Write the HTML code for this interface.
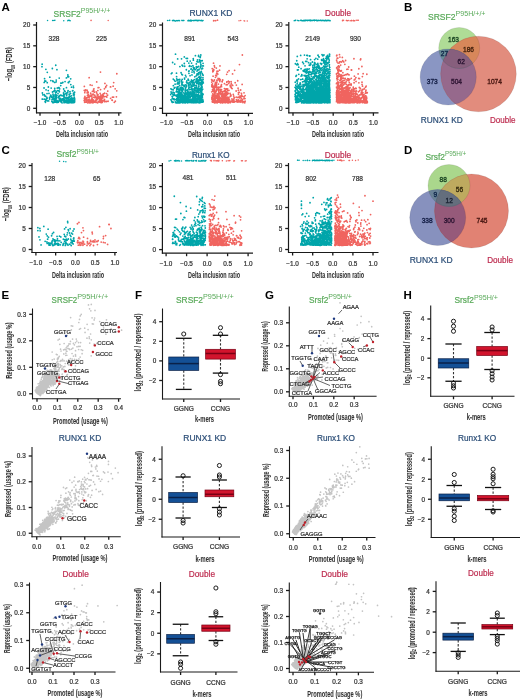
<!DOCTYPE html>
<html><head><meta charset="utf-8"><style>html,body{margin:0;padding:0;background:#fff;}svg{display:block;will-change:transform;}</style></head><body>
<svg width="520" height="699" viewBox="0 0 520 699" font-family="&quot;Liberation Sans&quot;, sans-serif">
<rect width="520" height="699" fill="#fff"/>
<text x="1.5" y="10.5" font-size="11.5" font-weight="bold" fill="#000">A</text>
<text x="53.5" y="16.84" font-size="9" fill="#5aaa5a" stroke="#5aaa5a" stroke-width="0.22"><tspan textLength="27.3" lengthAdjust="spacingAndGlyphs">SRSF2</tspan><tspan font-size="6.8" dy="-3.9" stroke-width="0" textLength="29.5" lengthAdjust="spacingAndGlyphs">P95H/+/+</tspan></text>
<text x="189.4" y="16.44" font-size="9" fill="#2d4f78" stroke="#2d4f78" stroke-width="0.22"><tspan textLength="43" lengthAdjust="spacingAndGlyphs">RUNX1 KD</tspan><tspan font-size="6" dy="-3.9" stroke-width="0"></tspan></text>
<text x="325" y="16.3" font-size="9" fill="#be2d50" textLength="26" lengthAdjust="spacingAndGlyphs" stroke="#be2d50" stroke-width="0.22" >Double</text>
<path d="M71.52 95.87h0M63.48 99.85h0M64.08 102.63h0M73.21 102.25h0M57.41 102h0M61.57 83.22h0M66.39 77.96h0M56.75 100.61h0M72.21 100.43h0M52.51 92h0M66.9 97.6h0M73.43 101.35h0M65.74 100.37h0M65.21 100.51h0M60.08 101.02h0M63.7 89.02h0M68.66 76.76h0M65.94 93.45h0M64.46 102.62h0M58.71 97.21h0M51.17 88.04h0M62.56 98.83h0M42.81 94.86h0M73.41 94.83h0M53.93 91.39h0M66.62 95.52h0M65.03 101.66h0M73.44 93.14h0M69.5 99.58h0M53.34 95.43h0M56.23 91.48h0M51.55 96.18h0M56.21 81.8h0M70.99 101.13h0M64.55 96.96h0M74.59 99.27h0M62.85 82.5h0M63.91 96.48h0M73.54 87.57h0M56.41 92.23h0M66.34 102.16h0M73.37 102.42h0M71.28 100.12h0M74.67 101.79h0M67.08 102.71h0M47.52 100.88h0M67.42 99.87h0M56.94 69.72h0M64.57 102.29h0M67.52 100.84h0M52.69 102.59h0M48.63 100.9h0M74.11 97.88h0M44.03 88h0M67.01 101.67h0M63.55 92.82h0M70.01 91.77h0M44.18 82.39h0M45.8 99.67h0M67.25 102.69h0M68.84 100.89h0M54.7 98.94h0M42.15 64.14h0M70.07 101.17h0M70.4 96.37h0M44.36 94.73h0M57.97 102.3h0M55.67 92.73h0M64.69 101.58h0M67.73 92.13h0M50.25 96.47h0M46.01 100.56h0M71.52 87.21h0M52.82 81h0M46.94 97.5h0M71.94 102.79h0M47.04 93.54h0M49.8 77.22h0M52.23 99.26h0M69.65 97h0M65.92 101.95h0M50.73 95.23h0M55.79 99.25h0M48.97 93.4h0M74.28 99.02h0M74.59 92.19h0M64.78 94.28h0M67.86 98.02h0M58.29 102.14h0M69.48 100.72h0M64.07 97.39h0M55.62 98.98h0M64.12 98.1h0M65.23 97.81h0M55.01 94.88h0M42.85 99.13h0M54.97 90.67h0M72.13 99h0M69.65 102.38h0M58.3 87.74h0M59.72 95.69h0M56.24 80.04h0M54.78 99.5h0M54 90.98h0M65.66 98.06h0M70.58 100.33h0M74.27 97.5h0M74.29 100.2h0M63.97 102.44h0M45.11 101.5h0M73.85 92.83h0M71.97 99.23h0M44.67 99.15h0M55.48 97.25h0M72.8 102.49h0M65.79 102.38h0M47.25 82.67h0M56.79 102.43h0M49.56 97.71h0M55.32 100.81h0M63.67 101.07h0M71.3 102.54h0M68.16 100.46h0M68.62 98.27h0M67.43 102.76h0M74.35 94.08h0M70.72 98.59h0M53.15 81.53h0M64.34 90.89h0M64.09 95.13h0M50.85 80.58h0M61.39 99.43h0M73.54 101.96h0M59.2 100.92h0M72.91 90.62h0M46.76 98.75h0M68.55 98.79h0M65.36 100.85h0M42.39 92.99h0M54.51 100.42h0M74.65 99.68h0M64.17 101.39h0M74.57 100.84h0M66.33 102.6h0M68.32 101.12h0M63.62 93.63h0M59.72 88.81h0M67.86 75.02h0M59.55 96.02h0M57.23 88.06h0M59.35 91.74h0M63.73 98.21h0M44.88 81.01h0M56.03 95.23h0M69.87 102.67h0M67.14 102.15h0M48.25 90.54h0M60.46 98.41h0M58.01 93.69h0M63.5 95.71h0M59.29 100.95h0M69.13 94.18h0M59.22 78.1h0M66.68 98.54h0M58.66 96.49h0M73.05 101.82h0M59.15 100.47h0M74.41 102.47h0M60.64 95.03h0M68.6 98.04h0M64.93 102.04h0M52.34 68.49h0M65.09 91.46h0M49.61 98.98h0M54.93 101.31h0M71.71 97.94h0M52.94 81.44h0M56.15 94.79h0M55.93 98.45h0M74.6 98.38h0M68.37 101.87h0M68.07 90.66h0M59 90.71h0M55.33 94.57h0M51.43 97.07h0M53.82 96.96h0M65.73 100.74h0M72.55 90.89h0M55.14 100.97h0M64 101.48h0M54.71 88.51h0M47.3 72.31h0M48.37 87h0M59.38 98.89h0M61.21 100.64h0M55.32 101.98h0M67.5 100.53h0M54.28 100.88h0M68.39 97.45h0M71.18 101.71h0M55.75 98.31h0M55.75 65.25h0M71.76 101.46h0M67.53 102.25h0M69.28 97.27h0M45.66 96.23h0M63.73 99.73h0M73.38 100.72h0M52.99 94.14h0M56.65 101.26h0M69.48 99.48h0M54.75 90.3h0M53.71 102.48h0M55.97 98.61h0M74.67 99.57h0M44.58 78.72h0M51.86 101.44h0M63.76 95.25h0M46.05 89.86h0M65.12 97.54h0M58.34 101.12h0M47.1 98.36h0M69.41 96.15h0M72.33 102.4h0M62.5 99.61h0M62.12 102.82h0M65.05 81.61h0M56.22 98.59h0M69.51 81.33h0M68.25 102.74h0M60.59 99.26h0M60.74 85.61h0M73.96 100.14h0M60.42 101.41h0M59.24 98.2h0M54.42 100.4h0M52.03 99.76h0M68.51 82.66h0M70.76 101.2h0M60.78 83.09h0M66.46 101.29h0M52.86 102.22h0M66.46 87.66h0M45.9 69.37h0M70.8 84.58h0M74.01 95.61h0M66.86 100.2h0M74.61 100.7h0M54.72 102.01h0M52.26 97.37h0M44.63 95.81h0M64.79 99.78h0M52.4 97.23h0M53.66 96.28h0M45.42 102.37h0M73.37 86.05h0M59.07 87.64h0M68.99 81.81h0M69.2 94.48h0M68.92 102.86h0M55.53 96.19h0M53.7 99.56h0M54.69 82.38h0M69.43 99.14h0M55.29 101.54h0M45.82 81.27h0M61.99 100.24h0M67.12 92.73h0M70.55 93.57h0M73.32 102.66h0M67.87 76.73h0M42.16 99.04h0M72.66 98.29h0M65.34 101.11h0M61.72 95.41h0M56.99 95.61h0M57.11 100.57h0M66.88 93.96h0M69.51 101.01h0M56.21 97.13h0M66.4 70.32h0M69.84 91.87h0M53.98 102.17h0M57.57 90.65h0M53.61 98.54h0M70.71 78.82h0M55.25 99.78h0M49.61 99.12h0M54.92 102.14h0M61.73 101.25h0M71.72 101.37h0M62.15 95.86h0M74.43 100.24h0M70.81 100.39h0M58.06 97.59h0M72.55 99.53h0M61.32 102.25h0M60.15 99.37h0M68.25 82.48h0M62.84 99.94h0" stroke="#00a5aa" stroke-width="1.8" stroke-linecap="round" fill="none"/>
<path d="M100.47 72.08h0M87.86 95.84h0M84.24 90.33h0M99.64 100.06h0M108.08 101.26h0M94.56 97.34h0M103.63 93.97h0M93.67 102.03h0M93.98 88.82h0M93.4 94.04h0M104.71 101.64h0M116.39 96.85h0M101.64 100.23h0M110.45 86.94h0M98.99 101.53h0M100.13 93.32h0M88.25 100.12h0M91.38 102.17h0M97.84 90.56h0M94.76 95.22h0M99.98 102.21h0M94.53 97.55h0M92.07 98.15h0M96.59 99.68h0M84.57 97.66h0M88.58 95.08h0M92.8 101.81h0M86.15 102.14h0M85.86 99.73h0M84.9 97.41h0M98 94.75h0M85.15 99.09h0M102.11 102.09h0M116.76 90.82h0M104.67 96.68h0M115.34 101.23h0M101.73 102.52h0M98.43 101.95h0M105.61 87.39h0M93.63 89.22h0M89.1 99.07h0M84.82 101.8h0M101.84 96.72h0M104.4 88.81h0M94.16 97.41h0M100.64 98.5h0M100.82 102.29h0M110.6 98.29h0M89.14 77.67h0M90.94 95.05h0M87.47 95.52h0M99.63 101.3h0M102.74 98.11h0M90.04 102.88h0M86.95 97.7h0M93.82 90.65h0M88.43 97.15h0M84.18 100.51h0M90.88 101.51h0M95.27 101.65h0M93.11 102.1h0M105.24 101.4h0M96.2 91.78h0M91.73 101.22h0M96.33 98.41h0M96.34 99.71h0M112.26 100.27h0M103.28 95.94h0M88.62 102.56h0M84.36 98.55h0M104.13 100.85h0M93.72 97.33h0M104.47 99.49h0M85.05 90.97h0M97.66 102.85h0M112.45 97.15h0M92.69 101.5h0M88.52 102.67h0M98.31 96.45h0M111.9 100.05h0M92.37 94.48h0M89.15 97.32h0M104.93 83.45h0M89.05 101.43h0M101.99 95.46h0M100.77 100.73h0M101.29 97.49h0M96.71 81.96h0M100.01 96.41h0M107.74 91.07h0M89.95 101.6h0M85.6 89.8h0M84.64 102.27h0M106.5 101.48h0M84.92 96.5h0M97.31 95.66h0M95.3 100.44h0M113.69 82.55h0M100.54 89.58h0M103.8 100.78h0M84.78 92.7h0M110.67 86.91h0M89.56 102.32h0M98.45 101.64h0M92.14 102.77h0M89.47 96.07h0M90.2 84.89h0M100.23 97.67h0M91.94 99.78h0M90.69 96.28h0M88.22 92.15h0M99.63 101.87h0M87.95 95.11h0M103.05 96.7h0M99.2 101.78h0M90.69 93.23h0M101.98 101.08h0M97.36 99.15h0M96.17 102.43h0M97.31 94.51h0M90.85 100.11h0M100.97 102.4h0M103.16 100.77h0M101.17 99.12h0M100.85 101.45h0M94.18 95.28h0M96.35 100.57h0M87.07 92.86h0M98.16 101.88h0M98.76 98.2h0M92.87 91.17h0M87.75 100.94h0M100.08 101.98h0M88.81 100.74h0M87.17 100.73h0M102.57 95.82h0M102.33 102.31h0M102.73 94.31h0M92.35 101.7h0M86.15 101.63h0M84.77 100.13h0M97.24 99.13h0M92.89 102.06h0M91.78 95.57h0M107.64 95.07h0M92.09 101.48h0M100.77 94.83h0M100.25 96.72h0M92.71 100.85h0M85.98 99.94h0M97.62 97.51h0M92.14 99.6h0M91.87 96.8h0M104.56 93.15h0M91.48 99.24h0M103.24 95.7h0M98.91 87.6h0M86.04 98.26h0M97.69 99h0M99.81 98.89h0M102.06 101.61h0M91.55 95.1h0M102.75 100.51h0M89.32 100.12h0M92.04 99.93h0M90.79 101.22h0M98.15 87.66h0M88.27 94.13h0M88.14 102.14h0M99.44 97.44h0M94.76 101.5h0M106.6 93.55h0M113.63 97.1h0M94.5 102.16h0M106.62 85.46h0M91.24 101.3h0M87.64 102.87h0M89.45 101.36h0M93.2 99.86h0M96.6 100.45h0M114.28 102.35h0M115.17 88.84h0M99.85 97.46h0M84.35 86.47h0M88.86 102.31h0M88.55 94.78h0M87.02 90.19h0M87.3 90.88h0M98.9 96.91h0M113.16 86.16h0M97.23 98.79h0M92.42 91.28h0M89.13 101.44h0M93.45 102.56h0M86.86 99.23h0M94.33 92.13h0M100.03 99.47h0M96.71 92.94h0M92.05 85.37h0M96.18 97.41h0M95.66 96.67h0M106.31 96.34h0M101.1 102.7h0M95.95 100.65h0M106.78 96.99h0M98.7 101.6h0M92.12 98.51h0M105.83 86.77h0M93.65 101.17h0M102.57 97.13h0" stroke="#f0645f" stroke-width="1.8" stroke-linecap="round" fill="none"/>
<path d="M41.97 66.65h0" stroke="#00a5aa" stroke-width="1.8" stroke-linecap="round" fill="none"/>
<path d="M116.83 73.73h0" stroke="#f0645f" stroke-width="1.8" stroke-linecap="round" fill="none"/>
<path d="M47.58 20.4h0" stroke="#00a5aa" stroke-width="1.5" stroke-linecap="round" fill="none"/>
<path d="M52.59 20.38h0M53.93 20.58h0M54.92 20.22h0" stroke="#00a5aa" stroke-width="1.5" stroke-linecap="round" fill="none"/>
<path d="M63.72 20.73h0" stroke="#00a5aa" stroke-width="1.5" stroke-linecap="round" fill="none"/>
<path d="M69.18 20.23h0M68.2 20.2h0M67.76 20.75h0M69.43 20.59h0M70.16 20.75h0" stroke="#00a5aa" stroke-width="1.5" stroke-linecap="round" fill="none"/>
<path d="M91.06 20.57h0M91.13 20.62h0M90.98 20.61h0" stroke="#f0645f" stroke-width="1.5" stroke-linecap="round" fill="none"/>
<path d="M108.21 20.6h0" stroke="#f0645f" stroke-width="1.5" stroke-linecap="round" fill="none"/>
<line x1="36.5" y1="22" x2="36.5" y2="113.3" stroke="#1a1a1a" stroke-width="1.2" />
<line x1="36" y1="112.8" x2="121.5" y2="112.8" stroke="#1a1a1a" stroke-width="1.2" />
<line x1="33.2" y1="108.3" x2="36.5" y2="108.3" stroke="#1a1a1a" stroke-width="1.3" />
<text x="30.2" y="110.6" font-size="6.4" fill="#333" text-anchor="end" stroke="#333" stroke-width="0.22" >0</text>
<line x1="33.2" y1="87.47" x2="36.5" y2="87.47" stroke="#1a1a1a" stroke-width="1.3" />
<text x="30.2" y="89.78" font-size="6.4" fill="#333" text-anchor="end" stroke="#333" stroke-width="0.22" >5</text>
<line x1="33.2" y1="66.65" x2="36.5" y2="66.65" stroke="#1a1a1a" stroke-width="1.3" />
<text x="30.2" y="68.95" font-size="6.4" fill="#333" text-anchor="end" stroke="#333" stroke-width="0.22" >10</text>
<line x1="33.2" y1="45.82" x2="36.5" y2="45.82" stroke="#1a1a1a" stroke-width="1.3" />
<text x="30.2" y="48.13" font-size="6.4" fill="#333" text-anchor="end" stroke="#333" stroke-width="0.22" >15</text>
<line x1="33.2" y1="25" x2="36.5" y2="25" stroke="#1a1a1a" stroke-width="1.3" />
<text x="30.2" y="27.3" font-size="6.4" fill="#333" text-anchor="end" stroke="#333" stroke-width="0.22" >20</text>
<line x1="40" y1="112.8" x2="40" y2="115.8" stroke="#1a1a1a" stroke-width="1.3" />
<text x="40" y="124.8" font-size="6.4" fill="#333" text-anchor="middle" stroke="#333" stroke-width="0.22" >−1.0</text>
<line x1="59.7" y1="112.8" x2="59.7" y2="115.8" stroke="#1a1a1a" stroke-width="1.3" />
<text x="59.7" y="124.8" font-size="6.4" fill="#333" text-anchor="middle" stroke="#333" stroke-width="0.22" >−0.5</text>
<line x1="79.4" y1="112.8" x2="79.4" y2="115.8" stroke="#1a1a1a" stroke-width="1.3" />
<text x="79.4" y="124.8" font-size="6.4" fill="#333" text-anchor="middle" stroke="#333" stroke-width="0.22" >0.0</text>
<line x1="99.1" y1="112.8" x2="99.1" y2="115.8" stroke="#1a1a1a" stroke-width="1.3" />
<text x="99.1" y="124.8" font-size="6.4" fill="#333" text-anchor="middle" stroke="#333" stroke-width="0.22" >0.5</text>
<line x1="118.8" y1="112.8" x2="118.8" y2="115.8" stroke="#1a1a1a" stroke-width="1.3" />
<text x="118.8" y="124.8" font-size="6.4" fill="#333" text-anchor="middle" stroke="#333" stroke-width="0.22" >1.0</text>
<text x="82" y="137.37" font-size="8.8" fill="#333" text-anchor="middle" font-weight="bold" textLength="52" lengthAdjust="spacingAndGlyphs" stroke="#333" stroke-width="0.05" >Delta inclusion ratio</text>
<text x="54" y="41.13" font-size="6.6" fill="#333" text-anchor="middle" stroke="#333" stroke-width="0.22" >328</text>
<text x="101.4" y="41.13" font-size="6.6" fill="#333" text-anchor="middle" stroke="#333" stroke-width="0.22" >225</text>
<path d="M183.07 101.84h0M202.41 74.05h0M185.93 98.07h0M182.44 94.91h0M195.35 94.93h0M191.92 89.82h0M201.94 86.97h0M200.23 73.46h0M178.92 97.42h0M193.08 90.97h0M177.26 96.97h0M200.68 84.24h0M199.36 102.62h0M185.18 101.55h0M176.49 73.19h0M202.93 77.76h0M183.85 100.82h0M182.77 90.73h0M183.95 102.01h0M184.5 96.66h0M196.63 83.58h0M203.01 82.02h0M201.28 96h0M198.98 69.72h0M201.81 94.23h0M191.71 88.62h0M182.15 98.55h0M186.62 97.11h0M182.45 74.87h0M188.29 99h0M177.44 91.74h0M194.55 89.79h0M171.91 89.49h0M191.98 74.95h0M185.15 93.44h0M181.88 99.7h0M196.39 94.58h0M181.65 82.06h0M181.19 87.07h0M188.16 99.31h0M181.89 91.84h0M194.16 101.65h0M182.15 100.73h0M178.57 100.43h0M185.34 96.43h0M196.61 81.65h0M191.15 101.75h0M182.82 100.31h0M179.5 82.81h0M190.7 92.05h0M198.27 99.63h0M193.73 91.56h0M189.62 100.99h0M176.83 98.59h0M186.54 86.4h0M187.48 98.25h0M202.85 102.21h0M171.65 93.17h0M196.43 79.99h0M178.18 89.48h0M177.72 100.2h0M198.04 99.66h0M202.04 87.35h0M191.19 66.44h0M201.69 85.76h0M200.2 97.63h0M186.33 69.73h0M192.92 95.03h0M177.66 58.9h0M202.37 97.17h0M179.34 81.11h0M202.15 73.33h0M186.17 58.34h0M199.54 78.69h0M185.36 99.23h0M183.2 101.79h0M196.55 100.87h0M198.91 98.32h0M185.34 102.75h0M198.2 102.29h0M197.52 59.83h0M179.72 101.49h0M200.82 54.99h0M186.65 96.45h0M181.47 96.71h0M199.6 98.56h0M184.38 94.77h0M180.2 99.99h0M199.25 97.51h0M194.49 100.31h0M194.92 69.55h0M177.32 102.35h0M185.59 100.43h0M195.77 98.48h0M193.69 67.63h0M195.69 69.55h0M184.04 99.42h0M176.72 78.9h0M199.67 102.85h0M189.37 100.5h0M179.1 100.61h0M199.72 99.44h0M184.44 100.68h0M201.07 85.7h0M196.1 99.43h0M184.54 86.02h0M198.01 101.79h0M192.52 86.24h0M181.8 98.98h0M180.36 96.52h0M179.14 96.9h0M196.3 99.78h0M193.62 100.46h0M187.55 102.83h0M191.52 93.79h0M184.36 85.83h0M194.85 85.21h0M183.38 102.26h0M177.97 96.61h0M189.26 93.96h0M177.62 100.56h0M200.66 97.69h0M202.6 100.91h0M198.2 102.59h0M188.04 94.64h0M200.66 66.2h0M202.2 100.37h0M190.05 98.98h0M192.59 100.96h0M180.45 101.39h0M183.5 101.11h0M178.41 98.35h0M181.02 95.84h0M178.31 89.08h0M196.99 96.56h0M177.25 87.93h0M181.68 84.94h0M189.61 65.76h0M196.76 94.46h0M193.69 92.59h0M191.86 93.96h0M199.68 76.95h0M186.52 85.25h0M179.82 102.56h0M196.32 85.76h0M188.95 73.28h0M196.72 91.62h0M178.06 99.77h0M186.14 101.53h0M177.92 96.26h0M190.97 93.5h0M200.1 100.41h0M192.57 98.45h0M201.06 88.41h0M187.14 93.74h0M198.04 82.84h0M188.8 92.06h0M195.13 98.89h0M189.74 97.2h0M203.08 94.23h0M197.04 90.25h0M195.81 97.71h0M199.17 101.71h0M191.67 102.08h0M191.68 86.12h0M197.4 81.73h0M194.42 96.8h0M186.98 82.43h0M189.6 87.15h0M183.15 96.57h0M184.52 78.03h0M180.19 102.85h0M187.79 95.27h0M173.78 95h0M180.14 94.15h0M191.35 95.26h0M195.59 95.62h0M193.15 97.71h0M180.76 96.37h0M198.49 96.91h0M188.06 93.18h0M178.88 99.27h0M181.06 72.75h0M192.04 72.03h0M202.14 86.96h0M178.87 89.18h0M176.79 96.21h0M185.14 97.83h0M187.55 98.14h0M173.05 92.03h0M193.42 95.99h0M188.1 79.24h0M174.34 94.43h0M176.85 99.03h0M181.66 101.1h0M177.32 86.85h0M200.45 62.71h0M181.53 58.82h0M192.18 100.7h0M189.77 94.6h0M198.54 86.46h0M193.99 88.96h0M192.44 82.79h0M184.99 102.85h0M180.96 94.56h0M198.16 91.68h0M196.31 87.18h0M176.83 95.06h0M200.16 99.88h0M200.56 100.99h0M189.48 82.67h0M181.9 102.27h0M182.86 99.09h0M193.97 100.33h0M200.75 60.54h0M194.1 94.62h0M201.94 60.88h0M177.83 97.57h0M196.76 102.19h0M180.62 99.33h0M181.66 99.43h0M177.82 96.6h0M175.77 95.68h0M197.5 97.03h0M190.49 83.86h0M198.78 95.49h0M177.51 99.74h0M200.34 89.32h0M192.65 102h0M181.39 98.78h0M198.3 97.43h0M202.47 81.71h0M199.25 82.08h0M196.21 75.81h0M191.59 80.14h0M199.16 95.51h0M193.36 60.17h0M178.06 96.43h0M191.34 101.14h0M196.45 68.01h0M193.59 99.05h0M197.74 69.98h0M189.73 93.68h0M182.83 98.16h0M188.27 98.71h0M201.11 99.31h0M194.84 87.42h0M188.42 97.83h0M195.49 101.89h0M197.37 100.76h0M195.87 95.23h0M182.75 82.05h0M199.88 97.24h0M185.29 91.67h0M192.4 88.94h0M196.78 74.05h0M186.64 100.74h0M179.08 90.64h0M202.32 102.1h0M198.12 97.02h0M202.35 95.69h0M198.61 72.59h0M184.3 99.93h0M185.16 98.48h0M181.17 88.7h0M202.26 65.86h0M202.14 97.52h0M182.31 100.61h0M183.43 102h0M192.91 84.71h0M195.91 101.49h0M174.73 64.08h0M183.72 85.32h0M191.33 102.19h0M191.98 93.74h0M200 77.73h0M184.67 86.28h0M188.84 63.04h0M188.9 99.6h0M193.86 95.62h0M195.12 100.77h0M185.54 100.07h0M189.67 95.97h0M194.03 97.98h0M199.62 88.59h0M181.67 95.31h0M198.89 84.49h0M191.11 84.93h0M200.35 96.81h0M197.9 101.88h0M198.15 83.23h0M200.39 95.9h0M193.73 100.38h0M203.11 75.23h0M184.29 63.49h0M200.5 90.87h0M198.34 90.06h0M178.89 93.34h0M178.48 93.15h0M196.84 100.58h0M182.76 85.09h0M198.45 86.16h0M178.7 101.18h0M181.27 90.03h0M198.48 74.14h0M193.58 92.03h0M181.24 100.29h0M188.29 91.78h0M184.6 79.05h0M174.29 92.79h0M195.42 90.22h0M185.07 101.06h0M177.55 102.02h0M191.69 100.21h0M203.33 65.95h0M182.43 97.53h0M185.77 95.35h0M194.37 94.82h0M181.39 80.63h0M195.52 94.33h0M194.12 99.88h0M194.77 94.13h0M171.32 73.65h0M170.9 88.79h0M201.8 81.58h0M195.48 90.53h0M174.38 87.69h0M194.25 72.8h0M198.37 84.27h0M201.13 83.05h0M187.92 96.91h0M188.35 97.21h0M198.59 66.36h0M200.41 67.55h0M200.87 89.14h0M190.36 93.17h0M188.14 101.55h0M187.72 101.96h0M201.44 92.12h0M188.73 88.61h0M200.35 80.15h0M181.27 98.17h0M177.82 95.28h0M199.75 76.91h0M197.09 95.64h0M187.56 100.26h0M184.55 97.28h0M186.85 80.79h0M178.95 83.98h0M183.53 98.76h0M185.26 84.92h0M193.46 84.86h0M172.72 102.24h0M200.74 88.5h0M200.39 56.66h0M196.61 99.61h0M181.06 94.66h0M202.84 100.58h0M198.46 89.58h0M185.09 97.98h0M180.07 95.67h0M181.86 74.46h0M194.28 100.61h0M180.13 87.83h0M198.54 74.72h0M192.94 94.35h0M180.88 98.17h0M187.12 102.03h0M197.64 67.17h0M202.24 99.31h0M190.93 92.32h0M193.97 102.8h0M194.5 102.59h0M177.11 102.46h0M185.52 99.59h0M190.07 99.27h0M189.32 66.36h0M176.67 90.9h0M180.15 88.98h0M186.49 98.09h0M182.2 83.04h0M185.24 99.16h0M183.69 95.84h0M194.06 91.84h0M201.79 95.12h0M177.06 96.87h0M196.91 98.75h0M199.79 102.76h0M191.32 95.54h0M195.34 100.2h0M195.37 97.53h0M188.71 71.35h0M178.85 94.8h0M198.64 88.48h0M175.14 81.18h0M180.26 102.23h0M179.44 99.89h0M202.79 99.35h0M184.63 100.39h0M198.06 87.93h0M186.13 100.58h0M177.73 94.45h0M181.83 82.96h0M199.76 99.27h0M180.07 93.35h0M197.74 96.56h0M186.11 97.42h0M194.4 102.06h0M202.19 84h0M190.23 91.98h0M191.05 102.72h0M188.37 102.24h0M184.1 98.89h0M199.24 100.27h0M201.01 72.15h0M189.04 92.67h0M185.88 93.27h0M183.65 99.93h0M183.06 88.26h0M182.81 66.01h0M195.98 91.85h0M176.31 102.75h0M185.93 87.31h0M177.03 100.51h0M201 102.37h0M201.8 89.73h0M198.55 56.47h0M199.42 99.54h0M178.84 101.25h0M182.66 100.19h0M174.26 88.15h0M182.07 96.97h0M179.32 101.83h0M201.66 83.43h0M180.37 102.31h0M192.48 70.21h0M173.4 99.19h0M196.41 94.27h0M197.98 79.9h0M195.45 99.33h0M199.22 69.12h0M196.28 81.91h0M195.87 96.92h0M179.66 101.25h0M187.47 96.28h0M179.87 100.69h0M193.8 82.21h0M198.54 69.94h0M175.48 102.53h0M177.43 102.8h0M199.38 80.12h0M198.9 83.64h0M194.35 67.89h0M179.9 66.6h0M197.15 78.37h0M202.39 89.29h0M191.93 101.48h0M177 99.4h0M200.19 91.08h0M191.98 100.37h0M199.46 79.91h0M200.41 95.11h0M178.92 98.91h0M177.62 83.19h0M196.13 99.96h0M201.56 102.06h0M192.52 92.3h0M203.12 79.67h0M188.9 93.77h0M177.22 83.89h0M192.76 97.85h0M177.47 98.4h0M192.47 100.88h0M176.74 89.24h0M196.61 88.47h0M196.98 99.46h0M180.93 88.43h0M202.08 80.26h0M186.18 94.49h0M177.51 102.88h0M180.65 96.18h0M176.89 100.44h0M183.59 98.18h0M192.91 93.02h0M185.35 98.88h0M188.93 99.99h0M196.34 66.72h0M184.17 95.49h0M197.5 100.46h0M189.31 94.27h0M181.72 100.28h0M181.5 97.02h0M181.35 81.58h0M202.25 93.65h0M181.61 101.63h0M196.7 101.22h0M181.99 95.82h0M201.05 93.67h0M172.92 94.19h0M182.13 89.22h0M185.27 98.18h0M197.07 95.68h0M193.24 102.65h0M188.19 102.22h0M184.26 99.66h0M196.96 75.07h0M186.45 82.09h0M192.12 82.73h0M193.5 102.28h0M193.61 85.97h0M192.53 89.29h0M194.01 96.18h0M178.75 100.92h0M172.8 96.1h0M194.62 101.85h0M193.29 92.89h0M179.38 89.77h0M187.6 96.06h0M181.03 97.82h0M179.67 97.5h0M189.76 82.37h0M183.67 97.8h0M185.28 94.58h0M182.88 101.66h0M201.34 71.37h0M201.05 77.27h0M201.93 81.2h0M190.53 102.2h0M192.26 91.58h0M172.02 72.93h0M194.49 92.64h0M177.05 99.94h0M195.06 98.66h0M188.59 94.78h0M202.04 95.96h0M182.03 84.25h0M198.02 102.02h0M193.44 94.48h0M187.84 97.85h0M198.06 62.11h0M202.04 95.69h0M192.5 92.06h0M196.11 79.09h0M184.46 86.53h0M191.28 68.93h0M180 102.33h0M186.36 102.35h0M201.48 85.98h0M178.82 95.29h0M190.12 89.52h0M195.54 99.42h0M199.52 59.93h0M200.71 101.08h0M178.06 97.96h0M196.54 66.91h0M199.27 101.89h0M202.29 68.05h0M197.2 89.24h0M188.46 101h0M194.75 76.78h0M182.1 65.26h0M202.52 93.59h0M197.45 90.42h0M191.02 86.84h0M185.31 101.63h0M200.15 57.59h0M171.08 91.99h0M194.13 83.68h0M178.62 101.99h0M180.37 94.36h0M201.04 100.13h0M179.6 85.54h0M178.76 102.58h0M177.62 99.01h0M173.19 102.14h0M191.42 99.33h0M198.63 77.19h0M201.55 87.58h0M188.7 85.24h0M191.1 102.46h0M200.81 84.02h0M188 98.05h0M185.73 101.02h0M178.31 99.18h0M180.12 96.77h0M200.89 64.46h0M190.18 93.71h0M190.93 100.69h0M189.89 97.47h0M192.64 99.91h0M197.01 71.05h0M179.67 102.74h0M174.33 80.06h0M185.04 100.22h0M199.31 97.66h0M192.92 93.24h0M179.67 102.07h0M197.17 88.76h0M184.46 102.24h0M187.43 58.38h0M186.92 90.21h0M194.28 79.72h0M178.86 102.79h0M174.81 95.27h0M196.88 82.46h0M199.37 95.67h0M198.12 98.86h0M177.39 88.51h0M190.15 84.84h0M183.37 92.93h0M186.74 82.87h0M200.94 79.86h0M199.08 84.03h0M199.8 72.23h0M179.29 90.23h0M182.02 94.32h0M181.41 88.31h0M195.43 55.65h0M178.19 101.75h0M172.24 98.65h0M197.21 99.43h0M197.09 92.32h0M185.14 90.18h0M182.51 87.61h0M178.3 86.81h0M201.08 83.52h0M194.35 90.27h0M182.27 102.84h0M202.96 100.56h0M192.24 90.93h0M194.46 99.52h0M180.89 93.78h0M201.06 97.1h0M191.62 89.27h0M200.18 82.59h0M181.47 100.95h0M177.88 98.75h0M179.69 94.13h0M192.89 93.75h0M174.21 99.82h0M199.08 90.24h0M198.73 92.8h0M196.72 96.23h0M188.67 80.36h0M193.36 67.42h0M185.64 102.07h0M191.56 63.11h0M185.78 92.47h0M189.48 89.71h0M190.13 97.49h0M176.6 76.64h0M188.54 96.17h0M179.65 90.76h0M202.46 95.25h0M178 82.49h0M187.74 93.4h0M192.95 84.69h0M195.91 81.54h0M188.89 96.64h0M173.25 79.06h0M193.26 58.76h0M184.99 99.57h0M188.07 83.4h0M194.15 100.8h0M180.02 101.24h0M198.85 96.63h0M195.47 95.84h0M170.9 99.86h0M178.25 100.86h0M191.72 101.44h0M192.9 96.46h0M175.65 99.56h0M191.4 80.23h0M182.65 99.22h0M183.22 96.65h0M185.53 88.42h0M193.73 68.89h0M195.71 88.23h0M182.84 102.47h0M188.3 97.98h0M196.32 98.68h0M188.78 86.9h0M192.4 81.52h0M195.22 87.94h0M173.35 85.72h0M192.89 65.69h0M194.29 95.94h0M194.08 100.05h0M189.23 94.36h0M179.37 101.56h0M201.64 92.89h0M180.7 92.52h0M192.64 91.74h0M180.89 88.24h0M199.37 83.86h0M190.06 75.67h0M183.6 85.87h0M179.98 101.57h0M184.64 93.29h0M201.61 85.57h0M196.12 99.3h0M200.9 82.38h0M172.13 96.39h0M201.48 68.91h0M203.31 82.96h0M196.07 101.98h0M188.61 84.21h0M181.35 101.77h0M186.63 98.45h0M188.25 100.13h0M197.83 73.54h0M189.09 102.53h0M202.64 89.16h0M201.72 84.18h0M187.81 97.23h0M187.71 100.06h0M176.86 87.94h0M175.3 101.81h0M199.84 92.35h0M184.52 96.76h0M198.34 94.44h0M198.22 81.17h0M191.71 100.1h0M198.16 97.87h0M184.71 66.24h0M178.13 79.67h0M184.22 102.24h0M203.05 63.3h0M186.61 99.62h0M199.04 86.03h0M175.43 102.23h0M193.93 71.4h0M191.27 101.55h0M199.3 77.29h0M177 80.64h0M190.71 81.87h0M200.5 88.05h0M197.82 98.23h0M179.18 91.42h0M170.76 94.52h0M193.16 80.61h0M199.83 102.66h0M187.8 97.62h0M181.27 88.27h0M202.25 60.61h0M201.51 95.6h0M179.81 96.72h0M197.92 98.39h0M193.2 101.42h0M200.04 98.97h0M187.8 91.71h0M191.68 102h0M201.97 90.79h0M185.47 89.95h0M186.09 90.5h0M199.62 61.51h0M201.73 97.75h0M175.85 95.62h0M181.45 93.34h0M202.38 100.98h0M172.13 102.32h0M196.99 61.5h0M185.49 75.32h0M178.9 100.07h0M202.91 74.92h0M177.47 91.53h0M181.89 101.18h0M200.58 75.12h0M178.98 102.86h0M188.59 83.37h0M186.88 93.18h0M201.33 101.85h0M195.65 95.46h0M183.55 102.64h0M181.77 97.03h0M186.08 100.45h0M200.46 88.77h0M200.89 79.06h0M180.79 101.88h0M195.33 82.03h0M187.24 61.13h0M203.21 101.33h0M184.95 93.57h0M191.26 96.39h0M186.12 76.78h0M182.17 79.41h0M184.3 102.57h0M180.75 97.58h0M198.61 55.52h0M184.57 99.94h0M194.11 97.46h0M191.6 89.54h0M183.08 85.15h0M172.5 98.21h0M192.41 102.61h0M179.78 79.28h0M182.87 88.35h0M182.22 95.58h0M181.4 99.31h0M193.62 92.43h0M176.18 91.85h0M189.05 70.9h0M179.05 92.06h0M176.48 99.41h0M179.24 102.76h0M184.32 56.89h0M191.73 88.21h0M183.52 89.08h0M196.55 102.46h0M197.82 98.07h0M173.28 89.85h0M187.47 89.9h0M201.7 101.58h0M193.77 100.79h0M190.24 61.05h0M196.11 80.93h0M200.73 96.36h0M185.02 96.87h0M200.87 95.27h0M202.58 68.48h0M180.61 87.63h0M196 102.74h0M179.28 101.29h0M187.76 90.94h0M199.57 101.13h0M174.98 87.49h0M197.45 101.83h0M180.68 101.58h0M175.1 84.19h0M182.4 100.09h0M189.46 101.51h0M182.19 99.65h0M183.02 100.41h0M197.56 95.19h0M186.31 96.13h0M202.05 82.1h0M197.14 102.42h0M200.31 91.94h0M200.9 100.61h0M198.77 98.51h0M200.25 101.64h0M190.9 69.07h0M201.49 98.2h0M188.4 79.89h0M171.71 101.19h0M174.09 98.89h0M180.36 100.65h0M196.33 63.96h0M183.91 102.12h0M194.93 99.6h0" stroke="#00a5aa" stroke-width="1.8" stroke-linecap="round" fill="none"/>
<path d="M216.95 101.64h0M234.66 101.4h0M221.86 97.78h0M218.75 91.27h0M214.92 95.01h0M221.83 101.78h0M244.01 92.78h0M232.69 85.42h0M214.81 92.42h0M228.67 101.05h0M218.23 101.53h0M223.53 97.21h0M233.27 94.36h0M227.07 101.33h0M219.45 78.56h0M227.85 97.22h0M225.03 101.51h0M234.21 100.96h0M231.94 98.97h0M222.13 102.72h0M213.82 81.1h0M221.08 100.68h0M220.3 93.23h0M215.02 101.43h0M229.45 101.78h0M220.63 86.35h0M214.92 100.8h0M218.45 98.26h0M238.07 88.13h0M231.12 81.54h0M212.23 68.61h0M211.79 97.97h0M227.4 90.95h0M219.75 87.68h0M237.9 97.49h0M215.07 90.79h0M224.45 88.59h0M230.02 102.29h0M236.3 101.38h0M215.26 99.89h0M219.65 93.73h0M223.4 96.5h0M222.19 91.75h0M218.84 93.19h0M221.77 101.48h0M240.59 100.9h0M227.24 101.53h0M227.31 89.42h0M223.29 99.96h0M223.85 102.01h0M214.62 99.28h0M213.43 96.25h0M212.59 91.05h0M236.42 99.59h0M218.2 101.16h0M211.79 86.69h0M217.09 71.03h0M241.63 95.18h0M222.76 80.09h0M223.84 100.6h0M224.81 97.22h0M242.48 96.22h0M211.76 91.86h0M215.52 102.09h0M213.98 88.34h0M214.86 99.36h0M227.77 102.77h0M226.82 82.29h0M216.53 95.42h0M217.87 96.91h0M212.27 101.67h0M212.78 89.81h0M215.37 85.6h0M216.63 96.09h0M226.72 98.05h0M213.69 88.15h0M222.97 101.15h0M240.93 102.14h0M214.26 88.16h0M240.7 100.91h0M222.04 97.07h0M214.28 92.45h0M221.53 100.9h0M217.97 95.95h0M211.96 84.59h0M215.82 92h0M221.2 85.86h0M216.14 91.58h0M213.74 99.69h0M241.45 93.44h0M240.77 100.11h0M223.05 102.51h0M212.75 102.21h0M213.65 69.28h0M234.31 101.23h0M219.37 96.8h0M222.96 97.87h0M228.93 102.34h0M218.97 100.42h0M214.73 98.46h0M222.89 93.06h0M218.36 79.65h0M237.23 102.05h0M221.58 100.54h0M227.66 88.86h0M218.68 94.52h0M212.46 83.88h0M233.88 102.21h0M212.82 102.18h0M223.87 101.96h0M212.49 100.44h0M225.02 101.75h0M223.81 99.33h0M213.24 99.29h0M229.06 100.63h0M226.06 88.92h0M227.22 97.46h0M218.67 91.98h0M213.33 100.12h0M228.94 90.3h0M215.14 99.58h0M227.83 101.95h0M231.93 101.46h0M216.63 100.8h0M224.81 90.64h0M211.71 82.04h0M226.19 84.85h0M225.29 92.51h0M217.03 98.31h0M217.23 101.76h0M226.38 99.76h0M225.98 94.48h0M226.56 93.27h0M239.4 92.35h0M230.89 94.89h0M225.13 102.01h0M216.55 85.54h0M225.21 91.43h0M229.33 82.01h0M222.28 95.6h0M225.67 98.12h0M216.59 87.52h0M242.37 101.08h0M215.16 101.7h0M211.9 80.17h0M212.49 101.93h0M214.37 95.52h0M224.47 83.68h0M221.51 86.67h0M226.2 95.03h0M225.74 97.78h0M220.74 89.55h0M218.98 98.32h0M238.14 101.14h0M216.98 71.74h0M213.26 71.2h0M220.79 98.63h0M218.07 102.01h0M224.79 93.3h0M214.74 87.11h0M230.39 86.79h0M233.81 99.29h0M226.74 101.56h0M216.43 89.47h0M220.04 97.41h0M213.53 63.22h0M236.12 91h0M226.39 98.14h0M242.34 99.52h0M230.23 102.71h0M226.18 89.18h0M235.19 82.66h0M213.54 90.29h0M233.64 95.98h0M215.58 96.97h0M218.72 102.05h0M216.61 90.2h0M214.97 99.53h0M214.02 91.63h0M230.15 96.28h0M223.54 94.82h0M215.52 83.04h0M228.37 81.26h0M212.71 101.92h0M238.38 101.74h0M221.62 99.95h0M230.77 101.22h0M217.75 93.98h0M213.81 99.83h0M214.29 98.35h0M214.14 94.99h0M227.51 99h0M234.48 101.23h0M213.56 100.55h0M222.7 79.88h0M216.83 97.41h0M222.52 99.5h0M225.57 97.77h0M225.31 94.98h0M221.46 84.63h0M218.12 99.7h0M222.03 93.6h0M229.4 99.47h0M240.7 96.2h0M216.61 73.76h0M217.63 101.01h0M226.16 93.31h0M216.33 96.19h0M216.99 80.84h0M219.79 81.62h0M218.86 99.43h0M221.11 91.51h0M217.1 98.13h0M226.44 98.31h0M216.48 85.41h0M222.5 102.74h0M212.34 80.27h0M214.83 102.2h0M223.26 94.53h0M244.04 96.88h0M228.75 83.46h0M214.28 86.41h0M232.99 102.15h0M239.92 96.07h0M228.25 102.45h0M211.84 85.24h0M213.08 100.58h0M221.11 94.65h0M232.57 73.92h0M217.44 100.12h0M227.54 72.08h0M214.01 100.47h0M216.78 89.63h0M219.76 93.71h0M218.24 88.91h0M218.44 84.12h0M216.56 97.8h0M242.14 84.42h0M213.52 100.45h0M222.52 102.85h0M240.59 97.46h0M224.4 99.54h0M220.43 92.86h0M227.28 84.69h0M237.16 100.03h0M215.47 77.28h0M240.64 89.98h0M238.59 100.01h0M231.02 95.81h0M225.45 98.83h0M226.61 102.38h0M239.99 101.68h0M236.36 85.06h0M218.04 78.35h0M224.03 102.2h0M213.1 76.13h0M223.14 100.93h0M221.79 102.16h0M223.06 101.29h0M215.61 97.88h0M243.96 98.71h0M224.58 94.06h0M225.56 99.8h0M234.5 101.94h0M213.56 88.53h0M227.79 98.34h0M213.36 89.91h0M215.16 84h0M218.88 102.11h0M242.87 102.62h0M218.73 91.95h0M216.66 75.85h0M213.44 81.43h0M214.18 94.53h0M213.84 70.06h0M224.18 101.07h0M230.42 85.12h0M227.48 94.27h0M219.81 87.42h0M212.88 70.38h0M238.47 92.65h0M218.64 87.85h0M243.52 101.57h0M220.17 98.82h0M213.44 94.8h0M215.45 97.87h0M223.76 97.17h0M225.96 100.15h0M244.81 101.75h0M227.4 100.04h0M216.18 102.58h0M213.25 98.57h0M220.32 79.94h0M216.97 73.68h0M219.98 87.16h0M216.94 93.78h0M227.45 101.25h0M228.49 102.81h0M214.48 94.55h0M225.08 96.13h0M226.68 74.37h0M222.91 102.87h0M218.02 71.37h0M220.41 102.82h0M226.25 97.6h0M228.06 101.19h0M225 102.23h0M231.1 86.96h0M216.34 68.09h0M222.63 102.41h0M244.8 102.01h0M215.49 101.14h0M222.02 81.41h0M245.08 95.57h0M213.8 86.85h0M216.91 80.25h0M213.51 100.71h0M220.75 90.72h0M219.3 95.8h0M217.79 95.66h0M212.32 95.29h0M223.67 101.1h0M230.71 102.16h0M217.38 99h0M230.44 94.57h0M234.14 97.64h0M236.94 101.39h0M212.65 97.45h0M221.79 98.98h0M219.46 80.25h0M213.71 98.34h0M226.38 95.64h0M213.87 102.31h0M225.27 96.54h0M221.38 102.45h0M216.53 101.79h0M222.97 98.13h0M222.15 98.94h0M212.78 71.76h0M214.74 97.02h0M212.73 87.29h0M232.15 100.56h0M214.74 96.97h0M218.09 101.36h0M219.98 65.9h0M228.86 97.65h0M214.3 89.66h0M224.59 100.74h0M241.19 98.08h0M218.98 101.73h0M222.63 97.04h0M228.31 93.47h0M229.01 99.97h0M220.66 93.15h0M222.6 99.79h0M215.59 96.64h0M212.78 85.58h0M237.58 101.62h0M239.17 101.97h0M222.18 102.86h0M216.83 82.35h0M231.89 84.92h0M242.26 96.23h0M237.72 80.74h0M214.34 94.18h0M216.56 98.17h0M220.75 100.99h0M219.3 97.07h0M222.06 101.45h0M215.58 86.94h0M224.1 98.28h0M226.66 98.67h0M215.81 97.4h0M224.76 98.82h0M214.59 95.86h0M216.06 98.22h0M239.51 101.14h0M224.16 96.18h0M221.56 94.39h0M212.35 96.72h0M227.32 98.54h0M227.4 93.35h0M216.56 101.73h0M239.58 97.87h0M215.48 95.59h0M226.12 91.65h0M233.91 98.79h0M227.54 101.7h0M215.66 75.36h0M232.1 88.58h0M233.7 101.28h0M232.81 101.93h0M233.91 99.09h0M215.25 102.66h0M217.25 102.78h0M223.75 100.29h0M221.37 101.37h0M222.23 96.36h0M214.4 79.98h0M230.6 96.27h0M216.32 102.5h0M221.71 96.33h0M213.23 99.79h0M217.86 98.74h0M229.05 70.67h0M225.43 101.2h0M217.21 102.51h0M241.1 100.53h0M234.62 70.32h0M217.26 100.41h0M224.04 91.18h0M217.38 87.61h0M215.33 87.44h0M227.87 102.33h0M214.59 102.86h0M212.77 96.73h0M219.38 100.07h0M219.52 70.15h0M219.43 97.29h0M225.51 101.47h0M232.53 99.82h0M220.32 100.3h0M227.19 100.19h0M221.92 97.55h0M216.42 83.88h0M217.87 74.07h0M217.62 101.24h0M222.07 98.76h0M214.9 85.08h0M224.99 100.01h0M211.93 99.36h0M238.48 94.44h0M218.79 100.99h0M221.73 94.47h0M221.72 101.84h0M213.96 94.16h0M220.11 101.76h0M221.23 101.83h0M222.31 97.45h0M224.08 97.52h0M218.29 87.11h0M223.61 99.96h0M227.46 92.8h0M213 90.44h0M226.81 81.86h0M215.45 82.4h0M224.92 98.37h0M226.03 99.43h0M238.6 97.18h0M230.17 85.73h0M211.9 97.03h0M212.51 89.54h0M213.78 98.59h0M226.56 88.98h0M244.99 98.54h0M231.31 83.32h0M239.48 100.95h0M226.65 98.15h0M225.53 101.95h0M218.65 89.51h0M214.34 65.63h0M223.46 91.32h0M222.59 99.46h0M214.66 67.1h0M219.42 97.16h0M223.61 94.06h0M232.51 101.12h0M223.24 95.84h0M219.67 101.53h0M234.49 97.59h0M230.1 93.28h0M224.65 102.27h0M221.56 98.16h0M220.58 101.01h0M211.62 79.55h0M224.97 97.96h0M221.4 101.91h0M231.48 88h0M238.39 90.23h0M222.21 81.76h0M212.91 95.86h0M213.62 99.75h0M233.03 101.68h0M220.56 101.28h0M219.89 98.27h0M225.08 102.78h0M230.11 102.59h0M236.29 97.1h0M224.1 100.57h0M214.83 93.13h0M217.12 96.56h0M221.7 94.51h0M220.11 92.51h0M225.12 90.42h0M215.14 101.9h0M212.71 93.86h0M215.96 96.36h0M224.23 94.81h0M214.75 102.79h0M213.02 87.2h0M245.13 101.13h0M223.67 99.47h0M233.1 100.08h0M227.06 98.68h0M218.2 89.78h0M234.56 101.41h0M226.05 99.77h0M220.26 98.07h0M215.09 93.72h0M228.64 99.43h0M244.73 102.79h0M221.5 89.54h0M213.35 98.31h0M223.17 101.38h0M221.93 95.35h0M218.27 99.38h0M216.55 101.5h0M215.75 86.14h0M220.03 89.85h0M223.22 102.42h0" stroke="#f0645f" stroke-width="1.8" stroke-linecap="round" fill="none"/>
<path d="M172.65 62.48h0" stroke="#00a5aa" stroke-width="1.8" stroke-linecap="round" fill="none"/>
<path d="M175.52 54.15h0" stroke="#00a5aa" stroke-width="1.8" stroke-linecap="round" fill="none"/>
<path d="M242.35 54.99h0" stroke="#f0645f" stroke-width="1.8" stroke-linecap="round" fill="none"/>
<path d="M239.48 64.57h0" stroke="#f0645f" stroke-width="1.8" stroke-linecap="round" fill="none"/>
<path d="M169.81 20.32h0M169.17 20.52h0M167.54 20.54h0" stroke="#00a5aa" stroke-width="1.5" stroke-linecap="round" fill="none"/>
<path d="M178.52 20.55h0M173.59 20.61h0M175.9 20.88h0M176.98 20.56h0M174.96 20.88h0M176.18 20.69h0M182.82 20.54h0M181.82 20.47h0M173.42 20.33h0M177.84 20.82h0M174.64 20.56h0M181.92 20.47h0M173.98 20.61h0M177.53 20.86h0M183.67 20.44h0M179.29 20.55h0M172.44 20.57h0M183.9 20.48h0M179.62 20.73h0M172.82 20.85h0" stroke="#00a5aa" stroke-width="1.5" stroke-linecap="round" fill="none"/>
<path d="M188.86 20.48h0M199.17 20.31h0M193.38 20.38h0M195.05 20.31h0M189.57 20.43h0M188.39 20.35h0M190.31 20.61h0M189.33 20.79h0M194.09 20.45h0M191.1 20.8h0M187.8 20.75h0M188.66 20.87h0M193.94 20.66h0M201.68 20.36h0M188.09 20.72h0M196.99 20.73h0M191.72 20.6h0M190.17 20.56h0M191.79 20.65h0M192.08 20.46h0M197.92 20.35h0M200.62 20.6h0M190.89 20.37h0M195.65 20.6h0M199.23 20.52h0M194.01 20.84h0M191.65 20.89h0M202.17 20.89h0M203.04 20.45h0M200.84 20.67h0M190.47 20.9h0M198.01 20.79h0M196.49 20.35h0M201.68 20.41h0M191.4 20.67h0" stroke="#00a5aa" stroke-width="1.5" stroke-linecap="round" fill="none"/>
<path d="M213.55 20.58h0M217.71 20.36h0M217.29 20.36h0M215.81 20.69h0M217.5 20.33h0M213.53 20.88h0M215.13 20.55h0M215 20.72h0" stroke="#f0645f" stroke-width="1.5" stroke-linecap="round" fill="none"/>
<path d="M244.11 20.69h0M239.04 20.64h0M240.73 20.41h0M247.24 20.88h0M244.66 20.9h0" stroke="#f0645f" stroke-width="1.5" stroke-linecap="round" fill="none"/>
<line x1="162.5" y1="22.5" x2="162.5" y2="113.8" stroke="#1a1a1a" stroke-width="1.2" />
<line x1="162" y1="113.3" x2="253" y2="113.3" stroke="#1a1a1a" stroke-width="1.2" />
<line x1="159.2" y1="108.3" x2="162.5" y2="108.3" stroke="#1a1a1a" stroke-width="1.3" />
<text x="156.2" y="110.6" font-size="6.4" fill="#333" text-anchor="end" stroke="#333" stroke-width="0.22" >0</text>
<line x1="159.2" y1="87.47" x2="162.5" y2="87.47" stroke="#1a1a1a" stroke-width="1.3" />
<text x="156.2" y="89.78" font-size="6.4" fill="#333" text-anchor="end" stroke="#333" stroke-width="0.22" >5</text>
<line x1="159.2" y1="66.65" x2="162.5" y2="66.65" stroke="#1a1a1a" stroke-width="1.3" />
<text x="156.2" y="68.95" font-size="6.4" fill="#333" text-anchor="end" stroke="#333" stroke-width="0.22" >10</text>
<line x1="159.2" y1="45.82" x2="162.5" y2="45.82" stroke="#1a1a1a" stroke-width="1.3" />
<text x="156.2" y="48.13" font-size="6.4" fill="#333" text-anchor="end" stroke="#333" stroke-width="0.22" >15</text>
<line x1="159.2" y1="25" x2="162.5" y2="25" stroke="#1a1a1a" stroke-width="1.3" />
<text x="156.2" y="27.3" font-size="6.4" fill="#333" text-anchor="end" stroke="#333" stroke-width="0.22" >20</text>
<line x1="166.5" y1="113.3" x2="166.5" y2="116.3" stroke="#1a1a1a" stroke-width="1.3" />
<text x="166.5" y="124.8" font-size="6.4" fill="#333" text-anchor="middle" stroke="#333" stroke-width="0.22" >−1.0</text>
<line x1="187" y1="113.3" x2="187" y2="116.3" stroke="#1a1a1a" stroke-width="1.3" />
<text x="187" y="124.8" font-size="6.4" fill="#333" text-anchor="middle" stroke="#333" stroke-width="0.22" >−0.5</text>
<line x1="207.5" y1="113.3" x2="207.5" y2="116.3" stroke="#1a1a1a" stroke-width="1.3" />
<text x="207.5" y="124.8" font-size="6.4" fill="#333" text-anchor="middle" stroke="#333" stroke-width="0.22" >0.0</text>
<line x1="228" y1="113.3" x2="228" y2="116.3" stroke="#1a1a1a" stroke-width="1.3" />
<text x="228" y="124.8" font-size="6.4" fill="#333" text-anchor="middle" stroke="#333" stroke-width="0.22" >0.5</text>
<line x1="248.5" y1="113.3" x2="248.5" y2="116.3" stroke="#1a1a1a" stroke-width="1.3" />
<text x="248.5" y="124.8" font-size="6.4" fill="#333" text-anchor="middle" stroke="#333" stroke-width="0.22" >1.0</text>
<text x="214" y="137.37" font-size="8.8" fill="#333" text-anchor="middle" font-weight="bold" textLength="52" lengthAdjust="spacingAndGlyphs" stroke="#333" stroke-width="0.05" >Delta inclusion ratio</text>
<text x="189.8" y="41.13" font-size="6.6" fill="#333" text-anchor="middle" stroke="#333" stroke-width="0.22" >891</text>
<text x="233" y="41.13" font-size="6.6" fill="#333" text-anchor="middle" stroke="#333" stroke-width="0.22" >543</text>
<path d="M309.74 99.81h0M312.74 69.73h0M308.77 99.45h0M318.52 97.49h0M310.71 81.88h0M313.84 100.6h0M316.28 99.73h0M327.51 99.3h0M324.59 67.74h0M309.51 98.88h0M320.46 102.7h0M320.82 102.68h0M320.94 102.88h0M304.27 98.63h0M327.58 76.45h0M317.83 98.92h0M306.59 97.84h0M296.58 100.95h0M329.48 73.98h0M313.21 93.28h0M326.26 87.27h0M320.36 99.59h0M316.16 82.95h0M315.53 69.95h0M316.31 97.65h0M302.87 101.32h0M312.95 70.88h0M314 68.79h0M319.24 93.7h0M322.32 100.92h0M310.47 99.66h0M308.46 101.39h0M318.09 97.12h0M295.06 94.29h0M314.75 100.49h0M304.74 101.73h0M329.55 87.57h0M306.97 97.09h0M311.18 92.77h0M322.63 91.32h0M314.41 94.11h0M315.35 99.98h0M329.69 100.57h0M319.78 75.43h0M306.68 83.22h0M315.98 102.72h0M323.67 85.52h0M316.9 96.5h0M320.23 101.22h0M310.68 92.54h0M315.53 76.43h0M298.29 102.2h0M313.94 98.91h0M297.4 70.01h0M316.07 96.62h0M311.62 91.8h0M316.89 67.19h0M307.95 93.76h0M305.75 93.9h0M312.45 62h0M318.45 88.43h0M312.98 67.76h0M322.26 67.7h0M310.92 102.53h0M310.68 99.8h0M324.52 80.19h0M315.38 97.83h0M306.96 86.49h0M304.1 92.31h0M321.64 76.23h0M316.51 83.01h0M305.8 98.28h0M307.4 100.95h0M320.4 90.54h0M305.56 97.06h0M326.76 95.44h0M315.98 101.18h0M317.75 100.72h0M310.19 100.14h0M297.61 99.09h0M309.06 83.55h0M311.5 85.77h0M309.9 56.02h0M309.87 74.49h0M313.5 88.9h0M316.31 98.61h0M316.89 100.92h0M308.54 99.84h0M313.75 101.3h0M311.5 98.67h0M323.19 77h0M310.32 100.93h0M321.57 68.27h0M328.21 72.15h0M313.88 101.82h0M313.98 77.45h0M319.14 102.42h0M324.15 74.45h0M311.06 94.21h0M326.92 92.81h0M323.18 79.33h0M322.14 97.33h0M314.58 94.68h0M307.75 72.3h0M316.31 76.56h0M323.75 100.93h0M311.45 100.92h0M306.09 95.78h0M309.74 78.03h0M327 81.82h0M307.72 91.12h0M317.56 98.17h0M318.69 67.6h0M296.04 93.41h0M305.03 65.87h0M308.94 97h0M305.77 75.44h0M320.96 74.8h0M311.83 95.54h0M325.24 71.95h0M327.84 97.48h0M319.98 89.76h0M295.78 88.26h0M327.39 101.38h0M315.92 95.13h0M302.42 96.58h0M325.84 85.24h0M319.71 98.54h0M318.08 94.51h0M300.72 99.5h0M326.14 94.39h0M308.54 99.92h0M319.33 91.41h0M328.96 101.33h0M313.36 97.1h0M297.48 97.65h0M316.64 88.63h0M328.93 87.72h0M312.21 91.36h0M319.23 98.96h0M325.61 69.85h0M312.73 97.81h0M315.61 89.14h0M316.43 100.07h0M299.39 91.8h0M327.57 94.19h0M309.65 102.74h0M309.03 86.02h0M322.71 98.35h0M322.78 80.77h0M311.64 93.04h0M306.21 97.73h0M305.84 72.3h0M316.83 96.24h0M322.39 98.93h0M316.71 83.92h0M329.1 69.13h0M318.6 102.88h0M313.93 85.14h0M319.29 83.28h0M325.02 88.31h0M312.41 100.29h0M321.71 101.23h0M312.39 92.73h0M312.34 101.42h0M326.42 100.83h0M317.56 98.51h0M295.87 98.03h0M313.21 92.98h0M307.08 68.84h0M322.02 96.44h0M319.61 68.51h0M309.82 98.75h0M308.28 99.4h0M327.17 93.29h0M325.65 97.25h0M319.22 97.49h0M311.31 88.09h0M307.84 85.78h0M318.51 97.13h0M308.62 92.58h0M307.66 79.11h0M313.09 99.62h0M309.86 98.06h0M313.94 100.26h0M319.73 99.74h0M328.99 95.59h0M326.39 87.68h0M310.81 101.73h0M309.22 101.39h0M311.53 95.55h0M303.22 95.49h0M303.15 70.57h0M316.82 64.6h0M309.51 86.33h0M315.49 101.53h0M305.3 80.58h0M322.33 83.4h0M311.88 102.37h0M302.73 79.19h0M310.39 98.84h0M329.38 87.31h0M309.26 90.35h0M306.48 71.1h0M305.44 85.13h0M315.37 102.68h0M302.15 89.71h0M323.35 102.36h0M303.88 102.27h0M305.99 88.31h0M326.45 56.61h0M315.92 101.05h0M307.15 102.85h0M328.61 100.42h0M297.2 83.71h0M313.21 94.71h0M326.48 88.29h0M326.81 59.8h0M323.56 98.01h0M314.37 92.39h0M301.32 92.41h0M304.39 102.64h0M322.43 100.64h0M329.15 87.69h0M313.16 87.16h0M322.71 80.46h0M316.6 90.76h0M325.94 94.52h0M310.58 59.7h0M324.91 100.75h0M312 90.7h0M317.54 91.42h0M299.69 87.33h0M318.07 82.87h0M326.87 91.41h0M319.56 90.52h0M320.55 94.18h0M306.54 101.86h0M312.58 96.93h0M315.71 96.94h0M329.61 54.39h0M303.73 93.76h0M328.58 62.41h0M323.84 81.27h0M318.66 95.79h0M310.73 80.26h0M327.23 83.95h0M298.84 93.92h0M328.52 73.54h0M310.47 90.5h0M308.48 73.26h0M327.58 83.91h0M323.96 54.97h0M327.05 97.46h0M316.17 97.7h0M310.37 100.62h0M322.01 54.72h0M303.32 89.31h0M320.08 87.9h0M321.72 102.32h0M316.47 100.38h0M315.07 73.5h0M323.84 86.97h0M311.11 100.94h0M319.4 67.25h0M325.34 100.16h0M321.97 94.53h0M320.24 92.93h0M311.31 76.05h0M307.76 99.74h0M301.16 86.19h0M323.43 100.31h0M302.99 85.4h0M317.28 99.7h0M321.87 83.95h0M329.93 73.41h0M328.32 96.24h0M310.14 93.91h0M323.99 96.63h0M321.63 77.27h0M313.15 76.91h0M327.25 101.93h0M323.76 89.37h0M315.86 95.55h0M306.3 87.72h0M328.87 96.18h0M327.16 80.7h0M308.54 99.01h0M325.19 71.48h0M299.75 86.19h0M323.41 101.28h0M305.68 89.07h0M325.48 91.76h0M304.09 100.26h0M314.14 94.05h0M308.9 101.59h0M324.15 89.69h0M316.63 85.47h0M301.82 102.26h0M329.54 93.95h0M315.46 83.26h0M322.88 69.94h0M327.37 78.35h0M320.13 100.29h0M322.28 100.47h0M320.28 100.79h0M316.68 92.09h0M310.68 101.84h0M307.47 81.14h0M298.2 91.7h0M316.17 101.23h0M327.63 58.33h0M320.16 90.99h0M312.96 83.91h0M308.73 98.68h0M311.61 89.22h0M321.7 100.14h0M318.87 78.46h0M322.24 90.78h0M308.69 98.09h0M320.25 72.35h0M316.59 96.85h0M308.64 85.13h0M327.94 98.17h0M305.7 78.68h0M316.62 92.48h0M316.54 101.62h0M305.3 100.71h0M314.53 82.33h0M307.54 102.31h0M324.27 75.12h0M317.17 82.75h0M317.26 71.17h0M320.38 92.76h0M306.81 86.33h0M322.65 80.35h0M310.73 97.75h0M299.23 94.15h0M310.57 94.36h0M305.85 69.71h0M318.18 75.93h0M321.84 82.2h0M320.99 86.21h0M327.01 101.23h0M322.22 97.8h0M328.1 63.04h0M319.26 97.41h0M321.62 81.65h0M328.17 99.99h0M326.94 91.49h0M297.29 56.42h0M324.63 102.44h0M328.62 86.06h0M313.73 92.83h0M322.75 80.06h0M312.76 95.31h0M323.09 102.17h0M315.12 100.26h0M308.78 81.71h0M318.2 100.14h0M312.19 101.5h0M321.46 95.9h0M327.27 63.76h0M308.07 98.52h0M325.74 85.39h0M328.46 85.48h0M306.25 73h0M320.98 90.69h0M304.04 102.51h0M303.94 90.9h0M316.05 67.18h0M296.71 98.56h0M329.54 90.31h0M304.03 96.21h0M324.28 80.21h0M327.69 101.29h0M321.58 100.35h0M305.92 85.47h0M310.82 63.07h0M301.08 98.2h0M306.31 88.69h0M309.65 97.02h0M309.51 100.41h0M329.39 85.02h0M326.45 91.14h0M320.06 89.17h0M329.91 100.58h0M326.8 96.8h0M309.2 79.25h0M329.86 69.64h0M321.19 102.58h0M324.26 86.58h0M304.44 101.75h0M327.39 97.54h0M306.2 98.64h0M318.52 100.33h0M313.09 98.19h0M325.54 100.8h0M319.06 66.05h0M311.98 89.96h0M326.89 83.29h0M318.58 93.65h0M315.29 95.83h0M318.8 91.26h0M295.08 91.02h0M324.61 84.29h0M324.01 81.57h0M302.66 62.16h0M314.25 77.91h0M321.65 101.78h0M318.49 83.23h0M307.56 90.82h0M328.26 102.06h0M329.33 85.62h0M325.11 65.85h0M306.83 98.08h0M316.91 98.75h0M329.89 96.08h0M308.71 95.24h0M322.77 86.7h0M327.35 70.94h0M317.34 95.36h0M306.09 75.66h0M298.58 85.33h0M329.13 62.15h0M314.77 98.16h0M307.77 94.6h0M321.77 95.81h0M306.39 77.61h0M329.88 90.07h0M312.48 83.32h0M310.89 101.42h0M327.74 63.12h0M317.53 99.18h0M327.08 94.68h0M306.28 97.08h0M310.65 93.02h0M298.08 64.71h0M305.44 82.64h0M322.15 95.88h0M305.58 94.57h0M305.93 95.46h0M317.44 82.74h0M320.01 82.01h0M308.57 98.82h0M312.2 92.9h0M316.31 101.83h0M322.47 100.65h0M312.69 87.28h0M325.02 78.53h0M315.05 99.6h0M320.46 98h0M309.12 91.81h0M304.76 98.41h0M328.56 94.85h0M318.36 68.47h0M314.61 91.86h0M321.15 102.88h0M297.84 100.91h0M324.62 82.83h0M329.5 87h0M323.74 94.23h0M329.92 95.73h0M322.16 93.91h0M322.17 102.56h0M312.18 94.93h0M324.36 60.25h0M325.03 70.25h0M305.16 92.75h0M327.15 94.82h0M313.74 90.79h0M320.87 101.75h0M309.78 80.53h0M305.48 81.5h0M321.63 99.22h0M310.23 82.77h0M307.41 99.61h0M313.74 99.63h0M327.57 68.88h0M326.7 96.2h0M314.62 93.56h0M311.84 100.15h0M325.9 97.41h0M328.13 93.44h0M299.59 101.55h0M315.72 93.08h0M327.72 84.94h0M328.05 70.55h0M315.77 93.06h0M307.16 97.41h0M316.95 78.04h0M298.14 91.61h0M314.59 62.77h0M298.27 99.33h0M319.38 98.96h0M324.65 79.74h0M319.69 84.37h0M306.11 85.46h0M313.84 94.5h0M302.05 96.44h0M318.64 91.88h0M327.45 88.84h0M325.84 91.3h0M317.92 92.25h0M326.76 102.5h0M306.58 99.3h0M322.28 80.03h0M310.79 102.83h0M325.01 94.13h0M320.69 93.78h0M306.75 91.75h0M310.01 98.32h0M306.89 94.59h0M328.38 72.62h0M314.48 98.72h0M302.9 98.19h0M304.32 98.28h0M306.33 101.55h0M310.79 102h0M311.1 88.62h0M327.16 56.66h0M310.35 95.69h0M301.71 98.54h0M318.01 102.16h0M308.89 93.48h0M326.35 89.67h0M327.38 96.41h0M298.74 92.52h0M309.22 68.81h0M328.77 56.56h0M324.19 100.18h0M315.93 94.81h0M326.59 77.03h0M322.53 72.34h0M296.09 101.84h0M319.13 98.51h0M308.16 101.25h0M306.65 79.08h0M327.46 89.94h0M311.03 100.53h0M306.23 102.76h0M327.69 73.07h0M307.66 100.13h0M324.5 101.98h0M328.15 92.1h0M303.04 84.5h0M317.54 92.13h0M316 95.13h0M309.95 89.72h0M327.42 101.74h0M314.63 59.53h0M296.88 100.95h0M311.6 95.48h0M300.29 101.05h0M326.86 83.39h0M309.29 102.77h0M306.52 99.59h0M309.08 101.58h0M308.35 93.82h0M329.84 80.8h0M311.39 94.5h0M324.61 83.11h0M327.41 96.76h0M316.8 96.93h0M300.51 98.91h0M309.35 97.78h0M316.06 89.5h0M315.95 97.81h0M312.79 102.64h0M322.41 87.4h0M318.71 88.46h0M323.81 90.03h0M324.6 75.85h0M321.41 98.14h0M308.23 72.4h0M328.27 80.88h0M309.33 90.27h0M319.34 85.79h0M321.18 78.05h0M315.87 101.46h0M323.8 102.31h0M316.17 68.82h0M307.83 95.98h0M323.2 91.94h0M301.6 102.85h0M325.21 84.14h0M318.51 65.17h0M327.88 102.21h0M315.59 89.21h0M329.12 89.12h0M315.47 102.3h0M308.16 94.27h0M312.94 71.98h0M314.42 82.37h0M318.81 78.67h0M326.51 62.03h0M329.8 101.33h0M306.98 92.45h0M327.45 84.67h0M321.98 100.2h0M328.87 78.68h0M308.16 86.89h0M309.03 94.23h0M301.55 101.65h0M325.81 87.61h0M301.54 97.12h0M312.86 95.54h0M319.84 83.83h0M326.18 89.62h0M328.38 95.87h0M303.91 81.34h0M327.91 88.44h0M311.24 102.32h0M315.01 94.53h0M317.4 100.1h0M326.87 95.21h0M316.28 93.4h0M318.11 96.02h0M329.45 92.81h0M305.97 77.06h0M326.17 64.17h0M310.57 90.96h0M312.1 99.25h0M316.9 83.72h0M323.84 93.34h0M328.13 57.24h0M318.17 91.69h0M328.3 93.11h0M317.09 93.5h0M324.61 82.17h0M307.37 77.62h0M303.82 92.35h0M321.32 101.63h0M306.9 87.29h0M323.32 55.61h0M309.6 81.3h0M307.04 91.6h0M319.73 88.7h0M309.05 77.95h0M329.77 67.3h0M314.18 101.93h0M308.31 97.93h0M306.51 100.53h0M328.5 84.54h0M326.19 74.29h0M297.4 80.09h0M298.82 91.33h0M310.54 91.66h0M325.68 94.79h0M309.27 86.02h0M306.01 102.23h0M322.08 101.54h0M303 95.72h0M317.13 89.28h0M318.88 56.84h0M317.31 93.93h0M326.46 88.54h0M319.56 101.97h0M305.04 71.44h0M314.31 100.92h0M319.82 81.51h0M319.89 95.05h0M323.21 99.18h0M316.75 97.05h0M329.03 77.13h0M307.62 99h0M322.33 90.02h0M313.83 96.39h0M322.95 92.3h0M312.65 90.35h0M327.91 100.3h0M325.55 98.94h0M321.76 63.57h0M324.06 99.2h0M313.53 92.4h0M310.44 90.17h0M315.32 89.17h0M327.77 93.11h0M302.85 88.04h0M311.32 79.94h0M321.01 91.41h0M324.92 100.28h0M317.7 59.22h0M296.75 60.73h0M329.39 99.67h0M296.76 88.94h0M319.46 94.61h0M316.76 98.55h0M308.99 93.44h0M322.89 88h0M309.95 100.26h0M316.6 97.6h0M318.24 92.33h0M325.08 98.97h0M310.63 99.89h0M329.21 100.91h0M318 101.2h0M307.3 97.49h0M319.85 92.19h0M308.69 93.35h0M323.12 99.27h0M297.2 95.95h0M316.66 99.88h0M312.25 100.8h0M329.57 102.37h0M314.22 91.13h0M299.54 92.12h0M306.88 95.6h0M328.97 61.87h0M324.76 93.09h0M315.97 99.64h0M325.79 79.82h0M312.82 67.1h0M313.51 96.74h0M297.41 81.86h0M323.68 60.16h0M295.71 96.87h0M313.61 80.6h0M319.02 95.5h0M314.2 93.28h0M329.22 102.58h0M327.64 63.34h0M308.71 100.08h0M311.8 89.73h0M315.6 92.46h0M301.37 91.58h0M320.05 84.94h0M313.29 71.05h0M316.89 96.98h0M327.76 86.2h0M296.86 99.93h0M310.52 95.49h0M325.48 94.94h0M312.46 95.86h0M309.07 97.38h0M324.59 90.57h0M321.26 85.39h0M329.7 94.89h0M306.86 100.37h0M325.03 99.73h0M317.51 102.29h0M317.66 100.22h0M308.16 96.45h0M315.57 101.34h0M314.36 101.73h0M322.52 79.64h0M308.05 92.67h0M325.51 79.23h0M328.48 90.88h0M318.71 73h0M312.03 85.98h0M315.06 96.9h0M317.19 87.83h0M309.76 100.92h0M309.5 56h0M307.02 102.47h0M304.52 102.37h0M326.09 75.03h0M326.99 93.68h0M318.62 96.74h0M318.1 55.27h0M325.86 58.4h0M317.28 100.33h0M324.67 98.8h0M322.16 78.43h0M310.03 101.86h0M317.74 88.91h0M313.2 96.62h0M315.89 100.91h0M311.85 102.7h0M316.83 85.93h0M318.48 93.57h0M328.22 87.18h0M315.77 98.97h0M324.4 61.22h0M308.75 88.24h0M316.62 102.77h0M299.9 101.14h0M318.04 87.18h0M308.04 92.23h0M310.24 78.58h0M312.83 79.45h0M305.52 76.45h0M310.64 89.73h0M308.23 85.07h0M295.59 90.47h0M313.81 96.63h0M317.74 99.49h0M309.61 82.03h0M313.38 94.26h0M313.91 102.8h0M306.59 100.39h0M328.11 96.44h0M329.19 66.03h0M309.05 99.6h0M302.87 94.16h0M300.94 86.24h0M329.87 95.6h0M310.11 99.66h0M299.31 99.78h0M322.31 90.25h0M309.9 85.57h0M313.33 97.87h0M322.14 80.33h0M326.74 97.22h0M329.64 101.81h0M326.76 57.67h0M311.91 84.45h0M316.91 89.87h0M306.45 99.63h0M303.5 94.91h0M314.26 76.34h0M325.59 77.84h0M309.49 101.62h0M311.03 85.76h0M328.47 88.41h0M315.32 96.4h0M317.01 90.81h0M303.77 98.2h0M327.27 63.01h0M305.13 96.37h0M296.89 97.61h0M323.96 90.22h0M323.87 91.31h0M326.26 100.24h0M327.79 100.07h0M310.69 78.9h0M310.58 81.88h0M322.75 73.39h0M328.86 97.22h0M298.34 102.19h0M314.39 100.92h0M313.77 99.67h0M324.87 64.14h0M313.32 91.16h0M308.61 86.27h0M315.74 94.07h0M317.13 98.44h0M324.83 102.79h0M308.99 88.85h0M317.72 90.65h0M318.89 92.48h0M308.73 94.9h0M313.58 101.34h0M322.42 95.47h0M322.88 79.98h0M313.1 71.87h0M314.81 62.66h0M308.82 84.94h0M326.5 69.48h0M321.54 92.72h0M308.42 75.63h0M325.74 93.83h0M325.15 94.93h0M318.5 100.85h0M320.07 98.54h0M322.07 102.48h0M311.8 78.43h0M323.62 81.58h0M306.67 91.4h0M328.74 95.39h0M306.33 101.19h0M328.11 72.8h0M311.91 100.58h0M329.04 84.59h0M325.44 99.18h0M297.88 97.98h0M304.87 100.68h0M310.55 101.71h0M316.86 81.21h0M328.97 100.51h0M317.75 82.7h0M323.25 98.71h0M313.02 100.87h0M329.05 88.54h0M311.54 88.24h0M325.23 102.04h0M313.23 102.77h0M308.34 97.97h0M314.28 70.61h0M317.55 82.56h0M329.19 84.67h0M321.9 94.58h0M322.46 79.54h0M301.95 75.65h0M317.54 83.95h0M320.64 100h0M300.16 87.45h0M327.26 85.1h0M308.52 90.93h0M316.24 84.38h0M305.95 93.47h0M325.41 101.04h0M312.47 89.92h0M318.24 82.06h0M308.04 101.86h0M329.66 79.85h0M328.2 90.96h0M309.06 102h0M310.8 101.47h0M295.87 96.77h0M326.48 97.85h0M312.93 69.89h0M306.99 96.84h0M329.98 89.97h0M326.8 68.79h0M322.75 90.04h0M329.25 100.19h0M320.22 101.39h0M321 102.1h0M328.18 85.29h0M298.04 101.15h0M321.35 83.01h0M323.8 92.55h0M320.85 89.72h0M319.84 95.15h0M311.81 83.45h0M320.79 83.23h0M315.1 102.68h0M325.76 94.35h0M329.48 54.21h0M307.06 70.56h0M309.71 71.32h0M309.34 102.49h0M314.35 84.25h0M327.97 86.78h0M313.4 100.5h0M306.62 99.72h0M306.81 90.77h0M319.89 93.29h0M328.18 95.68h0M308.29 97.96h0M316.4 72.51h0M298.89 94.21h0M316.38 97.92h0M328.95 79.86h0M319.85 91h0M295.1 96.44h0M295.63 92h0M325.22 73h0M311.6 73.4h0M313.22 93.3h0M318.91 101.94h0M306.33 97.7h0M319.49 101.96h0M324.48 98.33h0M307.66 102.74h0M315.95 94.14h0M329.72 92.68h0M321.89 96h0M310.43 85.01h0M317.94 76.75h0M324.56 102.64h0M319.05 57.02h0M302.5 92.9h0M311.82 94.38h0M308.83 102.41h0M318.47 100.74h0M310.9 98.22h0M305.8 98.92h0M309.53 101.69h0M308.6 62.64h0M328.76 88.01h0M327.04 97.08h0M316.11 101.04h0M328.39 71.79h0M306.8 61.46h0M323.85 99.05h0M315.63 93.42h0M317.21 97.71h0M307.09 102.33h0M326.62 74.77h0M309.75 90.52h0M300.52 89.69h0M297.7 96.87h0M307.76 102.17h0M295.94 87.09h0M300.19 82.92h0M324.62 101.35h0M319.1 100.92h0M323.59 97.45h0M315.07 85.34h0M319.45 93.91h0M321.36 78.47h0M303.61 84.77h0M329.79 75.59h0M322.03 81.73h0M311.65 81.39h0M307.99 96.66h0M320.87 90.96h0M322.88 101.81h0M312.68 88.79h0M309.3 102.69h0M329.54 84.01h0M324.5 89.03h0M329.11 101.24h0M317.73 92.08h0M314.52 67.52h0M307.91 101.53h0M322.28 60.17h0M306.68 87.62h0M317.35 81.86h0M316.98 91.48h0M321.73 87.55h0M320.78 84.8h0M302.89 92h0M309.76 99.37h0M320.52 86.38h0M306.38 95.31h0M320.04 102.46h0M316.2 101.63h0M300.43 93.93h0M324.04 95.4h0M325.78 89.82h0M316.36 87.4h0M311.89 91.54h0M314.15 94.71h0M307.38 98.17h0M324.44 83.42h0M310.09 96.25h0M317.98 96.31h0M313.29 90.99h0M323.46 55.27h0M322.91 87.94h0M307.13 58.81h0M324.56 99.39h0M323.14 83.26h0M305.51 102.5h0M322.51 100.44h0M321.22 81.97h0M295.33 94.93h0M326.79 83.45h0M296.6 100.68h0M308.23 89.79h0M328.36 81.56h0M312.21 84.32h0M329.91 71.53h0M300.03 96.24h0M310.4 63.79h0M324.65 92.44h0M322.49 80.95h0M301.81 74.73h0M319.8 78.31h0M298.33 85.1h0M307.81 69.43h0M320.63 102.77h0M321.41 102.88h0M303.52 63.7h0M321.3 78.15h0M313.75 94.7h0M309.93 86.85h0M316.43 81.18h0M318.51 93.34h0M312.24 98.1h0M320.92 85.08h0M308.3 72.02h0M320.79 96.05h0M315.4 102.44h0M307.59 102.16h0M300.61 84.17h0M311.82 96.53h0M309.37 79.6h0M324.74 89.89h0M321.2 92.07h0M306.33 92.2h0M296.28 100.04h0M320.79 88.51h0M312.14 98.7h0M321.07 78.49h0M314.47 98.78h0M308.38 94.72h0M309.95 78.11h0M306.17 97.52h0M309.92 97.84h0M321.14 96.17h0M309.53 102.19h0M297.87 90.94h0M322.76 78h0M320.77 91.96h0M323.94 68.25h0M319.2 87.75h0M329.89 92.4h0M325.53 87.69h0M323.65 78.77h0M312.08 86.7h0M329.22 60.3h0M315.99 87.71h0M308.11 102.79h0M300.08 95.26h0M296.46 89.66h0M314.95 96.15h0M309.96 101.3h0M322.49 97.96h0M327.41 96.28h0M307.32 100.83h0M320.99 86.6h0M313.83 100.89h0M316 86h0M328.82 77.91h0M307.66 90.1h0M320.11 102.01h0M321.5 68.68h0M298.36 88.1h0M317.66 88.01h0M320.39 74.71h0M320.2 85.35h0M303.15 94.61h0M324.92 94.59h0M325.45 90.29h0M316.04 83.38h0M318.25 99.92h0M313.64 99.84h0M322.67 96.06h0M296.75 80.03h0M318.96 99.59h0M307.05 101.85h0M325.27 67.01h0M318.23 102.12h0M317.59 80.45h0M312.03 99.33h0M315.57 102.23h0M298.78 92.97h0M328.12 85.19h0M327.15 100.7h0M318.65 80.18h0M306.29 80.56h0M317.04 90.84h0M310.26 89.13h0M323.88 90.18h0M315.91 102.67h0M319.18 100.33h0M316.56 84.84h0M314.96 71.76h0M321.95 99.92h0M324.69 102.35h0M325.78 87.59h0M318.78 102.71h0M323.87 101.15h0M326.34 92.54h0M318.8 100.28h0M308.86 98.57h0M306.7 101.93h0M311.74 95.23h0M304.96 84.3h0M296.44 75.32h0M317.64 76.59h0M323.83 102.31h0M326.59 95.33h0M306.48 90.16h0M327.44 93.24h0M307.11 96.95h0M303.88 102.18h0M305.49 80.27h0M323.14 71.45h0M306.26 94.04h0M295.98 96.01h0M312.42 90.34h0M313.39 85.54h0M327.69 101.39h0M327.42 62.95h0M305.97 88.54h0M325.58 92.04h0M309.21 78.24h0M329.42 77.51h0M314.37 82.66h0M314.9 81.08h0M307.17 90.96h0M325.92 82.57h0M307.38 99.33h0M317.84 63.39h0M308.47 88.78h0M307.16 79.51h0M316.82 102.28h0M314.29 101.34h0M321.61 94.86h0M309.71 87.52h0M317.05 67.42h0M328.08 101.86h0M314.09 100.19h0M313.43 100.7h0M295.03 87.29h0M297.73 93.54h0M307.35 89.93h0M321 83.48h0M325.97 90.79h0M318.54 101.38h0M324.85 100.75h0M314.46 100.12h0M316.74 90h0M318.48 76.88h0M324.11 95.46h0M328.7 88.27h0M319.61 102.85h0M309.67 96.11h0M319.09 102.09h0M309.99 86.9h0M322.33 101.54h0M317.42 83.59h0M309.54 93.56h0M326.74 79.92h0M308.29 102.27h0M305.97 97.23h0M315.6 101.25h0M321.09 81.46h0M313.23 100.48h0M307.9 100.79h0M315.13 102.56h0M318.86 91.9h0M327.67 83.32h0M311.76 88.34h0M326.32 73.7h0M316.39 84.67h0M304.12 85.83h0M323.57 61.27h0M306.92 93.41h0M296.61 80.69h0M318.93 89.93h0M319.94 67.92h0M317.42 100.72h0M322.97 102.04h0M315.03 96.49h0M316.82 87.35h0M322.03 102.53h0M309.49 101.27h0M320.88 85.17h0M309.97 65.36h0M302.58 81.92h0M322.07 90.51h0M327.59 55.47h0M315.68 96.1h0M320.19 83.5h0M312.77 78.03h0M329.53 97.87h0M320.22 98.96h0M319.65 89.08h0M329.71 94.92h0M298.4 98.56h0M319.94 84.08h0M321.42 91.51h0M319.63 82.14h0M328.64 93.27h0M324.4 93.81h0M321.19 99.64h0M328.4 100.67h0M316.84 95.76h0M308.68 98.66h0M325.16 62.54h0M311.8 97.16h0M313.34 92.75h0M304.86 96.76h0M308.11 96.01h0M327.34 81.32h0M313.26 98.63h0M323.49 80.04h0M307.97 97.05h0M310.48 99.54h0M318.19 94.53h0M324.51 77.24h0M308.72 84.78h0M306.27 102.86h0M317.11 102.13h0M326.37 85.33h0M320.78 92.99h0M325.85 81.15h0M328.04 100.43h0M323.2 94.94h0M308.2 101.72h0M314.93 99.11h0M319.25 70.54h0M318.41 101.86h0M310.28 96.47h0M314.58 102.37h0M313.45 101.44h0M309.34 99.51h0M321.64 89.7h0M321.68 60.43h0M305.9 98.47h0M321.17 70.5h0M313.58 100.52h0M323.48 59.37h0M307 93.8h0M316.69 66.95h0M310.1 93.5h0M326.61 66.45h0M314.35 98.38h0M317.27 97.58h0M298.11 86.33h0M313.19 97.04h0M296.32 86.67h0M317.91 102.23h0M297.33 89.72h0M310.6 102.64h0M323.94 85.91h0M315.34 73.66h0M327.21 102.61h0M318.69 94.44h0M327.5 102.87h0M305.66 97.23h0M316.16 99.57h0M314.56 101.65h0M327.5 95.6h0M329.25 64.94h0M312.02 83.26h0M329.38 82.41h0M314.73 91.23h0M310.14 94.31h0M318.02 93.88h0M313.76 80.92h0M329.73 90.65h0M326.82 88.35h0M317.1 97.41h0M313 100.71h0M317.34 85.22h0M306.5 87.95h0M325.53 78.08h0M313.1 88.51h0M307.13 96.62h0M312.74 100.93h0M303.27 71.04h0M327 84.31h0M319.37 99.56h0M312.2 89.3h0M328.85 83.1h0M312.71 93.48h0M297.5 87.36h0M317.74 98.08h0M313.01 89.77h0M317.64 94.43h0M302.82 100.69h0M298.25 69.86h0M302.17 100.42h0M318.16 95.92h0M323.95 98.56h0M309.97 99.9h0M323.38 93.58h0M324.04 71.34h0M296.06 100.36h0M319.37 82.8h0M306.81 55.28h0M323.68 93.68h0M320.48 81.18h0M325.52 87.83h0M299.72 101.19h0M324.46 71.88h0M319.29 71.69h0M319.16 97.48h0M314.34 97.81h0M319.82 75.89h0M312.46 92.84h0M320.58 100.38h0M322.13 102.64h0M317.33 93.88h0M328.38 99.91h0M329 56.58h0M306.66 81.64h0M321.69 93.54h0M318.85 84.3h0M298.41 92.38h0M318.07 90.58h0M307.42 55.48h0M316.51 101.43h0M307.57 99.86h0M323.84 80.31h0M315.62 83.55h0M309.72 94.61h0M322.57 89.09h0M325.69 101.46h0M314.68 96.4h0M312.45 97.48h0M326.47 83.79h0M324.28 82.68h0M306.54 94.28h0M299.43 99.36h0M315.16 96.82h0M311.65 89.7h0M306.7 76.82h0M307.63 98.28h0M324.1 90.61h0M324.26 78.66h0M315.22 96.18h0M323.74 91.19h0M329.6 56.11h0M322.86 55.77h0M316.93 100.83h0M308.87 83.69h0M307.92 100.02h0M326.84 81.16h0M321.08 82.96h0M315.32 95.96h0M311.28 100.55h0M311.62 96.24h0M325.04 100.03h0M321.04 89.67h0M323.56 99.71h0M319.54 100.4h0M326.27 97.65h0M316.49 82.81h0M307.68 89.67h0M319.81 94.17h0M323.65 66.25h0M308.26 83.24h0M305.02 94.87h0M322.47 98.12h0M317.12 91.98h0M323.74 84.88h0M311.03 79.38h0M326.84 85.41h0M327.45 76.65h0M323.44 97.85h0M307.87 98.15h0M324.66 91.17h0M322.62 87h0M328.94 100.02h0M326.42 86.87h0M314.91 75.48h0M311.37 101.47h0M307.56 93.14h0M316.72 95.21h0M318.39 84.97h0M308.43 94.87h0M302.86 102.61h0M316.94 82.78h0M329.38 73.16h0M309.44 93.61h0M317.42 82.45h0M306.93 102.25h0M315.64 88.25h0M307.71 100.43h0M317.02 96.99h0M320.44 69.56h0M313.29 92.78h0M307.99 99.66h0M325.34 79.59h0M321.18 100.87h0M321.85 89.66h0M329.95 101.77h0M309.05 101.87h0M319.7 75.87h0M306.91 101.85h0M305.6 89.46h0M298.76 67.17h0M306.95 77.49h0M311.37 74.16h0M320.54 79.87h0M307.85 96.68h0M325.95 96.52h0M323.68 62.28h0M316.23 98.13h0M327.14 66.01h0M295.54 98.09h0M302.13 96.2h0M297.48 86.34h0M327.4 98.61h0M325.35 86.54h0M324.79 63.43h0M329.91 102.66h0M329.27 84.09h0M318.66 88.91h0M324.77 68.58h0M297.56 63.7h0M302.91 91.45h0M311.01 100.78h0M319.1 91.3h0M303.24 102.83h0M308.84 101.77h0M315.52 79.3h0M315.34 63.78h0M300.7 96.86h0M312.37 89.46h0M320.7 83.05h0M324.37 100.94h0M325.88 96.33h0M321.01 94.29h0M301.15 91.27h0M316.78 80.19h0M317.63 96.87h0M324.85 101.12h0M329.01 90.64h0M327.22 73.26h0M314.94 95.76h0M313.59 101.32h0M323.6 78.37h0M324.58 102.24h0M305.18 98.66h0M305.64 95.18h0M313.58 84.34h0M303.41 101.6h0M329.86 95.46h0M308.42 101.74h0M308.53 93.17h0M328.25 101.61h0M315.12 102.12h0M310.26 102.86h0M320.01 88.48h0M313.62 95.96h0M314.88 95.1h0M301.12 90.05h0M318.35 93.19h0M315.52 98.18h0M306.48 84.63h0M322.64 99.52h0M319.7 94.33h0M318.39 90.66h0M314.09 87.61h0M323.98 102.18h0M313.7 96.41h0M315.39 102.3h0M317.75 66.72h0M319.23 98.43h0M314.4 84.87h0M327.93 95.84h0M311.39 97h0M302.68 102.54h0M308.51 89.45h0M323.08 94.12h0M329.37 85.33h0M329.22 83.4h0M298.8 74.35h0M313.94 102.16h0M315.95 95.84h0M328.35 58.49h0M322.78 91.95h0M326.51 82.71h0M308.16 85.24h0M302.75 92.56h0M321.51 63.96h0M314.05 73.48h0M307.82 85.47h0M321.31 83.93h0M323.81 99.01h0M308.08 84.1h0M311.99 89.33h0M317.43 101h0M321.69 95.63h0M324.16 97.92h0M311.12 72.08h0M325.28 90h0M310.54 99.95h0M315.77 102.74h0M312.1 90.04h0M316.21 92.97h0M327.93 73.48h0M319.49 80.9h0M313.3 82.97h0M305.7 61.38h0M311.23 87.56h0M315.84 101.67h0M321.81 95.09h0M310.45 91.32h0M312.11 100.49h0M315.41 84.21h0M306.21 90.02h0M315.74 92h0M322.6 75.49h0M306.7 90.31h0M320.46 83.85h0M307.23 87.92h0M323.27 102.08h0M319.67 95.32h0M318.04 70.57h0M312.05 86.26h0M315.61 99.17h0M315.89 58.35h0M321.43 64.46h0M321.75 85.61h0M325.43 61.11h0M310.64 100.14h0M324.26 73.08h0M320.49 95.31h0M324.91 80.69h0M327.46 92.53h0M306.15 97.61h0M306.54 89.05h0M320.38 98.92h0M318.59 88.11h0M318.49 100.15h0M321.67 84.9h0M320.23 95.44h0M324.88 84.52h0M326.64 93.57h0M313.76 98.01h0M312.58 95.04h0M316.41 101.24h0M322.88 99.72h0M313.04 93.94h0M313.83 96.18h0M304.4 102.76h0M313.21 97.08h0M321.71 98.31h0M309.16 99.26h0M318.9 100.82h0M317.16 69.98h0M303.96 101.19h0M327.37 78.29h0M312.98 102.22h0M309.05 94.88h0M306.54 86.26h0M312.96 97.07h0M322.43 98.52h0M323.41 99.18h0M320.84 89.86h0M313.62 100.81h0M295.96 76.23h0M309.96 91.38h0M320.88 83.89h0M307.12 85.9h0M306.34 98.33h0M305.86 79.52h0M317.93 94.69h0M314.63 83.45h0M324.07 76.03h0M329.54 94.33h0M303.83 97.91h0M308.6 84.66h0M313.92 102.54h0M321.01 86.85h0M328.95 59.25h0M328.66 100.88h0M323.09 87.79h0M323.09 90.24h0M316 101.37h0M329.98 97.29h0M325.44 91.49h0M314.52 83.99h0M306.49 96.3h0M321.51 97.35h0M306.51 102.26h0M322.2 87.6h0M312.65 94.76h0M319.18 102.82h0M308.09 101.94h0M313.83 102.43h0M304.47 55.09h0M315.85 90.8h0M317.78 83.51h0M312.27 89.49h0M320.11 91.95h0M311.51 101.64h0M323.54 99.72h0M300.03 83.65h0M316.37 75.49h0M320.85 98.97h0M320.47 63.35h0M323.49 58.59h0M319.63 95.84h0M326.4 76.98h0M310.54 102.02h0M296.92 102.53h0M307.93 84.21h0M310.67 93.05h0M313.39 96.4h0M309.45 88.83h0M319.68 85.55h0M323.77 89.44h0M305.36 98.66h0M306.23 102.79h0M326.65 98.14h0M317.93 55.37h0M308.32 90.08h0M308.25 99.39h0M305.08 69.33h0M317.56 100.08h0M311.66 93.48h0M301.06 68.69h0M312.21 92.14h0M303.24 93.82h0M323.82 94.51h0M314.34 94.52h0M311.56 96.69h0M320.67 100.56h0M310.75 64.5h0M326.1 91.91h0M305.86 96.78h0M325.87 96.53h0M328.36 58.21h0M325.81 100.78h0M321.56 91.53h0M321.42 91.46h0M317.89 77.07h0M326.87 82.25h0M326.56 102.69h0M325.7 96.48h0M308.39 101.16h0M310.54 96.13h0M321.95 74.54h0M328.11 76.27h0M318.38 99.98h0M314.18 86.53h0M328.67 89.46h0M300.85 88.8h0M314.59 65.63h0M298.54 78.9h0M323.6 80.72h0M309.19 86.41h0M325.85 81.71h0M318.05 98.32h0M314.21 90.45h0M328.52 75.68h0M300.12 87.73h0M298.45 88.21h0M329.41 73.6h0M320.66 99.17h0M309.69 87.17h0M325.12 98.43h0M323.93 63.1h0M325.33 92.53h0M308.78 102.63h0M320.85 102.26h0M306.13 81.67h0M308.92 76.53h0M312.47 93h0M312.71 91.96h0M304.69 69.54h0M319.31 74.87h0M320.55 89.43h0M304.14 75.48h0M307.79 98.99h0M308.55 79.21h0M309.73 91.66h0M325.35 88.78h0M295.76 102.26h0M324.21 69.02h0M311.52 100.36h0M306.53 101.43h0M323.36 77.98h0M313.65 99.26h0M303.31 86.75h0M307.32 91.97h0M298.48 101.98h0M320.8 99.34h0M299.49 96.62h0M314.33 102.12h0M328.82 98.61h0M323.53 97.06h0M312.23 90.78h0M326.61 66.82h0M301.1 99.86h0M323.81 96.01h0M317.31 102.4h0M311.18 98.67h0M308.28 84.71h0M324.9 83.5h0M306.31 89.9h0M308.5 92.9h0M329.31 97.34h0M329.65 97.83h0M315.93 100.94h0M319.09 80.42h0M295.41 99.78h0M310.83 98.29h0M303.23 88.52h0M312.54 98.94h0M312.54 82.06h0M325.81 98.19h0M313.73 87.47h0M324.34 90.22h0M321.49 87.93h0M310.81 100.17h0M313.49 99.85h0M320.33 102.12h0M314.25 81.45h0M309.17 90.75h0M309.77 92.78h0M326.09 97.51h0M327.3 92.4h0M316.41 79.43h0M308.41 83.18h0M315.76 100.02h0M324.67 98.61h0M329.37 64.75h0M309.15 102.04h0M309.3 97.68h0M313.08 93.81h0M326.36 100.42h0M308.14 102.46h0M317.33 98.62h0M317.88 98.58h0M319.88 77.53h0M317.01 80.25h0M321.62 59.74h0M305.94 99.03h0M319.12 75.8h0M316.71 93.16h0M303.06 100.83h0M324.1 101.05h0M300.81 79.58h0M317.41 99.36h0M302.35 95.3h0M309.04 95.63h0M310.06 96.68h0M318.46 97.64h0M311.35 97.95h0M322.68 100.81h0M311.29 88.87h0M325.78 89.18h0M311.07 92.67h0M325.87 101.76h0M329.54 96.06h0M313.09 88.57h0M307.56 99.43h0M327.04 94.54h0M306.8 93.61h0M328.6 96.6h0M325.05 96.88h0M317.08 98.32h0M312.74 99.84h0M317.55 95.8h0M321.1 100h0M312.44 91.02h0M314.58 93.87h0M307.94 94.57h0M323.68 94.41h0M302.5 79.13h0M315.53 98.79h0M322.66 94.24h0M320.16 72.49h0M309.35 96.52h0M320.46 98.25h0M299.83 84.21h0M312.85 65.51h0M306.61 98.22h0M308.68 83.13h0M302.18 95.1h0M304.5 100.23h0M322.68 93.61h0M318.88 102.36h0M317.73 102.11h0M308.15 91.29h0M296.94 92.96h0M328.55 83.72h0M321.98 100.54h0M316.98 94.31h0M316.63 91.45h0M308.22 102.02h0M322.23 93.85h0M310.51 96.31h0M318.55 100.57h0M328.76 92.09h0M329.97 99.38h0M300.95 91.49h0M299.15 95.74h0M326.42 71.03h0M322.81 99.81h0M307.56 99.78h0M301.06 99.48h0M312.82 71.54h0M324.24 100.05h0M324.54 92.82h0M313.99 99.51h0M319.88 100.06h0M327.8 102.78h0M328.8 88.14h0M300.1 97.56h0M319.68 97.04h0M326.21 99.78h0M322 101.08h0M325.17 89.21h0M317.99 83.81h0M319.19 99.35h0M313.27 97.36h0M327.97 98.57h0M301.77 75.5h0M324 98.23h0M304.2 89.59h0M301.84 94.83h0M296.9 64.74h0M324.58 101.97h0M307.72 94.35h0M295.6 98.94h0M303.85 100.01h0M305.97 72.48h0M318.36 78.04h0M308.34 97.95h0M317.61 65.06h0M308.95 100.47h0M307.86 93.65h0M310.5 96.27h0M313.3 95.9h0M310.44 78.78h0M302.91 86.45h0M309.44 99.83h0M323.8 73.59h0M329.83 100.17h0M315.72 83.48h0M328.07 83.65h0M319.6 98.13h0M324.38 71.91h0M312.77 93.41h0M323.24 83.38h0M307.85 101.06h0M327.59 98.4h0M312.66 73.5h0M326.47 93.29h0M323.24 87.87h0M325.83 96.51h0M299.91 89.47h0M322.77 78.21h0M314.21 64.14h0M328.82 102.11h0M325.52 92.22h0M313.7 98.74h0M307.94 95.98h0M313.45 77.87h0M307.62 86.31h0M304.07 86.59h0M327.15 94.13h0M303.65 97.5h0M295.26 82.23h0M310.13 102.12h0M328.46 93.82h0M309.26 96.32h0M318.22 96.26h0M328.84 89.17h0M295.41 63.77h0M319.32 76.18h0M328.41 97.77h0M312.13 88.29h0M305.64 85.2h0M325.68 101.27h0M297.87 101.84h0M314.1 100.57h0M326.37 100.94h0M316.9 77.44h0M321.43 101.67h0M326 94.89h0M299.67 86.79h0M325.12 80.82h0M305.39 76.27h0M325.13 82.53h0M325.96 98.53h0M325.05 89.42h0M305.77 94.75h0M325.97 85.24h0M301.8 90.97h0M309.26 65.13h0M325.71 84.65h0M304.97 80.19h0M326.8 100.22h0M319.97 86.52h0M302.25 90.29h0M320.75 98.03h0M323.82 79.75h0M313.44 95.84h0M325.42 97.5h0M300.43 95.34h0M318.1 97.95h0M319.6 68.48h0M303.71 94.02h0M307 101.3h0M329.69 88.36h0M329.64 99.03h0M318.55 97.67h0M322.16 95.72h0M315.52 99.68h0M312.86 102.71h0M314.62 74.73h0M309.78 90.75h0M310.36 86.98h0M307.66 102.34h0M303.02 91.49h0M325.95 89.29h0M329.11 97.21h0M327.08 88.12h0M323.42 91.86h0M315.76 86.9h0M315.89 98.03h0M305.8 100.23h0M306.52 82.51h0M307.23 96.25h0M314.37 90.93h0M308.31 98.72h0M303.44 86.1h0M314.6 98.41h0M299.48 95.74h0M305.21 82.86h0M329.57 88.48h0M305.87 101.75h0M316.88 101.07h0M300.59 88.85h0M326.27 94.95h0M325.13 89.79h0M311.64 101.12h0M317.37 86.87h0M325 100.34h0M320.84 77.64h0M321.77 80.35h0M329.05 94.21h0M318.89 99.43h0M308.63 89.19h0M309.72 72.13h0M313.86 100.56h0M297.8 95.2h0M322.91 101.75h0M328.17 89.49h0M316.06 98.82h0M316.52 93.37h0M304.77 93.74h0M320.89 99.61h0M316.89 99.96h0M317.28 64.23h0M321.63 102.31h0M321.68 100.87h0M315.12 97.37h0M314.74 102.07h0M317.31 90.1h0M324.45 95.06h0M320.41 91.17h0M314.81 94.65h0M311.79 84.02h0M295.82 85.22h0M323.58 81.2h0M322.2 100.8h0M312.85 85.41h0M325.04 83.57h0M308.61 74.04h0M323.68 88.08h0M321.66 85.69h0M308.07 86.52h0M316.84 73.06h0M313.36 98.39h0M316.53 99.52h0M304.34 69.95h0M325.36 86.26h0M306.02 92.48h0M322.51 100.87h0M317.25 97.67h0M319.25 77.47h0M323.74 71.05h0M324.31 102.36h0M301.04 76.05h0M305.38 69.32h0M313.08 83.99h0M308.51 86.9h0M323.21 99.84h0M316.93 92.79h0M317.19 101.75h0M313.84 100.88h0M326.76 58.9h0M307.52 75.62h0M303.77 86.2h0M306.54 90.11h0M326.65 100.6h0M307.38 85.95h0M310.46 102.77h0M320.59 101.65h0M299.57 87.99h0M326.91 89.49h0M300.77 88.07h0M321.35 102.69h0M325.49 101.03h0M311.76 89h0M324.93 67h0M309.37 99.87h0M317.28 99.41h0M312.46 84.51h0M299.61 96.59h0M315.86 91.16h0M300.67 55.41h0M319.22 102.45h0M318.34 102.72h0M327.19 96.35h0M296.19 101.11h0M318.25 102.1h0M317.1 95.33h0M328.39 81.84h0M325.41 86.68h0M296.52 88.91h0M311.9 95.84h0M320.99 89.97h0M315.87 90.82h0M321.54 85.51h0M319.35 95.8h0M314.89 76.28h0M314.31 93.47h0M313.98 96.6h0M321.22 91.03h0M307.63 91.2h0M321.53 77.09h0M308.63 95.49h0M313.29 93.45h0M305.17 101.93h0M324.53 98.08h0M301.12 97.83h0M324.54 97.48h0M306.43 88.5h0M327.36 56.22h0M309.02 94.03h0M302.13 94.55h0M316.09 99.3h0M304.31 71.62h0M310.53 88.72h0M300.58 96.37h0M324.32 100.88h0M322.34 73.65h0M317.87 92.93h0M313.26 100.09h0M325.9 61.16h0M327.71 99.38h0M326.8 95.12h0M302.83 95.59h0" stroke="#00a5aa" stroke-width="1.8" stroke-linecap="round" fill="none"/>
<path d="M351.83 102.2h0M355.05 101.45h0M346.84 69.35h0M346.3 97.2h0M340.13 96.28h0M347.69 102.09h0M346.69 102.58h0M359.84 94.97h0M338.61 68.81h0M351.36 90.14h0M337.1 83.69h0M348.5 87.97h0M337.88 88.72h0M351.52 93.75h0M341.04 100.25h0M343.43 98.73h0M365.39 93.17h0M345.23 98.85h0M343.64 96.62h0M348.69 66.99h0M364.48 100.16h0M338.87 90.45h0M362.05 84.4h0M354.63 102.46h0M340.35 71.05h0M358.48 91.74h0M358.16 98.51h0M363.27 96.54h0M352.64 91.89h0M340.23 100.74h0M348.98 101.37h0M367.1 101.27h0M342.66 97.76h0M339.47 54.7h0M366.36 97.71h0M336.94 90.95h0M351.17 102.39h0M336.79 97.98h0M345.03 100.55h0M341.71 100.19h0M336.96 76.55h0M358.54 99.06h0M337.87 76.43h0M337.4 93.12h0M346.13 102.75h0M351.75 89.36h0M343.34 88.25h0M364.81 101.65h0M341.82 100.4h0M350.19 102.74h0M343.55 78.16h0M339.22 69.81h0M345.92 99.6h0M338.16 66.49h0M349.85 101.67h0M351.64 94.81h0M344.42 75.15h0M351.17 96.56h0M353.95 58.75h0M357.34 101.05h0M358.86 68.77h0M362.33 93.29h0M348.31 92.73h0M337.02 100.61h0M347.19 90.29h0M340.91 61.7h0M338.93 92.51h0M346.71 86.84h0M355 96.38h0M343.66 94.22h0M348.57 89.5h0M352.01 100.89h0M363.47 95.68h0M356.6 100.96h0M339.94 95.11h0M355 93.53h0M336.57 87.03h0M360.43 88.6h0M351.2 102.59h0M338.54 76.73h0M345.53 92.5h0M344.7 98.72h0M345.21 92.89h0M346.29 102.17h0M349.31 82.42h0M367.26 92.76h0M343.35 93.87h0M366.68 98.59h0M343.48 96.49h0M365.76 95.63h0M343.43 101.28h0M348.12 93.74h0M338.04 63.11h0M336.85 78.47h0M341.33 96.13h0M337.83 82.1h0M341.83 84.07h0M338.09 96.86h0M345.55 93.12h0M355.51 91.97h0M339.29 100.58h0M348.61 78.84h0M363.77 96.2h0M339.87 70.59h0M342.64 92.88h0M337.48 98.33h0M363.03 102.2h0M351.05 101.53h0M359.32 87.47h0M352.07 91.89h0M336.74 95.34h0M343.28 93.28h0M336.98 61.84h0M337.34 88.44h0M341.84 85.68h0M352.79 100.34h0M360.08 101.35h0M339.21 101.55h0M337.49 99.8h0M350.69 102.35h0M352.57 102.43h0M336.55 73.73h0M351.35 101.66h0M341.47 97.43h0M348.06 101.98h0M337.86 81.97h0M338.53 97.14h0M345.46 95.08h0M345.59 91.73h0M341.15 78.07h0M343.62 93.87h0M362.92 100.83h0M344.41 97.77h0M351.16 98.34h0M337.98 102.59h0M352.54 96.67h0M362.7 96.18h0M345.68 87.05h0M338.95 93.44h0M349.34 95.95h0M346.53 101.41h0M336.47 83.66h0M342.34 92.46h0M338.71 86.86h0M342.88 72.64h0M346.85 102.33h0M336.86 98.11h0M341.13 100.38h0M354.66 100.17h0M340.91 80.21h0M349.41 95.46h0M341.77 78.29h0M337.81 97.86h0M351.69 101.39h0M345.82 96.92h0M341.67 90.61h0M341.55 90.96h0M344.85 64.33h0M341.61 79.02h0M353.62 94.61h0M340.69 78.33h0M349.78 97.79h0M352.41 99h0M348.79 85.43h0M342.35 57.4h0M340.01 100.5h0M363.37 97.27h0M364.03 94.6h0M345.26 82.43h0M341.78 88.79h0M338.9 82.48h0M352.24 94.69h0M336.71 99.03h0M345.98 101.55h0M344.8 88.34h0M364.07 101.29h0M344.57 94.4h0M341.12 98.94h0M349.06 93.9h0M350.54 100.68h0M348.26 94.3h0M343.06 82.37h0M341.28 94.23h0M344.43 82.63h0M349.5 93.47h0M344.72 99.16h0M342.66 102.3h0M348.54 74.65h0M338.14 94.51h0M337.84 70.42h0M343.51 99.2h0M337.54 89.05h0M351.37 101.27h0M348.41 93.93h0M349.52 101.42h0M346.61 94.63h0M336.8 98.46h0M365.29 100.21h0M345.04 100.64h0M365.69 91.46h0M362.9 89.52h0M346.48 102.77h0M342.04 82.43h0M346.23 94.76h0M336.46 97.18h0M346.17 79.89h0M347.09 94.1h0M339.31 87.87h0M356.48 93.99h0M340.13 99.94h0M344.15 101.61h0M351.32 93.03h0M350.19 100.33h0M345.95 98.4h0M360.78 98.52h0M345.8 99.08h0M345.34 94.56h0M338.09 92.01h0M343.27 96.92h0M346.96 91.14h0M344.42 92.91h0M353.7 101.01h0M339.03 99.81h0M342.91 82.42h0M351.53 91.98h0M339.45 102.77h0M352.48 100.69h0M347.74 78.61h0M364.3 88.89h0M336.88 97.11h0M337.54 99.95h0M336.83 95.3h0M353.83 97.56h0M351.36 93.15h0M336.64 67.91h0M350.6 96.41h0M338.73 102.32h0M346.33 101.05h0M344.07 98.82h0M348.97 96.33h0M346.09 91h0M350.46 98.01h0M336.88 95.16h0M341.81 93.16h0M345.96 102.36h0M344.24 102.62h0M347.96 92.04h0M338.15 76.26h0M351.91 98.82h0M346 100.76h0M359.73 90.87h0M361.09 94.56h0M339.55 95.01h0M359.49 100.44h0M358.11 73.97h0M346.69 99.11h0M357.48 94.49h0M343.25 100.58h0M341.57 84h0M338.54 83.78h0M349.21 102.73h0M348.33 91.51h0M343.14 96.82h0M337.15 97.43h0M353.17 100.37h0M346.06 93.12h0M340.51 102.69h0M355.82 100.3h0M342.79 100.87h0M337.41 98.55h0M340.32 101.11h0M351.7 98.89h0M336.9 95.34h0M345.93 100.05h0M349.53 95.12h0M338.73 74.87h0M353.8 88.62h0M342.56 102.56h0M339.11 98.91h0M366.35 100.01h0M354.67 96.36h0M349.68 97.33h0M347.7 96.68h0M346.31 96.98h0M339.91 100.19h0M350.78 96.18h0M338.41 86.48h0M351.09 85.37h0M347.9 69.13h0M366.4 99.29h0M345.86 87.76h0M348.14 99.52h0M359.51 78.53h0M344.79 82.45h0M361.35 101.7h0M340.18 86.14h0M345.44 101.63h0M339.61 89.57h0M350.34 100.92h0M348.79 95.83h0M361.7 101.84h0M338.82 92.1h0M348.85 85.02h0M351.29 78.31h0M349.07 80.04h0M355.6 95.44h0M355.24 98.05h0M338.02 72.04h0M346.15 97.68h0M339.72 101.38h0M339.33 98.95h0M342.83 75.57h0M341.9 95.05h0M337.7 95.8h0M350.22 95.93h0M350.71 90.93h0M340.9 102.38h0M353.51 89.75h0M347.39 95.8h0M336.69 83.09h0M343.19 85.12h0M341.92 92.41h0M338.59 85.52h0M337.97 98.01h0M365.26 102h0M341.54 102.45h0M345.29 102.69h0M354.44 99.68h0M352.53 101.84h0M340.11 96.75h0M350.4 98.84h0M340.97 74.7h0M336.93 96.72h0M340.65 97.07h0M346.43 102.47h0M348.18 85.89h0M352.99 94.04h0M345.7 100.48h0M364.17 98.17h0M366.22 86.12h0M344.73 98.29h0M337.83 90.77h0M337.27 79.94h0M338.67 96.61h0M342.74 100.34h0M362.52 86.21h0M349.71 84.43h0M352.99 101.62h0M337.24 77.66h0M342.35 97.22h0M351.59 93.32h0M354.6 99.01h0M354.73 88.84h0M353.57 98.12h0M343.8 97.24h0M361.91 66.49h0M363.81 99.27h0M337.5 94.17h0M366.95 101.46h0M341.44 89.27h0M339.38 66.63h0M347.38 91.96h0M358.08 96.22h0M353.66 102.54h0M361.29 92.5h0M353.28 87.12h0M350.3 96.74h0M351.68 101.53h0M345.58 98.15h0M349.28 102.31h0M353.71 93.71h0M339.05 95.86h0M343.41 99.07h0M339.67 100.75h0M339.39 94.01h0M346.41 81.79h0M346.67 99.28h0M354.65 102.61h0M343.56 91.57h0M341.58 95.59h0M338.44 88.18h0M336.61 55.82h0M342.51 99.76h0M341.46 90.66h0M343.02 101.79h0M356.59 99.87h0M354.57 91.15h0M337.54 85.55h0M338.59 91.13h0M360.84 100.18h0M344.17 100.57h0M359.48 101.02h0M366.7 97.98h0M356.98 102.75h0M340.67 65.11h0M350.59 101.55h0M336.51 101.71h0M336.66 97.36h0M349.89 100.83h0M346.13 91.8h0M350.01 87.63h0M363.79 96.95h0M337.63 82.09h0M340.43 97.07h0M347.98 90.97h0M343.09 102.61h0M338.15 95.52h0M339.4 62.86h0M339.96 98.74h0M355.73 88.05h0M337.65 90.68h0M337.97 88.44h0M338.75 99.29h0M342.05 94.16h0M337.83 102.65h0M347.71 92.74h0M340.35 97.14h0M356.37 93.49h0M336.74 97.32h0M342.07 75.62h0M360.74 58.91h0M364.97 102.18h0M337.89 84.26h0M337.27 101.16h0M344.88 97.53h0M345.03 90.73h0M341.59 100.27h0M351.54 101.16h0M344.38 92.45h0M343.11 92.6h0M337.07 75.35h0M341.14 100.96h0M359.89 90.33h0M337.47 92.4h0M337.34 68.93h0M341.21 102.27h0M367.18 102.64h0M350.86 100.72h0M351.06 83.81h0M345.62 87.6h0M336.43 92.36h0M350.66 98.5h0M341.08 89.29h0M349.75 79.29h0M336.45 94.44h0M347.28 85.37h0M350.3 100.93h0M341.13 94.18h0M349.89 92.28h0M338.92 96.93h0M345.36 88.1h0M351.9 101.25h0M350.44 98.27h0M348.3 97.88h0M347.39 94.17h0M354.23 79.9h0M348.98 94.83h0M348.75 102.22h0M342.7 81.47h0M347.45 102.1h0M342.33 86.64h0M348.64 93.48h0M343.22 97.02h0M354.71 101.39h0M339.24 74.13h0M339.17 93.38h0M366.56 101h0M351.69 99.99h0M351.47 94.14h0M363.72 96.52h0M339.06 67.35h0M340.55 88.34h0M338.75 65.99h0M345.01 97.59h0M349.03 92.14h0M351.37 90.43h0M351.29 100.97h0M364.7 97.08h0M351.97 100.63h0M363.2 100.99h0M341.94 84.88h0M340.19 80.15h0M340.81 84.17h0M342.9 100.34h0M341.65 101.61h0M340.66 96.88h0M349.52 88.28h0M337.76 101.05h0M362.54 92.82h0M356.2 101.48h0M341.36 82.16h0M341.94 101.75h0M343.73 90.95h0M354.95 100.9h0M338.41 102.22h0M337.53 87.25h0M349.64 97.78h0M337.89 79.19h0M362.34 100.88h0M341.93 95.25h0M338 102.37h0M366.85 74.25h0M345.9 100.69h0M336.43 93.78h0M358.29 100.89h0M343.53 100.37h0M350.03 98.37h0M361.84 101.85h0M361.26 98.5h0M345.42 100.81h0M337.96 92.45h0M359.53 97.5h0M345.36 93.77h0M338.73 85.94h0M364.74 97.86h0M344.27 102.37h0M347.51 73.89h0M338.58 90.83h0M350.65 102.03h0M342.65 83.09h0M341.08 84.81h0M338.31 101.49h0M357.99 97.09h0M347.16 98.44h0M349.86 102.28h0M357.17 97.18h0M350.27 100.14h0M336.92 55.15h0M351.62 101.68h0M336.62 87.69h0M361.78 97.64h0M354.72 100.02h0M344.52 96.23h0M342.77 60.76h0M359.99 88.01h0M342.84 88.19h0M344.37 95.4h0M342.85 100.47h0M337.52 90.84h0M343.52 101.7h0M351.38 90.56h0M350.48 99.88h0M345.61 100.18h0M357.45 100.55h0M338.87 97.36h0M339.07 98.54h0M341.61 94.62h0M343.69 89.8h0M342.44 78.2h0M339.57 102.68h0M364.91 98.96h0M358.89 82.85h0M355.12 100.43h0M350.51 98.13h0M336.58 92.13h0M356.48 91.01h0M366.07 92.99h0M339.92 57.05h0M362.22 102.45h0M345.94 101.52h0M342.19 99.05h0M337.97 90.95h0M347.68 98.36h0M339.25 96.3h0M346.36 97.74h0M344.04 84.44h0M362.64 102.7h0M337.53 66.86h0M349.94 99.69h0M346.07 100.97h0M341.95 89.42h0M345.51 87.53h0M359.94 98.72h0M340.6 75.53h0M346.05 86.89h0M349.29 98.19h0M349.26 97.68h0M354.35 101.59h0M358.71 78.38h0M339.34 100.66h0M353.98 101.53h0M346.4 95.11h0M347.48 93.35h0M349.92 97.68h0M352 100.13h0M361.11 93.82h0M336.62 60.14h0M339.13 96.57h0M337.31 91.28h0M340.42 96.34h0M347.85 102.63h0M349.4 98.86h0M354.76 97.4h0M341.44 95.65h0M357.94 99.66h0M365.8 102.77h0M347.02 96.7h0M346.43 101.33h0M338.57 66.02h0M356.12 91.32h0M345.36 100.19h0M360.46 59.73h0M341.4 81.55h0M347.21 86.54h0M346.58 99.8h0M340.67 80.04h0M341.13 86.25h0M353.23 87.88h0M345.05 82.93h0M342.39 86.99h0M341.24 91.7h0M342.96 80.76h0M346.44 99.87h0M342.31 101.09h0M338.17 91.62h0M351.22 101.12h0M344.54 91.02h0M348.62 99.17h0M341.82 89.67h0M346.58 99.53h0M365.98 90.16h0M341.66 92.42h0M338.39 86.22h0M338.16 92.5h0M355.92 77.59h0M345.23 78.41h0M346.76 97.21h0M364.81 102.88h0M351.48 95.22h0M347.05 97.95h0M348.53 100.61h0M355.92 96.76h0M347.14 99.09h0M338.97 95.57h0M339.39 97.32h0M337.89 99.6h0M360.32 102.21h0M362.53 95.84h0M358.4 101.76h0M337.25 89.89h0M348.37 102.3h0M337.3 93.51h0M362.94 102.55h0M338.33 98.07h0M339.19 96.78h0M340.55 89.19h0M346.59 99.94h0M344.02 98.73h0M341.5 61.99h0M346.4 102.48h0M346.11 84.25h0M351.62 69.98h0M347.29 97.42h0M366.27 92.57h0M345.24 101.63h0M337.7 95.71h0M343.51 101.77h0M347.41 99.93h0M348.92 94.92h0M365.97 100.78h0M351.19 84.16h0M349.98 102.2h0M348.89 102.02h0M353.58 91.87h0M342.9 92.41h0M348.88 102.6h0M348.7 97.02h0M347.75 98.19h0M347.34 90.53h0M357.72 102.77h0M343.71 102.46h0M337.74 73.04h0M345.95 100.51h0M357.39 97.43h0M354.41 76.22h0M336.7 95.69h0M344.43 102.15h0M362.89 92.62h0M351.64 94.2h0M353 98.91h0M349.97 98.03h0M353.97 95.98h0M355.27 100.55h0M344.93 97.48h0M340.21 96.81h0M344.36 101.08h0M340.8 84.41h0M348.56 80.54h0M347.75 94.6h0M349.6 94.34h0M350.17 98.27h0M336.46 74.11h0M349.11 74.84h0M338.56 87.15h0M337.36 101.3h0M341.99 99.97h0M347.1 87.36h0M347.02 89.01h0M354.91 96.47h0M353.89 99.56h0M344.49 101.59h0M338.41 100.58h0M355.08 79.11h0M359.35 97.92h0M347.98 101.15h0M339.5 99.38h0M347.6 80.09h0M338.25 99.18h0M340.95 71.14h0M342.75 90.64h0M340.94 94.32h0M340.01 89.21h0M339.45 101.61h0M338 102.81h0M362 82.19h0M347.29 86.5h0M336.67 95.84h0M341.94 91.48h0M338.86 102.48h0M337.56 97.49h0M348.53 100.82h0M344.12 102.42h0M347.83 100.62h0M346.52 95.45h0M343.07 89.59h0M346.72 90.56h0M356.72 101.7h0M339.87 89.4h0M340.07 100.33h0M338.58 70.99h0M340.73 82.2h0M356.04 81.43h0M358.9 99.88h0M345.93 102.3h0M338.96 99.2h0M341.23 102.05h0M347.62 98.75h0M359.89 102.86h0M344.47 99.91h0M351.28 99.95h0M341.99 99.44h0M345.28 91.12h0M352.21 101.43h0M339.62 100.57h0M336.76 90.71h0M336.63 100.68h0M345.22 98.66h0M351.57 98.83h0M351.64 101.68h0M340.65 101.82h0M363.14 96.27h0M343.78 95.04h0M340.21 76.2h0M339.05 87.36h0M357.79 99.95h0M345.95 100.98h0M356.33 98.82h0M347.11 101.26h0M342.71 102.69h0M337.68 98.44h0M349.45 95.57h0M345.09 95.68h0M341.96 86.67h0M366.66 102.76h0M341.08 94.31h0M356.77 97.01h0M364.69 96.31h0M337.37 93.15h0M347.33 93.36h0M344.14 80.17h0M355.8 99.46h0M341.64 76.52h0M367.37 102.05h0M355.57 100.62h0M341.35 99.55h0M353.06 102.23h0M348.22 89.58h0M341.43 100.77h0M362.5 101.04h0M349.4 99.44h0M346.86 94.27h0M336.44 94.1h0M338.41 90.58h0M355.36 101.88h0M345.87 93.99h0M355.73 97.54h0M348.75 99.71h0M340.9 77.15h0M353.11 90.15h0M355.2 91.21h0M344.74 100.14h0M348.97 99.72h0M364.39 88.32h0M361.9 90.03h0M365.71 87.01h0M349.89 102.15h0M348.95 96.66h0M355.11 102.37h0M349.23 90.03h0M345.35 102.52h0M354.41 101.22h0M342.56 94.41h0M338.37 73.04h0M341.36 70.65h0M361.94 91.05h0M340.59 91.6h0M352.95 93.82h0M350.3 93.53h0M356.39 98.24h0M338.67 96.02h0M344.89 94.25h0M362.37 76.54h0M344.73 95.04h0M340.5 97.18h0M343.02 95.76h0M345.6 60.52h0M351.13 100.03h0M344.18 96.34h0M339.05 101.51h0M357.47 99.7h0M350.33 99.8h0M341.61 87.87h0M343.39 101.58h0M345.29 102.87h0M339.63 80.3h0M336.81 99.13h0M345.22 90.68h0M366.45 96.79h0M345.54 98.63h0M338.25 93.26h0M345.75 74.72h0M342.95 90.54h0M355.52 100.55h0M340.07 91.87h0M343.77 61.9h0M338.76 93.43h0M364.42 102.42h0M339.04 76.18h0M338.13 72.86h0M363.62 99.68h0M354.09 82.76h0M341.27 97.7h0M362.63 97.2h0M339.82 88.36h0M346.48 74.68h0M342.33 91.5h0M350.02 101.05h0M345.96 89.96h0M337.61 79.27h0M348.21 102.73h0M363.62 97.59h0M362.91 94.52h0M337.24 100.3h0M345.7 91.26h0M355.9 99.5h0M363.15 73.68h0M350.49 98.87h0M353.38 97.04h0M361.78 93.98h0M349.78 102.45h0M358.95 95.6h0M347.61 90.88h0M350.05 98.8h0M353.7 99.38h0M336.68 99.52h0M343.15 94.99h0M349.82 95.18h0M339.56 93.79h0M356.56 97.65h0M356.16 88.49h0M346.25 101.7h0M337.19 58.25h0M363.19 97.7h0M343.21 75.56h0M351.29 70.02h0M359.36 102.72h0M344.87 102.84h0M336.53 101.46h0M347.21 99.49h0M339.56 98.53h0M339.55 61.87h0M338.97 85.47h0M337.17 92.6h0M347.77 100.6h0M345.69 97.7h0M343.44 101.55h0M349.96 101.42h0M352.77 102.64h0M348.47 84.67h0M340.57 96.51h0M339.98 92.67h0M339.58 100.46h0M345.31 102.85h0M348.59 95.69h0M350.87 101.18h0M337.92 58.06h0M349.07 94.5h0M346.28 99.98h0M344.91 87.53h0M347.02 96.04h0" stroke="#f0645f" stroke-width="1.8" stroke-linecap="round" fill="none"/>
<path d="M316.66 20.26h0M312.91 20.26h0M316.75 20.68h0M307.66 20.46h0M316.53 20.54h0M329.65 20.71h0M318.8 20.41h0M295.53 20.61h0M301.76 20.62h0M317.57 20.72h0M295.7 20.49h0M306.05 20.41h0M303 20.7h0M310.31 20.53h0M297.84 20.53h0M316.87 20.27h0M306 20.36h0M313.89 20.25h0M329.77 20.43h0M327.66 20.22h0M321.2 20.74h0M309.73 20.42h0M316.47 20.38h0M302.59 20.75h0M317.24 20.5h0M310.46 20.68h0M320.79 20.37h0M305.03 20.45h0M295.55 20.45h0M297.74 20.6h0M305.78 20.4h0M301.55 20.35h0M301.97 20.73h0M310.28 20.53h0M305.27 20.77h0M315.59 20.3h0M318.61 20.2h0M330.22 20.64h0M301.38 20.46h0M327.06 20.66h0M322.49 20.55h0M300.77 20.59h0M314.85 20.29h0M295.59 20.52h0M327.35 20.4h0M317.04 20.26h0M325.91 20.73h0M304.59 20.63h0M320.8 20.46h0M325.99 20.23h0M304.13 20.27h0M324.01 20.64h0M301.96 20.6h0M312.37 20.54h0M308.87 20.54h0M314.17 20.39h0M307.04 20.3h0M316.78 20.69h0M301.93 20.55h0M307.89 20.31h0M295.81 20.22h0M320.94 20.28h0M303.9 20.51h0M300.79 20.55h0M310.99 20.33h0M318.54 20.58h0M328.59 20.4h0M322.14 20.57h0M314.59 20.22h0M304.86 20.46h0M295.19 20.26h0M323.91 20.27h0M314.18 20.34h0M312.93 20.44h0M303.32 20.47h0M303.76 20.77h0M310.48 20.28h0M320.88 20.3h0M320.96 20.67h0M327.55 20.51h0M321.07 20.67h0M323.57 20.56h0M326.5 20.65h0M307.61 20.42h0M324.49 20.76h0M307.42 20.75h0M322.79 20.62h0M305.99 20.37h0M304.2 20.61h0M310.58 20.33h0M298.9 20.69h0M300.54 20.3h0M313.1 20.23h0M308.43 20.32h0M325.19 20.53h0M311.72 20.48h0M294.18 20.71h0M328.36 20.2h0M314.35 20.67h0M324.76 20.77h0M326.87 20.73h0M298.92 20.8h0M329.84 20.59h0M325.89 20.36h0M309.44 20.27h0M310.9 20.79h0M319.53 20.48h0M305.13 20.33h0M309.37 20.37h0M311.54 20.54h0" stroke="#00a5aa" stroke-width="1.5" stroke-linecap="round" fill="none"/>
<path d="M346.32 20.56h0M346.44 20.5h0M347.49 20.71h0M353.46 20.55h0M351.47 20.38h0M342.78 20.39h0M342.43 20.66h0M353.78 20.59h0M343.59 20.28h0M351.66 20.54h0M342.52 20.8h0M351.4 20.78h0M354.76 20.67h0M353.96 20.77h0M342.73 20.41h0M348.24 20.58h0M342.61 20.36h0M351.68 20.78h0M347.34 20.76h0M353.18 20.74h0M343.16 20.43h0M350.09 20.69h0" stroke="#f0645f" stroke-width="1.5" stroke-linecap="round" fill="none"/>
<path d="M358.33 20.27h0M357.71 20.22h0M356.24 20.23h0" stroke="#f0645f" stroke-width="1.5" stroke-linecap="round" fill="none"/>
<line x1="288.8" y1="22" x2="288.8" y2="113.3" stroke="#1a1a1a" stroke-width="1.2" />
<line x1="288.3" y1="112.8" x2="378.5" y2="112.8" stroke="#1a1a1a" stroke-width="1.2" />
<line x1="285.5" y1="108.3" x2="288.8" y2="108.3" stroke="#1a1a1a" stroke-width="1.3" />
<text x="282.5" y="110.6" font-size="6.4" fill="#333" text-anchor="end" stroke="#333" stroke-width="0.22" >0</text>
<line x1="285.5" y1="87.47" x2="288.8" y2="87.47" stroke="#1a1a1a" stroke-width="1.3" />
<text x="282.5" y="89.78" font-size="6.4" fill="#333" text-anchor="end" stroke="#333" stroke-width="0.22" >5</text>
<line x1="285.5" y1="66.65" x2="288.8" y2="66.65" stroke="#1a1a1a" stroke-width="1.3" />
<text x="282.5" y="68.95" font-size="6.4" fill="#333" text-anchor="end" stroke="#333" stroke-width="0.22" >10</text>
<line x1="285.5" y1="45.82" x2="288.8" y2="45.82" stroke="#1a1a1a" stroke-width="1.3" />
<text x="282.5" y="48.13" font-size="6.4" fill="#333" text-anchor="end" stroke="#333" stroke-width="0.22" >15</text>
<line x1="285.5" y1="25" x2="288.8" y2="25" stroke="#1a1a1a" stroke-width="1.3" />
<text x="282.5" y="27.3" font-size="6.4" fill="#333" text-anchor="end" stroke="#333" stroke-width="0.22" >20</text>
<line x1="293" y1="112.8" x2="293" y2="115.8" stroke="#1a1a1a" stroke-width="1.3" />
<text x="293" y="124.8" font-size="6.4" fill="#333" text-anchor="middle" stroke="#333" stroke-width="0.22" >−1.0</text>
<line x1="313.1" y1="112.8" x2="313.1" y2="115.8" stroke="#1a1a1a" stroke-width="1.3" />
<text x="313.1" y="124.8" font-size="6.4" fill="#333" text-anchor="middle" stroke="#333" stroke-width="0.22" >−0.5</text>
<line x1="333.2" y1="112.8" x2="333.2" y2="115.8" stroke="#1a1a1a" stroke-width="1.3" />
<text x="333.2" y="124.8" font-size="6.4" fill="#333" text-anchor="middle" stroke="#333" stroke-width="0.22" >0.0</text>
<line x1="353.3" y1="112.8" x2="353.3" y2="115.8" stroke="#1a1a1a" stroke-width="1.3" />
<text x="353.3" y="124.8" font-size="6.4" fill="#333" text-anchor="middle" stroke="#333" stroke-width="0.22" >0.5</text>
<line x1="373.4" y1="112.8" x2="373.4" y2="115.8" stroke="#1a1a1a" stroke-width="1.3" />
<text x="373.4" y="124.8" font-size="6.4" fill="#333" text-anchor="middle" stroke="#333" stroke-width="0.22" >1.0</text>
<text x="338" y="137.37" font-size="8.8" fill="#333" text-anchor="middle" font-weight="bold" textLength="52" lengthAdjust="spacingAndGlyphs" stroke="#333" stroke-width="0.05" >Delta inclusion ratio</text>
<text x="312.7" y="41.18" font-size="6.6" fill="#333" text-anchor="middle" stroke="#333" stroke-width="0.22" >2149</text>
<text x="355.4" y="41.18" font-size="6.6" fill="#333" text-anchor="middle" stroke="#333" stroke-width="0.22" >930</text>
<text transform="translate(12.3,64.2) rotate(-90)" font-size="9.6" font-weight="bold" fill="#333" stroke="#333" stroke-width="0.05" text-anchor="middle" textLength="34" lengthAdjust="spacingAndGlyphs">−log<tspan font-size="6" dy="2.2">10</tspan><tspan dy="-2.2"> (FDR)</tspan></text>
<text x="404" y="10.5" font-size="11.5" font-weight="bold" fill="#000">B</text>
<text x="428" y="20.24" font-size="9" fill="#5aaa5a" stroke="#5aaa5a" stroke-width="0.22"><tspan textLength="27.5" lengthAdjust="spacingAndGlyphs">SRSF2</tspan><tspan font-size="6.8" dy="-3.9" stroke-width="0" textLength="30" lengthAdjust="spacingAndGlyphs">P95H/+/+</tspan></text>
<defs><clipPath id="vg1"><circle cx="459.2" cy="48" r="20.5"/></clipPath><clipPath id="vb1"><circle cx="448.2" cy="77" r="28.1"/></clipPath><clipPath id="vr1"><circle cx="478.5" cy="74" r="37.8"/></clipPath></defs>
<circle cx="459.2" cy="48" r="20.5" fill="#afdc96"/>
<circle cx="448.2" cy="77" r="28.1" fill="#8a96c3"/>
<circle cx="478.5" cy="74" r="37.8" fill="#e28c7d"/>
<circle cx="478.5" cy="74" r="37.8" fill="#d7875a" clip-path="url(#vg1)"/>
<circle cx="478.5" cy="74" r="37.8" fill="#96698c" clip-path="url(#vb1)"/>
<circle cx="448.2" cy="77" r="28.1" fill="#698c96" clip-path="url(#vg1)"/>
<g clip-path="url(#vg1)"><circle cx="478.5" cy="74" r="37.8" fill="#875f7d" clip-path="url(#vb1)"/></g>
<circle cx="459.2" cy="48" r="20.5" fill="none" stroke="#000" stroke-opacity="0.12" stroke-width="0.7"/>
<circle cx="448.2" cy="77" r="28.1" fill="none" stroke="#000" stroke-opacity="0.12" stroke-width="0.7"/>
<circle cx="478.5" cy="74" r="37.8" fill="none" stroke="#000" stroke-opacity="0.12" stroke-width="0.7"/>
<text x="453.5" y="41.98" font-size="6.6" fill="#1f4a26" text-anchor="middle" stroke="#1f4a26" stroke-width="0.35" >163</text>
<text x="468.5" y="51.88" font-size="6.6" fill="#4a2610" text-anchor="middle" stroke="#4a2610" stroke-width="0.35" >186</text>
<text x="444.5" y="55.88" font-size="6.6" fill="#10284a" text-anchor="middle" stroke="#10284a" stroke-width="0.35" >27</text>
<text x="461.2" y="63.88" font-size="6.6" fill="#2a1432" text-anchor="middle" stroke="#2a1432" stroke-width="0.35" >62</text>
<text x="432.3" y="83.58" font-size="6.6" fill="#18224a" text-anchor="middle" stroke="#18224a" stroke-width="0.35" >373</text>
<text x="456.5" y="83.58" font-size="6.6" fill="#301634" text-anchor="middle" stroke="#301634" stroke-width="0.35" >504</text>
<text x="494.6" y="83.58" font-size="6.6" fill="#4a1812" text-anchor="middle" stroke="#4a1812" stroke-width="0.35" >1074</text>
<text x="441.8" y="122.94" font-size="9" fill="#2d4f78" text-anchor="middle" textLength="42" lengthAdjust="spacingAndGlyphs" stroke="#2d4f78" stroke-width="0.22" >RUNX1 KD</text>
<text x="502.7" y="122.94" font-size="9" fill="#be2d50" text-anchor="middle" textLength="25.5" lengthAdjust="spacingAndGlyphs" stroke="#be2d50" stroke-width="0.22" >Double</text>
<text x="1.5" y="153.5" font-size="11.5" font-weight="bold" fill="#000">C</text>
<text x="56.5" y="157.44" font-size="9" fill="#5aaa5a" stroke="#5aaa5a" stroke-width="0.22"><tspan textLength="20" lengthAdjust="spacingAndGlyphs">Srsf2</tspan><tspan font-size="6.8" dy="-3.9" stroke-width="0" textLength="22.5" lengthAdjust="spacingAndGlyphs">P95H/+</tspan></text>
<text x="192" y="158.24" font-size="9" fill="#2d4f78" stroke="#2d4f78" stroke-width="0.22"><tspan textLength="37.5" lengthAdjust="spacingAndGlyphs">Runx1 KO</tspan><tspan font-size="6" dy="-3.9" stroke-width="0"></tspan></text>
<text x="324.7" y="157.8" font-size="9" fill="#be2d50" textLength="26.5" lengthAdjust="spacingAndGlyphs" stroke="#be2d50" stroke-width="0.22" >Double</text>
<path d="M72.55 234.09h0M55.6 244.16h0M48.98 245.08h0M64.2 234.28h0M71.57 242.71h0M55.26 241.82h0M67.07 234.78h0M72.86 240.68h0M65.4 243.78h0M68.21 229.57h0M73.15 243.96h0M65.91 227.37h0M69.78 244.26h0M54.92 244.66h0M67.63 221.34h0M48.5 237.25h0M67.08 240.13h0M45.14 241.32h0M74.02 228.99h0M52.87 245.49h0M70.06 235.09h0M57.46 238.97h0M49 244.2h0M51.99 243.99h0M63.64 243.32h0M55.67 243.41h0M72.92 241.04h0M54.52 243.57h0M73.71 238.9h0M58.69 244.4h0M46.93 241.88h0M68.11 245.04h0M52.43 233.63h0M72.43 243.25h0M73.91 240.68h0M68.5 230.73h0M49.75 244.43h0M57 240.67h0M67.45 232.78h0M58.19 240.8h0M61.19 242.47h0M64.9 239.59h0M68.28 238.99h0M71.74 233.23h0M53.53 245.35h0M57.51 243.33h0M64.57 228.97h0M67.71 222.71h0M73.07 230.99h0M56.01 243.73h0M70.99 242.52h0M40.12 230.86h0M58.52 243.68h0M52.01 241.38h0M48.71 242.82h0M38.99 236.89h0M47.62 239.2h0M65.34 245.43h0M71.3 240.36h0M59.5 236.22h0M47.18 243.46h0M70.1 228.74h0M59.84 240.86h0M69.59 233.01h0M49.99 245.05h0M57.06 236.47h0M51.64 243.37h0M63.06 244.05h0M60.83 236.94h0M39.95 239.85h0M53.82 239.72h0M51.6 235.77h0M70.96 236.39h0M66.23 240.72h0M66.35 239.21h0M58.64 245.06h0M64.71 236.27h0M57.71 244.5h0M54.38 244.8h0M62.94 245.37h0M63.2 244.76h0M64.65 241.52h0M46.28 234.08h0M57.5 244.86h0M57.45 238.81h0M57.54 244.87h0M47.2 235.82h0M50.15 243.24h0M52.39 240.76h0M66.09 243.7h0M54.43 241.15h0M73.55 238.5h0M63.38 239.24h0M74.2 241.2h0M66.25 243.18h0M70.74 239.14h0M48.1 229.15h0M52.98 238.81h0M52.38 244.85h0M67.71 244.1h0M60.33 244.85h0M54.51 239.98h0M71.2 245.48h0M50.23 245.02h0M65.78 236.74h0M57.88 245.07h0M41.07 244.93h0M55.53 240.37h0M51.97 242.49h0M73.83 237.89h0M65.88 242.64h0M67.51 244.74h0M54.8 243.09h0M53.6 232.42h0M72.33 241.46h0" stroke="#00a5aa" stroke-width="1.8" stroke-linecap="round" fill="none"/>
<path d="M92.28 241.71h0M87.51 238.45h0M96.98 241.64h0M83.54 241.88h0M82.95 241.24h0M81.03 242.43h0M96.72 241.48h0M93.5 245.49h0M94.32 241.85h0M89.29 243.13h0M78.31 245.2h0M82.95 227.78h0M103.33 238.58h0M90.95 244.04h0M79.82 243.91h0M82.84 243.73h0M77.65 242.77h0M90.56 240.5h0M87 245.41h0M105.63 235.6h0M83.02 243.74h0M107.6 244.42h0M97.42 244.61h0M83.46 230.55h0M93.04 241.76h0M78.9 237.4h0M80.97 245.01h0M94.99 240.01h0M87.43 241.74h0M109.12 224.6h0M99.57 226.71h0M78.43 238.3h0M92.34 233.81h0M98.2 240.77h0M83.61 237.2h0M78.99 242.62h0M81.64 243.36h0M87.37 242.95h0M81.5 232.56h0M103.42 242.46h0M101.19 242.11h0M77.8 240.62h0M93.3 240.83h0M79.73 238.67h0M82.87 242.87h0M82.95 245.25h0M80.09 245.35h0M79.55 242.73h0M94.95 241.92h0M103.5 236.48h0M77.41 242.16h0M88.26 243.88h0M78.95 222.46h0M78.75 242.4h0M79.41 237.89h0M77.43 223.76h0M92.15 232.21h0M89.95 245.49h0M90.52 241.66h0M80.57 245.04h0M105.13 242.8h0M84.6 244.15h0" stroke="#f0645f" stroke-width="1.8" stroke-linecap="round" fill="none"/>
<path d="M37.88 227.66h0" stroke="#00a5aa" stroke-width="1.8" stroke-linecap="round" fill="none"/>
<path d="M37.88 230.6h0" stroke="#00a5aa" stroke-width="1.8" stroke-linecap="round" fill="none"/>
<path d="M39.85 228.5h0" stroke="#00a5aa" stroke-width="1.8" stroke-linecap="round" fill="none"/>
<path d="M43.8 226.4h0" stroke="#00a5aa" stroke-width="1.8" stroke-linecap="round" fill="none"/>
<path d="M108.97 224.3h0" stroke="#f0645f" stroke-width="1.8" stroke-linecap="round" fill="none"/>
<path d="M110.95 228.5h0" stroke="#f0645f" stroke-width="1.8" stroke-linecap="round" fill="none"/>
<path d="M59.54 161.2h0" stroke="#00a5aa" stroke-width="1.5" stroke-linecap="round" fill="none"/>
<path d="M65.87 161.77h0M63.66 161.46h0" stroke="#00a5aa" stroke-width="1.5" stroke-linecap="round" fill="none"/>
<line x1="32" y1="163" x2="32" y2="253" stroke="#1a1a1a" stroke-width="1.2" />
<line x1="31.5" y1="252.5" x2="117" y2="252.5" stroke="#1a1a1a" stroke-width="1.2" />
<line x1="28.7" y1="249.5" x2="32" y2="249.5" stroke="#1a1a1a" stroke-width="1.3" />
<text x="25.7" y="251.8" font-size="6.4" fill="#333" text-anchor="end" stroke="#333" stroke-width="0.22" >0</text>
<line x1="28.7" y1="228.5" x2="32" y2="228.5" stroke="#1a1a1a" stroke-width="1.3" />
<text x="25.7" y="230.8" font-size="6.4" fill="#333" text-anchor="end" stroke="#333" stroke-width="0.22" >5</text>
<line x1="28.7" y1="207.5" x2="32" y2="207.5" stroke="#1a1a1a" stroke-width="1.3" />
<text x="25.7" y="209.8" font-size="6.4" fill="#333" text-anchor="end" stroke="#333" stroke-width="0.22" >10</text>
<line x1="28.7" y1="186.5" x2="32" y2="186.5" stroke="#1a1a1a" stroke-width="1.3" />
<text x="25.7" y="188.8" font-size="6.4" fill="#333" text-anchor="end" stroke="#333" stroke-width="0.22" >15</text>
<line x1="28.7" y1="165.5" x2="32" y2="165.5" stroke="#1a1a1a" stroke-width="1.3" />
<text x="25.7" y="167.8" font-size="6.4" fill="#333" text-anchor="end" stroke="#333" stroke-width="0.22" >20</text>
<line x1="35.9" y1="252.5" x2="35.9" y2="255.5" stroke="#1a1a1a" stroke-width="1.3" />
<text x="35.9" y="265.3" font-size="6.4" fill="#333" text-anchor="middle" stroke="#333" stroke-width="0.22" >−1.0</text>
<line x1="55.65" y1="252.5" x2="55.65" y2="255.5" stroke="#1a1a1a" stroke-width="1.3" />
<text x="55.65" y="265.3" font-size="6.4" fill="#333" text-anchor="middle" stroke="#333" stroke-width="0.22" >−0.5</text>
<line x1="75.4" y1="252.5" x2="75.4" y2="255.5" stroke="#1a1a1a" stroke-width="1.3" />
<text x="75.4" y="265.3" font-size="6.4" fill="#333" text-anchor="middle" stroke="#333" stroke-width="0.22" >0.0</text>
<line x1="95.15" y1="252.5" x2="95.15" y2="255.5" stroke="#1a1a1a" stroke-width="1.3" />
<text x="95.15" y="265.3" font-size="6.4" fill="#333" text-anchor="middle" stroke="#333" stroke-width="0.22" >0.5</text>
<line x1="114.9" y1="252.5" x2="114.9" y2="255.5" stroke="#1a1a1a" stroke-width="1.3" />
<text x="114.9" y="265.3" font-size="6.4" fill="#333" text-anchor="middle" stroke="#333" stroke-width="0.22" >1.0</text>
<text x="78" y="277.67" font-size="8.8" fill="#333" text-anchor="middle" font-weight="bold" textLength="52" lengthAdjust="spacingAndGlyphs" stroke="#333" stroke-width="0.05" >Delta inclusion ratio</text>
<text x="49.8" y="180.68" font-size="6.6" fill="#333" text-anchor="middle" stroke="#333" stroke-width="0.22" >128</text>
<text x="96.75" y="180.68" font-size="6.6" fill="#333" text-anchor="middle" stroke="#333" stroke-width="0.22" >65</text>
<path d="M193.5 234.93h0M192.06 242.59h0M197.1 237.11h0M185.09 238.16h0M204.8 216.54h0M203.28 242.94h0M193.07 242.69h0M199.99 236.8h0M201.24 200.53h0M193.15 238.76h0M194.81 235.99h0M191.33 243.26h0M198.03 228.97h0M205.42 232.87h0M185.2 236.48h0M196.42 232.24h0M203.17 235.47h0M186.47 241.6h0M197.79 229.42h0M195.49 243.27h0M192.13 242.84h0M187.28 241.84h0M179.04 241.02h0M188.1 238.02h0M205.31 238.25h0M204.38 233.59h0M202.66 233.47h0M174.56 227.3h0M202.18 235.42h0M184.69 244.59h0M186.56 237.89h0M179.64 245.31h0M192.1 238.21h0M197.99 238.48h0M203.82 238.82h0M187.65 243.38h0M186.51 238.79h0M204.81 238.83h0M195.1 242.65h0M193.08 231.73h0M204.41 217.14h0M174.49 234.16h0M189.58 241.71h0M188.27 244.16h0M188.02 234.05h0M198.08 224.64h0M196.82 245.12h0M203.42 230.42h0M189.54 232.13h0M187.7 244.16h0M186.75 244.08h0M190.4 234.09h0M199.48 243.94h0M189.68 243.48h0M184.04 238.74h0M190.78 228.96h0M199.35 228.39h0M191.25 243.54h0M176.49 235.98h0M192.65 244.93h0M198.83 229.06h0M199.96 240.59h0M203.75 240.14h0M202.8 204.7h0M200.64 242.8h0M199.25 243.67h0M187.42 231.37h0M173.2 232.68h0M178.57 239.86h0M194.16 220.46h0M172.74 239.27h0M186.6 238.95h0M174.63 236.88h0M182.89 227.06h0M202.47 217.74h0M194.5 240.51h0M190.11 239.31h0M190.58 245.25h0M189.86 244.58h0M189.61 243.75h0M188.17 244.3h0M204.82 205.96h0M181.71 228.85h0M190.88 235.78h0M205.14 238.44h0M190.32 241.58h0M198.12 236.07h0M202.71 212.52h0M200.63 240.71h0M196.89 243.76h0M200.1 239.14h0M205 203.4h0M192.16 226.98h0M200.13 230.93h0M180.26 234.48h0M200.79 237.16h0M199.53 229.14h0M184.26 237.55h0M200.64 233.82h0M184.91 228.48h0M190.53 245.01h0M203.61 219.56h0M202.22 210.47h0M202.45 222.02h0M189.69 243.63h0M182.89 236.07h0M194.83 244.92h0M200.05 234.02h0M180.87 213.51h0M192.47 242.11h0M200.39 239.24h0M197.45 229.63h0M199.18 228.15h0M205.13 210.87h0M178.57 237.99h0M172.62 236.24h0M196.93 243.23h0M195.21 243.36h0M197.35 234.04h0M190.69 208.12h0M183.13 239.14h0M202.42 201.32h0M187.4 242.93h0M196.84 244.37h0M194.08 226.08h0M200.38 236.06h0M201.65 242.64h0M204.85 239.06h0M189.29 239.86h0M200.61 230.2h0M190.21 234.94h0M196.91 241.08h0M184.41 244.99h0M187.91 240.45h0M197.46 233.14h0M196.75 235.49h0M187.92 240.2h0M185.26 243.01h0M186.19 238.94h0M196.35 242.12h0M185.86 227.07h0M182.16 228.2h0M202.3 234.01h0M200.85 244.35h0M189.17 241.61h0M181.38 241.54h0M199.9 199.14h0M202.76 241.4h0M199.39 243.85h0M189.23 241.19h0M197.27 242.61h0M200.94 238.75h0M199 221.41h0M200.77 242.76h0M203.27 231.45h0M192.44 240.56h0M187.76 242.03h0M196.37 238.84h0M205.06 232h0M199.92 232.42h0M192.61 234.99h0M188.41 242.68h0M205.39 235.92h0M191.63 241.96h0M195.1 244.94h0M190.01 244.65h0M197.32 236.04h0M198.87 214.12h0M172.6 243.42h0M201.63 210.53h0M196.13 244.59h0M187.14 244.09h0M205.37 208.33h0M203.22 211.06h0M198.34 242.37h0M183.03 231.33h0M199.41 201.78h0M201.75 241.59h0M198.21 216.65h0M200.16 240.77h0M175.48 241.47h0M201.67 220.83h0M193.7 237.28h0M196.42 245.17h0M202.03 216.17h0M193.43 237.25h0M175.57 219.18h0M184.18 231.03h0M192.04 240.27h0M204.36 241.68h0M204.29 208.27h0M182.94 239.03h0M193.26 244.78h0M186.45 244.13h0M200.49 231.9h0M197.63 237.95h0M182.17 230.18h0M189.18 244.8h0M205.25 244.82h0M198.11 243.24h0M202.72 209.78h0M198.86 235.79h0M197.41 244.64h0M179.45 231.87h0M185.88 244.75h0M203.2 241.76h0M190.37 240.33h0M197.28 219.78h0M185.59 233.63h0M175.53 236.98h0M204.42 239.52h0M204.69 216.89h0M199.8 229.96h0M188.52 244.03h0M202.38 197.37h0M184.81 217.64h0M193.21 241.17h0M195.33 243.3h0M192.21 241.91h0M174.19 243.29h0M205.38 236.7h0M200.97 243.62h0M201.76 206.77h0M200.01 235.65h0M204.8 212.7h0M199.78 242.04h0M202.45 241.49h0M184.35 234.37h0M188.15 233.86h0M187.83 238.8h0M180.43 244.54h0M190.16 227.37h0M189.11 232.83h0M191.91 235.99h0M202.2 244.58h0M201.56 234.65h0M199.17 240.97h0M201.37 229.68h0M188.98 234.57h0M201.08 230.6h0M175.57 242.91h0M204.96 239.06h0M191.75 243.28h0M205.32 235h0M190.59 243.48h0M176.63 244.16h0M191.16 238.57h0M203.79 242.15h0M197.41 234.81h0M177.72 236.88h0M194.98 244.97h0M196.38 240.28h0M184.45 240.91h0M194.13 233.32h0M199.45 231.64h0M191.69 244.3h0M198.21 221.93h0M190.19 231.58h0M203.22 238.25h0M189.25 244.39h0M199.76 236h0M205.17 240.17h0M197.4 234.98h0M192.62 244.23h0M186.53 243.13h0M194.31 241.66h0M198.19 241.36h0M198.63 244.12h0M203.23 230.84h0M175.63 227.53h0M190.92 245.33h0M201.45 229.06h0M184.68 238.15h0M192.66 245.33h0M183.6 243.34h0M177.09 229.11h0M181.46 239.5h0M197.36 242.61h0M198.46 229.56h0M175.99 244.65h0M198.29 244.89h0M205.41 220.81h0M203.09 212.09h0M193.46 237.73h0M204.59 240.82h0M182.39 241.63h0M205.12 221.05h0M187.35 243.48h0M187.99 235.33h0M187.6 241.42h0M195.74 243.63h0M197.18 230.26h0M200.18 199.79h0M203.1 238.28h0M181.27 240.02h0M184.46 228.49h0M195.37 222.07h0M202 241.78h0M184.04 217.47h0M204.27 221.49h0M193.79 245.33h0M197.44 220.71h0M198.59 240.58h0M198.19 241.28h0M196.38 245.02h0M201.84 240.56h0M201.44 238.82h0M202.16 198.59h0M201.11 227.28h0M200.91 240.81h0M199.62 225.35h0M185.37 233.64h0M195.94 225.64h0M189.37 243.17h0M196.42 241.32h0M201.83 241.92h0M204.09 240.68h0M193.38 244.2h0M189.79 241.37h0M200.51 235.76h0M199.92 243.53h0M193.15 240.93h0M184.59 232.27h0M201.33 227.38h0M202.38 236.1h0M204.49 235.91h0M203.87 242.57h0M204.67 230.36h0M189.93 243.73h0M176.77 244.77h0M202.7 212.54h0M204.78 240.11h0M194.68 241.02h0M175.21 241.87h0M197.22 240.28h0M202.85 212.6h0M199.3 204.72h0M191.65 225.12h0M172.56 239.26h0M190.29 243.41h0M188.39 237.52h0M191.59 244.65h0M195.78 242.24h0M195.76 237.2h0M203.27 244.17h0M196.38 245.05h0M197.27 240.74h0M203.77 232.64h0M202.8 206.6h0M172.91 242.36h0M193.23 229.41h0M201.06 222.55h0M195.41 235.05h0M190.6 240.75h0M205.38 232.24h0M180.97 233.04h0M188.13 244.99h0M203.27 210.95h0M184.93 241.86h0M195.13 235.35h0M190.44 241.99h0M199.83 237.8h0M205.07 238.74h0M187.08 243.53h0M189.51 242.65h0M201.04 243.52h0M191.75 240.62h0M192.53 239.85h0M202.83 242.1h0M190.13 243.99h0M190.44 237.86h0M203.85 216.17h0M205.26 228.02h0M190.52 238.27h0M199.92 212.52h0M198.18 244.13h0M193.44 240.3h0M205.01 225.83h0M191.92 239.4h0M178.23 230.36h0M187.94 240.89h0M199.48 222.98h0M196.18 236.92h0M186.85 244.29h0M183.81 239.41h0M190.76 242.98h0M196.65 239.3h0M201.01 245.24h0M182.94 219.6h0M204.13 241.84h0M202.78 243.61h0M197.41 243.75h0M193.58 232.53h0M202.53 244.79h0M196.71 196.49h0M204.9 230.86h0M202.15 240.46h0M190.06 240.66h0M199.94 241.69h0M190.35 237.15h0M200.22 210.92h0M193.13 228.42h0M191.38 243.11h0M185.44 243.38h0M200.2 237.53h0M185.28 242.72h0M202.15 236.19h0M194.52 237.21h0M191.29 228.85h0M191.32 243.19h0M173.07 232.53h0M200.19 242.77h0M173.51 232.48h0M183.14 244.5h0M186.62 240.85h0M178.41 239.83h0M202.03 237.89h0M173.71 235.44h0M200.58 231.61h0M186.1 206.5h0M205 244.95h0M192.34 243.62h0M176.45 243.83h0M202.52 225.71h0M191.04 242.88h0M204.69 232.28h0M203.58 235.9h0M186.41 211.21h0M190.93 235.58h0M194.89 217.49h0M190.85 241.57h0M186.68 244.64h0M176.84 243.37h0M186.38 232.05h0M176.5 219.08h0M192.54 229.88h0M182.69 243.39h0M204.21 202.58h0M187.12 244.82h0M195.17 241.63h0M201.64 244.96h0M180.2 241.26h0M204.23 238.8h0M189.78 240.58h0M194.7 224.34h0M202.94 232.72h0M201.98 229.16h0M203.09 245.37h0M175.11 234.79h0M197.68 209.9h0M173.22 234.45h0M188.26 244.04h0M195.89 241.98h0M195.59 223.59h0M199.04 236.14h0M205.19 244.83h0M174.67 230.55h0M194.94 244.1h0M196.74 234.75h0M188.24 240.82h0" stroke="#00a5aa" stroke-width="1.8" stroke-linecap="round" fill="none"/>
<path d="M224.34 234.51h0M241.79 243.14h0M221.82 239.66h0M217.43 243.03h0M224.49 234.63h0M211.04 241.51h0M240.69 217.09h0M221.66 240.66h0M209.55 225.8h0M211.81 236h0M222.61 236.66h0M223.39 244.49h0M222.79 234.54h0M210.43 235.71h0M216.4 242.88h0M213 242.34h0M225.33 243.46h0M224.78 245.12h0M216.68 237.65h0M239.97 245.28h0M226.07 237.5h0M224.69 238.84h0M229.27 236.82h0M213.88 244.28h0M209.37 203.86h0M216.64 244.29h0M214.96 236.19h0M212.79 236.78h0M218.26 245.23h0M229.02 236.89h0M238.13 241.66h0M215.96 239.99h0M217.48 233.11h0M217.59 240.32h0M221.25 244.68h0M224.12 226.83h0M218.79 239h0M219.94 243.71h0M217.21 236.89h0M213.73 235.62h0M216.44 241.6h0M213.35 244.8h0M213.25 244.63h0M222.71 242.15h0M209.85 233.08h0M209.64 233.35h0M217.04 244.6h0M217.69 245.39h0M214.24 226.44h0M210.89 243.27h0M226.24 237.8h0M213.04 240.48h0M213.82 241.37h0M221.14 226.97h0M219.78 242.81h0M218.42 218.73h0M209.17 233.82h0M213.21 207.42h0M217.97 233.3h0M228.86 234.4h0M215.85 244.25h0M216.35 244.96h0M230.86 229.24h0M232.74 240.55h0M215.82 243.81h0M219.82 232.05h0M216.33 231.7h0M212.69 228.22h0M232.15 239.09h0M214.23 240.17h0M217.15 234.16h0M218.87 237.74h0M211.24 237.7h0M221.65 245.3h0M211.49 225.43h0M216.37 242.71h0M214.77 242.57h0M221.8 235.89h0M219.09 230.71h0M217.6 235.73h0M216.9 243.26h0M210.11 240.46h0M220.59 225.57h0M233.45 231.46h0M210.56 240.25h0M216.77 244.54h0M218.64 228.61h0M216.12 228.03h0M218.44 240.66h0M227.79 244.94h0M234.66 244.52h0M230.28 240.26h0M210.91 223.17h0M216.89 240.06h0M220.2 225.4h0M212.48 228.48h0M220.1 244.63h0M215.42 245.21h0M211.13 236.26h0M210.18 205.11h0M213.86 244.42h0M214.84 196.11h0M217.54 242.67h0M214.53 243.13h0M212.26 230.29h0M234.62 242.59h0M219.62 242.61h0M224.68 237.37h0M227.52 241.2h0M209.3 237.25h0M223.52 225.97h0M220.86 243.58h0M215.27 240.95h0M211.29 245.02h0M210.87 242.29h0M234.35 238.48h0M213.17 213.39h0M239.54 241.65h0M212.28 233.39h0M217.14 245.02h0M212.72 237.27h0M214.03 238.78h0M213.79 241.19h0M217.71 236.64h0M210.55 239.25h0M219.04 231.8h0M217.31 239.01h0M216.95 242.2h0M211.88 207.24h0M227.46 239.33h0M220.82 243.83h0M226.29 239.35h0M217.27 229.29h0M215.54 241.35h0M215.18 230.53h0M213.02 232.46h0M220.37 243.15h0M226.34 232.97h0M227.8 238.41h0M222.59 241.42h0M239.36 215.79h0M215.2 237.31h0M210.32 233.11h0M231.79 243.72h0M222.07 242.83h0M212.76 235.98h0M215.72 240.1h0M212.65 243.06h0M211.35 234.81h0M221.17 244.39h0M212.67 243.74h0M216.72 240.13h0M218.54 244.93h0M240.47 242.87h0M220.29 244.94h0M213.1 209.63h0M215.71 244.32h0M219.09 236.56h0M223.39 244.65h0M212.25 241.96h0M209.26 219.17h0M240.9 236.62h0M212.81 243.86h0M233.11 234.84h0M219.62 226.53h0M213.89 239.12h0M215.85 243.12h0M218.45 244.92h0M224.28 240.75h0M225.56 239.26h0M210.45 231.99h0M229.3 224.53h0M218.52 233.19h0M219.31 243.54h0M210.85 214.46h0M214.37 228.02h0M216.98 239.2h0M230.01 227.28h0M223.39 245.35h0M231.35 227.86h0M210.17 223.9h0M212.64 224.38h0M211.71 234.71h0M209.67 234.04h0M211.42 216.2h0M216.73 242.66h0M223.18 243.18h0M212.36 239.35h0M222.89 232.67h0M219.93 233.43h0M222.56 243.92h0M236.9 235.81h0M219.21 228.98h0M209.42 229.46h0M221.91 236.29h0M224.83 240.69h0M218.88 244.69h0M211.66 243.2h0M240.06 235.27h0M214.86 243.4h0M210.07 244.01h0M216.63 244.87h0M215.83 242.52h0M214.43 227.82h0M219 243.33h0M219.92 244.92h0M213.81 243.3h0M213 236.23h0M220.6 240.22h0M226.16 242.36h0M210.85 240.92h0M214.22 242.14h0M219.28 231.08h0M217.06 239.09h0M227.85 229.29h0M219.89 237.2h0M217.23 241.29h0M214.14 216.05h0M210.68 229.34h0M217.49 244.49h0M215.09 238.1h0M216.63 212.49h0M209.72 238.82h0M209.5 223.83h0M223.52 243.67h0M214.1 200.15h0M214.23 238.31h0M213.49 232.92h0M220.31 239.17h0M210.76 245.17h0M220.32 239.11h0M214.51 244.96h0M210.44 240.45h0M217.12 229.95h0M235.57 222.33h0M219.47 239.86h0M210.56 235.7h0M235.41 223.05h0M209.87 237.71h0M235.55 239.74h0M214.29 241.1h0M215.42 238h0M211.18 232.32h0M215.7 239.5h0M223.46 243.77h0M212.95 235.4h0M214.72 244.96h0M215.16 237.24h0M209.69 239.44h0M215.27 225.41h0M235.62 222.47h0M217.6 244.45h0M212.49 236.17h0M216.03 241.49h0M231.44 233.18h0M215.91 239.51h0M214.59 245.21h0M213.41 233.61h0M219.04 244.85h0M222.37 244.71h0M216.67 240.93h0M238.59 238.04h0M215.02 207.82h0M215.59 233.68h0M210.24 221.16h0M236.11 243.81h0M224.98 245.27h0M218.71 236.45h0M209.92 244.82h0M219.77 243.1h0M214.08 239.54h0M218.67 239.22h0M218.68 236.42h0M217.79 239.6h0M223.43 228.87h0M218.19 236.74h0M212.82 240.61h0M220.42 241.63h0M225.97 211.64h0M216.58 244.57h0M215.8 244.37h0M212.07 215.01h0M209.67 215.14h0M211.81 239.64h0M221.82 242.97h0M240.54 219.78h0M220.7 245.01h0M221.19 243.3h0M228.21 230.31h0M216.66 238.34h0M210.09 239.09h0M217.92 224.71h0M224.76 235.05h0M209.87 243.81h0M235.3 239.24h0M217.71 244.68h0M222.06 245.25h0M209.95 234h0M209.98 244.42h0M223.07 244.67h0M213.05 240.52h0M214.34 208.88h0M220.85 237.47h0M218.71 240.67h0M223.9 233.49h0M234.11 215.63h0M217.52 236.31h0M216.37 232.68h0M214.12 229.14h0M226.21 242.99h0M236.31 240.68h0M241.39 237.81h0M210.15 245.21h0M214.86 244.62h0M221.39 238.73h0M210.36 206.94h0M236.49 235.75h0M212.55 236.15h0M213.27 243.25h0M219.22 242.1h0M220.09 240.01h0M221.98 244.43h0M209.93 225.57h0M209.47 238.83h0M220.64 240.67h0M218.84 229.67h0M228.87 245.2h0M212.46 231.36h0M221.11 243.78h0M240.25 238.84h0M220.2 235.25h0M219.27 244.86h0M212.81 243.52h0M223.28 242.16h0M226.79 244.24h0M220.66 243.4h0M221.48 240.85h0M221.48 244.66h0M217.59 240.93h0M220.59 239.52h0M219.2 243.88h0M212.92 240.11h0M210.51 231.24h0M223.34 242.38h0M237.48 237.59h0M210.11 210.22h0M240.07 244.69h0M213.18 243.37h0M210.26 232.65h0M227.96 230.25h0M232.46 228.67h0M217.5 238.54h0M223.29 244.01h0M220.23 242h0M223.34 236h0M213.3 245.34h0M223.18 238.87h0M218.07 244.84h0M222.76 245.27h0M222.99 244.92h0M220.39 235.84h0M217.01 239.96h0M223.16 240.41h0M212.03 237.31h0M220.29 243.74h0M210.16 224.53h0M209.25 236.09h0M241.49 242.79h0M210.4 243.37h0M220.27 238.96h0M219.98 244.2h0M231.61 242.81h0M226.51 245.25h0M210.65 219.89h0M222.97 241.25h0M212.74 219.73h0M212.82 241.29h0M213.37 216.7h0M217.74 236.57h0M217.39 235.14h0M222.42 242.23h0M223.09 242.97h0M241.45 245.11h0M215.71 242.55h0M213.86 239h0M220.03 241.27h0M221.49 242.59h0M224.8 244.58h0M221.75 245.15h0M219.28 238.23h0M218.64 233.2h0M214.08 243.17h0M220.65 235.5h0M212.07 199.56h0M214.22 240.46h0M209.57 227.69h0M211.68 238.13h0M211.49 231.91h0M211.01 240.51h0M220.49 241.01h0M230.37 238.56h0M222.46 243.63h0M221.15 242.82h0M219.81 236.62h0M229.18 241.93h0M217.26 237.8h0M233.61 242.96h0M220 235.78h0M214.4 227.65h0M211.07 244.89h0M209.45 238.75h0M211.2 237.39h0M209.94 239.54h0M217.63 239.98h0M213.75 218.45h0M212.8 238.37h0M216.9 225.39h0M209.18 215.56h0M209.52 240.32h0M209.17 236.97h0M218.58 222.63h0M211.05 243.75h0M214.12 245.1h0M236.57 242.6h0M215.53 232.21h0M222.8 239.29h0M216.83 237.91h0M221.78 242.2h0M213.8 232.74h0M226.02 241.32h0M224.01 241.2h0M235.57 239.24h0M209.92 224.51h0M209.97 244.04h0M218.76 240.81h0M219.44 243.84h0M214.67 215.1h0M226.11 226.71h0M213.54 243.77h0M209.53 241.52h0M218.6 231.36h0M222.92 231.92h0M227.18 245.02h0M213.92 206.5h0M222.65 243.85h0M219.27 241.73h0M221 244.74h0M241.6 230.79h0M217.3 244.7h0M212.92 242.51h0M226.67 243.55h0M231.69 227.81h0M221.96 242.82h0M233.22 241.91h0M210.42 233.96h0M222 243.99h0M214.18 239.23h0M224.17 241.74h0M216.08 229.41h0M218.35 238.65h0M215 243.35h0M222.87 240.18h0M221.06 242.79h0M220.22 243.56h0M220.1 239.58h0M210.56 225.81h0M213.85 218.19h0M223.31 244.46h0M241.57 243.84h0M215.45 242.22h0M210.36 244.88h0M210.42 239.48h0M232.64 243.9h0M223.26 230.3h0M218.81 244.88h0M227.78 237.03h0M230.02 242.18h0M218.37 238.61h0M210.09 239.32h0M211.01 243.83h0M221.31 235.54h0M213.28 241.22h0M224.9 244.37h0M226.92 219.44h0M210.28 239.83h0M238.62 237.5h0M214.96 241.72h0M228.99 244.44h0M214.03 241.73h0M234.37 240.16h0" stroke="#f0645f" stroke-width="1.8" stroke-linecap="round" fill="none"/>
<path d="M174.3 196.26h0" stroke="#00a5aa" stroke-width="1.8" stroke-linecap="round" fill="none"/>
<path d="M180.45 202.56h0" stroke="#00a5aa" stroke-width="1.8" stroke-linecap="round" fill="none"/>
<path d="M170.83 160.61h0M169.19 161.08h0M169.05 160.95h0" stroke="#00a5aa" stroke-width="1.5" stroke-linecap="round" fill="none"/>
<path d="M175.94 160.56h0M181.55 160.93h0M176.24 160.63h0M179.59 160.95h0M176.01 160.52h0M176.5 160.83h0M176.09 160.96h0M177.51 160.63h0M178.12 160.58h0M179.53 161.09h0M175.47 160.61h0M178.42 160.65h0M174.45 160.8h0M175.08 160.91h0" stroke="#00a5aa" stroke-width="1.5" stroke-linecap="round" fill="none"/>
<path d="M189.05 160.63h0M193.08 160.83h0M191.91 160.97h0M186.56 160.63h0M186.89 160.81h0M191.37 160.57h0M186.63 160.51h0M192 161.06h0M189.92 160.85h0M188.3 160.7h0M187.75 160.5h0M186.33 160.79h0M187.38 160.87h0M185.51 160.73h0M193.3 160.63h0M193.88 160.5h0M193.69 161.08h0M193.15 161.1h0" stroke="#00a5aa" stroke-width="1.5" stroke-linecap="round" fill="none"/>
<path d="M205.75 160.8h0M203.95 160.61h0M204 160.6h0M204.45 160.96h0M202.53 160.97h0M198.59 160.99h0M205.14 160.88h0M202.52 160.64h0M199.42 160.93h0M201.47 160.83h0M196.48 160.51h0M200.29 160.99h0M205.92 160.59h0M205.78 160.67h0M205.73 160.75h0M203.81 160.84h0M202.07 160.54h0M196.48 161.04h0M195.62 160.87h0M205.45 160.88h0M201.33 160.92h0M203.67 160.67h0M196.26 160.68h0M201.92 160.63h0M198.88 160.78h0M198.76 160.89h0" stroke="#00a5aa" stroke-width="1.5" stroke-linecap="round" fill="none"/>
<path d="M218.47 160.82h0M217.29 160.64h0M218.08 161.01h0M211.36 160.51h0M214 160.65h0M210.47 160.6h0M217.46 160.79h0M215.88 160.8h0M211.32 161.09h0M218.47 160.77h0M218.71 160.9h0M214.01 160.57h0M218.89 160.52h0M214 160.69h0M216.68 160.73h0M210.87 160.73h0" stroke="#f0645f" stroke-width="1.5" stroke-linecap="round" fill="none"/>
<path d="M222.36 160.85h0M234.14 160.9h0M234.47 160.84h0M229.23 160.84h0M222.3 160.69h0M228.07 160.82h0M233.7 160.92h0M226.39 161.09h0M229.92 160.54h0" stroke="#f0645f" stroke-width="1.5" stroke-linecap="round" fill="none"/>
<path d="M242.48 160.68h0M241.44 160.87h0M245.22 160.93h0M246.15 160.84h0" stroke="#f0645f" stroke-width="1.5" stroke-linecap="round" fill="none"/>
<line x1="162.4" y1="163" x2="162.4" y2="253.7" stroke="#1a1a1a" stroke-width="1.2" />
<line x1="161.9" y1="253.2" x2="253" y2="253.2" stroke="#1a1a1a" stroke-width="1.2" />
<line x1="159.1" y1="249.6" x2="162.4" y2="249.6" stroke="#1a1a1a" stroke-width="1.3" />
<text x="156.1" y="251.9" font-size="6.4" fill="#333" text-anchor="end" stroke="#333" stroke-width="0.22" >0</text>
<line x1="159.1" y1="228.6" x2="162.4" y2="228.6" stroke="#1a1a1a" stroke-width="1.3" />
<text x="156.1" y="230.9" font-size="6.4" fill="#333" text-anchor="end" stroke="#333" stroke-width="0.22" >5</text>
<line x1="159.1" y1="207.6" x2="162.4" y2="207.6" stroke="#1a1a1a" stroke-width="1.3" />
<text x="156.1" y="209.9" font-size="6.4" fill="#333" text-anchor="end" stroke="#333" stroke-width="0.22" >10</text>
<line x1="159.1" y1="186.6" x2="162.4" y2="186.6" stroke="#1a1a1a" stroke-width="1.3" />
<text x="156.1" y="188.9" font-size="6.4" fill="#333" text-anchor="end" stroke="#333" stroke-width="0.22" >15</text>
<line x1="159.1" y1="165.6" x2="162.4" y2="165.6" stroke="#1a1a1a" stroke-width="1.3" />
<text x="156.1" y="167.9" font-size="6.4" fill="#333" text-anchor="end" stroke="#333" stroke-width="0.22" >20</text>
<line x1="166.1" y1="253.2" x2="166.1" y2="256.2" stroke="#1a1a1a" stroke-width="1.3" />
<text x="166.1" y="266.3" font-size="6.4" fill="#333" text-anchor="middle" stroke="#333" stroke-width="0.22" >−1.0</text>
<line x1="186.6" y1="253.2" x2="186.6" y2="256.2" stroke="#1a1a1a" stroke-width="1.3" />
<text x="186.6" y="266.3" font-size="6.4" fill="#333" text-anchor="middle" stroke="#333" stroke-width="0.22" >−0.5</text>
<line x1="207.1" y1="253.2" x2="207.1" y2="256.2" stroke="#1a1a1a" stroke-width="1.3" />
<text x="207.1" y="266.3" font-size="6.4" fill="#333" text-anchor="middle" stroke="#333" stroke-width="0.22" >0.0</text>
<line x1="227.6" y1="253.2" x2="227.6" y2="256.2" stroke="#1a1a1a" stroke-width="1.3" />
<text x="227.6" y="266.3" font-size="6.4" fill="#333" text-anchor="middle" stroke="#333" stroke-width="0.22" >0.5</text>
<line x1="248.1" y1="253.2" x2="248.1" y2="256.2" stroke="#1a1a1a" stroke-width="1.3" />
<text x="248.1" y="266.3" font-size="6.4" fill="#333" text-anchor="middle" stroke="#333" stroke-width="0.22" >1.0</text>
<text x="214" y="278.17" font-size="8.8" fill="#333" text-anchor="middle" font-weight="bold" textLength="52" lengthAdjust="spacingAndGlyphs" stroke="#333" stroke-width="0.05" >Delta inclusion ratio</text>
<text x="188" y="180.38" font-size="6.6" fill="#333" text-anchor="middle" stroke="#333" stroke-width="0.22" >481</text>
<text x="231.2" y="180.38" font-size="6.6" fill="#333" text-anchor="middle" stroke="#333" stroke-width="0.22" >511</text>
<path d="M320.59 226.22h0M311.35 244.9h0M328.09 230.43h0M321.85 243.2h0M301.66 237.75h0M321.42 243.08h0M302.64 243.93h0M319.32 242.86h0M329.04 244.58h0M309.93 244.52h0M331.33 212.47h0M321.76 204.36h0M305.73 243.49h0M331.55 211.57h0M329.88 213.72h0M312.14 242.18h0M313.77 242.09h0M316.72 243.73h0M315.42 220.01h0M325.92 236.57h0M331.58 221.7h0M324.27 243.48h0M329.92 226.37h0M327.16 244.43h0M312.69 238.85h0M329.67 224.33h0M320.44 244.96h0M313.6 242.35h0M331.01 217.84h0M317.63 244.56h0M326.29 245.18h0M321.89 238.27h0M323.58 237.84h0M324.53 241.98h0M319.05 240.02h0M316.74 244.3h0M313.58 243.99h0M321.2 244.93h0M322.7 228.44h0M316.81 244.74h0M324.19 239.57h0M325.95 227.97h0M331.57 233.23h0M318.98 231.01h0M313.17 230.54h0M331.41 218.64h0M301.78 239.39h0M322.62 243.49h0M328.91 212.29h0M302.85 235.98h0M301.76 239.53h0M326.71 242.09h0M326.24 237.69h0M305.59 244.88h0M330.33 231.52h0M316.11 239.8h0M316.6 229.36h0M318.03 244.07h0M310.32 234.25h0M330.29 242.56h0M329.47 231.42h0M303.63 223.19h0M328.88 244.55h0M324.45 231.04h0M327 229.66h0M307.13 229.88h0M322.29 223.65h0M316.16 241.52h0M319.39 213.65h0M329.76 230.9h0M311.32 239.84h0M330.67 235.78h0M329.7 232.75h0M323.01 232.59h0M312.15 239.84h0M331.19 235.2h0M317.95 240.43h0M330.25 203.95h0M311.46 239.04h0M312.76 244.89h0M314.01 240.75h0M316.16 243.01h0M310.58 230.08h0M330.02 244.57h0M321.12 240.16h0M313.11 243h0M313.17 223.09h0M301.83 237.03h0M312.52 228.11h0M328.97 244.32h0M327.99 238.22h0M315.58 241.94h0M320.38 239.33h0M323.16 241.4h0M313.22 197.65h0M313.36 242.17h0M306.51 241.47h0M313.16 233.8h0M301.62 242.34h0M318.33 238.53h0M327.72 224.05h0M329.5 237.87h0M327.05 223h0M325.95 222.92h0M323.96 202.4h0M304.33 229.29h0M324.43 244.91h0M331.57 243.21h0M313.25 242.42h0M329.76 227.07h0M300.85 244.71h0M323.22 238h0M304.12 235.85h0M318.57 239.9h0M331.59 234.72h0M324.5 236.37h0M321.91 242.95h0M320.92 244.83h0M321.13 235.46h0M316.6 244.69h0M327.23 229.57h0M307.98 229.27h0M327.6 232.71h0M303.99 221.87h0M308.87 216.12h0M320.79 243.19h0M326.24 227.72h0M329.29 237.36h0M305.58 227.47h0M310.07 244.76h0M315.25 242.95h0M318.12 242.23h0M315.9 240.68h0M328.54 243.95h0M315.74 215.43h0M314.01 241.61h0M312.8 240.9h0M317.47 243.41h0M305.93 235.4h0M320.95 216.82h0M328.24 224.85h0M322.67 230.11h0M328.46 238.93h0M325.32 243.06h0M308.2 243.04h0M323.01 244.5h0M329.6 233.11h0M327.76 244.51h0M315.09 236.4h0M326.54 232.93h0M312.73 240.95h0M331.22 227.27h0M308.99 232.86h0M331.58 240.61h0M328.07 243.42h0M329.47 227.36h0M310.57 242.32h0M323.02 228.27h0M326.36 239.56h0M321.6 244.5h0M303.14 231.23h0M321.3 243.85h0M309.6 244.18h0M322.64 238.97h0M321.17 240.06h0M309.38 237.47h0M315.83 243.85h0M317.92 244.67h0M322.43 235.36h0M325.88 204.86h0M329.05 228.11h0M331.24 245.1h0M311.61 243.83h0M316.41 244.14h0M302.07 244.79h0M317.32 241.8h0M331.27 197.73h0M307.15 231.11h0M310.86 243.38h0M320.1 220.83h0M303.4 237.35h0M311.19 237.9h0M308.74 238.73h0M324.18 218.89h0M317.15 240.31h0M302.78 241.52h0M302.47 228.51h0M323.82 243.52h0M325.5 231.79h0M307.84 232.56h0M313.14 231.04h0M317.1 242.9h0M310.4 240.39h0M319.93 244.88h0M320.71 243.77h0M313.7 234.75h0M314.38 240.02h0M310.16 244.89h0M326.7 232.52h0M322.26 241.64h0M307.8 239.05h0M331.21 228.7h0M329.11 223.32h0M312.05 242.66h0M312.67 243.44h0M304.81 240.81h0M315.6 231.99h0M326.79 243.81h0M327.13 240.18h0M311.42 244.05h0M324.09 235.05h0M328.89 239.12h0M306.66 213.4h0M328.76 200.15h0M320.66 243.52h0M323.01 222.42h0M331.46 240.13h0M303.35 237.57h0M326.34 244.76h0M314.47 242.58h0M301.2 233.31h0M323.85 243.77h0M325.68 244.75h0M306.6 240.72h0M323.5 240.86h0M323.73 240.98h0M323.23 222.98h0M314.06 241.58h0M310.44 225.64h0M331.32 205.37h0M320.09 244.8h0M318.91 241.82h0M315.74 229.6h0M326.7 234.04h0M326.11 233.35h0M315.49 242.2h0M300.93 243.65h0M311.32 244.74h0M310.77 236.04h0M324.48 241.64h0M327.58 236.37h0M304.84 239.45h0M301.96 214.8h0M329.91 237.93h0M327.02 242.74h0M316.15 245.16h0M315.51 240.81h0M310.18 244.91h0M329.54 218.01h0M329.91 211.52h0M320.85 242.38h0M311.2 240.21h0M323.92 235.33h0M321.74 242.89h0M322.42 233.58h0M301.84 241.27h0M328.39 238h0M315.91 243.67h0M320.25 229.95h0M328.89 221.53h0M323.87 226.89h0M330.35 231.14h0M325.35 210.24h0M303.78 240h0M322.07 244.37h0M315.56 244.72h0M321.85 240.36h0M331.2 215.43h0M328.09 243.92h0M329.38 233.75h0M331.49 235.18h0M331.34 209.2h0M327.42 239.9h0M324.12 233.6h0M320.14 236.39h0M303 230h0M330.99 197.91h0M320.22 241.32h0M330.08 198.91h0M324.7 216.03h0M326.12 237.93h0M319.94 234.57h0M316.74 236.81h0M308.11 243.92h0M308.69 225.73h0M304.02 241.78h0M320.97 242.29h0M311.11 240.49h0M323.64 241.84h0M330.41 232.47h0M311.01 244.27h0M305 244.78h0M329.63 205.4h0M313.41 245.03h0M314.21 244.41h0M319.89 227.89h0M328.13 244.59h0M319.26 244.94h0M323.24 234.05h0M313.59 240.66h0M319.34 241.39h0M324.82 227.95h0M330.98 235.43h0M313.39 244.84h0M317.19 241.5h0M328.52 236.06h0M314.94 243.79h0M304.56 242.55h0M320.66 243.67h0M309.9 233.29h0M314.63 244.75h0M321.12 242.51h0M326.32 224.02h0M329.53 225.89h0M331.59 238.42h0M322.74 242.33h0M315.04 244.59h0M315.44 242.56h0M327.18 228.87h0M311.65 229.54h0M304.64 238.87h0M315.48 231.47h0M326.02 242.26h0M317.87 244.64h0M331.04 213.49h0M323.61 222.4h0M330 223.78h0M310.98 243.87h0M323.14 237.45h0M324.25 226.5h0M327.55 241.52h0M321.38 243.59h0M312.66 242.28h0M319.78 244.79h0M312.72 245.1h0M325.67 241.83h0M322.21 235.47h0M317.47 239.6h0M327.84 228.83h0M301.98 240.43h0M325.43 225.89h0M319.89 235.42h0M328.24 221.79h0M322.01 241.02h0M320.05 229.85h0M321.33 227.09h0M316.23 244.62h0M307.12 242.03h0M329.04 227.8h0M318.55 233.48h0M321.76 230.06h0M323.05 236.19h0M312.54 230.39h0M331.42 236.99h0M321.94 232.36h0M315.75 232.74h0M306.65 230.92h0M327.58 198.57h0M323.53 244.37h0M303.9 244.72h0M317.9 243.47h0M326.41 237.95h0M327.77 239.69h0M310.49 242.96h0M322.59 234.23h0M312.06 241.65h0M329.96 227.65h0M316.53 237.05h0M311.64 226.24h0M329.53 233.52h0M315.24 244.43h0M324.46 223.8h0M329.97 244.96h0M325.08 238.4h0M325.73 234.8h0M331.52 233.55h0M326.18 203.01h0M330.09 239.86h0M330.02 241.65h0M308.42 222.65h0M307.18 229.6h0M319.44 238.06h0M330.65 224.85h0M313.6 236.84h0M319.94 242.48h0M329.31 228.62h0M328.14 223.43h0M310 202.76h0M324.04 231.51h0M302.6 225.84h0M319.62 245.24h0M330.88 238.4h0M330.9 209.85h0M330.86 237.92h0M320.47 242.19h0M331.52 240.9h0M311.74 244.13h0M319.21 244.63h0M315.54 236.19h0M330.83 223.3h0M304.09 245.11h0M330.19 240.85h0M318.1 242.1h0M316.96 242.36h0M330.48 238.75h0M331.46 229.39h0M319.06 243.04h0M319.09 223.48h0M322.41 235.1h0M329.71 240.62h0M331.57 240.04h0M315.72 224.15h0M310.21 244.27h0M322.07 243.92h0M312.44 241.66h0M325.99 231.37h0M305.66 240.85h0M321.68 235.98h0M330.34 216.75h0M330.8 235.88h0M317.72 245.13h0M320.54 244.31h0M324.52 233.86h0M329.43 237.72h0M311.09 239.33h0M316.84 235.66h0M331.07 201.63h0M329.15 238.63h0M324.12 238.76h0M316.14 236.51h0M313.24 245.08h0M316.18 241.02h0M311.09 236.75h0M310.55 230.99h0M331.22 208.82h0M303.33 237.08h0M330.38 223.46h0M315.12 244.77h0M327.35 233.25h0M325.06 236.35h0M321.72 245.1h0M320.27 238.68h0M322 221.15h0M327.27 217.52h0M315.53 241.33h0M330.01 225.92h0M318.92 244.1h0M319.18 236.82h0M320.53 224.69h0M323.56 244.82h0M328.57 244.8h0M319.58 244.9h0M307.04 221.17h0M318.71 223.54h0M327.07 202.8h0M324.74 236.59h0M313.64 241.62h0M326.15 225.22h0M310.42 231.04h0M310.69 237.08h0M305.21 216.54h0M327.69 214.2h0M330.03 235.55h0M313.52 245.18h0M309.74 244.49h0M321.03 238.11h0M325.01 238.17h0M306.1 223.66h0M325.94 243.23h0M318.7 245.12h0M318.61 242.75h0M305.95 230.58h0M314.75 242.7h0M323.69 242.82h0M312.94 242.49h0M317.31 242.23h0M315.54 243.39h0M330.08 224.43h0M312.61 244.92h0M303.41 230.57h0M307.86 232.54h0M331.59 228.12h0M326.53 240.4h0M331.27 241.29h0M331.33 237.45h0M317.7 244.16h0M302.62 238.9h0M321.13 245.14h0M320.05 241.53h0M305.39 233.09h0M322.55 239.74h0M330.22 241.37h0M316.21 238.88h0M313.66 244.36h0M326.05 223.6h0M310.81 237.97h0M317.46 235.49h0M311.78 237.91h0M319.99 239.49h0M318.72 231.29h0M330.96 235.03h0M311.06 243.36h0M330.79 244.63h0M324.24 235.22h0M311.95 235.28h0M323.59 230.28h0M327.98 240.93h0M317.02 234.07h0M331.34 243.06h0M330.4 238.44h0M322.92 241.36h0M314.62 217.83h0M330.46 211.05h0M307.15 243.47h0M315.27 220.74h0M327.94 242.26h0M302.37 233.41h0M329.92 228.73h0M303.98 236.36h0M323.12 224.39h0M313.49 241.97h0M310.97 239.38h0M331.5 233.46h0M324.42 244.72h0M325.18 223.13h0M317.01 239.15h0M315.85 231.59h0M327.04 244.7h0M330.96 238.08h0M307.63 239.89h0M315.88 240.67h0M314.14 244.26h0M313.28 236.42h0M315.5 240.63h0M328.68 223.49h0M320.25 240.69h0M303.57 240.68h0M321.51 235.35h0M322.9 243.58h0M316.87 227.75h0M325.71 235.29h0M302.01 228.66h0M316.67 237.64h0M324.37 236.42h0M329.31 235.61h0M325.97 235h0M322.04 222.33h0M324.95 230.4h0M310.05 226.84h0M301.74 243.1h0M308.27 240.76h0M315.83 238.84h0M326.6 232.34h0M320.08 235.71h0M314.34 239.6h0M326.99 232.24h0M324.67 209.02h0M328.74 235.91h0M317.77 243.55h0M323.27 239.18h0M311.25 240.37h0M326.26 243.04h0M312.95 244.94h0M330.05 230.64h0M329.42 212.51h0M321.68 236.1h0M301.4 204.1h0M311.77 236.81h0M320.4 241.96h0M323.42 241.93h0M312.37 243.98h0M306.6 242.16h0M330.39 229.18h0M331.58 239.88h0M312.76 243.9h0M323.81 240.23h0M322.22 241.26h0M316.64 230.54h0M320.67 243.82h0M313.62 244.09h0M331.54 238.98h0M321.45 240.45h0M305.9 223.27h0M327.71 232.65h0M317.79 242.48h0M322.18 226.13h0M312.2 223.41h0M320.77 245.25h0M324.19 226.79h0M317.86 212.93h0M325.85 231.97h0M308.41 229.48h0M322.74 232.25h0M318.79 230.65h0M314.84 244.97h0M325.48 235.1h0M326.94 234.55h0M321.72 237.15h0M311.31 244.84h0M315.26 245.05h0M325.53 242.62h0M318.3 235.25h0M316.83 212.57h0M310.4 244.36h0M325.98 239.53h0M309.09 239.68h0M304.67 235.7h0M315.51 242h0M307.94 240.13h0M312.89 237.65h0M331.18 241.68h0M317.42 242.29h0M324.12 245.12h0M326.59 209.41h0M320.35 234.09h0M310.85 240.28h0M317.95 238.76h0M322.1 241.27h0M326.74 237.97h0M321.48 236.03h0M323.2 231.96h0M309.49 244.59h0M316.06 236.39h0M330.66 236.06h0M328.24 226.79h0M313.12 245.22h0M326.9 225.42h0M324.22 237.75h0M319.46 242.14h0M312.04 222.04h0M319.79 235.6h0M327.21 231.95h0M307.31 227.84h0M314.88 229.28h0M324.88 244.71h0M322.14 223.82h0M323.54 223.98h0M321.66 224.6h0M328.43 235.33h0M323.91 244.33h0M306.02 224.38h0M330.79 236.23h0M326.69 223.35h0M331.42 214.63h0M331.44 243.22h0M315.4 244.97h0M325.69 219.61h0M323.01 234.83h0M330.42 227.27h0M330.74 231.88h0M324.77 233.11h0M325.72 244.89h0M315.74 213.63h0M324.81 239.44h0M320.76 244.53h0M312.61 243.19h0M311.25 244.62h0M308.27 237.79h0M326.88 236.25h0M321 244.4h0M323.42 244.33h0M312.35 238.44h0M308.6 243.93h0M328.43 206.79h0M318.3 245.03h0M311.78 237.46h0M308.88 243.73h0M316.47 243.28h0M319.79 244.91h0M309.75 234.67h0M322.82 227.91h0M327.09 236.69h0M318.98 229.92h0M319.52 238.86h0M326.92 226.68h0M312.47 237.2h0M323.16 235.05h0M318.86 244.63h0M324.41 218.9h0M314.02 227.97h0M308.78 241.54h0M315.75 237.33h0M317.92 243.17h0M330.86 201.15h0M313.48 241.12h0M316.32 236.85h0M329.53 242.49h0M321.41 236.63h0M306.86 237.11h0M311.75 231.34h0M325 243.83h0M328.59 234.39h0M330.22 230.73h0M302.13 224.59h0M323.05 237.6h0M311.45 242.28h0M314.01 237.3h0M328.2 244.11h0M328.37 232h0M325.32 221.91h0M300.85 244.91h0M316.89 242.4h0M329.68 232.19h0M307.76 244.44h0M329.07 232.24h0M301.06 232.66h0M324.17 232.44h0M324.55 240.11h0M331.5 216.47h0M325.85 226.84h0M323.01 236.51h0M331.12 209.28h0M317.23 241.65h0M313.93 244.9h0M323.62 244.12h0M324.33 244.16h0M302.79 245.02h0M317.37 244.68h0M328.26 220.77h0M329.44 221.82h0M321.75 244.17h0M324.91 235.8h0M314.91 237.33h0M318.93 242.01h0M328.15 205.07h0M319.99 233.78h0M329.72 244.45h0M321.86 241.47h0M316.77 244.35h0M323.2 244h0M320.15 224.8h0M322.12 238.35h0M324.47 232.57h0M307.2 244.44h0M327.32 228.76h0M301.91 243.68h0M312.46 242.91h0M322.2 242.11h0M328.13 220.06h0M302.79 213.96h0M325.78 237.6h0M322.14 243.57h0M309.74 242.49h0M317.56 240.13h0M320.99 237.23h0M310.04 237h0M329.11 217.47h0M315.45 244.01h0M327.38 199.6h0M304.02 241.8h0M304.98 243.6h0M307.56 224.04h0M312.34 243.68h0M305.95 245.09h0M323.39 216.3h0M330.48 235.03h0M304.07 239.07h0M312.51 244.45h0M323.2 234.95h0M317.03 239.18h0M316.75 242.81h0M312.78 238.04h0M321.49 239.86h0M329.91 219.79h0M330.72 235.19h0M313.91 243.97h0M311.72 241.62h0M314.97 241.31h0M322.65 234.94h0M311.55 241.96h0M315.4 238.71h0M318.27 242.09h0M316.06 244.66h0M328.29 230.7h0M316.48 226.26h0M309.14 239.36h0M317.91 243.62h0M322.37 220.3h0M321.69 226.74h0M312.4 231.72h0" stroke="#00a5aa" stroke-width="1.8" stroke-linecap="round" fill="none"/>
<path d="M337.31 227.16h0M340.44 236.1h0M338.83 221.46h0M356.51 244.52h0M335.34 225.27h0M339.34 234.85h0M351.45 238.24h0M337.23 242.32h0M356.88 219.94h0M338.87 230.86h0M359.22 207.05h0M340.01 241.12h0M357.45 234.5h0M340.85 239.2h0M350.88 236.78h0M343.91 237.82h0M336.86 241.72h0M334.83 226.13h0M350.15 235.58h0M346.38 239.05h0M351.36 244.95h0M345.31 234.49h0M349.14 240.69h0M359.08 215.47h0M336.51 226.95h0M343.96 236.02h0M368.96 234.26h0M340.21 244.48h0M338.69 240.21h0M347.63 240.37h0M338.41 231.23h0M345.34 237.01h0M367.86 219.69h0M337.34 241.66h0M342.16 243.61h0M358.7 245.2h0M342.17 242.85h0M341.17 217.83h0M334.99 239.13h0M353.56 240.39h0M370.2 229.6h0M357.77 240.01h0M335.7 235.85h0M340.1 240.19h0M341.19 241.32h0M345.28 231.96h0M341.35 217.54h0M351.32 242.35h0M346.33 241.25h0M345.15 232.91h0M341.43 241.47h0M369.13 223.36h0M335.21 241.13h0M343.68 240.7h0M353.32 238.62h0M344.63 240.24h0M338.85 208.5h0M335.07 202.99h0M362.98 241.22h0M335.97 242.53h0M337.33 235.48h0M341.52 240.76h0M353.09 243.64h0M356.52 244.52h0M335.4 215.83h0M341.34 233.26h0M346.28 242.94h0M343.78 226.01h0M336.31 232.37h0M339.88 222.42h0M346.52 239.54h0M336.56 237h0M360.81 222.82h0M368.37 241.89h0M336.1 243.12h0M339.13 242.92h0M337.55 238.79h0M346.45 241.22h0M364.06 237.65h0M336.27 232.77h0M334.82 236.12h0M340.29 239.13h0M345.73 241.95h0M342.03 244.46h0M341.08 243.92h0M336.34 214.29h0M345.12 240.02h0M339.8 241.3h0M336.49 198.35h0M337.15 217.63h0M349.56 225.53h0M357.65 241.57h0M342.41 239.6h0M360.91 226.06h0M342.91 224.83h0M346.78 240.49h0M344.71 236.86h0M340.16 243.5h0M363.07 234.48h0M336.12 232.41h0M337.46 211.63h0M339.4 232.31h0M343.8 244.42h0M342.28 241.67h0M370.58 236.07h0M337.23 221.99h0M338.99 237.09h0M335.97 238.94h0M338.43 244.8h0M367.69 243.76h0M343.01 235.32h0M353.69 241.45h0M363.01 239.8h0M341.78 244.14h0M341.51 237.93h0M335.51 218.38h0M337.91 245.07h0M342.38 235.19h0M367.04 224.68h0M340.85 243.55h0M337.42 210.99h0M364.36 220.09h0M345.67 240.47h0M362.19 237.75h0M345.59 239.63h0M340.43 240.72h0M352.16 245.05h0M366.7 243.62h0M335.88 213.55h0M337.19 231.79h0M360.03 244.43h0M338.83 219.23h0M365.33 236.43h0M352.87 235.9h0M348.55 231.48h0M335.29 217.57h0M337.05 227.42h0M356.64 243.74h0M344.22 232.2h0M344.6 244.51h0M343.97 237.69h0M346.46 239.33h0M370.48 228.48h0M338.19 239.15h0M370.57 214.55h0M338.23 236.89h0M336.43 229.77h0M338.25 236.16h0M366.15 238.28h0M340.2 242.35h0M346.95 239.98h0M341.03 237.44h0M334.9 238.18h0M339.84 242.01h0M335.97 202.34h0M339.17 221.26h0M342.68 234.65h0M361.85 244.04h0M339.64 239.81h0M342.56 240.76h0M345.49 241.11h0M339.64 233.96h0M339.91 232.45h0M340.79 235.59h0M346.46 220.74h0M361.61 244.71h0M337.75 210.15h0M342.5 238.49h0M357.1 242.85h0M351.17 235.77h0M346.28 237.32h0M364.49 236.16h0M336.44 238.29h0M336.64 229.5h0M357.88 232.11h0M338.98 233.71h0M343.18 237.35h0M345.97 236.14h0M339.89 236.93h0M346.8 239.69h0M344.86 239.99h0M341.81 240.18h0M340.84 228.21h0M368.99 235.06h0M344.91 245.18h0M354.22 239.43h0M343.84 234.25h0M351.85 240.95h0M341.51 243.9h0M337.97 242.43h0M341.67 244.74h0M342.28 235.74h0M344.79 232.2h0M337.47 215.12h0M337.95 240.44h0M340.1 227.02h0M340.39 244.12h0M339.88 240.26h0M344.73 245.2h0M335.48 245.05h0M337.51 226.5h0M335.9 233.72h0M357.18 243.66h0M347.91 242.53h0M343.19 240.5h0M335.51 232.96h0M336.37 224.82h0M337.51 240.09h0M340.7 232.98h0M339.53 239.61h0M345.59 243.31h0M363.82 228.31h0M345.2 243.39h0M336.45 198.34h0M341.52 243.01h0M342.16 244.81h0M345.52 245.13h0M343.18 243.4h0M343.93 242.09h0M340.97 242.16h0M345.2 244.09h0M351.19 217.53h0M336.56 211.88h0M337.09 217.31h0M347.31 222.11h0M340.74 245.22h0M348.18 230.77h0M337.34 207.3h0M364.45 243.92h0M336.19 232.56h0M358.77 227.8h0M340.7 240.86h0M342.61 242.68h0M343.71 243.34h0M343.02 229.33h0M342.62 243.61h0M335.6 242.32h0M369.91 243.59h0M344.24 235.59h0M348.44 240.95h0M339.27 241.93h0M338.66 216.63h0M338.69 236.12h0M342.09 232.38h0M338.14 231.49h0M338.26 242.25h0M339.31 242.56h0M342.43 239.26h0M345.67 244.99h0M336.73 232.42h0M335.62 244.4h0M335.38 229.57h0M342.41 239.38h0M346.47 241.1h0M342.84 244.89h0M339.89 228.4h0M344.16 243.2h0M353.62 229.59h0M338.2 244.04h0M361.6 235.48h0M340.1 231.2h0M335.29 238.46h0M362 210.53h0M335.86 233.13h0M340.63 221.23h0M352.82 236.34h0M338.26 236.11h0M349.17 241.53h0M342.26 240.87h0M337.52 195.06h0M338.51 243.48h0M334.99 228.36h0M341.54 242.08h0M362.07 244.05h0M339.27 226.31h0M335.8 241.09h0M344.75 243.7h0M339.42 234.69h0M337.02 237.57h0M339.73 244.33h0M342.45 211.55h0M340.55 237.41h0M334.85 244.81h0M341.18 238.98h0M335.47 241.18h0M338.22 197.27h0M363.88 235.94h0M364.77 242.18h0M343.97 211h0M346.35 238.35h0M335.55 231.52h0M337.32 238.25h0M342.94 237.23h0M359.35 228.3h0M361.74 244.43h0M337.27 240.11h0M341.21 232.6h0M342.86 228.03h0M336.71 230.15h0M336.47 237.84h0M357.36 245.3h0M338.13 243.19h0M341.92 242.94h0M343.6 242.44h0M335.51 239.27h0M338.55 228.13h0M334.83 245.27h0M344.37 235.4h0M346.38 241.17h0M343.01 231.44h0M336.35 242.57h0M338.78 238.99h0M337 241.28h0M334.99 239.7h0M348.02 226.53h0M343.55 240.17h0M346.15 243.86h0M339.02 217.38h0M344.08 242.88h0M335.39 240.86h0M354.89 227.12h0M342.46 239.34h0M344.23 239.94h0M339.38 241.87h0M345.09 239.26h0M335.89 244.39h0M341.2 241.09h0M350.15 215.45h0M342.58 240.63h0M347.78 230.95h0M340.89 232.85h0M341.38 242.08h0M350.89 238h0M336.69 241.68h0M348.82 230.78h0M341.32 237.8h0M345.27 244.88h0M341.6 231h0M346.26 241.91h0M353.39 203.4h0M345.52 244.14h0M345.54 237.55h0M364.78 233.23h0M362.63 230.75h0M345.98 231.25h0M335.61 234.68h0M336.92 227.49h0M341.8 218.04h0M345.42 239.42h0M346.63 240.4h0M335.34 229.67h0M347.37 244.77h0M341.97 232.02h0M340.89 240.57h0M345.76 233.01h0M344.56 235.65h0M346.32 244.96h0M354.55 242.16h0M345.49 239.45h0M342.68 242.31h0M359.1 243.92h0M335.85 235.7h0M341.32 244.3h0M366.86 230.01h0M342.87 242.23h0M336.24 220.1h0M336.84 240.41h0M340.51 227.69h0M357.08 243.77h0M365.11 244.33h0M341.74 238.7h0M345.57 241.15h0M337.09 240.63h0M337.4 230.16h0M370.19 233.34h0M343.64 242.35h0M353.78 242.31h0M360.82 243.75h0M337.99 244.98h0M345.87 240.2h0M340.25 227.75h0M337.65 236.1h0M346.78 242.76h0M335.86 241.05h0M350.62 245.24h0M369.83 241.73h0M340.44 238.74h0M342.64 233.01h0M339.29 237.65h0M347.61 212.92h0M335.68 237.02h0M338.4 244.95h0M339.2 233.6h0M358.27 229.6h0M336.52 218.23h0M355.11 231.67h0M344.88 243.48h0M335.64 210.98h0M347.64 236.63h0M339.85 237.13h0M355.61 244.18h0M341.23 245.24h0M364.12 237.13h0M339.14 240.14h0M350.08 230.19h0M350.69 216.85h0M360.74 224.05h0M336.15 237.69h0M346.13 240.9h0M335.95 237.45h0M347.74 244.62h0M337.92 235.6h0M364.18 234.32h0M340.11 238.02h0M364.84 241.51h0M338.47 238.17h0M349.55 244.84h0M335.59 229.99h0M343.3 241.78h0M342.88 242.54h0M344.21 244.58h0M355.3 224.99h0M336.88 242.35h0M336.69 233.22h0M348.85 239.34h0M357.76 222.89h0M346.9 241.87h0M353.79 228.4h0M335.18 240.76h0M339.84 228.39h0M334.88 212.67h0M345.47 239.38h0M338.62 241.44h0M340.59 207.06h0M344.59 232.45h0M345.5 239.77h0M348.34 240.41h0M345.88 244.03h0M340.18 242.3h0M340.63 244.44h0M341.41 236.22h0M335.02 230.82h0M358.86 242.89h0M335.09 243h0M336.68 206.1h0M342.66 241.69h0M342.19 242.4h0M335.4 204.61h0M338.84 242.51h0M369.83 237.98h0M344.55 240.26h0M346.49 231.33h0M346.58 234.92h0M369.62 241.9h0M349.61 243.48h0M338.03 240.21h0M360.23 245.15h0M349.16 231.15h0M346.3 239.69h0M337.75 220.03h0M344.6 240.42h0M339.25 245.03h0M340.14 240.79h0M341.46 240.37h0M337.19 242.6h0M343.16 243.94h0M338.93 244.06h0M343.25 242.67h0M335.61 234.71h0M350.26 219.27h0M342.77 229.28h0M335.87 211.09h0M361.48 236.34h0M338.03 240.13h0M344.28 244.47h0M336.58 242.38h0M347.21 244.86h0M351.9 242.11h0M341.76 244.37h0M342.15 245.29h0M336.14 244.67h0M347.06 243.41h0M347.32 239.96h0M341.28 215.97h0M345.34 243.58h0M346.8 242.28h0M344.86 233.08h0M347.05 241.12h0M353.41 242.9h0M344.8 240.41h0M336.75 240.58h0M340.34 244.76h0M341.65 234.22h0M343.74 244.12h0M350.1 241.39h0M335.82 216.6h0M362.52 241.6h0M336.77 241.45h0M337.28 233.58h0M367.42 232.6h0M343.3 225.38h0M335.59 232.07h0M334.93 238.83h0M355.96 221.75h0M355.99 238.21h0M342.36 244.14h0M340.18 233.79h0M345.85 232.88h0M348.86 239.87h0M339.45 245.29h0M335.86 244.89h0M337.2 241.73h0M343.55 239.26h0M338.95 238.32h0M345.38 242.43h0M341.11 240.35h0M344 241.29h0M337.84 230.54h0M337.83 209.75h0M342.19 242.62h0M337.99 242.13h0M336.12 244.81h0M338.69 240.41h0M345.26 239.23h0M343.75 240.27h0M348.18 241.27h0M338.04 237.4h0M338.57 229.28h0M358.65 239.61h0M359.66 236.51h0M341.16 235.23h0M341.54 237.8h0M342.94 227.13h0M369 228.84h0M343.19 236.79h0M339.83 240.48h0M339.27 242.84h0M358.87 212.64h0M346.37 228.28h0M340.8 236.47h0M354.66 232.02h0M338.68 239.2h0M337.6 242.89h0M336.51 213.63h0M352.09 239.72h0M341.21 242.99h0M341.14 217.13h0M359.68 244.12h0M340.37 204.23h0M343.14 240.98h0M336.62 200.22h0M339.32 224.48h0M337.35 231.98h0M351.44 234.31h0M364.78 238.69h0M367.15 239.63h0M338.5 239.76h0M346.91 236.28h0M336.55 238.06h0M343.75 243.36h0M335.25 237.55h0M336.23 233.31h0M337.87 241.05h0M353.71 234.68h0M344.47 234.75h0M340.59 241.54h0M347.79 244.3h0M339.19 221.27h0M361.59 220.21h0M341.08 241.76h0M345.34 244.3h0M335.55 243.06h0M340.48 245.02h0M346.94 231.69h0M338.73 225.74h0M339.99 243.63h0M343.38 243.75h0M348.95 243.77h0M339.39 216.31h0M339.68 237.39h0M349.96 241.53h0M346.09 237.76h0M338.69 234.92h0M338.7 231.66h0M335.78 241.96h0M349.06 240.2h0M340.07 233.91h0M344.81 243.94h0M360.55 234.2h0M341.24 245.15h0M353.67 235.48h0M341.47 242.75h0M336.94 212.72h0M345.74 245.11h0M335.4 232.86h0M340.93 244.01h0M342.02 226.75h0M335.34 231.46h0M349.92 221.41h0M364.25 236.82h0M335.91 242.73h0M345.45 237.75h0M345.1 240.93h0M335.26 239.5h0M339.01 238.23h0M337.64 233.44h0M337.2 221.44h0M341.44 242.79h0M351.09 235.52h0M341.72 239.04h0M343.38 234.52h0M335.45 232.69h0M363.11 233.98h0M340.77 237.88h0M342.48 245.1h0M339.75 238.49h0M362.41 236.84h0M342.67 237.84h0M339.67 243.44h0M355.13 237.53h0M354.93 240.39h0M340.09 240.85h0M342.85 239.89h0M345.23 237.61h0M345.14 242.14h0M341.4 238.74h0M342.69 242.61h0M347.76 245.05h0M348.57 237.2h0M338.57 240.24h0M336.14 228.79h0M337.52 236.76h0M346.32 242.33h0M343.85 234.2h0M345.79 230.26h0M358.21 241.71h0M342.3 235.85h0M335.45 239.52h0M343.64 239.49h0M346.18 239.1h0M351.51 233.34h0M361.74 242.14h0M353.87 237.23h0M340.02 227.25h0M345.48 234.46h0M345.59 229.17h0M344.25 238.4h0M336.55 211.74h0M340.06 245.01h0M346.19 243.39h0M349.85 233.38h0M342.56 245.25h0M340.19 241.96h0M336.36 240.21h0M342.3 244.41h0M370.33 242.99h0M346.94 234.81h0M364.82 236.47h0M344.5 236.59h0M338.96 241.03h0M335.66 218.8h0M339.71 239.37h0M338.69 237.75h0M337.66 234.6h0M335.16 233.34h0M338.35 244.58h0M345.32 243.93h0M336.78 236.68h0M339.7 229.94h0M345.31 221.19h0M350.19 243.39h0M346.11 234.81h0M350.71 239.17h0M342.65 238.75h0M336.9 235.85h0M335.76 241.86h0M339.91 239.27h0M367.4 237.81h0M344.15 221.84h0M340.11 244.4h0M347.31 242.11h0M345.05 239.57h0M334.9 240.15h0M348.62 240.86h0M336.2 243.12h0M355.8 242.22h0M355.47 235.67h0M334.88 238.29h0M345.1 242.26h0M343.84 243.39h0M359.8 229.86h0M343.88 243.85h0M364.91 245.16h0M345.76 240.56h0M342.02 244.58h0M339.61 245.26h0M339.41 239.92h0M343.74 244h0M341.39 244.51h0M341.51 239.72h0M339.37 241.41h0M336.82 243.41h0M341.64 244.93h0M338.61 241.68h0M361.82 237.14h0M336.83 238.43h0M367.06 237.8h0M358.08 233.35h0M345.04 229.69h0M344.62 240h0M337.44 238.32h0M339.34 245.25h0M340.38 241.13h0M341.72 235.86h0M346.42 236.69h0M347.36 233.27h0M345.18 244.34h0M340.68 244.88h0M345.7 244.36h0M337.07 241.2h0M335.03 227.25h0M351.68 235.49h0M342.82 242.33h0M335.86 240.1h0M346.41 245.14h0M349.15 227.07h0M337.48 220.32h0M354.7 240.97h0M339.04 212.66h0M359.19 228.93h0M339.59 240.04h0M338.29 223.58h0M335.7 245.24h0M335.11 199.84h0M337.18 238.17h0M348.68 238.21h0M340.87 228.64h0M341.05 243.76h0M335.53 243.14h0M343.43 240.02h0M342.19 231.87h0M347.31 232.41h0M343.16 241.09h0M338.49 241.78h0M338.8 238.88h0M334.83 245.29h0M343.55 241.12h0M335.8 225.29h0M335 237.08h0M355.75 220.6h0M347.13 243.02h0M347.29 243.72h0M343.78 242.31h0M341.48 240.14h0M335.36 223.13h0M336.25 219.48h0M342.1 244.68h0M341.3 238.02h0M352.66 236.55h0M335.08 239.39h0M334.97 212.19h0M338.93 239.04h0M351.48 240.02h0M338.39 237.29h0M365.62 221.72h0M339.37 243.32h0M347.09 233.45h0M343.19 245.26h0M340.63 242.53h0M345.49 243.02h0" stroke="#f0645f" stroke-width="1.8" stroke-linecap="round" fill="none"/>
<path d="M301.44 201.2h0" stroke="#00a5aa" stroke-width="1.8" stroke-linecap="round" fill="none"/>
<path d="M301.44 205.4h0" stroke="#00a5aa" stroke-width="1.8" stroke-linecap="round" fill="none"/>
<path d="M301.44 208.34h0" stroke="#00a5aa" stroke-width="1.8" stroke-linecap="round" fill="none"/>
<path d="M300.64 226.4h0" stroke="#00a5aa" stroke-width="1.8" stroke-linecap="round" fill="none"/>
<path d="M373 201.2h0" stroke="#f0645f" stroke-width="1.8" stroke-linecap="round" fill="none"/>
<path d="M364.96 195.74h0" stroke="#f0645f" stroke-width="1.8" stroke-linecap="round" fill="none"/>
<path d="M297.54 160.21h0M297.77 160.29h0M299.1 160.13h0" stroke="#00a5aa" stroke-width="1.5" stroke-linecap="round" fill="none"/>
<path d="M307.3 160.47h0M307.56 160.45h0M303.18 160.41h0M305.16 160.41h0M307.79 160.38h0M307.1 160.43h0M309.68 160.52h0" stroke="#00a5aa" stroke-width="1.5" stroke-linecap="round" fill="none"/>
<path d="M326.02 160.44h0M314.36 160.15h0M325.78 160.3h0M318.89 160.26h0M317.54 160.35h0M314.59 160.28h0M320.01 160.17h0M332.26 160.69h0M325.17 160.68h0M327.35 160.55h0M318.4 160.6h0M329.31 160.26h0M316.28 160.36h0M323.11 160.43h0M321.92 160.23h0M325.23 160.66h0M332.04 160.44h0M329.33 160.66h0M312.56 160.45h0M326.94 160.12h0M312.42 160.65h0M332.15 160.27h0M333.91 160.33h0M327.65 160.38h0M314.83 160.66h0M324.29 160.39h0M312.74 160.25h0M327.89 160.66h0M326.82 160.62h0M330.14 160.47h0M320 160.38h0M316.03 160.58h0M319.06 160.6h0M316.94 160.15h0M315.18 160.46h0M325.69 160.69h0M319.66 160.61h0M313.81 160.13h0M327.27 160.37h0M317.02 160.43h0M322.46 160.52h0M321.12 160.32h0M324.56 160.42h0M319.4 160.33h0M328.52 160.34h0M322.77 160.17h0M317.64 160.53h0M331.67 160.42h0M319.44 160.46h0M329.56 160.7h0" stroke="#00a5aa" stroke-width="1.5" stroke-linecap="round" fill="none"/>
<path d="M337.72 160.14h0M340.69 160.12h0M341.49 160.32h0M337.59 160.18h0M341.34 160.64h0M339.31 160.33h0M342.06 160.63h0M342.05 160.55h0M340.04 160.25h0M343.92 160.48h0" stroke="#f0645f" stroke-width="1.5" stroke-linecap="round" fill="none"/>
<path d="M349.46 160.53h0M349.01 160.57h0M355.56 160.62h0M352.4 160.25h0M358.25 160.11h0" stroke="#f0645f" stroke-width="1.5" stroke-linecap="round" fill="none"/>
<line x1="288.5" y1="163" x2="288.5" y2="253" stroke="#1a1a1a" stroke-width="1.2" />
<line x1="288" y1="252.5" x2="378.5" y2="252.5" stroke="#1a1a1a" stroke-width="1.2" />
<line x1="285.2" y1="249.5" x2="288.5" y2="249.5" stroke="#1a1a1a" stroke-width="1.3" />
<text x="282.2" y="251.8" font-size="6.4" fill="#333" text-anchor="end" stroke="#333" stroke-width="0.22" >0</text>
<line x1="285.2" y1="228.5" x2="288.5" y2="228.5" stroke="#1a1a1a" stroke-width="1.3" />
<text x="282.2" y="230.8" font-size="6.4" fill="#333" text-anchor="end" stroke="#333" stroke-width="0.22" >5</text>
<line x1="285.2" y1="207.5" x2="288.5" y2="207.5" stroke="#1a1a1a" stroke-width="1.3" />
<text x="282.2" y="209.8" font-size="6.4" fill="#333" text-anchor="end" stroke="#333" stroke-width="0.22" >10</text>
<line x1="285.2" y1="186.5" x2="288.5" y2="186.5" stroke="#1a1a1a" stroke-width="1.3" />
<text x="282.2" y="188.8" font-size="6.4" fill="#333" text-anchor="end" stroke="#333" stroke-width="0.22" >15</text>
<line x1="285.2" y1="165.5" x2="288.5" y2="165.5" stroke="#1a1a1a" stroke-width="1.3" />
<text x="282.2" y="167.8" font-size="6.4" fill="#333" text-anchor="end" stroke="#333" stroke-width="0.22" >20</text>
<line x1="292.6" y1="252.5" x2="292.6" y2="255.5" stroke="#1a1a1a" stroke-width="1.3" />
<text x="292.6" y="265.8" font-size="6.4" fill="#333" text-anchor="middle" stroke="#333" stroke-width="0.22" >−1.0</text>
<line x1="312.7" y1="252.5" x2="312.7" y2="255.5" stroke="#1a1a1a" stroke-width="1.3" />
<text x="312.7" y="265.8" font-size="6.4" fill="#333" text-anchor="middle" stroke="#333" stroke-width="0.22" >−0.5</text>
<line x1="332.8" y1="252.5" x2="332.8" y2="255.5" stroke="#1a1a1a" stroke-width="1.3" />
<text x="332.8" y="265.8" font-size="6.4" fill="#333" text-anchor="middle" stroke="#333" stroke-width="0.22" >0.0</text>
<line x1="352.9" y1="252.5" x2="352.9" y2="255.5" stroke="#1a1a1a" stroke-width="1.3" />
<text x="352.9" y="265.8" font-size="6.4" fill="#333" text-anchor="middle" stroke="#333" stroke-width="0.22" >0.5</text>
<line x1="373" y1="252.5" x2="373" y2="255.5" stroke="#1a1a1a" stroke-width="1.3" />
<text x="373" y="265.8" font-size="6.4" fill="#333" text-anchor="middle" stroke="#333" stroke-width="0.22" >1.0</text>
<text x="338" y="278.17" font-size="8.8" fill="#333" text-anchor="middle" font-weight="bold" textLength="52" lengthAdjust="spacingAndGlyphs" stroke="#333" stroke-width="0.05" >Delta inclusion ratio</text>
<text x="311" y="180.68" font-size="6.6" fill="#333" text-anchor="middle" stroke="#333" stroke-width="0.22" >802</text>
<text x="357.5" y="180.68" font-size="6.6" fill="#333" text-anchor="middle" stroke="#333" stroke-width="0.22" >788</text>
<text transform="translate(9.3,204.3) rotate(-90)" font-size="9.6" font-weight="bold" fill="#333" stroke="#333" stroke-width="0.05" text-anchor="middle" textLength="34" lengthAdjust="spacingAndGlyphs">−log<tspan font-size="6" dy="2.2">10</tspan><tspan dy="-2.2"> (FDR)</tspan></text>
<text x="404" y="153.5" font-size="11.5" font-weight="bold" fill="#000">D</text>
<text x="425.4" y="159.84" font-size="9" fill="#5aaa5a" stroke="#5aaa5a" stroke-width="0.22"><tspan textLength="19.6" lengthAdjust="spacingAndGlyphs">Srsf2</tspan><tspan font-size="6.8" dy="-3.9" stroke-width="0" textLength="21.3" lengthAdjust="spacingAndGlyphs">P95H/+</tspan></text>
<defs><clipPath id="vg2"><circle cx="449" cy="185.5" r="21"/></clipPath><clipPath id="vb2"><circle cx="437.7" cy="217.6" r="28"/></clipPath><clipPath id="vr2"><circle cx="471.5" cy="211" r="37"/></clipPath></defs>
<circle cx="449" cy="185.5" r="21" fill="#aad78c"/>
<circle cx="437.7" cy="217.6" r="28" fill="#8791be"/>
<circle cx="471.5" cy="211" r="37" fill="#e18273"/>
<circle cx="471.5" cy="211" r="37" fill="#beaa5f" clip-path="url(#vg2)"/>
<circle cx="471.5" cy="211" r="37" fill="#965a7a" clip-path="url(#vb2)"/>
<circle cx="437.7" cy="217.6" r="28" fill="#698296" clip-path="url(#vg2)"/>
<g clip-path="url(#vg2)"><circle cx="471.5" cy="211" r="37" fill="#646e7d" clip-path="url(#vb2)"/></g>
<circle cx="449" cy="185.5" r="21" fill="none" stroke="#000" stroke-opacity="0.12" stroke-width="0.7"/>
<circle cx="437.7" cy="217.6" r="28" fill="none" stroke="#000" stroke-opacity="0.12" stroke-width="0.7"/>
<circle cx="471.5" cy="211" r="37" fill="none" stroke="#000" stroke-opacity="0.12" stroke-width="0.7"/>
<text x="443.2" y="182.08" font-size="6.6" fill="#1f4a26" text-anchor="middle" stroke="#1f4a26" stroke-width="0.35" >88</text>
<text x="459.5" y="191.58" font-size="6.6" fill="#3a3010" text-anchor="middle" stroke="#3a3010" stroke-width="0.35" >56</text>
<text x="435.3" y="197.38" font-size="6.6" fill="#10284a" text-anchor="middle" stroke="#10284a" stroke-width="0.35" >9</text>
<text x="449.2" y="203.08" font-size="6.6" fill="#1a2232" text-anchor="middle" stroke="#1a2232" stroke-width="0.35" >12</text>
<text x="427.2" y="222.68" font-size="6.6" fill="#18224a" text-anchor="middle" stroke="#18224a" stroke-width="0.35" >338</text>
<text x="449.2" y="222.68" font-size="6.6" fill="#301634" text-anchor="middle" stroke="#301634" stroke-width="0.35" >300</text>
<text x="482" y="222.68" font-size="6.6" fill="#4a1812" text-anchor="middle" stroke="#4a1812" stroke-width="0.35" >745</text>
<text x="431.2" y="262.74" font-size="9" fill="#2d4f78" text-anchor="middle" textLength="43" lengthAdjust="spacingAndGlyphs" stroke="#2d4f78" stroke-width="0.22" >RUNX1 KD</text>
<text x="500.1" y="262.74" font-size="9" fill="#be2d50" text-anchor="middle" textLength="25.8" lengthAdjust="spacingAndGlyphs" stroke="#be2d50" stroke-width="0.22" >Double</text>
<text x="1.5" y="298.5" font-size="11.5" font-weight="bold" fill="#000">E</text>
<text x="51.6" y="303.24" font-size="9" fill="#5aaa5a" stroke="#5aaa5a" stroke-width="0.22"><tspan textLength="25.6" lengthAdjust="spacingAndGlyphs">SRSF2</tspan><tspan font-size="6.8" dy="-3.9" stroke-width="0" textLength="31" lengthAdjust="spacingAndGlyphs">P95H/+/+</tspan></text>
<path d="M54.11 371.13h0M44.06 386.95h0M41.34 391.21h0M65.89 353.13h0M53.06 381.6h0M40.77 390.08h0M40.52 393.22h0M50.76 385.37h0M55.77 365.32h0M40.89 391.45h0M38.02 393.33h0M38.23 390.31h0M91.28 339.81h0M48.98 366.3h0M39.02 391.56h0M39.98 382.58h0M82.1 353.71h0M37.83 393.72h0M37.28 386.86h0M86.97 338.15h0M82.99 361.98h0M44.19 387.82h0M58.55 357.43h0M50.22 376.7h0M75.54 350.66h0M121.57 330.2h0M41.24 379.16h0M54.53 369.32h0M38.2 391.18h0M73.4 343.42h0M40.2 387.15h0M62.51 359.35h0M66.23 347.87h0M67.91 364.03h0M41.93 382.53h0M41.21 388.66h0M70.32 358.53h0M112.44 324.28h0M63.05 369.26h0M47.74 374.92h0M55.88 374.91h0M49.71 365.19h0M58.41 365.24h0M58.61 371.18h0M40.86 388.74h0M61.78 365.83h0M43.04 387.01h0M48.74 380.05h0M88.47 304.92h0M53.05 375.83h0M45.24 387.78h0M46.17 375.11h0M61.83 369.49h0M39.05 387.56h0M38.68 393.98h0M59.15 367.84h0M40.04 385.52h0M70.03 343.91h0M69.16 348.96h0M42.54 383.87h0M41.02 388.58h0M53.39 378.67h0M40.5 386.12h0M50.7 364.14h0M52.8 376.92h0M44.73 390.52h0M41.63 384.69h0M62.16 374.35h0M46.41 389.46h0M103.25 325.82h0M64.35 333.47h0M42.89 385.21h0M37.6 390.51h0M68.93 343.94h0M53.22 372.22h0M75.51 365.77h0M47.6 382.67h0M53.04 380.9h0M42.82 376.2h0M58.11 367.1h0M42.32 388.71h0M38.58 389.26h0M41.06 388.8h0M93.4 324.02h0M54.91 380.54h0M78.64 349.49h0M38.02 391.31h0M58.96 375.51h0M53.33 372.34h0M38.11 391.7h0M45.54 376.82h0M40.5 389.82h0M85.06 332.44h0M66.55 371.77h0M50.28 374.67h0M60.44 377.91h0M68.27 345.7h0M95.15 344.92h0M70.46 341.45h0M46.37 385.76h0M74.55 359.35h0M45.93 387.68h0M37.63 391.59h0M58.43 364.33h0M105.91 334.15h0M51.61 370.06h0M87.12 324.37h0M46.54 387.28h0M80.22 315.9h0M37.3 388.48h0M59.62 380.58h0M81.25 349.76h0M44.05 389.19h0M68.69 359.72h0M41.02 391.45h0M52.79 382.48h0M48.84 381.01h0M55.97 375.9h0M42.56 385.53h0M61.03 351.02h0M60.46 365.52h0M84.69 328.17h0M72.55 339.09h0M40.34 390.78h0M94.14 344.11h0M50.65 371.84h0M42.59 392.26h0M38.19 391.56h0M42.11 389.91h0M47.48 377.46h0M41.33 391.31h0M72.06 353.51h0M46.48 373.89h0M45.89 388.55h0M48.34 380.24h0M60.56 349.18h0M42.74 381.86h0M52.02 375.8h0M45.03 384.46h0M54.91 367.26h0M50.21 382.62h0M103.66 327.87h0M58.2 358.71h0M45.33 384.42h0M42.78 388.26h0M40.95 383.26h0M62.16 360.87h0M71.56 349.08h0M68.62 360.76h0M99.67 321.48h0M47.13 377.13h0M52.87 365.66h0M38.46 393.65h0M59.28 356.36h0M57.2 363.95h0M38.51 394.17h0M48.92 384.26h0M49.12 380.84h0M41.79 382.54h0M36.69 392.84h0M37.15 392.29h0M58.54 363.69h0M67.42 374.54h0M42.18 389.47h0M56.34 354.35h0M68.36 361.24h0M63.81 353.94h0M40.9 389.46h0M64.05 360.9h0M59.25 374.42h0M89.19 336.82h0M75.07 368.61h0M73.14 369.18h0M42.52 389.92h0M55.8 364.96h0M59.38 368.85h0M70.29 361.09h0M72.12 359.07h0M57.18 376.6h0M46.4 389.19h0M79.45 329.24h0M44.01 388.36h0M47.53 380.4h0M55.66 382.86h0M40.34 393.24h0M54.61 364.21h0M55.32 373.45h0M43.15 386.4h0M76.27 339.1h0M39.63 386.49h0M44.98 384.93h0M36.48 392.38h0M48.25 370.94h0M50.37 375.15h0M40.95 394.19h0M79.51 319.43h0M74.38 344.87h0M42.47 382.07h0M55.31 380.93h0M47.45 384.73h0M41.65 381.42h0M65.84 355.36h0M92.08 317.87h0M81.23 314.46h0M68.58 364.97h0M39.22 390.53h0M58.72 375.87h0M50.56 370.45h0M66.72 375.03h0M46.67 386.79h0M49.9 377.48h0M38.65 392.48h0M55.43 369.6h0M41.05 389.23h0M80.17 357.09h0M50.8 379.04h0M55.69 367.88h0M64.82 349.33h0M41.3 383.34h0M49.48 378.51h0M56.86 371.15h0M38.47 388.26h0M39.36 387.1h0M63.49 366.95h0M41.56 390.58h0M42.71 375.15h0M46.81 383.39h0M39.48 394.38h0M43.19 390.19h0M75.53 342.56h0M50.28 377.55h0M52.51 371.66h0M89.71 343.12h0M54.16 359.05h0M57.18 354.76h0M65.46 371.83h0M39.32 389.47h0M40.62 389.56h0M37.6 392.22h0M46.23 382.2h0M55 384.17h0M39.48 387.94h0M71.29 325.87h0M55.37 373.69h0M42.58 381.64h0M73.46 356.12h0M80.52 328.5h0M40.28 395.58h0M54.46 374.97h0M41.43 391.58h0M44.86 387.34h0M75.47 354.69h0M44.23 380.48h0M40.17 384.54h0M54.1 375.98h0M50.98 374.78h0M61.32 379.27h0M48.05 386.79h0M60.3 364.58h0M72.9 348.03h0M64.65 372.08h0M41.04 387.33h0M39.14 393.01h0M54.74 365.06h0M41.79 384.19h0M43.49 381.94h0M44.05 386.66h0M66 349.54h0M44.56 387.35h0M58.05 340.02h0M52.44 375.58h0M59.12 371.15h0M49.23 380.84h0M44.52 390.11h0M41.15 389.72h0M42.93 385.38h0M46.07 383.61h0M57.44 359.44h0M47.37 377.76h0M41.95 393.12h0M52.04 382.87h0M45.86 384.42h0M94.99 310.42h0M47.01 370.19h0M57.17 367.1h0M94.18 319.95h0M38.69 387.36h0M60.47 367.22h0M42.13 381.99h0M58.63 375.39h0M67.9 348.4h0M52.29 359.76h0M69.81 361.54h0M46.01 376.69h0M91.29 304.46h0M43.5 390.04h0M82.64 350.37h0M56.83 373.22h0M78.55 342.62h0M78.82 322.48h0M66.92 351.23h0M71.29 362.52h0M90.85 310.83h0M94.64 318.02h0M41.29 383.96h0M54.32 379.3h0M39.51 390.07h0M80.62 342.62h0M43.82 385.82h0M55.55 380.41h0M64 360.53h0M55.42 371.35h0M72.7 326.03h0M52.67 383.01h0M51.09 374.97h0M57.7 361.38h0M64.13 343.49h0M59.36 339.19h0M64.21 370.74h0M66.58 361.2h0M111.11 328.62h0M43.39 389.73h0M80.12 346.34h0M37.01 392.32h0M37.43 392.07h0M57.25 367.16h0M78.94 358.91h0M41.44 384.82h0M42.98 393.49h0M47.6 378.74h0M62.13 368.46h0M48.29 377.21h0M56.28 371.55h0M58.15 364.86h0M53.95 368.51h0M53.31 375.98h0M64.1 369.53h0M57.6 375.86h0M46.71 377.85h0M45.87 388.02h0M60.71 360.7h0M44.98 384.39h0M39.74 392.34h0M42.94 388.11h0M58.12 366.28h0M75.66 356.06h0M37.82 393.13h0M46.38 384.85h0M38.71 388.76h0M39.38 394.61h0M38.96 389.57h0M53.64 372.38h0M54.56 372.09h0M70.71 361.31h0M38.02 393.63h0M41.76 391.89h0M53.79 375.83h0M45.74 382.53h0M56.43 365.19h0M42.1 391.29h0M52.17 351.99h0M89.33 338.4h0M42.61 388.52h0M77.03 346.72h0M47.48 381.22h0M49.37 380.19h0M64.87 366.42h0M76.81 341.1h0M50.38 377.72h0M44.98 384.96h0M41.96 384.64h0M66.41 351.1h0M53.1 363.27h0M47.87 375.11h0M68.57 363.89h0M53.91 375.48h0M52.69 374.8h0M37 390.23h0M57.1 373.45h0M41.66 377.35h0M89.57 308.81h0M96.64 343.47h0M42.44 383.81h0M63.61 349.84h0M42.41 388.04h0M37.93 392.89h0M58.32 369.88h0M57.92 373.41h0M55.93 369.36h0M90.57 333.98h0M72.42 361.23h0M70.63 317.6h0M61.67 377.55h0M49.8 381.92h0M65.24 363.51h0M69.07 361.63h0M54.69 376.43h0M53.52 376.98h0M88.07 329.61h0M66.83 355.27h0M35.51 390.07h0M51.18 377.42h0M54.85 365.23h0M53.14 385.61h0M42.4 387.64h0M71.33 329.96h0M57.52 358.23h0M62.27 374.06h0M54.23 368.64h0M38.6 394.16h0M69.8 349.57h0M41.53 384.26h0M43.19 389.98h0M62.27 368.83h0M57.03 370.99h0M50.41 369.96h0M45.67 382.1h0M92.31 323.82h0M67.22 335.46h0M44.59 381.21h0M40.28 385.8h0M38.05 389.97h0M78.75 346.47h0M45.47 384.97h0M70.27 364.96h0M38.42 391.19h0M51.25 375.56h0M60.17 361.29h0M51.51 371.17h0M56.68 362.25h0M41.52 389.65h0M50.73 378.05h0M106.49 319.86h0M45.38 383.1h0M91.2 355.81h0M52.67 371.68h0M48.98 381.63h0M42.97 383.68h0M40.76 389.23h0M52.75 376h0M53.01 366.39h0M47.22 387.16h0M40.9 382.83h0M38.15 383.74h0M40.23 393.98h0M48.36 370.96h0M50.5 383.12h0M42.25 388.35h0M53.93 384.18h0M76.69 359.7h0M59.86 344.36h0M52.65 371.78h0M47.75 379.37h0M36.33 387.88h0M49.8 371.8h0M36.45 391.39h0M61.19 360.57h0M44.44 379.5h0M67.12 346.37h0M57.92 367.01h0M36.82 391.25h0M41.67 391.64h0M38.73 388.98h0M52.9 372.57h0M49.45 375.83h0M40.03 385.46h0M40.23 388.51h0M38.06 391.01h0M49.97 376.89h0M51.09 385.92h0M36.91 389.96h0M39.38 388.02h0M49.53 371.59h0M39.43 390.74h0M35.54 390.29h0M43.96 384.37h0M40.86 381.54h0M46.78 379.52h0M44.72 384.68h0M51.21 377.73h0M43.67 379.81h0M48.63 379.15h0M36.98 389.61h0M51.06 375.88h0M47.49 382.87h0M46.79 375.19h0M49.66 382.45h0M52 374.34h0M41.3 383.36h0M41.72 384.45h0M41.75 385.65h0M48.79 381.4h0M38 391.37h0M39.03 390.69h0M44.58 382.28h0M38.87 391.77h0M46.45 377.71h0M39.38 387.24h0M44.68 382.32h0M42.31 390.16h0M39.51 391.98h0M43.63 385.11h0M42.73 393.25h0M49.71 372.17h0M38.43 388.24h0M50.08 376.71h0M44.79 379.04h0M43.43 388.31h0M52.29 379.99h0M38.94 389.65h0M45.21 386.84h0M40.27 382.41h0M49.6 382.88h0M56.54 377.66h0M36.95 392.01h0M41.14 390.84h0M55.14 380.67h0M45.79 385.85h0M42.36 390.55h0M51.49 376.98h0M37.09 387.2h0M54.82 375.36h0M50.5 377.88h0M36.66 389.68h0M57 376.45h0M37.52 390.78h0M37.97 393.7h0M37.17 392.5h0M36.95 391.22h0M36.48 392.45h0M49.67 380.04h0M44.41 391.08h0M48.39 384.32h0M40.19 387.8h0M36.13 391.43h0M38.63 386.79h0M46.08 381.42h0M47.49 386.79h0M50.02 379.13h0M40.3 392.85h0M46.72 384.51h0M38.27 392.92h0M47.73 377.24h0M38.85 393.88h0M40.13 391.76h0M47.28 379.81h0M47.34 378.96h0M47.04 386.64h0M54.6 375.09h0M45.3 385.97h0M48.36 380.69h0M51.53 380.73h0M40.08 391.74h0M44.2 385.39h0M43.98 386.21h0M44.05 384.86h0M38.36 392.6h0M46.56 384.74h0M45.57 385.54h0M45.78 381.06h0M44.48 378.07h0M39.07 388.66h0M39.45 391.38h0M53.66 373.72h0M37.35 390.21h0M40.15 390.39h0M51.2 375.98h0M52.95 383.48h0M45.1 382.62h0M47.01 380.21h0M40.59 395.12h0M45.02 385.07h0M37.52 393.36h0M41.71 391.23h0M40.11 387.02h0M41.73 388.84h0M36.24 392.25h0M42.26 385.2h0M51.06 381.97h0M44.65 384.26h0M48.95 383.47h0M40.45 384.03h0M37.38 392.46h0M38.79 392.53h0M39.88 392.74h0M47.71 384.68h0M49.67 376.7h0M49.31 378.87h0M41.29 383.99h0M41.72 392.87h0M40.01 394.46h0M46.28 372.57h0M37.63 393.01h0M51.45 382.08h0M43.87 380.35h0M48.63 372.27h0M42.69 382.26h0M42.91 385.92h0M46.95 381.79h0M53.15 374.73h0M45.62 386.43h0M37.04 389.7h0M48.71 374.73h0M45.14 386.61h0M43.42 387.64h0M43.33 384.09h0M43.24 385.83h0M49.59 379.9h0M51.16 381.1h0M45.18 385.49h0M49.5 382.71h0M52.24 384.06h0M40.29 393.12h0M48.4 379.35h0M45.23 378.82h0M38.16 393.62h0M49.64 377.04h0M45.5 381.79h0M50.08 380.86h0M51.39 383.93h0M38.86 386.72h0M49.29 376.22h0M49.45 376.61h0M55.54 377.13h0M49.39 379.44h0M53.56 375.66h0M37.76 393.59h0M46.49 382.81h0M37.27 392.89h0M43.39 392.56h0M41.53 385.08h0M39.29 394.64h0M46.73 389.73h0M54.4 376.39h0M45.26 371.72h0M50.52 380.43h0M37.76 390.35h0M39.53 392.34h0M46.01 382.42h0M44.9 382.39h0M51.79 381.63h0M44.97 378.09h0M37.51 391.69h0M39.86 386.4h0M38.92 390.87h0M47.45 382.2h0M45.94 385.73h0M41.09 388.56h0M40.26 392.52h0M48.02 377.42h0M39.15 394.54h0M41.87 382.98h0M36.86 387.63h0M37.36 389.64h0M47.15 387.32h0M37.25 393.14h0M37.61 391.33h0M40.63 390.21h0M44.42 383.56h0M46.45 375.18h0M39.33 391.44h0M46.93 383.09h0M53.44 374.94h0M45.73 386.06h0M39.78 391.82h0M46.65 379.18h0M39.75 393.17h0M43.39 385.9h0M41.26 386.1h0M43.93 384.1h0M46.7 384.81h0M52.18 378.27h0M42.31 387.17h0M46.25 382.16h0M36.22 391.39h0M46.83 388.28h0M40.61 390h0M40.9 385.44h0M39.89 390.28h0M45.21 385.6h0M41.05 385.57h0M45.85 382.91h0M41.72 389.82h0M42.67 390.26h0M36.56 392.37h0M41.41 386.9h0M41.28 393.21h0M36.46 390.11h0M50.7 379.38h0M49.28 376.81h0M44.87 377.75h0M42.09 388.16h0M40.37 386.82h0M38.2 387.1h0M37.09 390.01h0M39.9 390.66h0M39.08 393.41h0M47.65 381.72h0M48.09 382.58h0M38.51 391.54h0M45.71 380.19h0M37.03 392.84h0M42.73 382.32h0M40.67 388.93h0M42.58 381.86h0M37.83 391.44h0M44.15 385.75h0M46.42 379.87h0M54.88 375.03h0M49.35 379.68h0M41.33 381.53h0M40.4 388.56h0M49.38 387.42h0M39.84 386.13h0M45.3 387.01h0M49.35 381.91h0M37.98 391.69h0M43.59 380.04h0M44.55 388.36h0M52.38 381.2h0M47.09 380.34h0M50.07 374.71h0M48.26 381.47h0M51.52 375.28h0M44.85 389.54h0M47.06 382.68h0M37.17 392.76h0M55.59 376.39h0M44.09 392.05h0M39.66 391.99h0M52.38 379.95h0M47.02 383.24h0M47.06 384.43h0M40.57 389.32h0M46.31 385.01h0M50.78 382.98h0M42.08 387.22h0M45.72 386.29h0M44.17 387.09h0M49.69 379h0M53.98 375.27h0M44.81 387.59h0M42.07 387.54h0M53.28 373.23h0M49.96 370.19h0M42.44 384.38h0M40.23 391.1h0M37.13 392.85h0M52.63 374.24h0M48.52 377.7h0M40.75 388.7h0M49.75 375.1h0M41.08 384.79h0M37.39 392.65h0M43.01 384.84h0M46.03 382.19h0M44.18 386.02h0M43.78 382.84h0M41.81 388.1h0M43.94 387.17h0M39.24 392.32h0M52.73 382.2h0M52.4 376.02h0M36.74 392h0M36.73 391.87h0M44.62 372.63h0M43.33 389.39h0M43.52 379.87h0M51.22 377.16h0M52.43 381.38h0M45.35 385.58h0M38.1 388.59h0M46.72 381.31h0M38.29 388.28h0M36.04 391.54h0M49.72 380.07h0M53.27 376h0M39.52 387.64h0M45.72 385.38h0M38.68 390.45h0M55.3 378.86h0M51.66 372.33h0M46.94 375.71h0M43.04 382.63h0M50.66 375.83h0M51.43 383.57h0M43.19 387.56h0M51.3 376.16h0M49.32 381.67h0M39.7 387.44h0M41.82 385.96h0M41.96 389.29h0M43.16 387.31h0M52.81 376.39h0M52.8 377.85h0M44.57 385.19h0M43.43 387.03h0M39.34 387.65h0M44.99 382.47h0M36.63 391.21h0M51.92 372.17h0M42.42 388.52h0M39.37 392.89h0M42.12 393.51h0M52.31 375.71h0M49.86 373.88h0M35.26 390.74h0M43.07 390.61h0M47.02 374.07h0M51.13 373.68h0M50.05 377.88h0M44.5 389.55h0M46.63 382.79h0M38.99 389.42h0M41.17 393.6h0M56.08 381.54h0M39.36 392.05h0M47.13 382.38h0M47.01 377.55h0M40.31 389.65h0M39.59 390.01h0M50.79 376.08h0M44.75 375.57h0M55 378.54h0M47.54 385.64h0M41.55 389.31h0M45.66 375.24h0M38.81 389.64h0M40.32 390.17h0M46.42 385.75h0M45.84 387.93h0M45.66 381.77h0M40.64 389.45h0M45.37 382.45h0M57.63 376.59h0M42.31 391.21h0M40.32 387.56h0M53.86 376h0M42.8 385.78h0M53.07 375.24h0M45.52 385.95h0M41.25 388.59h0M47.83 386.1h0M47.17 374.96h0M36.58 391.77h0M48.51 379.9h0M37.33 390.11h0M38.39 394.13h0M39.58 383.32h0M55.31 374.5h0M44.74 376.45h0M45.06 378.18h0M37.75 392.39h0M39.23 391.22h0M49.82 379.85h0M47.1 380.24h0M51.77 382.01h0M47.49 379.08h0M46.82 383.25h0M42.55 386.76h0M45.17 391.11h0M40.53 388.79h0M38.25 390.67h0M52.24 372.93h0M47.96 380.89h0M42.96 383h0M45.15 383.19h0M40.59 385.47h0M39.57 391.39h0M50.39 384.3h0M47.07 383.02h0M49.77 375.85h0M38.89 385.64h0M44.58 390.34h0M42.47 391.74h0M42.77 385.08h0M48.04 382.87h0M45.48 385.26h0M54.33 382.61h0M47.69 373.98h0M49.01 375.47h0M36.94 391.07h0M48.03 382.42h0M37.49 391.37h0M41.65 392.59h0M38.85 387.99h0M38.94 391.21h0M39.11 388.42h0M53.8 377.23h0M55.91 376.3h0M37.92 392.1h0M45.6 382.16h0M36.58 391.6h0M47.88 378.11h0M44.63 389.23h0M49.91 384.43h0M42.11 377.51h0M44.75 384.26h0M37.8 388.59h0M44.02 386.1h0M42.39 386.1h0M43.02 388.87h0M40.85 387.73h0M36.1 392.36h0M44.24 390.05h0M40.35 389.86h0M48.4 375.12h0M46.5 376.09h0M45.36 382.88h0M35.94 391.23h0M48.18 381.75h0M41.03 386.84h0M52.53 377.75h0M43.44 384.72h0M42.78 384.55h0M41.6 387.17h0M51.01 376.98h0M58.41 378.01h0M38.89 393.37h0M38.03 391.75h0M45.98 387.57h0M40.46 389.68h0M45.16 383.06h0M50.78 373.21h0M45.01 387.11h0M46.25 386.66h0M40.88 389.57h0M40.45 389.34h0M46.21 382.9h0M49.23 379.36h0M39.28 392.18h0M44.43 387.87h0M46.39 387.68h0M38.48 394.15h0M45.39 381.15h0M39.57 389.39h0M51.76 374.67h0M37.42 391.59h0M49.97 379.69h0M48.54 381.4h0M45.01 383.35h0M40.75 387.99h0M52.45 372.62h0M39.82 387.73h0M38.36 392.62h0M42.33 391.41h0M47.6 380.37h0M37.86 393.24h0M36.67 392.51h0M41.76 381.42h0M47.76 377.71h0M39.64 390.21h0M39.21 385.7h0M48.43 375.75h0M42.94 387.82h0M43.98 382.07h0M46.33 380.07h0M44.31 377.79h0M41.62 391.16h0M47.05 374.62h0M39.52 388.78h0M51.77 378.14h0M41.98 382.68h0M39.49 385.97h0M42.81 383.39h0M44.33 385h0M47.85 384.91h0M42.68 388.98h0M38.24 389.99h0M43.7 377.97h0M51.4 378.07h0M41.15 391.45h0M37.68 392.59h0M49.07 376.27h0M40.81 382.28h0M42.19 389.71h0M50.16 375.43h0M46.35 374.99h0M42.23 383.42h0M40.61 392.55h0M52.12 382.97h0M56.23 377.45h0M39.61 388.39h0M56.2 376.92h0M41.75 383.86h0M38.88 392.73h0M48.19 374.8h0M46.98 374.8h0M38.07 391.69h0M41.15 392.85h0M43.33 382.71h0M38.02 392.67h0M47.88 385.43h0M53.55 378.5h0M37.75 391.16h0M43.57 381.2h0M40.93 389.23h0M54.36 383.05h0M38.64 392.63h0M44.57 387.76h0M40.1 393.34h0M39.59 387.86h0M42.84 387.88h0M41.05 390.84h0M50.28 375.16h0M51.23 375.4h0M43.6 390.76h0M49.42 380.05h0M53.34 381.16h0M40.94 392.91h0M49.55 384.74h0M42.03 387.32h0M43.65 379.42h0M45 383.15h0M52.04 375.04h0M46.35 377.46h0M47.18 380.87h0M48.25 385.89h0M37.64 390.2h0M43.47 384.03h0M48.32 376.32h0M36.44 389.43h0M51.05 376.59h0M42.68 386.54h0M49.94 375.22h0M40.62 395.07h0M53.28 380.21h0M43.88 384.8h0M43.44 383.28h0M49.44 380.79h0M42.02 386.83h0M52.9 372.64h0M52.33 373.03h0M47.96 386.57h0M50.39 379.95h0M46.72 388.21h0M45.73 382.25h0M43.87 384.52h0M49.43 381.05h0M46.26 385.7h0M39.68 391.12h0M42.22 384.71h0M46.89 385.19h0M39.24 394.86h0M39.25 391.88h0M44.7 377.66h0M49.9 374.69h0M37.28 389.08h0M51.77 373.86h0M47.2 376.47h0M40.99 390.86h0M36.97 390.49h0M50.65 375.78h0M46.86 376.12h0M44.04 385.98h0M37.89 392.58h0M44.81 378.8h0M41.14 388.89h0M49.51 383.07h0M48.96 378.47h0M40.51 385.61h0M50.86 377.67h0M44.05 390.42h0M52.37 377.01h0M51.27 373.74h0M38.63 393.24h0M39 389.18h0M42.39 386.21h0M45.5 379.07h0M39.28 391.72h0M53.32 379.4h0M44.57 385.18h0M49.05 372.92h0M46.13 386.3h0M44.06 373.68h0M44.3 383.42h0M39.06 392.55h0M37.61 392.95h0M40.65 386.89h0M36.79 391.54h0M45.22 381.67h0M42.69 380.81h0M42.11 389.04h0M38.94 392.2h0M42.33 384.51h0M45.03 379.5h0M42.45 388.86h0M53.1 379.76h0M43.94 389.31h0M40.69 394.12h0M45.03 380.19h0M53.13 377.02h0M40.87 391.68h0M45.2 373.19h0M53.62 373.41h0M40.59 388.3h0M37.92 392.32h0M44.36 388.47h0M55.52 378.57h0M43.56 383.99h0M51.62 376.81h0M51.64 376.15h0M46.39 385.81h0M42.63 382.35h0M41.99 387.5h0M40.22 381.12h0M39.02 389.56h0M51.41 378.12h0M39.92 387.33h0M37.69 392.51h0M49.75 373.4h0M39.06 387.13h0M49.95 372.02h0M38.05 393.26h0M45.55 379.42h0M37.16 390.93h0M42.81 385.9h0M37.74 393.35h0M46.65 386.3h0M41.11 391.59h0M48.56 377.28h0M43.06 389.18h0M44.41 376.86h0M39.3 387.52h0M52.58 376.1h0M54.77 381.04h0M47.84 380.46h0M41.94 389.15h0M44.52 387.14h0M46.98 380.79h0M46.88 389.6h0M42.06 392.05h0M38.67 392.48h0M46.44 383h0M37.5 393.39h0M39.83 388.42h0M53.18 379.12h0M56.99 376.39h0M49.73 377.11h0M51.8 378.25h0M36.93 391.9h0M52.46 379.48h0M43.92 381.72h0M47.77 380.52h0M49.11 380.62h0M46.54 377.14h0M43.55 388.34h0M39.16 394.1h0M40.04 392.7h0M52.45 374.27h0M50 371.64h0M56.94 378.6h0M49.04 377.27h0M49.55 382.85h0M49.93 381.92h0M46.81 378.98h0M38.51 393.48h0M46.51 378.91h0M36.49 392.57h0M44.96 386.34h0" stroke="#c4c4c4" stroke-width="1.7" stroke-linecap="round" fill="none"/>
<line x1="32.5" y1="308.5" x2="32.5" y2="399.25" stroke="#1a1a1a" stroke-width="1.1" />
<line x1="32" y1="398.75" x2="121" y2="398.75" stroke="#1a1a1a" stroke-width="1.1" />
<line x1="29.2" y1="393.8" x2="32.5" y2="393.8" stroke="#1a1a1a" stroke-width="1.3" />
<text x="26.2" y="396.1" font-size="6.4" fill="#333" text-anchor="end" stroke="#333" stroke-width="0.22" >0.0</text>
<line x1="29.2" y1="367.3" x2="32.5" y2="367.3" stroke="#1a1a1a" stroke-width="1.3" />
<text x="26.2" y="369.6" font-size="6.4" fill="#333" text-anchor="end" stroke="#333" stroke-width="0.22" >0.1</text>
<line x1="29.2" y1="340.8" x2="32.5" y2="340.8" stroke="#1a1a1a" stroke-width="1.3" />
<text x="26.2" y="343.1" font-size="6.4" fill="#333" text-anchor="end" stroke="#333" stroke-width="0.22" >0.2</text>
<line x1="29.2" y1="314.3" x2="32.5" y2="314.3" stroke="#1a1a1a" stroke-width="1.3" />
<text x="26.2" y="316.6" font-size="6.4" fill="#333" text-anchor="end" stroke="#333" stroke-width="0.22" >0.3</text>
<line x1="37" y1="398.75" x2="37" y2="401.75" stroke="#1a1a1a" stroke-width="1.3" />
<text x="37" y="410.3" font-size="6.4" fill="#333" text-anchor="middle" stroke="#333" stroke-width="0.22" >0.0</text>
<line x1="57.4" y1="398.75" x2="57.4" y2="401.75" stroke="#1a1a1a" stroke-width="1.3" />
<text x="57.4" y="410.3" font-size="6.4" fill="#333" text-anchor="middle" stroke="#333" stroke-width="0.22" >0.1</text>
<line x1="77.8" y1="398.75" x2="77.8" y2="401.75" stroke="#1a1a1a" stroke-width="1.3" />
<text x="77.8" y="410.3" font-size="6.4" fill="#333" text-anchor="middle" stroke="#333" stroke-width="0.22" >0.2</text>
<line x1="98.2" y1="398.75" x2="98.2" y2="401.75" stroke="#1a1a1a" stroke-width="1.3" />
<text x="98.2" y="410.3" font-size="6.4" fill="#333" text-anchor="middle" stroke="#333" stroke-width="0.22" >0.3</text>
<line x1="118.6" y1="398.75" x2="118.6" y2="401.75" stroke="#1a1a1a" stroke-width="1.3" />
<text x="118.6" y="410.3" font-size="6.4" fill="#333" text-anchor="middle" stroke="#333" stroke-width="0.22" >0.4</text>
<text x="80.5" y="423.85" font-size="9.3" fill="#333" text-anchor="middle" font-weight="bold" textLength="55" lengthAdjust="spacingAndGlyphs" stroke="#333" stroke-width="0.05" >Promoted (usage %)</text>
<text transform="translate(12.06,350.4) rotate(-90)" font-size="9" font-weight="bold" fill="#333" stroke="#333" stroke-width="0.05" text-anchor="middle" textLength="56" lengthAdjust="spacingAndGlyphs">Repressed (usage %)</text>
<circle cx="118.8" cy="327.3" r="1.2" fill="#c0202a"/>
<circle cx="118.8" cy="331.5" r="1.2" fill="#c0202a"/>
<circle cx="66" cy="336" r="1.2" fill="#1f3a80"/>
<circle cx="94.8" cy="345.4" r="1.2" fill="#c0202a"/>
<circle cx="92.9" cy="352" r="1.2" fill="#c0202a"/>
<circle cx="45" cy="368.5" r="1.2" fill="#1f3a80"/>
<circle cx="71.2" cy="365" r="1.2" fill="#c0202a"/>
<circle cx="65.5" cy="371.2" r="1.2" fill="#c0202a"/>
<circle cx="59.3" cy="377.5" r="1.2" fill="#c0202a"/>
<circle cx="57" cy="381" r="1.2" fill="#c0202a"/>
<circle cx="59.3" cy="383.8" r="1.2" fill="#c0202a"/>
<line x1="56" y1="376" x2="57.5" y2="381" stroke="#222" stroke-width="0.7" />
<line x1="58" y1="381" x2="68" y2="383.5" stroke="#222" stroke-width="0.7" />
<line x1="56" y1="389" x2="59" y2="384.5" stroke="#222" stroke-width="0.7" />
<text x="100.2" y="326.29" font-size="5.8" fill="#2a2a2a" stroke="#2a2a2a" stroke-width="0.22" >CCAG</text>
<text x="100.2" y="333.29" font-size="5.8" fill="#2a2a2a" stroke="#2a2a2a" stroke-width="0.22" >CCTG</text>
<text x="54" y="333.59" font-size="5.8" fill="#2a2a2a" stroke="#2a2a2a" stroke-width="0.22" >GGTG</text>
<text x="97.3" y="345.09" font-size="5.8" fill="#2a2a2a" stroke="#2a2a2a" stroke-width="0.22" >CCCA</text>
<text x="95.4" y="356.29" font-size="5.8" fill="#2a2a2a" stroke="#2a2a2a" stroke-width="0.22" >GCCC</text>
<text x="36" y="367.09" font-size="5.8" fill="#2a2a2a" stroke="#2a2a2a" stroke-width="0.22" >TGGTG</text>
<text x="37" y="375.09" font-size="5.8" fill="#2a2a2a" stroke="#2a2a2a" stroke-width="0.22" >GGCTG</text>
<text x="67" y="364.09" font-size="5.8" fill="#2a2a2a" stroke="#2a2a2a" stroke-width="0.22" >ACCC</text>
<text x="68" y="372.59" font-size="5.8" fill="#2a2a2a" stroke="#2a2a2a" stroke-width="0.22" >CCCAG</text>
<text x="60.5" y="379.59" font-size="5.8" fill="#2a2a2a" stroke="#2a2a2a" stroke-width="0.22" >TCCTG</text>
<text x="68" y="385.09" font-size="5.8" fill="#2a2a2a" stroke="#2a2a2a" stroke-width="0.22" >CTGAG</text>
<text x="46" y="393.84" font-size="5.8" fill="#2a2a2a" stroke="#2a2a2a" stroke-width="0.22" >CCTGA</text>
<text x="58.75" y="441.49" font-size="9" fill="#2d4f78" stroke="#2d4f78" stroke-width="0.22"><tspan textLength="42.5" lengthAdjust="spacingAndGlyphs">RUNX1 KD</tspan><tspan font-size="6" dy="-3.9" stroke-width="0"></tspan></text>
<path d="M65.71 516.38h0M51.58 517.97h0M39.97 531.31h0M83.39 502.87h0M60.36 509.67h0M55.3 511.14h0M55.08 512.04h0M42.9 529.95h0M60.73 504.53h0M79.26 480.92h0M90.74 471.47h0M49.45 516.82h0M50.94 520.69h0M41.92 527.66h0M53.49 519.42h0M77.97 503.7h0M58.52 505.51h0M58.44 511.25h0M73.9 493.66h0M45.04 527.02h0M36.79 530.07h0M42.72 525.41h0M61.82 504.91h0M42.06 528.3h0M85.76 492.22h0M63.31 504.25h0M52.52 513.19h0M59.56 509.76h0M42.56 527.43h0M61.51 512.47h0M63.85 500.87h0M67.01 500.48h0M56.84 517.78h0M41.38 527.51h0M53.04 513.69h0M86.29 500.65h0M57.74 513.29h0M38.39 527.88h0M42.65 532.33h0M48.65 514.7h0M40.05 531.15h0M55.59 522.95h0M76.45 491.87h0M39.19 528.78h0M43.64 526.26h0M60.35 514.26h0M69.83 494.03h0M108.47 461.44h0M38.58 532.19h0M75.64 485.2h0M40.05 534.87h0M58.51 514.4h0M64.08 517.68h0M52.1 520.82h0M39.14 527.36h0M112.53 478.67h0M39.8 531h0M87.83 457.68h0M78.56 496.54h0M43.87 529.38h0M36.88 530.29h0M96.65 465.38h0M40.65 531.01h0M74.15 487.1h0M44.57 519.24h0M50.23 520.6h0M38.07 530.78h0M41.64 532.03h0M58.34 509.43h0M80.87 488.61h0M58.36 502.65h0M43.27 529.62h0M46.41 525.31h0M87.31 478.49h0M85.44 479.42h0M84.3 481.49h0M91.59 495.18h0M38.76 529.93h0M92.83 475.48h0M37.56 529.41h0M45.33 525.5h0M55.94 514.81h0M38.24 531.54h0M80.72 486.54h0M53.05 515.38h0M62.76 504.4h0M48.19 524.4h0M47.06 524.68h0M66.79 499.65h0M55.28 518.21h0M78.35 504.96h0M40.94 526.95h0M42.33 531.74h0M64.74 507.89h0M44.46 530.32h0M43.99 523.96h0M85.03 492.85h0M59.53 516.14h0M58.4 519.22h0M55.16 518.67h0M115.35 468.06h0M97 476.06h0M63.75 515.61h0M44.13 529.99h0M57.42 505.17h0M46.04 523.54h0M43.38 522.19h0M108.45 464.38h0M78.69 505.35h0M72.91 501.99h0M56.74 521.21h0M58.45 508.93h0M48.19 525.93h0M82.19 499.74h0M108.37 481.48h0M56.31 514.46h0M37.16 528.91h0M47.59 527.95h0M96.58 454.3h0M50.31 515.66h0M95.42 466.98h0M70.66 501.38h0M65.28 499.91h0M67.83 504.73h0M44.21 526.13h0M76 489.29h0M52.83 508.8h0M50.11 513.58h0M58.86 500.77h0M95.32 457.45h0M67.69 499.59h0M51.18 517.85h0M44.67 525.74h0M54.4 520.98h0M38.9 528.87h0M72.18 506.9h0M88.44 473.35h0M65.25 500.21h0M51.91 507.23h0M88.59 494.53h0M56.62 511.33h0M76.13 498.18h0M92.43 459.89h0M47.28 526.95h0M83.55 495.18h0M62.41 520.4h0M41.06 528.56h0M59.5 515.42h0M40.51 529.86h0M72.02 510.68h0M43.58 524.03h0M88.04 496.1h0M43.59 527.78h0M52.94 513.62h0M53.01 519.03h0M57.85 507.97h0M52.11 509.77h0M97.31 471.03h0M55.9 514.92h0M49.46 516.43h0M42.46 525.68h0M48.13 526.84h0M51.74 521.84h0M53.7 519.63h0M47.46 524.36h0M78.38 492.19h0M65.83 507.11h0M83.13 484.66h0M48.67 517.62h0M65.35 507.17h0M40.64 528.74h0M60.88 514.66h0M60.99 512.17h0M81.4 481.79h0M68.52 491.84h0M91.68 466.42h0M85.02 482.65h0M40.35 529.06h0M40.68 530.92h0M53 517.82h0M51.59 512.38h0M71.31 497.01h0M52.31 519.32h0M39.78 524.3h0M66.77 487.83h0M57.25 516.86h0M42.54 525.24h0M41.7 526.3h0M71.78 490.57h0M60.77 497.48h0M41.33 529.01h0M37.4 529.78h0M41.18 531.06h0M108 472.08h0M75 498.54h0M51.32 512.72h0M43 529.23h0M61.66 504.33h0M46.12 523.93h0M45.03 530.05h0M53.2 512.7h0M55.3 508.39h0M47.92 529.41h0M77.76 481.66h0M103.45 471.8h0M45.3 524.51h0M53.77 521.84h0M74.95 500.91h0M68.25 508.26h0M64.2 498.79h0M81.84 491.92h0M36.04 528.6h0M66.87 507.41h0M98.87 491.7h0M84.38 491.69h0M43.51 527.05h0M101.89 479.36h0M59.97 500.94h0M69.74 480.08h0M76.42 499.72h0M52.79 517.63h0M61.34 516.63h0M49.88 525.44h0M52.86 524.29h0M38.99 533.7h0M69.47 506.28h0M81.46 488.21h0M65.9 493.21h0M89.72 462.3h0M54.08 514.05h0M45.62 524.24h0M85.67 488.96h0M60.52 516.59h0M35.08 530.03h0M72.17 490.16h0M42.36 529.59h0M45.15 523.67h0M37.09 528.71h0M54.04 512.4h0M37.94 532.35h0M65.54 488.54h0M40.72 527.72h0M67.42 498.12h0M53.73 517.58h0M47.67 523.08h0M94.78 484.41h0M37.89 532.16h0M90.54 485.36h0M47.17 519.45h0M52.33 520.62h0M42.96 528.01h0M47.39 529.45h0M104.63 472.96h0M56.08 500.51h0M46.24 520.71h0M40.53 531.57h0M78.52 481.72h0M118.07 472.66h0M62.83 507.39h0M49.4 528.82h0M60.12 509.68h0M77.54 492.35h0M39.73 529.97h0M46.79 519.85h0M36.59 531.28h0M47.22 526.13h0M70.74 500.13h0M57.51 517.22h0M65.97 503.12h0M51.35 517.35h0M75.09 497.16h0M111.19 473.65h0M60.95 495.46h0M75.21 495.47h0M60.31 508.5h0M57.43 510.18h0M47.43 520.28h0M40.29 529.72h0M68.58 504.55h0M44.96 529.15h0M37.83 532.18h0M72.02 482.45h0M66.98 513.43h0M51.8 519.69h0M59.98 510.62h0M39.24 528.46h0M64.17 510.29h0M69.89 509.54h0M82.94 484.3h0M64.53 506.54h0M58.01 515.21h0M102.58 494.41h0M78.86 500.72h0M93.54 481.9h0M42.8 523.91h0M38.61 528.97h0M96.98 459.22h0M63.56 506.48h0M67.63 504.29h0M56.08 522.73h0M93.37 475.41h0M70.07 492.54h0M40.08 531.26h0M42.9 526.07h0M64.19 501.31h0M54.37 520.75h0M57.88 516.02h0M62.98 510.85h0M52.29 516.41h0M57.38 509.08h0M46.92 523.84h0M82.69 479.15h0M48.14 511.39h0M39.86 530.69h0M39.27 531.59h0M59.65 512.67h0M67.6 507.54h0M40.55 526.62h0M47.1 526.41h0M64.75 505.91h0M53.72 513.54h0M40.67 531.88h0M59.04 507.83h0M54.32 520.99h0M81.41 485.41h0M52.51 518.36h0M69.57 505.03h0M50.06 525.19h0M59.76 513.89h0M48.22 521.18h0M56.12 515.01h0M50.06 523.89h0M81.41 484.07h0M100.58 491.1h0M50.65 520.6h0M41.94 531.49h0M91.45 465.09h0M45.61 524.42h0M45.78 525.45h0M45.14 530.46h0M75.32 504.63h0M38.75 531.45h0M66.35 498.78h0M44.66 525.55h0M44.16 529.42h0M38.55 531.05h0M43.74 527.76h0M46.56 527.94h0M38.84 533.85h0M83.24 486.07h0M38.84 533.35h0M62.79 513.02h0M37.92 531.54h0M65.34 505.34h0M50.2 518.47h0M74.89 504.55h0M99.05 478.96h0M53.16 518.25h0M44.54 525.54h0M46.55 519.72h0M47.18 518.78h0M86.67 504.71h0M60.08 517.24h0M45.3 525.33h0M86.91 484h0M37.76 532.12h0M91.71 471.42h0M43.28 526.36h0M67.49 498.12h0M42.05 526.02h0M43.43 525.93h0M53.09 515h0M79.57 489.51h0M36.18 530.47h0M47.71 517.4h0M41.22 530.91h0M72.61 513.8h0M54.07 514.11h0M55.13 516.78h0M82.82 497.8h0M50.32 515.63h0M88.37 495.07h0M38.57 533.52h0M84.56 477.3h0M79.1 491.86h0M40.94 527.7h0M59.42 510.96h0M61.94 508.97h0M87.61 488.67h0M44.83 531.78h0M75.99 490.53h0M63.76 513.73h0M52.26 518.82h0M73.9 481.02h0M50.7 520.64h0M49.21 519.71h0M65.06 502.13h0M81.9 489.21h0M85.33 479.9h0M86.09 479.8h0M76.63 499.42h0M55.43 508.83h0M55.37 512.5h0M41.94 525.71h0M58.03 515.02h0M89.17 486.14h0M38.98 532.63h0M95.92 455.96h0M70.43 495.24h0M41.91 527.33h0M98.53 476.24h0M68.17 497.42h0M84.56 486.91h0M50.88 514.95h0M48.18 524.6h0M54.21 521.1h0M88.88 479.73h0M39.26 531.78h0M63.97 518.23h0M68.93 499.3h0M90.45 497.33h0M65.94 506.42h0M47.62 527.64h0M40.06 530.75h0M62.92 515.64h0M38.94 531.66h0M82.51 489.43h0M91.23 480.04h0M74.67 477.17h0M79.53 493.36h0M89.98 479.84h0M58.09 514.48h0M68.4 509.27h0M44 523.75h0M39.63 532.97h0M39.9 534.68h0M73.78 505.01h0M95.86 468.95h0M63.9 500.51h0M39.96 531.4h0M47.06 527.8h0M71.47 503.71h0M37.24 532.22h0M66.16 505.13h0M48.17 519.98h0M69.1 498.63h0M81.82 494.01h0M37.98 529.84h0M58.92 502.17h0M59.39 504.61h0M60.79 510.75h0M41.59 530.09h0M50.29 519.69h0M54.4 513.95h0M66.93 506.3h0M83.6 489.65h0M43.45 529.74h0M44.13 525.62h0M96.92 466.32h0M61.37 511.81h0M44.33 522.1h0M37.44 530.96h0M40 528.44h0M81.07 503.13h0M38.88 527.7h0M41.2 524.93h0M55.54 507.5h0M43.82 524.28h0M63.5 487.44h0M43.1 523.58h0M46.55 526.95h0M56.57 519.2h0M60.51 508.25h0M66.46 499.85h0M40.13 528.04h0M40.21 524.06h0M68.08 509.47h0M57.12 519.36h0M42.45 524.92h0M96.16 489.47h0M47.06 521.42h0M65.36 498.22h0M59.89 511.31h0M38.47 532.76h0M44.87 521.71h0M48.24 513.37h0M83.58 488.66h0M70.71 510.14h0M61.03 510.38h0M51.64 516.59h0M75.15 493.64h0M50.82 517.31h0M38.14 531.26h0M67.75 502.73h0M100.54 481.23h0M43.39 528.3h0M48.9 513.35h0M48.33 517.75h0M92.1 490.39h0M42.68 520.33h0M48.81 524.2h0M50.41 521.12h0M39.27 529.63h0M41.81 529.93h0M45.89 524.93h0M38.04 532.29h0M38.68 530.4h0M40.88 528.87h0M48.88 520.3h0M46.92 517.36h0M40.86 530.11h0M49.14 523.74h0M38.73 530.91h0M48.57 522.29h0M39.29 528.55h0M38.09 532.52h0M41.28 526.99h0M39 533.14h0M44.87 523.75h0M48.25 521.32h0M48.17 518.01h0M46.31 528.15h0M45.47 523.35h0M37.91 532.52h0M44.4 523.45h0M42.83 527.78h0M49.49 522.55h0M44.72 528.6h0M40.16 527.72h0M44.77 527.41h0M41.75 528.39h0M45.48 526.82h0M40.81 527.67h0M43.5 527.86h0M46.05 523.61h0M40.52 530.83h0M38.07 532.17h0M37.68 531.19h0M49.49 520.67h0M45.66 525.56h0M49.13 519.8h0M46.92 523.48h0M41.13 529.16h0M36.5 531.47h0M41.62 529.49h0M38.69 528.95h0M48.04 520.65h0M44.24 527.91h0M39.19 529.84h0M40.28 529.66h0M49.49 517.23h0M41.31 530.3h0M42.72 526.69h0M45.35 524.41h0M42.81 527.13h0M39.57 529.86h0M38.39 530.71h0M50.08 524.65h0M39.48 530.14h0M49.99 521.99h0M36.95 531.68h0M39.04 527.6h0M47.03 521.95h0M41.31 529.89h0M38.87 530.95h0M48.83 521.48h0M48.68 523.17h0M43.09 526h0M38.96 533.52h0M41.48 531.83h0M47.31 523.89h0M47.39 521.17h0M46.88 524.14h0M43.23 525.87h0M51.47 520.64h0M37.36 532.09h0M37.67 532.46h0M47.78 524.64h0M49.09 519.99h0M43.79 528.59h0M49.63 520.77h0M46.8 526.26h0M48.31 522.65h0M37.31 530.54h0M44.01 526.36h0M38.8 532.55h0M47.83 521.24h0M47.44 525.49h0M46.63 522.43h0M40.13 529.57h0M46.86 518.42h0M40.7 526.54h0M46.64 526.85h0M50.76 521.6h0M47.07 524.28h0M43.74 526.79h0M51.31 519.67h0M48.32 523.76h0M44.05 527.52h0M46.13 523.73h0M46.77 519.02h0M40.58 530.49h0M37.33 530.75h0M48.56 522.81h0M50.37 521.75h0M47.51 518.41h0M42.48 528.16h0M37.36 530.71h0M42.24 529.56h0M53.04 521.44h0M39.23 530.64h0M43.12 526.8h0M40.29 528.75h0M38.31 530.65h0M40.64 530.27h0M48.73 519.79h0M40.1 530.39h0M41.32 528.48h0M50.25 520.69h0M38.59 533.55h0M44.58 525.36h0M48.7 520.65h0M48.83 519.77h0M45.17 522.81h0M41.91 527.9h0M41.64 528.69h0M44.56 524.95h0M41.06 528.77h0M46.05 527.4h0M47.17 522.84h0M49.77 524.89h0M50.83 519.06h0M37.2 530.28h0M43.24 524.95h0M42.98 530.57h0M47.41 524.22h0M42.51 528.83h0M42.14 526.64h0M46.56 524.48h0M42.93 527.17h0M41.1 529.48h0M36.47 531.11h0M46.48 524.85h0M42.2 526.83h0M46.11 526.8h0M42.32 527.42h0M46.79 524.65h0M40.08 530.18h0M40.82 529.03h0M48.29 525.63h0M49.32 521.26h0M50.24 521.28h0M50.18 519.45h0M44.22 526.77h0M42.81 524.91h0M47.14 527.45h0M46.03 523.73h0M37.76 530.99h0M38.54 532.66h0M50.94 520.42h0M36.82 531.79h0M42.67 526.66h0M44.82 527.02h0M37.95 532.92h0M45.65 523.82h0M43.17 528.92h0M45.78 523.04h0M38.57 531.04h0M43.15 524.43h0M47.13 521.69h0M47.54 520.87h0M40.57 529.64h0M52.74 522.56h0M43.85 527.73h0M41.42 526.9h0M44.7 525.26h0M41.21 528.84h0M41.28 529.76h0M46.96 522.1h0M46.02 524.26h0M48.66 523.33h0M46.79 525.17h0M37.74 532.63h0M40.72 528.26h0M50.7 521.05h0M51.36 520.67h0M38.05 529.9h0M47.72 521.85h0M40.53 530.92h0M38.67 532.13h0M39.52 529.69h0M47.34 522.6h0M50.53 521.46h0M49.75 524.09h0M40.6 529.28h0M38.35 533.23h0M40.61 532.26h0M41.03 530.52h0M46.03 523.44h0M45.46 525.58h0M43.9 527.88h0M47.31 523.07h0M42.16 527.04h0M47.69 521.69h0M46.08 523.26h0M49.51 522.71h0M40.01 530.78h0M40.16 529.85h0M43.41 523.4h0M37.81 531.14h0M46.64 524.46h0M38.65 530.47h0M39.35 531.5h0M44.37 528.44h0M48.54 524.63h0M38.18 531.94h0M44.59 528.42h0M49.87 522.64h0M46.39 520.4h0M41.1 529.4h0M40.66 529.54h0M46.73 521.62h0M38.63 530.42h0M39.31 531.14h0M44.64 526.32h0M48.61 522.16h0M38.44 532.22h0M37.79 529.45h0M51.6 521.86h0M37.27 531.51h0M41.79 530.7h0M45.27 524.59h0M48.12 524.06h0M44.42 528.61h0M43.6 530.26h0M39.23 530.44h0M41.86 525.94h0M43.74 526.35h0M43.25 527.65h0M38.39 529.87h0M43.36 526.94h0M43.61 526.47h0M41.6 530.19h0M50.35 521.06h0M48.45 520.01h0M48.81 521.83h0M39.51 529.93h0M48.46 520.25h0M39.58 529.33h0M50.33 522.96h0M39.36 527.05h0M44.72 524.67h0M44.15 527.23h0M47.29 520.7h0M41.93 529.25h0M49.8 518.68h0M48.22 521.53h0M48.47 523.14h0M37.99 531.31h0M43.14 526.4h0M47.15 524.94h0M40.02 530.36h0M47.86 521.84h0M44.42 524.09h0M38.79 532.91h0M43.42 527.61h0M41.08 528.99h0M51.63 522.05h0M40.64 530.96h0M38.51 532.53h0M39.67 530.87h0M47.09 523.39h0M39.58 531.42h0M40.66 528.76h0M46.45 523.59h0M42.73 526.39h0M38.64 531.43h0M49.48 519.05h0M45.57 522.73h0M38.92 533.01h0M41.41 529.09h0M46.28 523.77h0M39.38 528.43h0M46.9 525.38h0M47.18 522.7h0M39.31 527.12h0M42.48 526.81h0M37.46 531.85h0M50.78 521.47h0M39.68 530.2h0M48.47 522.82h0M39.71 530.79h0M41.42 529.53h0M44.9 525.43h0M40.59 530.24h0M49.11 521.84h0M40.74 525.23h0M43.28 524.07h0M38.07 530.28h0M47.42 523.93h0M41.51 529.98h0M44.73 525.5h0M37.69 532.02h0M42.87 528.33h0M50.8 521.41h0M37.71 532.62h0M51.35 520.29h0M49.17 522.52h0M45.18 521.59h0M37.19 531.63h0M42.83 522.49h0M38.69 532.57h0M45.28 521.57h0M38.81 531.44h0M44.55 523.98h0M52.89 521.65h0M41.36 527.74h0M46.94 522.58h0M44.77 526.42h0M38.47 532.52h0M41.9 531.51h0M40.4 530.12h0M42.72 527.65h0M38.56 531.65h0M49.85 517.92h0M41.25 530.79h0M46.67 522.04h0M46.9 527.82h0M40.12 529.85h0M40.09 530.64h0M47.19 525.49h0M49.07 519.31h0M38.95 529.67h0M39.42 529.3h0M39.68 530.27h0M46.29 524.22h0M51.18 521.47h0M46.98 527.4h0M46.56 525.58h0M38.89 531.99h0M44.59 522.92h0M39.8 529.81h0M42.7 526.42h0M47.46 517.42h0M45.41 523.72h0M41.03 527.98h0M43.82 526.64h0M48.61 521.83h0M40.29 528.14h0M47.77 525.46h0M38.71 529.65h0M41.79 527.32h0M49.7 519.53h0M52.08 521.81h0M37.79 530.97h0M42.2 527.56h0M50.71 518.72h0M49.58 519.03h0M51.13 523.09h0M43.7 527.98h0M38.66 533.33h0M46.49 517.69h0M44.35 527.82h0M43.78 526.83h0M43.2 524.22h0M41.62 524.08h0M44.44 521.1h0M38.38 530.31h0M49.93 523.23h0M41.99 530.98h0M39.75 528.1h0M43.66 526.15h0M51.11 518.95h0M41.89 529.55h0M49.47 522.76h0M42.47 528.46h0M38.23 532h0M45.23 527.64h0M40.28 527.62h0M48.35 523.06h0M41.28 530.93h0M39.1 532.47h0M43.49 529.21h0M50.98 523.55h0M39.78 529.29h0M37.71 531.34h0M38.53 531.3h0M39.7 529.39h0M41.67 526.48h0M48.79 521.33h0M39.9 529.58h0M39.32 531.26h0M44.61 524.8h0M38.38 532.68h0M37.95 529.48h0M43.44 523.26h0M42.43 528.81h0M48.44 520.31h0M36.42 530.91h0M41.15 528.45h0M42.69 526.75h0M43.33 527.3h0M41.93 528.44h0M37.44 531.84h0M51.73 522.45h0M45.6 527.64h0M44.03 527.06h0M45.82 526.26h0M37.55 532.47h0M46.74 520.02h0M43.86 528.68h0M40.05 528.41h0M48.36 520.96h0M40.08 531.28h0M43.44 528.79h0M39.19 531.08h0M37.69 531.81h0M42.37 525.43h0M39.17 531.03h0M38.07 531.75h0M41.73 528.38h0M51.14 521.71h0M50.47 520.05h0M41.4 529.7h0M41.33 530.58h0M38.71 532.36h0M43.04 529.46h0M41.78 530.12h0M38.32 531.53h0M39.64 529.39h0M41.23 528.51h0M39.35 532.1h0M39.46 529.26h0M37.87 531.42h0M44 524.61h0M40.98 527.06h0M42.66 525.58h0M44.12 529.23h0M45.96 523.27h0M38.11 530.63h0M41.4 528.34h0M38.03 530.79h0M41.87 527.4h0M44.6 520.17h0M39.01 531.09h0M41.19 531h0M42.11 530.61h0M46.1 518.6h0M46.37 522.17h0M41.1 528.69h0M39.65 529.5h0M49.02 520.43h0M39.55 526.8h0M45.88 524.3h0M48.58 526.37h0M43.06 528.04h0M36.31 531.05h0M42.38 529.29h0M41.92 523.69h0M48.69 524.24h0M43.48 526.77h0M40.59 530.4h0M48.76 519.54h0M51.28 522.97h0M43.61 522.66h0M50.25 520.3h0M44.99 524.03h0M36.66 531.26h0M41.2 529.01h0M42.14 525.89h0M40.42 530.49h0M36.96 531.18h0M39.49 529.18h0M48.16 523.29h0M47.89 522.75h0M38.83 530.5h0M40.68 529.5h0M49.25 519.77h0M38.31 532.02h0M51.79 520.79h0M40.29 529.95h0M46.17 525.18h0M38.5 533.29h0M47.13 526.7h0M41.79 527.79h0M36.65 530.88h0M50.7 524.4h0M45.02 526.78h0M51.67 521.14h0M38.19 531.76h0M38.83 529.97h0M49.08 516.78h0M39.38 531.99h0M44.34 526.58h0M47.34 521.67h0M45.82 524.82h0M51.73 520.21h0M38.18 529.98h0M43.76 527.97h0M49.74 522.57h0M47.4 521.24h0M51.25 520.47h0M44.65 522.27h0M37.55 532.07h0M45.18 521.28h0M38.45 530.73h0M43.66 527.67h0M40.21 531.99h0M38.93 531.5h0M40.52 531.02h0M41.88 529.36h0M37.3 532.12h0M38.59 531.59h0M38.51 531.42h0M37.12 531.33h0M46.08 521.91h0M38.88 528.81h0M49.01 525.91h0M45.47 526.38h0M37.75 532.54h0M37.98 531.64h0M42.88 527.94h0M46.83 525.36h0M38.11 532.88h0M40.29 531.39h0M44.54 527.14h0M47.54 518.97h0M49.59 519.21h0M49.94 522.45h0M43.41 524.55h0M48.37 521.21h0M43.21 525.63h0M50.44 519.75h0M44.82 524.4h0M48.24 519.98h0M39.49 531.56h0M50.4 519.41h0M41.19 527.78h0M43.93 525.02h0M42.85 526.48h0M45.41 525.92h0M48.14 519.68h0M38.8 531.85h0M44.25 523.83h0M42.81 527.19h0M42.88 526.14h0M45.39 526.5h0M47.93 523.95h0M38.41 533.07h0M37.24 531.56h0M51.19 520.03h0M49.83 521.34h0M48.85 519h0M40.51 529.67h0M40.28 530.26h0M40.36 528.3h0M48 519.95h0M43.12 524.56h0M41.96 529.01h0M41.18 528.62h0M51.94 522.35h0M42.56 527.59h0M48.12 523.01h0M38.74 531.07h0M48.63 521.03h0M38.3 531.53h0M37.66 532.14h0M39.55 532.47h0M45.43 521.66h0M47.09 524.34h0M49.35 524.34h0M44.11 522.77h0M49 517.92h0M38.36 532.1h0M48.18 522.73h0M44.3 527.52h0M37.83 532h0M47.79 520.1h0M49.33 521.34h0M44.87 525.5h0M49.77 521.44h0M46.83 521.29h0M38.23 531.78h0M39.88 529.42h0M39.61 527.97h0M37.8 530.96h0M39.27 531.69h0M42.35 528.13h0M49.65 518.47h0M41.86 528.01h0M46.15 524.3h0M38.14 530.35h0M43.8 527.49h0M37.07 530.51h0M43.08 530.64h0M38.01 532.84h0M45.93 519.77h0M36.82 530.9h0M44.81 525.7h0M41.74 530.45h0" stroke="#c4c4c4" stroke-width="1.7" stroke-linecap="round" fill="none"/>
<line x1="32" y1="447" x2="32" y2="537.25" stroke="#1a1a1a" stroke-width="1.1" />
<line x1="31.5" y1="536.75" x2="120.75" y2="536.75" stroke="#1a1a1a" stroke-width="1.1" />
<line x1="28.7" y1="533.25" x2="32" y2="533.25" stroke="#1a1a1a" stroke-width="1.3" />
<text x="25.7" y="535.55" font-size="6.4" fill="#333" text-anchor="end" stroke="#333" stroke-width="0.22" >0.0</text>
<line x1="28.7" y1="507.5" x2="32" y2="507.5" stroke="#1a1a1a" stroke-width="1.3" />
<text x="25.7" y="509.8" font-size="6.4" fill="#333" text-anchor="end" stroke="#333" stroke-width="0.22" >0.1</text>
<line x1="28.7" y1="481.75" x2="32" y2="481.75" stroke="#1a1a1a" stroke-width="1.3" />
<text x="25.7" y="484.05" font-size="6.4" fill="#333" text-anchor="end" stroke="#333" stroke-width="0.22" >0.2</text>
<line x1="28.7" y1="456" x2="32" y2="456" stroke="#1a1a1a" stroke-width="1.3" />
<text x="25.7" y="458.3" font-size="6.4" fill="#333" text-anchor="end" stroke="#333" stroke-width="0.22" >0.3</text>
<line x1="36.75" y1="536.75" x2="36.75" y2="539.75" stroke="#1a1a1a" stroke-width="1.3" />
<text x="36.75" y="549.05" font-size="6.4" fill="#333" text-anchor="middle" stroke="#333" stroke-width="0.22" >0.0</text>
<line x1="60.75" y1="536.75" x2="60.75" y2="539.75" stroke="#1a1a1a" stroke-width="1.3" />
<text x="60.75" y="549.05" font-size="6.4" fill="#333" text-anchor="middle" stroke="#333" stroke-width="0.22" >0.1</text>
<line x1="84.75" y1="536.75" x2="84.75" y2="539.75" stroke="#1a1a1a" stroke-width="1.3" />
<text x="84.75" y="549.05" font-size="6.4" fill="#333" text-anchor="middle" stroke="#333" stroke-width="0.22" >0.2</text>
<line x1="108.75" y1="536.75" x2="108.75" y2="539.75" stroke="#1a1a1a" stroke-width="1.3" />
<text x="108.75" y="549.05" font-size="6.4" fill="#333" text-anchor="middle" stroke="#333" stroke-width="0.22" >0.3</text>
<text x="80" y="561.35" font-size="9.3" fill="#333" text-anchor="middle" font-weight="bold" textLength="55" lengthAdjust="spacingAndGlyphs" stroke="#333" stroke-width="0.05" >Promoted (usage %)</text>
<text transform="translate(11.26,488.9) rotate(-90)" font-size="9" font-weight="bold" fill="#333" stroke="#333" stroke-width="0.05" text-anchor="middle" textLength="56" lengthAdjust="spacingAndGlyphs">Repressed (usage %)</text>
<circle cx="87" cy="453.75" r="1.2" fill="#1f3a80"/>
<circle cx="84.25" cy="500.5" r="1.2" fill="#c0202a"/>
<circle cx="62.5" cy="518.25" r="1.2" fill="#c0202a"/>
<text x="88.75" y="459.09" font-size="6.5" fill="#2a2a2a" stroke="#2a2a2a" stroke-width="0.22" >AAAA</text>
<text x="79.5" y="507.84" font-size="6.5" fill="#2a2a2a" stroke="#2a2a2a" stroke-width="0.22" >CACC</text>
<text x="67" y="521.09" font-size="6.5" fill="#2a2a2a" stroke="#2a2a2a" stroke-width="0.22" >GCCG</text>
<text x="62.5" y="576.5" font-size="9" fill="#be2d50" textLength="26.3" lengthAdjust="spacingAndGlyphs" stroke="#be2d50" stroke-width="0.22" >Double</text>
<path d="M33.75 666.95h0M50.21 649.08h0M36.72 664.48h0M42.21 662.45h0M35.9 665.51h0M45.85 647.26h0M44.06 653.36h0M56.87 631.3h0M79.64 632.02h0M78.83 625.09h0M42.65 660.67h0M49.77 650.5h0M43.02 661.98h0M35.09 666.95h0M56.63 657.04h0M62.82 650.14h0M53.93 640.65h0M70.01 631.94h0M35.26 664.21h0M61.16 652.23h0M44.37 655.9h0M87.37 619.62h0M38.08 652.42h0M83.65 629.82h0M41.12 658.78h0M37.5 663.73h0M37.12 665.28h0M46.83 645.08h0M51.01 646.55h0M41.08 659.41h0M33.13 662.46h0M86.36 612.92h0M55.71 632.14h0M52.97 640.04h0M88.76 619.96h0M71.27 633.97h0M47.35 661.01h0M33.56 666.4h0M83.21 611.9h0M58.7 639.66h0M42.61 659.53h0M71.67 614.02h0M46.72 638.01h0M87.53 603.65h0M63.43 651.06h0M43.02 661.55h0M50.77 646.05h0M35.45 664.25h0M85.76 612.83h0M66.79 609.64h0M59.33 646.79h0M54.26 647.72h0M56.68 645.24h0M53.58 618.24h0M71.02 633.06h0M33 666.87h0M41.76 658.96h0M35 667.49h0M51.61 647.2h0M46.32 656.85h0M52.55 633.03h0M38.14 659.56h0M39.4 656.92h0M73.77 618.03h0M32.03 665.97h0M33.1 666.54h0M40.37 648.82h0M39.5 664.4h0M44.64 655.83h0M63.96 645.58h0M62.86 641.58h0M46.46 647.36h0M86.57 606.06h0M38.75 656.73h0M71.22 627.98h0M55.46 649.73h0M58.32 645.69h0M33.86 665.25h0M56.39 640.3h0M48.9 649.36h0M45.18 649.1h0M49.49 647.64h0M74.48 605.91h0M38.3 659.07h0M44.2 655.58h0M76.61 630.64h0M60.27 641.61h0M37.31 656.8h0M56.34 639.38h0M47.83 656.78h0M69.08 639.29h0M63.81 638.07h0M56.61 641.83h0M42.81 661.47h0M40.78 656.74h0M76.95 607.13h0M87.4 620.36h0M35.56 667.39h0M34.54 667.69h0M39.15 655.74h0M34.67 665.62h0M63.97 610.74h0M38.3 665.55h0M54.82 656.89h0M57.87 636.93h0M34.34 656.89h0M41.45 658.37h0M61.88 632.77h0M40.11 660.83h0M64.07 618.91h0M44.44 650.97h0M34.87 665.64h0M39.01 661.09h0M59.95 637.42h0M39.75 657.57h0M46.99 649.43h0M52.13 657.52h0M38.48 660.48h0M32.62 662.65h0M80.84 631.74h0M44.01 650.11h0M68.51 628.36h0M36.44 664.31h0M117.15 605.52h0M35.53 668.73h0M53.39 652.91h0M33.87 664.55h0M60.12 636.7h0M45.23 657.48h0M52.92 642.64h0M42.26 651.43h0M62.51 634.21h0M45.02 658.84h0M33.85 666.65h0M43.3 658.87h0M38.06 654.68h0M44.32 651.87h0M59.21 642.27h0M82.12 585.22h0M93.3 632.15h0M47.03 654.32h0M80.41 614.6h0M36.93 662.64h0M35.13 667.3h0M42.52 659.63h0M72.92 626.09h0M45.06 653.04h0M41.18 663.64h0M38.2 666.22h0M36.74 666.24h0M103.77 621.85h0M32.43 665.1h0M34.01 660.82h0M35.79 664.96h0M34.95 666.16h0M71.16 626.98h0M67.19 629.99h0M35.92 661.05h0M36.64 662.5h0M34.88 666.39h0M41.7 658.32h0M41.65 651h0M45.01 653.92h0M32.5 664.55h0M45.47 657.15h0M50.38 643.96h0M36 667.75h0M38.92 660.77h0M35 661.22h0M73.37 643.95h0M41.49 655.82h0M41.33 650.99h0M49.91 644.99h0M33.81 665.46h0M44.67 656.38h0M71.31 624.83h0M37.54 666.18h0M53.49 644.24h0M38.97 661.71h0M33.31 665.22h0M71.35 633.97h0M53.72 646.22h0M49.42 653.16h0M62.5 637.41h0M53.65 637.72h0M46.4 655.77h0M60.76 654.64h0M56.79 636.53h0M66.16 636.07h0M35.33 661.65h0M47.81 650.81h0M43.29 661.86h0M40.98 657.34h0M71.38 619.68h0M55.36 640.27h0M41.66 651.11h0M37.76 662.59h0M62.22 623.66h0M59.79 645.31h0M87.62 632.68h0M41.22 665.05h0M54.45 634.63h0M37.73 663.03h0M81.09 627.45h0M36.97 656.27h0M36.4 664.37h0M42.77 656.29h0M59.07 644.69h0M67.12 650.93h0M38.98 655.71h0M34.04 664.4h0M33.3 664.82h0M54.73 630.58h0M38.36 665.49h0M67.52 642.21h0M54.27 645.42h0M61.98 614.61h0M46.47 659.46h0M86.67 618.7h0M84.17 612.01h0M68.1 622.66h0M83.62 621.32h0M44.91 660.19h0M36.11 666.85h0M36.58 659h0M74.43 588.63h0M65.2 650.34h0M55.38 651.05h0M54.25 642.53h0M38.67 663.3h0M68.18 617.55h0M67.11 631.07h0M46.29 659.33h0M39.04 656.08h0M52.37 650.55h0M42.02 663.93h0M38.74 657.77h0M34.01 665.69h0M66.08 631.74h0M36 660.41h0M97.95 605.88h0M89.95 629.68h0M45.64 657.45h0M37.75 659.88h0M56.25 643.81h0M53.88 646.01h0M55.15 643.79h0M33.87 661.63h0M50.34 650.18h0M52.71 640.09h0M56.59 643.35h0M48.41 648.09h0M56.04 633.64h0M47.03 642.58h0M34.52 666.65h0M36.6 656.73h0M38.54 663.07h0M48.05 645.46h0M40.97 658.19h0M54.03 648.44h0M71.94 625.08h0M75.39 625.46h0M81.56 610.95h0M57.91 634.53h0M44.76 653.37h0M36.83 664.82h0M33.22 665.5h0M53.67 657.54h0M63.55 637.63h0M46.47 656.81h0M37.17 658.88h0M49.54 647.87h0M34.72 665.31h0M38.89 655.67h0M45.26 647.75h0M78.95 639.56h0M79.55 629h0M45.87 649.85h0M41.88 659.11h0M56.2 626.89h0M68.74 628.23h0M39.39 653.29h0M46.12 642.85h0M34.22 664.03h0M64.8 614.88h0M79.64 629.88h0M45.06 648.99h0M47.41 647.25h0M33.94 666.03h0M34.94 660.1h0M86.71 616.6h0M63.22 625.03h0M34.18 663.25h0M41.42 662.84h0M56.61 638.75h0M40.07 663.29h0M46.76 658.75h0M63.62 630.46h0M88.15 629.9h0M36.22 663.71h0M41.84 648.67h0M36.55 665.4h0M33.72 665.72h0M46.44 649.63h0M46.46 658.44h0M42.42 660.4h0M49.54 656.63h0M51.46 652.96h0M46.47 653.2h0M49.29 653.19h0M38.59 659.24h0M37.17 659.32h0M40.5 661.48h0M34.56 659.94h0M33.13 665.14h0M42.43 655.86h0M38.35 667.21h0M33.78 666.81h0M39.73 661.78h0M37.07 657.22h0M50.2 652.25h0M42.8 656.21h0M49.79 650.58h0M34.22 665.1h0M38.52 660.52h0M43.38 659.5h0M50.26 653.93h0M33.16 663.14h0M48.37 651.05h0M32.98 665.04h0M44.78 647.97h0M38.46 657.53h0M37.31 665.07h0M40.68 651.4h0M41.36 649.76h0M40.36 648.57h0M34.33 662h0M33.61 666.41h0M33.92 664.57h0M42.19 657.43h0M43.36 660.29h0M41.36 656.17h0M40.63 651.19h0M47.63 653.43h0M43.08 656.09h0M35.75 666.5h0M37.74 666.72h0M35.46 661.97h0M37.48 666.58h0M38.65 661.13h0M36.45 662.67h0M40.65 653.26h0M45.97 648.64h0M40.13 657.34h0M46 652.05h0M38.23 656.37h0M48.58 655.12h0M39.81 657.76h0M37.46 659.85h0M42.61 662.49h0M46.73 650.61h0M44.13 654.25h0M48.37 651.04h0M40.24 658.92h0M46.34 653.65h0M45.54 651.94h0M35.52 658.02h0M41.42 655.89h0M48.02 654.55h0M34.44 662.82h0M44.56 657.06h0M33.76 665.2h0M36.99 667.12h0M34.48 666.42h0M35.05 664.01h0M42.26 657.86h0M36.29 666.07h0M34.71 662.69h0M47.09 649.44h0M38.65 666.67h0M31.9 663.8h0M36.35 660.53h0M31.31 664.25h0M36.45 664.69h0M47.15 651.38h0M37.15 661.06h0M34.44 664.96h0M39.85 659.1h0M35.05 668.8h0M40.83 656.27h0M36.58 664.55h0M38.13 665.2h0M46.59 652.03h0M38.76 663.71h0M43.31 654.62h0M42.63 656.72h0M39.05 662.69h0M42.13 664.57h0M47.49 660.83h0M32.97 666.55h0M35.16 667.7h0M35.63 664.63h0M47.84 653.77h0M36.83 658.44h0M35.43 665.75h0M34.66 663.13h0M42.71 658.02h0M40.25 649.09h0M49.89 654.54h0M32.12 665.86h0M42.9 649.85h0M41.29 658.33h0M49.27 655.39h0M40.85 657.68h0M39.49 659h0M33.22 666.88h0M41.35 649.88h0M32.42 662.86h0M42.56 653.23h0M38.6 664.32h0M34.66 667.71h0M39.91 655.56h0M38.3 662.67h0M44.5 656.81h0M34.21 663.06h0M32.51 665.99h0M44.41 649.06h0M42.5 645.03h0M50.26 653.59h0M33.18 663.74h0M34.75 664.78h0M43.91 656.93h0M43.22 652.66h0M49.5 651.11h0M36.97 661.04h0M33.43 663.6h0M44.5 650.67h0M34.62 662.44h0M39.58 659.19h0M35.88 663.15h0M31.88 665.43h0M34.21 666.54h0M41.35 656.29h0M44.52 657.55h0M34.03 667.56h0M47.57 655.47h0M39.48 659.33h0M50.99 652.3h0M44.51 659.89h0M49.08 652.6h0M33.84 665.61h0M33.6 666.96h0M39.26 659.79h0M39.11 656.55h0M45.9 656.41h0M50.99 655.66h0M35.78 663.93h0M33.58 663.55h0M43.48 653.2h0M42.17 657.02h0M42.37 652.48h0M36.35 664.28h0M33.74 666.5h0M40.56 656.7h0M35.5 665.71h0M36.16 662.91h0M32.55 665.88h0M47.67 654.87h0M34.03 667.39h0M43.54 653.27h0M38.56 662.31h0M45.07 649.66h0M31.25 664.01h0M40.32 659.17h0M37.76 663.37h0M34.89 663.05h0M37.31 664.08h0M44.55 652.31h0M44.08 649.56h0M35.05 663h0M41.47 659.1h0M36.06 661.14h0M35.59 669.14h0M38.92 663.78h0M34.24 667.87h0M43.47 656.06h0M34.85 666.29h0M45.71 650.47h0M34.14 663.74h0M33.6 667.18h0M33.72 664.07h0M34.65 665.74h0M32.41 663.54h0M41.9 654.4h0M50.91 654.28h0M36.42 657.9h0M44.33 658.28h0M48 655.26h0M36.63 664.52h0M32.21 664.43h0M33.54 665.14h0M35.18 665.87h0M40.76 658.63h0M42.1 645.92h0M43.15 658.79h0M44.96 651.83h0M34.39 666.45h0M48.68 649.66h0M50.01 657.8h0M39.56 653.9h0M41.15 651.02h0M42.96 654.53h0M35.74 667.7h0M41.45 655.71h0M46.77 654.97h0M37.53 663.89h0M32.97 666.73h0M44.11 656.79h0M34.41 666.99h0M51 655.4h0M38.1 660.7h0M36.01 662.36h0M39.52 651.3h0M38.64 656.52h0M43.85 654.75h0M37.39 666.57h0M37.9 660.42h0M34.56 667.48h0M51.37 655.06h0M36.81 663.44h0M33.78 664.35h0M43.85 656.58h0M33.72 663.29h0M39.88 659.19h0M43.33 655.75h0M41.26 653.79h0M47.97 654.76h0M42.61 656.67h0M46.05 651.73h0M50.69 653.8h0M34.95 666.88h0M41.06 655.56h0M42.52 651.38h0M42.51 654.64h0M44.41 651.05h0M31.82 665.6h0M35.49 665.78h0M38.23 660.49h0M47.16 652.99h0M45.01 654.15h0M35.99 668.21h0M34.82 660.66h0M41.53 660.75h0M36.43 663.95h0M34.66 665.07h0M33.32 666.55h0M32.67 665.49h0M44.19 652.75h0M41.67 654.01h0M39.23 663.97h0M42.06 653.83h0M41.06 661.77h0M32.7 666.64h0M34.52 666.71h0M47.61 653.01h0M38.68 662.1h0M41.42 660.27h0M41.6 656.25h0M45.61 655.4h0M33.38 665.96h0M34.42 666.63h0M40.63 659.01h0M43.12 659.97h0M40.92 652.53h0M49.34 652.32h0M37.83 660.37h0M38.67 653.66h0M39.55 661.13h0M31.57 664.48h0M38.4 667.18h0M39.71 654.26h0M48.07 651.04h0M35.13 661.36h0M49.09 656.71h0M49.57 656.16h0M36.53 666.1h0M35.58 663.54h0M36.24 658.87h0M32.88 665.82h0M45.85 651.21h0M45.14 649.02h0M40.57 665.43h0M35.02 662.17h0M41.75 659.38h0M42.61 657.09h0M41.37 663.55h0M42.75 650.04h0M33.45 666.84h0M35.89 664.67h0M37.97 657.56h0M36 665.63h0M38.18 661.27h0M45.04 651.5h0M41.21 659.47h0M49.68 652.6h0M42.4 662.33h0M38.12 654.81h0M41.54 650.92h0M42.82 647.38h0M41.27 653.26h0M35.8 657.76h0M36.6 660.37h0M44.26 655.49h0M42.49 660.33h0M32.33 665.73h0M33.1 660.57h0M43.86 654.89h0M35.52 665.23h0M32.14 665.11h0M46.42 655.9h0M39.77 663.38h0M42.42 657.42h0M37.94 659.36h0M39.57 656.09h0M49.07 657.47h0M34.46 667.79h0M41.4 659.27h0M31.65 665.62h0M37.65 661.59h0M38.63 653.41h0M43.4 653.25h0M43.52 660.59h0M48.07 649.39h0M35.86 656.01h0M37.6 661h0M49.64 651.74h0M40.48 662.28h0M43.11 659.25h0M32.6 665.26h0M40.33 654.33h0M37.08 665.29h0M40.08 657.41h0M37.61 655.55h0M37.36 661.54h0M45.21 658.43h0M33.71 666.82h0M41.22 662.43h0M39.95 649.25h0M38.65 661.31h0M33.52 663.01h0M34.17 661.88h0M35.89 663.44h0M45.77 652.87h0M37.14 664.7h0M35.74 665.12h0M44.41 657.27h0M35.46 666.39h0M36.97 663.54h0M45.3 662.17h0M40.35 653.1h0M34.83 664.95h0M37.68 658.83h0M36.46 655.02h0M41.24 659.9h0M39.94 657.7h0M39.97 660.27h0M48.14 656.54h0M43.47 654.81h0M44.19 650.55h0M45.91 646.9h0M40.86 664.06h0M38.01 652.45h0M43.92 657.2h0M37.98 662.02h0M45.01 651.38h0M47.74 652.36h0M32.47 664.11h0M33.5 666.48h0M52.47 653.06h0M33.78 663.94h0M34.87 665.47h0M43.53 648.29h0M38.95 662.44h0M37.02 665.66h0M33.45 665.55h0M37.71 658.53h0M37.48 663.91h0M34.61 666.09h0M36.67 659.57h0M45.99 655.84h0M39.56 657.56h0M40.54 659.22h0M35.4 662.2h0M32.52 665.31h0M40.04 658.81h0M47.57 650.81h0M32.94 664.84h0M46.48 656.27h0M40.09 649.92h0M36.06 659.04h0M40.95 657.45h0M40.76 659.24h0M51.05 658.33h0M37.19 655.65h0M34.14 664.07h0M38.04 657.99h0M32.49 664.99h0M46.76 658.51h0M34.9 668.53h0M45.15 657.62h0M40.25 659.74h0M44.68 654.76h0M42.15 658.68h0M44.47 646.49h0M33.9 661.47h0M44.89 651.45h0M35.08 661.47h0M40.83 656.62h0M39.92 656.65h0M45.43 646.68h0M32.44 665.66h0M34.43 666.42h0M43.51 658.16h0M35.89 664.63h0M53.84 654.94h0M48.77 659.93h0M38.85 663.65h0M37.43 658.45h0M35.77 667.77h0M41.72 658.3h0M36.9 663.38h0M45.02 655.15h0M34.56 666h0M40.04 658.04h0M32.25 664.73h0M46.84 654.65h0M35.54 659.67h0M45.31 661.96h0M36.1 663.34h0M38.6 660.26h0M44.2 655.69h0M40.36 658.14h0M39.56 662.78h0M34.41 665.57h0M47.73 659.15h0M43.89 656.56h0M45.83 656.28h0M52.36 652.94h0M35.38 665.93h0M40.46 658.22h0" stroke="#c4c4c4" stroke-width="1.7" stroke-linecap="round" fill="none"/>
<line x1="29.5" y1="582.5" x2="29.5" y2="672.5" stroke="#1a1a1a" stroke-width="1.1" />
<line x1="29" y1="672" x2="115.5" y2="672" stroke="#1a1a1a" stroke-width="1.1" />
<line x1="26.2" y1="668.25" x2="29.5" y2="668.25" stroke="#1a1a1a" stroke-width="1.3" />
<text x="23.2" y="670.55" font-size="6.4" fill="#333" text-anchor="end" stroke="#333" stroke-width="0.22" >0.0</text>
<line x1="26.2" y1="640.5" x2="29.5" y2="640.5" stroke="#1a1a1a" stroke-width="1.3" />
<text x="23.2" y="642.8" font-size="6.4" fill="#333" text-anchor="end" stroke="#333" stroke-width="0.22" >0.1</text>
<line x1="26.2" y1="612.75" x2="29.5" y2="612.75" stroke="#1a1a1a" stroke-width="1.3" />
<text x="23.2" y="615.05" font-size="6.4" fill="#333" text-anchor="end" stroke="#333" stroke-width="0.22" >0.2</text>
<line x1="26.2" y1="585" x2="29.5" y2="585" stroke="#1a1a1a" stroke-width="1.3" />
<text x="23.2" y="587.3" font-size="6.4" fill="#333" text-anchor="end" stroke="#333" stroke-width="0.22" >0.3</text>
<line x1="32" y1="672" x2="32" y2="675" stroke="#1a1a1a" stroke-width="1.3" />
<text x="32" y="684.3" font-size="6.4" fill="#333" text-anchor="middle" stroke="#333" stroke-width="0.22" >0.0</text>
<line x1="53" y1="672" x2="53" y2="675" stroke="#1a1a1a" stroke-width="1.3" />
<text x="53" y="684.3" font-size="6.4" fill="#333" text-anchor="middle" stroke="#333" stroke-width="0.22" >0.1</text>
<line x1="74" y1="672" x2="74" y2="675" stroke="#1a1a1a" stroke-width="1.3" />
<text x="74" y="684.3" font-size="6.4" fill="#333" text-anchor="middle" stroke="#333" stroke-width="0.22" >0.2</text>
<line x1="95" y1="672" x2="95" y2="675" stroke="#1a1a1a" stroke-width="1.3" />
<text x="95" y="684.3" font-size="6.4" fill="#333" text-anchor="middle" stroke="#333" stroke-width="0.22" >0.3</text>
<text x="75" y="696.35" font-size="9.3" fill="#333" text-anchor="middle" font-weight="bold" textLength="55" lengthAdjust="spacingAndGlyphs" stroke="#333" stroke-width="0.05" >Promoted (usage %)</text>
<text transform="translate(9.86,628.6) rotate(-90)" font-size="9" font-weight="bold" fill="#333" stroke="#333" stroke-width="0.05" text-anchor="middle" textLength="49" lengthAdjust="spacingAndGlyphs">Repressed (usage %)</text>
<line x1="40" y1="634" x2="42" y2="644.5" stroke="#222" stroke-width="0.7" />
<line x1="50" y1="641" x2="53.5" y2="652.5" stroke="#222" stroke-width="0.7" />
<line x1="74.5" y1="656" x2="57" y2="653.5" stroke="#222" stroke-width="0.7" />
<line x1="65" y1="635" x2="69.5" y2="642" stroke="#222" stroke-width="0.7" />
<line x1="80" y1="639" x2="80.5" y2="632.5" stroke="#222" stroke-width="0.7" />
<line x1="54.5" y1="660" x2="49.3" y2="658.3" stroke="#222" stroke-width="0.7" />
<line x1="53" y1="665" x2="43" y2="662.5" stroke="#222" stroke-width="0.7" />
<line x1="36" y1="666" x2="37.5" y2="660.5" stroke="#222" stroke-width="0.7" />
<line x1="52" y1="651" x2="40" y2="655.5" stroke="#222" stroke-width="0.7" />
<line x1="57" y1="619" x2="55.5" y2="617.5" stroke="#222" stroke-width="0.7" />
<circle cx="65.5" cy="606.25" r="1.2" fill="#1f3a80"/>
<circle cx="59.5" cy="616.75" r="1.2" fill="#1f3a80"/>
<circle cx="55.5" cy="617.5" r="1.2" fill="#1f3a80"/>
<circle cx="80.5" cy="631.25" r="1.2" fill="#c0202a"/>
<circle cx="87" cy="632.5" r="1.2" fill="#c0202a"/>
<circle cx="69.5" cy="642" r="1.2" fill="#c0202a"/>
<circle cx="53.75" cy="653.75" r="1.2" fill="#c0202a"/>
<circle cx="57" cy="653.25" r="1.2" fill="#c0202a"/>
<circle cx="49.25" cy="658.25" r="1.2" fill="#c0202a"/>
<circle cx="43" cy="662.5" r="1.2" fill="#c0202a"/>
<circle cx="40" cy="655.5" r="1.2" fill="#1f3a80"/>
<circle cx="37.5" cy="660" r="1.2" fill="#1f3a80"/>
<circle cx="42" cy="644.5" r="1.2" fill="#1f3a80"/>
<text x="55" y="604.59" font-size="5.8" fill="#2a2a2a" stroke="#2a2a2a" stroke-width="0.22" >GTGG</text>
<text x="61.25" y="619.09" font-size="5.8" fill="#2a2a2a" stroke="#2a2a2a" stroke-width="0.22" >TGGT</text>
<text x="40" y="626.34" font-size="5.8" fill="#2a2a2a" stroke="#2a2a2a" stroke-width="0.22" >GGTG</text>
<text x="76.25" y="626.34" font-size="5.8" fill="#2a2a2a" stroke="#2a2a2a" stroke-width="0.22" >CACC</text>
<text x="31.25" y="633.09" font-size="5.8" fill="#2a2a2a" stroke="#2a2a2a" stroke-width="0.22" >TGGTG</text>
<text x="58" y="634.09" font-size="5.8" fill="#2a2a2a" stroke="#2a2a2a" stroke-width="0.22" >ACCC</text>
<text x="89.5" y="634.09" font-size="5.8" fill="#2a2a2a" stroke="#2a2a2a" stroke-width="0.22" >CCCC</text>
<text x="77.5" y="643.84" font-size="5.8" fill="#2a2a2a" stroke="#2a2a2a" stroke-width="0.22" >CCAC</text>
<text x="45" y="640.84" font-size="5.8" fill="#2a2a2a" stroke="#2a2a2a" stroke-width="0.22" >CCCTG</text>
<text x="31.25" y="652.09" font-size="5.8" fill="#2a2a2a" stroke="#2a2a2a" stroke-width="0.22" >AGGTG</text>
<text x="53.75" y="651.34" font-size="5.8" fill="#2a2a2a" stroke="#2a2a2a" stroke-width="0.22" >CCCG</text>
<text x="74.5" y="658.34" font-size="5.8" fill="#2a2a2a" stroke="#2a2a2a" stroke-width="0.22" >CCGG</text>
<text x="54.5" y="662.09" font-size="5.8" fill="#2a2a2a" stroke="#2a2a2a" stroke-width="0.22" >AGCCC</text>
<text x="53" y="667.09" font-size="5.8" fill="#2a2a2a" stroke="#2a2a2a" stroke-width="0.22" >ACCCT</text>
<text x="31.25" y="670.84" font-size="5.8" fill="#2a2a2a" stroke="#2a2a2a" stroke-width="0.22" >GGTGT</text>
<text x="135" y="298.5" font-size="11.5" font-weight="bold" fill="#000">F</text>
<text x="176" y="303.24" font-size="9" fill="#5aaa5a" stroke="#5aaa5a" stroke-width="0.22"><tspan textLength="27" lengthAdjust="spacingAndGlyphs">SRSF2</tspan><tspan font-size="6.8" dy="-3.9" stroke-width="0" textLength="30.7" lengthAdjust="spacingAndGlyphs">P95H/+/+</tspan></text>
<line x1="183.75" y1="338.3" x2="183.75" y2="357" stroke="#333" stroke-width="1.1" stroke-dasharray="2.3 1.7"/>
<line x1="183.75" y1="370.4" x2="183.75" y2="389.4" stroke="#333" stroke-width="1.1" stroke-dasharray="2.3 1.7"/>
<line x1="175.85" y1="338.3" x2="191.65" y2="338.3" stroke="#111" stroke-width="1.3" />
<line x1="175.85" y1="389.4" x2="191.65" y2="389.4" stroke="#111" stroke-width="1.3" />
<rect x="168.75" y="357" width="30" height="13.4" fill="#145096" stroke="#0a2148" stroke-width="0.7"/>
<line x1="168.75" y1="363.6" x2="198.75" y2="363.6" stroke="#0a2148" stroke-width="1.5" />
<circle cx="183.75" cy="334" r="2.05" fill="none" stroke="#111" stroke-width="0.95"/>
<line x1="220.5" y1="335.3" x2="220.5" y2="349.3" stroke="#333" stroke-width="1.1" stroke-dasharray="2.3 1.7"/>
<line x1="220.5" y1="359.1" x2="220.5" y2="373.1" stroke="#333" stroke-width="1.1" stroke-dasharray="2.3 1.7"/>
<line x1="212.8" y1="335.3" x2="228.2" y2="335.3" stroke="#111" stroke-width="1.3" />
<line x1="212.8" y1="373.1" x2="228.2" y2="373.1" stroke="#111" stroke-width="1.3" />
<rect x="205.65" y="349.3" width="29.7" height="9.8" fill="#d2142d" stroke="#7a0014" stroke-width="0.7"/>
<line x1="205.65" y1="353.5" x2="235.35" y2="353.5" stroke="#7a0014" stroke-width="1.5" />
<circle cx="220.5" cy="327.7" r="2.05" fill="none" stroke="#111" stroke-width="0.95"/>
<circle cx="220.5" cy="334" r="2.05" fill="none" stroke="#111" stroke-width="0.95"/>
<circle cx="220.5" cy="374.6" r="2.05" fill="none" stroke="#111" stroke-width="0.95"/>
<circle cx="220.5" cy="381.4" r="2.05" fill="none" stroke="#111" stroke-width="0.95"/>
<circle cx="220.5" cy="383.7" r="2.05" fill="none" stroke="#111" stroke-width="0.95"/>
<line x1="162.5" y1="308.5" x2="162.5" y2="399.5" stroke="#1a1a1a" stroke-width="1.1" />
<line x1="162" y1="399" x2="240" y2="399" stroke="#1a1a1a" stroke-width="1.1" />
<line x1="159.2" y1="380.5" x2="162.5" y2="380.5" stroke="#1a1a1a" stroke-width="1.3" />
<text x="156.2" y="382.8" font-size="6.4" fill="#333" text-anchor="end" stroke="#333" stroke-width="0.22" >−2</text>
<line x1="159.2" y1="360.9" x2="162.5" y2="360.9" stroke="#1a1a1a" stroke-width="1.3" />
<text x="156.2" y="363.2" font-size="6.4" fill="#333" text-anchor="end" stroke="#333" stroke-width="0.22" >0</text>
<line x1="159.2" y1="341.3" x2="162.5" y2="341.3" stroke="#1a1a1a" stroke-width="1.3" />
<text x="156.2" y="343.6" font-size="6.4" fill="#333" text-anchor="end" stroke="#333" stroke-width="0.22" >2</text>
<line x1="159.2" y1="321.7" x2="162.5" y2="321.7" stroke="#1a1a1a" stroke-width="1.3" />
<text x="156.2" y="324" font-size="6.4" fill="#333" text-anchor="end" stroke="#333" stroke-width="0.22" >4</text>
<line x1="183.75" y1="399" x2="183.75" y2="402" stroke="#1a1a1a" stroke-width="1.3" />
<text x="183.75" y="410.58" font-size="6.6" fill="#333" text-anchor="middle" stroke="#333" stroke-width="0.22" >GGNG</text>
<line x1="220.5" y1="399" x2="220.5" y2="402" stroke="#1a1a1a" stroke-width="1.3" />
<text x="220.5" y="410.58" font-size="6.6" fill="#333" text-anchor="middle" stroke="#333" stroke-width="0.22" >CCNG</text>
<text x="204.6" y="422.49" font-size="8.3" fill="#333" text-anchor="middle" font-weight="bold" textLength="19" lengthAdjust="spacingAndGlyphs" stroke="#333" stroke-width="0.05" >k-mers</text>
<text transform="translate(141.16,352.5) rotate(-90)" font-size="8.6" font-weight="bold" fill="#333" stroke="#333" stroke-width="0.05" text-anchor="middle" textLength="78" lengthAdjust="spacingAndGlyphs">log<tspan font-size="5" dy="1.6">2</tspan><tspan dy="-1.6"> (promoted / repressed)</tspan></text>
<text x="183.25" y="441.24" font-size="9" fill="#2d4f78" stroke="#2d4f78" stroke-width="0.22"><tspan textLength="43" lengthAdjust="spacingAndGlyphs">RUNX1 KD</tspan><tspan font-size="6" dy="-3.9" stroke-width="0"></tspan></text>
<line x1="183.1" y1="477" x2="183.1" y2="492.5" stroke="#333" stroke-width="1.1" stroke-dasharray="2.3 1.7"/>
<line x1="183.1" y1="502.5" x2="183.1" y2="518" stroke="#333" stroke-width="1.1" stroke-dasharray="2.3 1.7"/>
<line x1="175.5" y1="477" x2="190.7" y2="477" stroke="#111" stroke-width="1.3" />
<line x1="175.5" y1="518" x2="190.7" y2="518" stroke="#111" stroke-width="1.3" />
<rect x="168.7" y="492.5" width="28.8" height="10" fill="#145096" stroke="#0a2148" stroke-width="0.7"/>
<line x1="168.7" y1="497.5" x2="197.5" y2="497.5" stroke="#0a2148" stroke-width="1.5" />
<circle cx="183.1" cy="475.75" r="2.05" fill="none" stroke="#111" stroke-width="0.95"/>
<circle cx="183.1" cy="520.5" r="2.05" fill="none" stroke="#111" stroke-width="0.95"/>
<circle cx="183.1" cy="523" r="2.05" fill="none" stroke="#111" stroke-width="0.95"/>
<line x1="219.4" y1="480" x2="219.4" y2="490" stroke="#333" stroke-width="1.1" stroke-dasharray="2.3 1.7"/>
<line x1="219.4" y1="496.75" x2="219.4" y2="507.5" stroke="#333" stroke-width="1.1" stroke-dasharray="2.3 1.7"/>
<line x1="211.9" y1="480" x2="226.9" y2="480" stroke="#111" stroke-width="1.3" />
<line x1="211.9" y1="507.5" x2="226.9" y2="507.5" stroke="#111" stroke-width="1.3" />
<rect x="205" y="490" width="28.8" height="6.75" fill="#d2142d" stroke="#7a0014" stroke-width="0.7"/>
<line x1="205" y1="494.25" x2="233.8" y2="494.25" stroke="#7a0014" stroke-width="1.5" />
<circle cx="219.4" cy="465.5" r="2.05" fill="none" stroke="#111" stroke-width="0.95"/>
<circle cx="219.4" cy="475" r="2.05" fill="none" stroke="#111" stroke-width="0.95"/>
<circle cx="219.4" cy="477" r="2.05" fill="none" stroke="#111" stroke-width="0.95"/>
<circle cx="219.4" cy="508.75" r="2.05" fill="none" stroke="#111" stroke-width="0.95"/>
<circle cx="219.4" cy="512" r="2.05" fill="none" stroke="#111" stroke-width="0.95"/>
<circle cx="219.4" cy="515" r="2.05" fill="none" stroke="#111" stroke-width="0.95"/>
<line x1="162" y1="446.25" x2="162" y2="537.5" stroke="#1a1a1a" stroke-width="1.1" />
<line x1="161.5" y1="537" x2="240" y2="537" stroke="#1a1a1a" stroke-width="1.1" />
<line x1="158.7" y1="519.25" x2="162" y2="519.25" stroke="#1a1a1a" stroke-width="1.3" />
<text x="155.7" y="521.55" font-size="6.4" fill="#333" text-anchor="end" stroke="#333" stroke-width="0.22" >−2</text>
<line x1="158.7" y1="499.25" x2="162" y2="499.25" stroke="#1a1a1a" stroke-width="1.3" />
<text x="155.7" y="501.55" font-size="6.4" fill="#333" text-anchor="end" stroke="#333" stroke-width="0.22" >0</text>
<line x1="158.7" y1="479.25" x2="162" y2="479.25" stroke="#1a1a1a" stroke-width="1.3" />
<text x="155.7" y="481.55" font-size="6.4" fill="#333" text-anchor="end" stroke="#333" stroke-width="0.22" >2</text>
<line x1="158.7" y1="459.25" x2="162" y2="459.25" stroke="#1a1a1a" stroke-width="1.3" />
<text x="155.7" y="461.55" font-size="6.4" fill="#333" text-anchor="end" stroke="#333" stroke-width="0.22" >4</text>
<line x1="183.1" y1="537" x2="183.1" y2="540" stroke="#1a1a1a" stroke-width="1.3" />
<text x="183.1" y="549.38" font-size="6.6" fill="#333" text-anchor="middle" stroke="#333" stroke-width="0.22" >GGNG</text>
<line x1="219.4" y1="537" x2="219.4" y2="540" stroke="#1a1a1a" stroke-width="1.3" />
<text x="219.4" y="549.38" font-size="6.6" fill="#333" text-anchor="middle" stroke="#333" stroke-width="0.22" >CCNG</text>
<text x="204.9" y="561.74" font-size="8.3" fill="#333" text-anchor="middle" font-weight="bold" textLength="19" lengthAdjust="spacingAndGlyphs" stroke="#333" stroke-width="0.05" >k-mers</text>
<text transform="translate(141.96,488.7) rotate(-90)" font-size="8.6" font-weight="bold" fill="#333" stroke="#333" stroke-width="0.05" text-anchor="middle" textLength="75" lengthAdjust="spacingAndGlyphs">log<tspan font-size="5" dy="1.6">2</tspan><tspan dy="-1.6"> (promoted / repressed)</tspan></text>
<text x="188.75" y="576.6" font-size="9" fill="#be2d50" textLength="26.3" lengthAdjust="spacingAndGlyphs" stroke="#be2d50" stroke-width="0.22" >Double</text>
<line x1="180.6" y1="624.25" x2="180.6" y2="634.5" stroke="#333" stroke-width="1.1" stroke-dasharray="2.3 1.7"/>
<line x1="180.6" y1="643.25" x2="180.6" y2="655.75" stroke="#333" stroke-width="1.1" stroke-dasharray="2.3 1.7"/>
<line x1="172.7" y1="624.25" x2="188.5" y2="624.25" stroke="#111" stroke-width="1.3" />
<line x1="172.7" y1="655.75" x2="188.5" y2="655.75" stroke="#111" stroke-width="1.3" />
<rect x="166.7" y="634.5" width="27.8" height="8.75" fill="#145096" stroke="#0a2148" stroke-width="0.7"/>
<line x1="166.7" y1="638.75" x2="194.5" y2="638.75" stroke="#0a2148" stroke-width="1.5" />
<circle cx="180.6" cy="662" r="2.05" fill="none" stroke="#111" stroke-width="0.95"/>
<circle cx="180.6" cy="664.25" r="2.05" fill="none" stroke="#111" stroke-width="0.95"/>
<circle cx="180.6" cy="668.25" r="2.05" fill="none" stroke="#111" stroke-width="0.95"/>
<line x1="215.9" y1="616.75" x2="215.9" y2="625" stroke="#333" stroke-width="1.1" stroke-dasharray="2.3 1.7"/>
<line x1="215.9" y1="631.25" x2="215.9" y2="640.5" stroke="#333" stroke-width="1.1" stroke-dasharray="2.3 1.7"/>
<line x1="208.6" y1="616.75" x2="223.2" y2="616.75" stroke="#111" stroke-width="1.3" />
<line x1="208.6" y1="640.5" x2="223.2" y2="640.5" stroke="#111" stroke-width="1.3" />
<rect x="201.8" y="625" width="28.2" height="6.25" fill="#d2142d" stroke="#7a0014" stroke-width="0.7"/>
<line x1="201.8" y1="628.25" x2="230" y2="628.25" stroke="#7a0014" stroke-width="1.5" />
<circle cx="215.9" cy="588" r="2.05" fill="none" stroke="#111" stroke-width="0.95"/>
<circle cx="215.9" cy="611.75" r="2.05" fill="none" stroke="#111" stroke-width="0.95"/>
<circle cx="215.9" cy="613.75" r="2.05" fill="none" stroke="#111" stroke-width="0.95"/>
<circle cx="215.9" cy="641.75" r="2.05" fill="none" stroke="#111" stroke-width="0.95"/>
<circle cx="215.9" cy="644.25" r="2.05" fill="none" stroke="#111" stroke-width="0.95"/>
<line x1="160.5" y1="582" x2="160.5" y2="672.5" stroke="#1a1a1a" stroke-width="1.1" />
<line x1="160" y1="672" x2="237.5" y2="672" stroke="#1a1a1a" stroke-width="1.1" />
<line x1="157.2" y1="653.85" x2="160.5" y2="653.85" stroke="#1a1a1a" stroke-width="1.3" />
<text x="154.2" y="656.15" font-size="6.4" fill="#333" text-anchor="end" stroke="#333" stroke-width="0.22" >−2</text>
<line x1="157.2" y1="633.25" x2="160.5" y2="633.25" stroke="#1a1a1a" stroke-width="1.3" />
<text x="154.2" y="635.55" font-size="6.4" fill="#333" text-anchor="end" stroke="#333" stroke-width="0.22" >0</text>
<line x1="157.2" y1="612.65" x2="160.5" y2="612.65" stroke="#1a1a1a" stroke-width="1.3" />
<text x="154.2" y="614.95" font-size="6.4" fill="#333" text-anchor="end" stroke="#333" stroke-width="0.22" >2</text>
<line x1="157.2" y1="592.05" x2="160.5" y2="592.05" stroke="#1a1a1a" stroke-width="1.3" />
<text x="154.2" y="594.35" font-size="6.4" fill="#333" text-anchor="end" stroke="#333" stroke-width="0.22" >4</text>
<line x1="180.6" y1="672" x2="180.6" y2="675" stroke="#1a1a1a" stroke-width="1.3" />
<text x="180.6" y="684.88" font-size="6.6" fill="#333" text-anchor="middle" stroke="#333" stroke-width="0.22" >GGNG</text>
<line x1="215.9" y1="672" x2="215.9" y2="675" stroke="#1a1a1a" stroke-width="1.3" />
<text x="215.9" y="684.88" font-size="6.6" fill="#333" text-anchor="middle" stroke="#333" stroke-width="0.22" >CCNG</text>
<text x="201.9" y="696.74" font-size="8.3" fill="#333" text-anchor="middle" font-weight="bold" textLength="19" lengthAdjust="spacingAndGlyphs" stroke="#333" stroke-width="0.05" >k-mers</text>
<text transform="translate(140.66,626.1) rotate(-90)" font-size="8.6" font-weight="bold" fill="#333" stroke="#333" stroke-width="0.05" text-anchor="middle" textLength="76" lengthAdjust="spacingAndGlyphs">log<tspan font-size="5" dy="1.6">2</tspan><tspan dy="-1.6"> (promoted / repressed)</tspan></text>
<text x="265" y="298.8" font-size="11.5" font-weight="bold" fill="#000">G</text>
<text x="309" y="302.84" font-size="9" fill="#5aaa5a" stroke="#5aaa5a" stroke-width="0.22"><tspan textLength="19.3" lengthAdjust="spacingAndGlyphs">Srsf2</tspan><tspan font-size="6.8" dy="-3.9" stroke-width="0" textLength="23.7" lengthAdjust="spacingAndGlyphs">P95H/+</tspan></text>
<path d="M293.28 390.12h0M325.02 361.49h0M297.78 386.4h0M338.67 360.33h0M342.77 330.99h0M296.44 386.53h0M329.18 347.8h0M298.55 385.99h0M305.2 378.57h0M334.67 336.27h0M297.43 385.99h0M340.08 328.52h0M309.09 380.83h0M322.02 366.02h0M317.88 376.5h0M311.73 374.43h0M312.91 376.87h0M298.85 382.69h0M313.43 377.65h0M295.89 382.21h0M319.15 358.64h0M298.03 389.23h0M301.43 380.03h0M317 375.18h0M296.51 384.95h0M331.24 352.79h0M314.59 379.6h0M295.5 391.83h0M354.02 336.91h0M306.25 380.53h0M309.95 380.11h0M328.42 338.27h0M314.06 371.9h0M301.22 382.32h0M323.72 360.39h0M294.08 390.56h0M299.04 387.97h0M299.43 390.66h0M327.28 362.86h0M304.3 380.6h0M322.51 351.33h0M298.79 390.36h0M296.06 380.81h0M300.18 390.67h0M297.74 391.28h0M296.2 389.08h0M341.72 343.58h0M296.55 390.33h0M305.74 380.94h0M317.7 368.02h0M334.05 361.18h0M302.94 385.19h0M298.03 383.72h0M319.35 364.55h0M306.12 381.42h0M310.34 375.36h0M330.63 347.51h0M296.19 392.23h0M343.48 340.43h0M311.3 372.95h0M310.34 379.59h0M314.71 380.54h0M314.11 377.82h0M302.83 380.26h0M304.88 383.22h0M305.62 379.67h0M334.77 360.06h0M305.67 369.83h0M321.89 367.83h0M308.6 377.46h0M317.99 370.77h0M323.85 366.34h0M298.33 383.9h0M296.17 390.94h0M295.08 390.79h0M299.72 387.66h0M303.02 374.95h0M354.72 348.29h0M306.89 381.52h0M332.65 343.41h0M294.09 383.97h0M307.67 381.43h0M318.05 365.71h0M317.2 379.54h0M306.67 376.87h0M310.33 363.93h0M312.95 368.26h0M301.06 384.85h0M345.24 357.95h0M360.75 322.56h0M335.44 353.73h0M307.25 379.14h0M313.27 366.66h0M355.37 360.68h0M314.06 369.01h0M296.21 387.82h0M331.57 351.88h0M300.25 376.44h0M323.95 357.65h0M301.42 377.85h0M333.1 368.89h0M299.47 382.06h0M300.02 385.66h0M335.4 355.43h0M295.99 387.44h0M314.71 360.48h0M312.82 374.91h0M315.75 369.6h0M295.27 388.86h0M345.87 352.66h0M293.62 388.08h0M294.98 385.06h0M303.11 374.5h0M320.71 345.21h0M303.04 386.92h0M327.88 362.74h0M320.16 353.47h0M304.14 382.59h0M303.29 388.34h0M334.56 334.49h0M317.57 370.51h0M294.82 391.4h0M335.83 355.36h0M315.72 367.06h0M296.79 382.22h0M299.94 376.74h0M302.19 383.48h0M316.78 378.25h0M318.02 365.77h0M309.18 382.39h0M308.84 382.4h0M315.82 377.1h0M296.82 390.79h0M294.19 390.38h0M301.52 387.4h0M351.52 341.58h0M299.1 387.92h0M294.34 390.4h0M342.21 357.54h0M339.13 351.56h0M297.21 388.57h0M312.7 377.26h0M336.4 347.63h0M326.3 367.88h0M319.02 369.51h0M318.09 376.22h0M295.94 387.92h0M302.82 384.91h0M295.19 387.22h0M327.59 349.59h0M301.71 383.87h0M326.3 356.39h0M301.26 378.55h0M295.77 385.93h0M292.81 388.32h0M299.12 384.74h0M304.12 384.84h0M317.42 356.22h0M361.17 316.3h0M293.2 389.82h0M353.32 340.32h0M296.17 388.58h0M297.44 388.73h0M371.7 326.65h0M296.95 383.89h0M297.62 383.3h0M322.7 361.97h0M340 302.82h0M318.85 364.23h0M315.65 364.58h0M306.71 378.08h0M315.2 371.64h0M296.83 382.62h0M308.97 370.74h0M359.31 337.71h0M293.34 389.21h0M304.03 384.47h0M296.01 387.23h0M311.33 366.67h0M295.14 391.73h0M329.42 351.54h0M316.61 370.83h0M341.69 344.5h0M312.55 373.21h0M295.63 388.07h0M312.33 378.96h0M327.28 343.13h0M317.96 348.45h0M307.37 379.32h0M307.51 375.31h0M300.62 383.02h0M321.88 360.3h0M357.65 349.31h0M299.12 388.44h0M301.26 384.7h0M311.41 367.57h0M296.6 380.55h0M368.96 321.67h0M314.44 373.81h0M299 390.13h0M342.32 346.76h0M294.42 390.86h0M339.27 370.71h0M325.61 350.65h0M299.3 387.89h0M303.33 377.37h0M300.35 387.36h0M327.66 367.41h0M357.2 325h0M304.69 370.83h0M299.87 387.31h0M348.43 341.82h0M300.73 383.06h0M317.27 376.14h0M312.2 385.08h0M321.91 379.93h0M296.66 387.21h0M300.61 385.69h0M299.34 378.13h0M299.02 385.23h0M305.63 382.74h0M300.51 384.34h0M303.39 377.56h0M300.85 386.84h0M330.51 353.1h0M310.98 372.81h0M311.3 359.59h0M297.56 377.64h0M295.71 392.19h0M295.91 387.7h0M307.88 370.11h0M296.17 391.5h0M300.55 387.8h0M312.15 378.06h0M323.58 341.12h0M322.29 374.15h0M294.62 390.08h0M293.42 390.3h0M331.58 357.75h0M294.84 389.87h0M302.6 378.03h0M296.99 389.5h0M297.92 388.98h0M307.43 373.52h0M304.08 389.14h0M308.29 375.08h0M298.59 389.76h0M330.46 367.5h0M325.86 355.91h0M304.84 383.16h0M341.94 321.59h0M336.96 360.06h0M294.69 386.99h0M301.75 388.54h0M308.51 376.84h0M316.68 363.5h0M298.54 384.6h0M342.76 353.76h0M362.19 334.06h0M303.28 376.94h0M306.1 375.74h0M309.69 379.12h0M292.04 389.01h0M299.34 384.55h0M302.68 382.23h0M297.12 381.81h0M293.3 390.11h0M296.58 390.96h0M307.11 384.94h0M293.65 389.05h0M303.31 377.39h0M297.59 384.38h0M301.47 386.69h0M304.38 385.63h0M296.95 388.25h0M300.68 383.28h0M306.68 382.72h0M296.94 390.51h0M302.76 383.94h0M300.9 381.65h0M305.18 384.44h0M292.56 387.79h0M303.75 384.61h0M303.95 382.07h0M304.92 374.71h0M291.91 388.61h0M296.49 391.23h0M307.71 378.38h0M295.56 391.26h0M308.28 379.7h0M303.64 378.16h0M295.2 389.49h0M298.49 385.39h0M306.39 376.77h0M307.05 376.74h0M301.53 375.25h0M294.58 389.44h0M300.3 387.93h0M302.13 382.96h0M302.81 383.06h0M297.16 389.25h0M300.63 386.09h0M299.09 381.35h0M298.87 384.96h0M303.73 386.98h0M295.58 391.85h0M302.34 382.39h0M303.22 382.61h0M302.71 378.97h0M299.61 382.76h0M295.58 389.95h0M295.08 391.38h0M304.4 383.33h0M296.17 391.34h0M295.13 388.85h0M293.4 390.06h0M307.2 381.05h0M307.36 375.24h0M312.08 381.04h0M295.05 390.1h0M299.96 385.77h0M300.07 388.27h0M307.22 380.77h0M296.07 391.41h0M305.64 376.88h0M298.27 388.84h0M305.07 376.57h0M300.46 376.97h0M294.73 390.11h0M297.33 386.01h0M294.99 388.76h0M296.36 387.96h0M305.35 374.08h0M307.1 378.13h0M295.08 384.03h0M304.98 381.17h0M304.77 378.25h0M296.92 387.89h0M299.71 387.11h0M301.44 384.18h0M303.41 376.94h0M303.75 383.57h0M302.4 382.98h0M304.7 379.02h0M297.3 381.94h0M297.38 388.37h0M299.28 383.77h0M299.55 385.38h0M301.31 383.06h0M295.77 388.9h0M298.89 383.89h0M295.91 387.87h0M292.54 388.93h0M294.93 391.92h0M309.72 381.1h0M299.71 386.23h0M296.41 389.28h0M303.08 384.03h0M303.12 383.11h0M294.74 388.45h0M303.01 387.67h0M305.05 376.64h0M303.72 383.96h0M307.51 375.62h0M301.96 385.37h0M293.53 389.91h0M295.2 389.93h0M297.5 384.38h0M300.4 379.25h0M305.42 383.64h0M297.48 384h0M301.13 384.98h0M300.6 388.17h0M309.21 378.15h0M304.61 377.32h0M302.38 384.02h0M296.58 389.47h0M301.6 387.66h0M310.77 379.83h0M307.41 381.4h0M299.11 382.45h0M295.91 389.86h0M302.03 384.18h0M300.53 383.46h0M294.85 389.8h0M300.28 384.77h0M294.45 387.85h0M303.73 374.29h0M296.13 389.53h0M303.28 385.51h0M292.77 388.72h0M309.51 378.75h0M300.74 385.26h0M309.67 378.97h0M305.28 386.96h0M307.39 386.26h0M294.53 389.91h0M298.36 387.36h0M306.09 374.32h0M304.7 377.31h0M293.8 388.89h0M296.98 388.5h0M302 372.88h0M299.3 388.03h0M295.39 389.95h0M303.61 379.05h0M298.07 384.65h0M309.63 380.74h0M306.58 379.25h0M305.4 373.85h0M300.23 383.85h0M296.23 389.38h0M293.17 388.06h0M294.67 391.28h0M293.37 389.34h0M297.76 390.5h0M307.33 382.24h0M299.53 383.81h0M296.59 387.55h0M311.2 382.8h0M309.39 377.84h0M306.48 379.53h0M307.29 375.35h0M306.44 374.29h0M297.06 387.73h0M296.62 387.94h0M301.22 384.67h0M300.49 383.71h0M300.28 380.99h0M302.31 387.07h0M298.9 389.07h0M295.53 388.37h0M302.44 382.52h0M295.48 392.04h0M293.44 389.78h0M296.67 392.93h0M306.69 377.84h0M301.31 384.6h0M306.19 377.85h0M296.71 390.51h0M294.93 390.73h0M308.51 381.57h0M306.4 375.85h0M294.52 390.73h0M306.09 382.17h0M293.67 390.45h0M303.6 386.92h0M302.84 378.67h0M298.27 384.9h0M295.19 386.23h0M304.93 382.06h0M307.95 377.12h0M301.93 384.94h0M295.8 389.77h0M300.98 378.35h0M302.15 386.23h0M307.18 381.18h0M299.4 387h0M297.63 387.06h0M301.06 385.6h0M299.6 384.98h0M294.13 390.53h0M294.44 391.21h0M306.7 381.04h0M304.55 379.22h0M306.58 380.09h0M300.21 387.84h0M296.06 387.59h0M299.93 386.99h0M302.58 383.05h0M301.12 387.34h0M298.27 391.57h0M299.19 386.81h0M298.13 384.36h0M299.48 388.5h0M298.71 383.97h0M309.42 378.15h0M300.71 386.44h0M296.97 391.82h0M294.08 389.29h0M308.35 380.34h0M303.03 383.16h0M300.39 386.59h0M294.25 390.37h0M294.96 389.59h0M301.02 381.53h0M307.44 377.37h0M297.06 388.97h0M301.71 377.52h0M305.57 379.95h0M299.7 384.4h0M294.19 391.11h0M302.93 380.29h0M302.97 380.62h0M299.87 384.68h0M297.34 391.8h0M302.2 375.3h0M302.03 379.35h0M293.87 390.42h0M299.55 388.21h0M302.29 377.28h0M305.45 384.29h0M305.04 383.91h0M307.99 379.93h0M307.71 380.99h0M302.12 383.63h0M295.48 391.92h0M302.41 385.33h0M296.22 388.38h0M296.5 388.98h0M299.84 388.65h0M301.15 382.9h0M294.95 387.41h0M306.73 375.61h0M296.89 387.22h0M299.8 384.23h0M295.04 392.01h0M296.61 388.5h0M292.49 389.1h0M300.3 382.92h0M303.98 376.51h0M303.86 382.16h0M307.15 381.77h0M303.63 379.11h0M293.79 390.05h0M305 380.74h0M293.73 389.34h0M297.83 387.38h0M294.72 390.64h0M295.54 389.83h0M302.84 379.12h0M296.3 385.1h0M303.29 379.98h0M303.27 385.11h0M307.99 377.26h0M298.41 383.64h0M294.82 390.41h0M297.26 388.14h0M293.58 389.87h0M294.23 390.05h0M295.53 390.38h0M306.06 376.29h0M302.79 380.38h0M303.01 376.43h0M308.08 381.52h0M299.25 389.15h0M304.36 380.02h0M298.6 388.55h0M297.21 389.07h0M310.78 380.7h0M309.54 378.44h0M309.67 381.83h0M303.49 386.41h0M305.66 383.51h0M300.53 384.81h0M294.78 388.3h0M300.47 388.83h0M303.23 382.03h0M299.49 389.75h0M294.39 389.63h0M308.8 377.31h0M299.45 387.78h0M304.29 380.87h0M304.67 374.67h0M300.15 385.84h0M293.78 387.69h0M297.42 383.29h0M295.7 384.38h0M309.65 378.86h0M300.94 385.89h0M302.29 383.11h0M307.05 379.2h0M297.39 388.9h0M296.56 389.26h0M293.58 388.04h0M300.96 389.55h0M303.73 383.64h0M305.42 376.84h0M310.3 382.96h0M293.69 389.74h0M307.3 378.58h0M303.49 377.93h0M294.93 385.5h0M300.44 388.19h0M307.17 379.66h0M303.45 376.72h0M307.14 378.98h0M303.91 378.52h0M300.31 380.65h0M301.96 381.96h0M296.85 388.09h0M305.52 377.79h0M294.59 391.49h0M308.84 380.6h0M303.66 387.96h0M299.74 384.17h0M298.44 383.53h0M295.94 387.69h0M296.55 389.01h0M303.68 377.56h0M303.3 379.35h0M297.43 383.22h0M301.78 383.48h0M301.25 379.78h0M295.82 392.17h0M298.42 386.07h0M301.54 384.9h0M309.53 382.24h0M308.84 377.95h0M297.16 386.01h0M301.57 380.11h0M310.25 381.01h0M307.38 379.45h0M297.9 382.61h0M303.72 385.27h0M306.3 374.03h0M298.98 381h0M301.19 386.87h0M299.32 385.21h0M298.3 388.04h0M299.16 388.29h0M306.79 380.54h0M304.79 382.79h0M294.02 390.57h0M295.52 389.51h0M296.41 390.01h0M296.59 387.32h0M307.29 378.21h0M298.82 389.38h0M297.28 388.76h0M295.51 387.56h0M298.13 386.37h0M299.68 388.89h0M302.84 381.91h0M299.94 382.18h0M292.69 389.59h0M299.63 382.91h0M295.91 389.83h0M296.4 387.1h0M298.07 387.99h0M302.79 371.65h0M298.86 381.55h0M299.71 385.58h0M307.76 378.79h0M294.12 391.1h0M295.39 384.86h0M295.82 387.63h0M296.99 389.95h0M300.95 383.25h0M301.78 380.58h0M295 389.48h0M306.91 384.26h0M295.74 384.93h0M305.54 384.27h0M301.39 386.86h0M293.89 388.33h0M299.85 386.04h0M307.54 377.52h0M308.29 378.67h0M297.43 388.84h0M305.53 383.38h0M297.48 390.33h0M305.08 380.8h0M306.11 381.23h0M293.03 390.02h0M299.38 386.42h0M294.53 390.87h0M299.02 389.43h0M307.61 375.82h0M298.31 386.18h0M298.41 386.96h0M299.46 388h0M305.9 384.5h0M297 388.95h0M300.69 383.23h0M305.77 375.77h0M295.28 390.94h0M296.17 391.79h0M303.18 376.67h0M301.48 380.31h0M294.86 387.36h0M303.25 379.2h0M302.18 372.6h0M297.48 386.06h0M305.33 383.89h0M298.28 389.73h0M305.66 379.95h0M296.23 390.58h0M303.07 380.17h0M294.15 389.81h0M299.93 389.04h0M303.6 387.89h0M308.87 383.36h0M301.5 384.5h0M297.18 388.46h0M304.8 382.29h0M306.72 385.07h0M294.21 389.52h0M304.74 377.44h0M297.81 382.59h0M296.28 388.14h0M299.31 384.98h0M294.16 390.43h0M303.07 384.68h0M293.88 390.61h0M298.99 386.63h0M307.52 380.8h0M297.08 384.94h0M308.01 382.95h0M297.01 390.63h0M297.29 390.34h0M295.43 387.95h0M297.15 385.08h0M303.56 380.96h0M302.73 381.38h0M309.29 385.08h0M296.4 390.17h0M299.84 381.61h0M293.85 390.09h0M295.66 389.65h0M306.01 382.32h0M306.15 373.9h0M294.21 390.22h0M298.71 385.12h0M305.61 381.95h0M296.57 392.66h0M305.01 379h0M303.12 380.31h0M304.8 384.47h0M293.73 388.57h0M303.39 381.85h0M305.78 383.49h0M298.74 384.71h0M295.75 385.04h0M298.2 387.87h0M295.24 389.94h0M302.03 388.55h0M306.13 379.01h0M304.75 383.79h0M295.88 387.33h0M307.77 379.89h0M305.08 383.41h0M295.31 386.89h0M310.39 378.95h0M293.77 390.04h0M297.46 386.65h0M307.67 376.51h0M299.78 382.38h0M301.71 375.42h0M301.42 386.59h0M293.16 390.09h0M299.86 387.37h0M302.39 386.65h0M293.68 390.34h0M296.17 389.77h0M296.37 389.17h0M296.84 387.37h0M296.49 388.08h0M295.32 392.04h0M309.06 377.38h0M301.93 381.3h0M300.1 383.82h0M305.85 379.29h0M294.84 391.34h0M297.39 383.75h0M309.72 383.86h0M299.13 382.33h0M309.91 378.3h0M307.66 384.3h0M296.6 390.62h0M296.46 391.34h0M305.83 381.02h0M302.12 382.93h0M295.47 383.6h0M294.88 390.12h0M297.35 383.13h0M295.83 385.99h0M306.63 378.02h0M307.67 377.37h0M299.51 383.76h0M295.84 389.69h0M296.14 389.85h0M299.75 387.94h0M297.87 379.68h0M298.66 384.25h0M295.22 390.33h0M296.63 390.53h0M302.23 382.92h0M295.15 386.47h0M303.4 385.33h0M295.14 390.04h0M295.15 392.01h0M302.55 387.13h0M296.83 391.12h0M296.31 386.44h0M300.15 387.52h0M295.39 391.42h0M295.11 387.22h0M298.52 386.02h0M305.01 377.27h0M297.18 389.25h0M299.87 390.14h0M295.96 391.7h0M298.55 380.28h0M304.41 382.93h0M295.67 390.03h0M303.67 380.31h0M297.56 386.88h0M297.06 388.06h0M297.58 390.34h0M293.21 387.9h0M294.45 388.9h0M294.81 391.61h0M301.51 384.98h0M298.5 383.47h0M304.65 372.74h0M294.21 390.01h0M302.88 375.21h0M307.95 378.92h0M296.55 390.04h0M304.54 381.41h0M309.41 377.7h0M296.79 387.6h0M301.46 384.07h0M294.43 389.11h0M298.31 386.32h0M295.93 386.91h0M305.62 377.24h0M299.66 383.57h0M305.9 378.85h0M296.67 389.19h0M299.12 385.92h0M294.5 390.27h0M295.17 391.74h0M293.64 390.57h0M299.41 385.75h0M296.78 389.15h0M302.85 382.53h0M304.18 382.05h0M296.67 391.96h0M294.95 391.95h0M294.88 387.59h0M304.34 379.54h0M310.14 383.03h0M301.07 380.84h0M302.19 382.53h0M307.04 380.09h0M302.93 381.01h0M297.04 389.46h0M297.33 390.96h0M303.37 383.68h0M304.15 382.23h0M298.98 384.32h0M305.89 380.22h0M302.78 376.96h0M293.4 388.1h0M303.89 383.13h0M295.42 390.04h0M300.84 387.83h0M299.15 384.86h0M299.45 390.62h0M302.31 381.41h0M294.46 391.46h0M297.24 389.78h0M302.59 377.57h0M294.65 390.58h0M295.28 386.04h0M294.27 391.24h0M296.39 388h0M294.29 385.6h0M294.79 387.59h0M295.28 389.79h0M297.66 382.95h0M297.95 389.02h0M308.41 376.51h0M302.44 379.89h0M301.94 378.61h0M294.36 386.36h0M298.37 387.26h0M303.04 383.95h0M294.65 390.69h0M301.75 380.03h0M303.8 371.92h0M305.5 378.97h0M303.66 376.16h0M303.91 380.88h0M301.67 384.02h0M304.71 387.13h0M301.01 380.47h0M297.96 383.37h0M298.16 388.75h0M301.57 385.52h0M310.24 379.01h0M308.03 377.36h0M304.37 382.55h0M297.75 386.19h0M301.27 386.87h0M299.19 382.97h0M303.35 372.24h0M302.42 383.7h0M299.97 384.47h0M295.68 386.15h0M300.95 381.53h0M295.72 387.87h0M296.42 387.55h0M301.68 387.07h0M300.66 384.28h0M304.58 380.17h0M305 379.25h0M305.99 385.38h0" stroke="#c4c4c4" stroke-width="1.7" stroke-linecap="round" fill="none"/>
<line x1="289.3" y1="306.5" x2="289.3" y2="396.7" stroke="#1a1a1a" stroke-width="1.1" />
<line x1="288.8" y1="396.2" x2="376.6" y2="396.2" stroke="#1a1a1a" stroke-width="1.1" />
<line x1="286" y1="391.8" x2="289.3" y2="391.8" stroke="#1a1a1a" stroke-width="1.3" />
<text x="283" y="394.1" font-size="6.4" fill="#333" text-anchor="end" stroke="#333" stroke-width="0.22" >0.0</text>
<line x1="286" y1="368.8" x2="289.3" y2="368.8" stroke="#1a1a1a" stroke-width="1.3" />
<text x="283" y="371.1" font-size="6.4" fill="#333" text-anchor="end" stroke="#333" stroke-width="0.22" >0.1</text>
<line x1="286" y1="345.8" x2="289.3" y2="345.8" stroke="#1a1a1a" stroke-width="1.3" />
<text x="283" y="348.1" font-size="6.4" fill="#333" text-anchor="end" stroke="#333" stroke-width="0.22" >0.2</text>
<line x1="286" y1="322.8" x2="289.3" y2="322.8" stroke="#1a1a1a" stroke-width="1.3" />
<text x="283" y="325.1" font-size="6.4" fill="#333" text-anchor="end" stroke="#333" stroke-width="0.22" >0.3</text>
<line x1="293" y1="396.2" x2="293" y2="399.2" stroke="#1a1a1a" stroke-width="1.3" />
<text x="293" y="407" font-size="6.4" fill="#333" text-anchor="middle" stroke="#333" stroke-width="0.22" >0.0</text>
<line x1="313.4" y1="396.2" x2="313.4" y2="399.2" stroke="#1a1a1a" stroke-width="1.3" />
<text x="313.4" y="407" font-size="6.4" fill="#333" text-anchor="middle" stroke="#333" stroke-width="0.22" >0.1</text>
<line x1="333.8" y1="396.2" x2="333.8" y2="399.2" stroke="#1a1a1a" stroke-width="1.3" />
<text x="333.8" y="407" font-size="6.4" fill="#333" text-anchor="middle" stroke="#333" stroke-width="0.22" >0.2</text>
<line x1="354.2" y1="396.2" x2="354.2" y2="399.2" stroke="#1a1a1a" stroke-width="1.3" />
<text x="354.2" y="407" font-size="6.4" fill="#333" text-anchor="middle" stroke="#333" stroke-width="0.22" >0.3</text>
<text x="335.4" y="420.35" font-size="9.3" fill="#333" text-anchor="middle" font-weight="bold" textLength="55" lengthAdjust="spacingAndGlyphs" stroke="#333" stroke-width="0.05" >Promoted (usage %)</text>
<text transform="translate(268.16,346.4) rotate(-90)" font-size="9" font-weight="bold" fill="#333" stroke="#333" stroke-width="0.05" text-anchor="middle" textLength="50" lengthAdjust="spacingAndGlyphs">Repressed (usage %)</text>
<line x1="338.5" y1="313.8" x2="342" y2="310" stroke="#222" stroke-width="0.7" />
<line x1="312" y1="349" x2="312" y2="353.3" stroke="#222" stroke-width="0.7" />
<line x1="300" y1="361" x2="302.7" y2="365.8" stroke="#222" stroke-width="0.7" />
<line x1="333" y1="353" x2="334.3" y2="362.3" stroke="#222" stroke-width="0.7" />
<line x1="334.3" y1="362.3" x2="340" y2="368" stroke="#222" stroke-width="0.7" />
<line x1="370" y1="337" x2="373" y2="342" stroke="#222" stroke-width="0.7" />
<line x1="349" y1="343" x2="352.8" y2="346.8" stroke="#222" stroke-width="0.7" />
<line x1="363" y1="347" x2="366.9" y2="345.5" stroke="#222" stroke-width="0.7" />
<line x1="340" y1="357" x2="341.2" y2="356.5" stroke="#222" stroke-width="0.7" />
<line x1="313" y1="378.5" x2="323" y2="377" stroke="#222" stroke-width="0.7" />
<line x1="313" y1="378.5" x2="330" y2="385.5" stroke="#222" stroke-width="0.7" />
<line x1="313" y1="378.5" x2="318" y2="390" stroke="#222" stroke-width="0.7" />
<line x1="313" y1="378.5" x2="305" y2="383" stroke="#222" stroke-width="0.7" />
<line x1="313" y1="378.5" x2="308" y2="391" stroke="#222" stroke-width="0.7" />
<line x1="313" y1="378.5" x2="315" y2="366" stroke="#222" stroke-width="0.7" />
<line x1="313" y1="378.5" x2="320" y2="372.5" stroke="#222" stroke-width="0.7" />
<line x1="313" y1="378.5" x2="307" y2="373" stroke="#222" stroke-width="0.7" />
<line x1="313" y1="378.5" x2="320" y2="360" stroke="#222" stroke-width="0.7" />
<circle cx="334" cy="318.7" r="1.2" fill="#1f3a80"/>
<circle cx="319" cy="336" r="1.2" fill="#1f3a80"/>
<circle cx="312" cy="353.3" r="1.2" fill="#1f3a80"/>
<circle cx="302.7" cy="365.8" r="1.2" fill="#1f3a80"/>
<circle cx="352.7" cy="347" r="1.2" fill="#c0202a"/>
<circle cx="373" cy="342" r="1.2" fill="#c0202a"/>
<circle cx="366.9" cy="345.5" r="1.2" fill="#c0202a"/>
<circle cx="341.2" cy="356.5" r="1.2" fill="#c0202a"/>
<circle cx="334.3" cy="362.3" r="1.2" fill="#c0202a"/>
<circle cx="322.8" cy="370.4" r="1.2" fill="#c0202a"/>
<circle cx="313" cy="378.5" r="1.2" fill="#c0202a"/>
<circle cx="311" cy="380" r="1.2" fill="#c0202a"/>
<circle cx="314.5" cy="377" r="1.2" fill="#c0202a"/>
<circle cx="309.5" cy="381.5" r="1.2" fill="#c0202a"/>
<circle cx="311.5" cy="376.5" r="1.2" fill="#c0202a"/>
<text x="342.7" y="309.09" font-size="5.8" fill="#2a2a2a" stroke="#2a2a2a" stroke-width="0.22" >AGAA</text>
<text x="327.3" y="324.59" font-size="5.8" fill="#2a2a2a" stroke="#2a2a2a" stroke-width="0.22" >AAGA</text>
<text x="308.5" y="333.59" font-size="5.8" fill="#2a2a2a" stroke="#2a2a2a" stroke-width="0.22" >GGTG</text>
<text x="299.7" y="348.69" font-size="5.8" fill="#2a2a2a" stroke="#2a2a2a" stroke-width="0.22" >ATTT</text>
<text x="362.7" y="337.09" font-size="5.8" fill="#2a2a2a" stroke="#2a2a2a" stroke-width="0.22" >CCTG</text>
<text x="342" y="342.49" font-size="5.8" fill="#2a2a2a" stroke="#2a2a2a" stroke-width="0.22" >CAGG</text>
<text x="358" y="351.69" font-size="5.8" fill="#2a2a2a" stroke="#2a2a2a" stroke-width="0.22" >CCAC</text>
<text x="319.5" y="352.09" font-size="5.8" fill="#2a2a2a" stroke="#2a2a2a" stroke-width="0.22" >GCCC</text>
<text x="338.5" y="354.29" font-size="5.8" fill="#2a2a2a" stroke="#2a2a2a" stroke-width="0.22" >AGCC</text>
<text x="342" y="361.39" font-size="5.8" fill="#2a2a2a" stroke="#2a2a2a" stroke-width="0.22" >CCCA</text>
<text x="291.2" y="360.29" font-size="5.8" fill="#2a2a2a" stroke="#2a2a2a" stroke-width="0.22" >TGGTG</text>
<text x="313.5" y="361.39" font-size="5.8" fill="#2a2a2a" stroke="#2a2a2a" stroke-width="0.22" >CAAT</text>
<text x="307.3" y="368.29" font-size="5.8" fill="#2a2a2a" stroke="#2a2a2a" stroke-width="0.22" >TACC</text>
<text x="338.5" y="371.79" font-size="5.8" fill="#2a2a2a" stroke="#2a2a2a" stroke-width="0.22" >GCCC</text>
<text x="289.5" y="374.79" font-size="5.8" fill="#2a2a2a" stroke="#2a2a2a" stroke-width="0.22" >GGCTG</text>
<text x="322.8" y="374.79" font-size="5.8" fill="#2a2a2a" stroke="#2a2a2a" stroke-width="0.22" >ACCC</text>
<text x="324.6" y="380.59" font-size="5.8" fill="#2a2a2a" stroke="#2a2a2a" stroke-width="0.22" >CCCAG</text>
<text x="289.5" y="386.29" font-size="5.8" fill="#2a2a2a" stroke="#2a2a2a" stroke-width="0.22" >CTCAG</text>
<text x="331.5" y="387.89" font-size="5.8" fill="#2a2a2a" stroke="#2a2a2a" stroke-width="0.22" >TCCTG</text>
<text x="315" y="393.29" font-size="5.8" fill="#2a2a2a" stroke="#2a2a2a" stroke-width="0.22" >GGCAG</text>
<text x="291.8" y="394.89" font-size="5.8" fill="#2a2a2a" stroke="#2a2a2a" stroke-width="0.22" >CCTGA</text>
<text x="317" y="441.24" font-size="9" fill="#2d4f78" stroke="#2d4f78" stroke-width="0.22"><tspan textLength="38" lengthAdjust="spacingAndGlyphs">Runx1 KO</tspan><tspan font-size="6" dy="-3.9" stroke-width="0"></tspan></text>
<path d="M354.57 481.63h0M303.66 522.07h0M343.3 492.24h0M310.45 517h0M347.32 482.32h0M339.49 495.68h0M301.71 528.35h0M325.67 505.51h0M323.14 498.03h0M294.58 531.03h0M365.06 467.38h0M306.11 517.98h0M331.81 491.35h0M300.39 525.91h0M309.28 518.55h0M296.85 528.98h0M349.34 471.95h0M316.65 516.02h0M316.48 504.09h0M304.43 520.27h0M346.6 471.48h0M300.78 526.39h0M301.87 522.72h0M304.21 522.55h0M341.42 488.17h0M302.31 521.54h0M310.06 512.54h0M340.56 479.19h0M320.5 504.65h0M339.69 482.03h0M345.66 473.28h0M311.75 510.17h0M330.04 494.54h0M311.12 518.2h0M295.21 529.85h0M369.14 468.2h0M359.81 446.87h0M338.03 480.04h0M295.47 529.15h0M313.11 508.7h0M306.31 522.76h0M294.73 532.88h0M344.8 485.64h0M348.47 487h0M297.51 525.49h0M292.82 531.73h0M303.21 522.51h0M351.91 484.13h0M312.62 513.47h0M319.53 510.42h0M331.57 492.83h0M297.69 526.75h0M317.37 507.79h0M317.66 508.59h0M296.55 534.41h0M336.88 478.9h0M297.66 528.53h0M302.05 526.13h0M316.62 505.8h0M356.85 464.24h0M328.77 489.37h0M300.11 524.44h0M314.63 509.04h0M312.1 515.63h0M295.24 528.64h0M337.95 473.08h0M304.98 522.86h0M305.59 519.16h0M297.92 529.26h0M315.19 505.03h0M330.33 492.48h0M365.42 458.89h0M296.9 529.21h0M302.23 516.99h0M351.91 459.97h0M348.48 476.38h0M305.97 515.37h0M345.06 483.3h0M297.59 525.41h0M317 513.83h0M319.84 500.05h0M321.93 500.57h0M312.3 516.27h0M317.08 506.78h0M315.59 514.33h0M294.73 532.12h0M300.97 527.73h0M329.38 491.04h0M300.61 520.48h0M297.16 531.04h0M297.83 529.79h0M320.66 500.95h0M308.92 519.36h0M307.18 514.42h0M327.83 498.97h0M313.3 514.61h0M300.45 529.39h0M293.42 530.05h0M299.53 527.19h0M297.16 525.74h0M301.1 529.43h0M315.16 512.3h0M297.12 525.43h0M304.23 520.91h0M294.87 532.98h0M301.39 528.03h0M293.64 531.13h0M326.73 498.78h0M301.96 518.87h0M320.58 492.22h0M314.17 511.89h0M303.01 523.51h0M319.49 499.26h0M308.88 516.14h0M320.24 494.97h0M307.65 519.14h0M328.78 493.78h0M308.41 521.05h0M322.54 506.06h0M319.91 502.84h0M308.8 518.4h0M329.43 492.88h0M325.52 500.14h0M323.81 494.06h0M297.22 528.66h0M313.6 508.27h0M300.76 525.43h0M296.94 532.33h0M296.34 527.89h0M314.91 509.12h0M310.31 519.13h0M302.63 523.19h0M326.09 501.36h0M331.05 489.68h0M295.72 533.15h0M294.61 530.82h0M335.8 485.12h0M307.98 518.85h0M320.31 500.82h0M299.41 529.47h0M299.44 527.65h0M325.72 491.74h0M332.33 486.07h0M297.36 526.6h0M302.57 526.14h0M321.57 499.04h0M317.27 503.3h0M339.7 483.12h0M300.85 528.15h0M333.16 496.7h0M328.74 490.37h0M334.6 497.3h0M319.09 513.03h0M320.13 501.96h0M303.11 523.03h0M353.81 462.25h0M296.51 531.06h0M356.29 471.26h0M340.23 488.05h0M319.33 502.78h0M295.13 532.67h0M321.93 501.83h0M312.2 516.02h0M297.9 529.93h0M329.68 479.38h0M314.06 510.15h0M299.55 520.67h0M297.41 527.46h0M334.2 496.13h0M295.99 531.34h0M306.16 520.03h0M311.67 513.65h0M337.13 491.81h0M329.14 500.02h0M298.25 526.92h0M309.81 514.62h0M297.6 530.26h0M301.8 527.19h0M298.54 529.09h0M340.87 484.93h0M332.63 487.58h0M309.19 514.52h0M302.99 523.83h0M300.39 525.86h0M317.96 505.65h0M301.18 527.83h0M304.97 523.81h0M336.64 480.11h0M299.77 526.18h0M301.35 524.78h0M302.28 527.66h0M314.14 508.5h0M296.64 529.83h0M312.21 515.68h0M336.55 494.31h0M297.61 529.98h0M333.23 485.14h0M308.51 520.03h0M351.36 478.18h0M308.8 516.3h0M306.67 517.22h0M296.21 531.82h0M363.23 463.42h0M345.57 476.2h0M326.34 488.93h0M297.99 529.39h0M331.7 493.8h0M306.8 516.93h0M300.53 528.48h0M315.86 516.54h0M294.4 532.65h0M306.82 521.64h0M303.16 520.07h0M358.37 469.72h0M317.87 510.4h0M309.78 513.83h0M342.58 475.65h0M312.81 515.91h0M316.26 501.1h0M318.13 508.32h0M332.87 489.81h0M294.61 530.34h0M307.72 521.58h0M340.91 473.94h0M318.45 498.95h0M316.18 507.62h0M342.25 485.16h0M358.64 469.2h0M304.51 517.86h0M366.92 458.76h0M299.73 525.02h0M319.77 494.48h0M296.75 525.53h0M326.23 496.57h0M315.15 506.28h0M356.31 452.58h0M368.71 464.03h0M297.17 531.83h0M334.35 481.52h0M316.11 506.77h0M305.44 522.75h0M296.37 532.07h0M303.86 527.75h0M297.7 529.67h0M296.4 531.19h0M336.84 485.14h0M311.5 513.76h0M347.68 466.77h0M299.82 526.54h0M301.27 526.72h0M325.89 496.59h0M345.24 479.01h0M303.06 523.69h0M343.47 477.43h0M314.13 507.44h0M331.08 493.32h0M322.38 503.74h0M336.05 486.9h0M294.97 530.77h0M305.8 521.7h0M302.98 521.38h0M307.6 518.85h0M319.44 501.56h0M295.77 531.4h0M294.3 531.77h0M317.67 499.79h0M324.96 487.89h0M307.23 519.86h0M299.27 527.47h0M306.61 517.24h0M303.71 522.7h0M366.51 455.96h0M306.6 519.57h0M295.16 531.39h0M293.09 530.24h0M298.06 528.2h0M326.43 492.6h0M311.21 512.37h0M298.98 524.57h0M301.2 525.83h0M302.59 526.68h0M309.13 517.14h0M319.71 500.01h0M321.29 504.34h0M319.31 507.01h0M311.28 511.91h0M296.74 530.88h0M339.89 477.6h0M296.7 532.49h0M327.1 503.93h0M302.21 520.01h0M297.28 532.84h0M330.02 488.72h0M299.84 525.59h0M334.82 474.18h0M299.97 527.38h0M313.15 514.32h0M333.53 487.8h0M295.75 530.45h0M300.8 523.12h0M308.49 521.93h0M313.86 513.37h0M301.18 524.41h0M331.43 488.86h0M338.36 481.86h0M295.45 530.36h0M334.94 487.02h0M311.22 511.21h0M316.16 510.81h0M314.51 514.7h0M312.93 513.67h0M309.85 517h0M322.69 500.96h0M302.91 523.23h0M307.87 520.36h0M310.07 517.69h0M309.54 514.49h0M308.08 519.3h0M307.91 511.58h0M309.5 514.03h0M333.21 498.76h0M313.71 515.21h0M320.28 500.89h0M300.26 526.33h0M299.91 525.17h0M313.3 516.55h0M310.91 514.07h0M345.41 477.94h0M297.54 530.99h0M362.21 461.42h0M303.15 526.37h0M347.66 474.82h0M319.76 503.64h0M333.51 486.78h0M327.49 494.03h0M306.75 521.01h0M297.49 528.68h0M306.43 519.72h0M305.53 516.25h0M304.08 523.36h0M309.41 518.51h0M303.17 519.87h0M322.65 501.93h0M294.87 533.46h0M361.78 458.29h0M312.96 513.84h0M310.8 510.07h0M310.27 517.69h0M310.75 516.85h0M336.21 481.91h0M349.94 476.44h0M363.55 467.81h0M304.85 526.93h0M303.79 523.28h0M315.64 505.92h0M297.93 525.86h0M315.38 503.83h0M315.62 507.74h0M295.97 530.2h0M296.74 530.66h0M326.66 494.21h0M296.51 531.13h0M308.68 523.47h0M304.92 519.86h0M296.85 528.58h0M305.64 517.93h0M302.55 523.14h0M338.41 482.55h0M313.95 517.25h0M314.56 509.15h0M315.23 508.79h0M326.98 497.16h0M342.8 465.45h0M298.65 529.4h0M336.4 476h0M325.78 506.02h0M369.11 458.43h0M299.77 525.97h0M307.64 521.53h0M296.94 532.78h0M303.69 523.42h0M294.1 532.67h0M299.37 525.17h0M307.24 524.08h0M302.49 522.88h0M300.78 520.88h0M301.32 522.92h0M296.42 530.32h0M303.71 523.45h0M295.82 526.41h0M301.92 522.79h0M296.42 530.85h0M298.35 527.34h0M295.07 529.86h0M299.51 529.76h0M299.39 526.64h0M300.05 526.79h0M294.97 531.82h0M300.2 524.15h0M307.19 517.22h0M298.99 527.16h0M301.01 527.46h0M307.09 520.17h0M294.24 532.71h0M296.48 529.57h0M300.5 530.14h0M295.97 529.07h0M305.97 518.89h0M294.38 531.14h0M300.97 523.91h0M302.38 520.57h0M307.82 517.43h0M303.82 518.78h0M306.19 519.23h0M308.52 519.97h0M301.29 522.06h0M303.84 521.56h0M307.39 517.66h0M304.52 521.74h0M299.67 525.49h0M304.95 516.71h0M304.14 523.62h0M304.25 522.27h0M297.83 528.71h0M294.76 531.93h0M299.23 525.26h0M296.03 530.36h0M300.29 520.69h0M294.93 532.64h0M302.33 527.54h0M294.23 532.59h0M301.54 524.27h0M301.36 523.42h0M295.19 531.5h0M300.44 527.78h0M297.12 530.05h0M293.79 532.41h0M295.99 532.25h0M307.2 521.43h0M302.06 528.99h0M303.9 522.64h0M308.21 518.87h0M294.78 533.77h0M307.32 520.59h0M300.52 525.97h0M301.43 528.2h0M297.56 532.5h0M300.31 526.54h0M298.91 525.29h0M305.99 516.41h0M303.18 525.27h0M295.27 531.87h0M306.75 521.15h0M298.93 528.64h0M295.26 531.01h0M295.98 530.26h0M303.79 520.44h0M294.1 533.25h0M294.02 532.95h0M296.86 530.63h0M308.31 519.73h0M296.81 530.33h0M306.25 519.65h0M302.5 522.17h0M304.14 520.46h0M305.24 520.77h0M296.12 530.52h0M295.02 533.52h0M296.92 529.87h0M294.96 532.41h0M304.7 516.23h0M304.26 523.15h0M296.25 531.65h0M300.3 527.56h0M297.03 531.06h0M301.2 528.39h0M301.71 528.06h0M302.8 526.85h0M308.06 521.26h0M295.15 530.1h0M294.23 533.49h0M295.97 530.98h0M304.14 521.23h0M295.73 531.46h0M300.72 526.54h0M293.86 532.88h0M300.03 528.11h0M296.58 527.16h0M300.86 524.74h0M306.23 517.61h0M305.41 518.94h0M307.76 521.7h0M305.84 519.09h0M295.41 532.57h0M305.48 518.85h0M299.35 527.25h0M299.6 525.54h0M302.26 525.89h0M299.9 524.56h0M300.28 526.51h0M308.17 518.62h0M295.44 531.85h0M297.5 529.48h0M298.61 530.49h0M298.55 530.59h0M298.77 528.48h0M298.3 526.59h0M299.36 526.28h0M297.21 529.73h0M300.44 526.51h0M306.86 519.09h0M306.71 521.08h0M303.82 521.25h0M300.07 521.53h0M296.16 533.59h0M307.25 516.69h0M304.53 522.33h0M306.75 518.77h0M297.67 529.15h0M301.9 521.34h0M295.16 532.02h0M293.42 532.64h0M295.5 532.12h0M296.52 531.18h0M293.96 531.77h0M302.36 523.24h0M299.98 523.06h0M303.2 525.88h0M295.29 530.23h0M298.51 524.27h0M294.7 534.01h0M296.06 531.15h0M294.17 531.8h0M293.86 532.69h0M297.03 530.38h0M304.58 523.29h0M293.82 531.93h0M300.84 526.67h0M305.05 522.12h0M294.9 530.11h0M300.07 525.09h0M305.85 518.96h0M304.64 517.73h0M298.4 528.97h0M303.08 521.03h0M294.12 533.21h0M304.96 526.65h0M302.3 527.42h0M302.53 519.85h0M301.06 521.81h0M304.51 521.96h0M292.84 531.45h0M301.11 519.76h0M298.9 528.49h0M298.14 528.25h0M302.86 521.27h0M301.1 523.41h0M303.64 523h0M292.89 531.48h0M295.63 529.34h0M300.04 528.62h0M295.15 532.74h0M303.4 524.77h0M300.74 527.65h0M298.05 527.6h0M306.14 515.67h0M300.02 520.96h0M295.72 531.73h0M306.96 519.55h0M302.19 523.62h0M307.74 520.48h0M305.83 522.43h0M301.3 519.46h0M303.22 524.35h0M298.96 523.84h0M297.66 530.59h0M296.27 530.27h0M295.25 531h0M297.24 528.55h0M298.22 526.99h0M300.64 520.96h0M303.77 525.13h0M295.95 530.18h0M305.47 524.95h0M296.3 531.28h0M298.42 523.41h0M294.01 533.08h0M304.56 518.41h0M297.11 528.67h0M299.42 526.96h0M295.61 530.22h0M299.47 528.97h0M299.46 528.13h0M304.33 519.36h0M300.69 524.07h0M300.04 524.83h0M295.13 532.71h0M308.21 523.05h0M293.6 532.68h0M306.92 522.2h0M304.08 518.36h0M293.3 531.56h0M300.25 523.19h0M301.61 523.25h0M309.13 520.09h0M295.19 531.47h0M309.93 519.77h0M303.82 522.69h0M300.61 523.55h0M295.44 532.2h0M296.31 530.49h0M302.49 525.73h0M300.28 527.5h0M297.72 529.51h0M301.42 526.34h0M296.23 529.29h0M294.48 532.82h0M303.87 522.54h0M292.55 531.98h0M299.13 526.38h0M305.81 518.82h0M298.55 527.34h0M298.14 525.41h0M294.77 533.32h0M296.52 527.99h0M297.77 528.52h0M300.69 519.13h0M293.65 531.31h0M302.27 525.36h0M298.76 530.03h0M297.81 527.63h0M295.22 527.54h0M303.19 524.86h0M306.22 518.04h0M299.17 523.51h0M305.98 520.5h0M301.82 526.66h0M296.03 534.07h0M308 519.74h0M300.38 527.7h0M310 518.53h0M306.23 519.76h0M294.63 531.04h0M304.85 524.79h0M297.39 527.97h0M305.03 514.07h0M293.96 532.65h0M293.7 533.06h0M293.09 531.28h0M300.56 528.9h0M307.33 521.92h0M298.62 528.25h0M297.83 528.15h0M306.18 521.55h0M304.99 520.93h0M300.29 526.18h0M302.64 525.94h0M301.79 528.65h0M296.66 529.96h0M308.49 518.57h0M294.54 529.41h0M295.91 531.17h0M301.92 528.83h0M295.49 532.53h0M298.03 529.72h0M306.28 520.4h0M293.34 531.61h0M307.1 524.76h0M294.65 532.62h0M306.22 518.3h0M296.61 530.06h0M295.98 529.88h0M298.76 529.46h0M309.95 518.6h0M307.88 517.15h0M298.25 530.06h0M294.15 531.72h0M301.31 523.34h0M295.38 532.08h0M302.8 523.85h0M293.34 532.07h0M297.69 529.73h0M304.73 519.21h0M295.28 529.25h0M299.16 525.48h0M299.88 529.37h0M304.54 520.64h0M300.24 526.56h0M298.22 526.54h0M302.93 525.08h0M299.29 527.31h0M302.34 517.87h0M297.37 529.26h0M297.55 532.34h0M293.67 532.05h0M305.24 521.5h0M299.79 524.59h0M301.72 520.41h0M298.31 531.35h0M304.96 523.25h0M296.17 532.57h0M305.31 522.72h0M299.72 526.95h0M295.67 532.53h0M300.86 524.68h0M298.23 530.85h0M301.85 526.56h0M295.22 529.84h0M300.93 525.46h0M297.55 527.58h0M300.25 524.89h0M297.41 531.01h0M296.86 529.32h0M297.1 528.54h0M300.27 526.48h0M303.36 522.61h0M294.42 533.22h0M293.31 530.99h0M303.64 522.4h0M299.2 527.2h0M299.75 527.57h0M307.48 521.5h0M296.45 526.66h0M299.05 522.88h0M293.75 532.8h0M293.86 529.41h0M306.36 522.89h0M302.52 526.82h0M295.06 528.98h0M308.8 518.5h0M298.41 525.96h0M300.56 530.31h0M294.37 531.24h0M299.33 525.07h0M306.49 517.73h0M302.54 524.71h0M299.14 528.41h0M303.71 524.02h0M307.96 522.59h0M304.65 520.46h0M299.56 526.22h0M304.41 513.56h0M297.84 529.11h0M294.66 533.06h0M293.04 532.29h0M300.4 525.67h0M301.76 522.1h0M296.32 532.09h0M301.73 518.22h0M295.33 531.48h0M299.98 522.97h0M300.27 530.55h0M300.42 522.36h0M298.75 529.75h0M297.18 528.85h0M307.69 523.42h0M294.36 529.51h0M298.35 526.03h0M306.19 521.88h0M300.88 526.34h0M294.21 532.97h0M301.82 525.55h0M295.99 533.29h0M305.48 521.71h0M301.77 526.83h0M307.96 518.3h0M295.3 532.76h0M297.62 529.11h0M306.91 518.56h0M306.59 522.05h0M293.53 531.96h0M295.01 527.63h0M298.33 530.8h0M307.5 520.44h0M299.09 529h0M302.3 520.67h0M294.36 531.02h0M293.98 531.7h0M301.51 524.3h0M301.2 521.63h0M303.21 519.67h0M303.7 523.43h0M311.14 521.52h0M297 531.01h0M304.87 516.18h0M297.82 529.32h0M296.01 532.31h0M296.21 530.88h0M294.26 533.25h0M301.01 527.45h0M301.51 524.54h0M293.75 532.08h0M308.2 519.22h0M298.77 527.71h0M298.26 528.29h0M294.01 533.19h0M307.01 519.73h0M300.65 524.29h0M294.93 533.9h0M293.95 531.76h0M299.39 526.92h0M299.68 526.42h0M300.08 527.18h0M294.2 533.31h0M294.48 532.85h0M299.33 521.16h0M304.9 519.59h0M294.26 531.04h0M300.66 525.16h0M295.46 533.39h0M306.69 522.09h0M303.84 515.15h0M299.82 527.93h0M299.69 526.63h0M297.75 529.48h0M297.49 527.26h0M296.62 533.36h0M309.86 518.29h0M296.19 532.73h0M294.01 531.78h0M306.7 522.82h0M294.14 530.31h0M302.26 520.56h0M307.38 520.95h0M299.28 525.28h0M305.6 519.06h0M299.08 526.73h0M297.69 526.16h0M307.69 519.15h0M302.47 523.93h0M303.25 520.53h0M302.49 524.84h0M297.85 531.98h0M305.42 518.01h0M303.48 521.98h0M296.74 531.04h0M297.82 527.93h0M299.17 529.33h0M305.92 519.85h0M303.8 523.91h0M300.88 520.49h0M295.84 531.57h0M295.13 528.97h0M297.82 528.01h0M304.66 515.39h0M301.46 526.28h0M302.66 519.15h0M295.08 531.43h0M298.98 525.9h0M299.79 528.62h0M297.18 530.96h0M293.55 532.65h0M305.3 524.19h0M304.01 518.54h0M294.89 534.14h0M297.59 529.95h0M308.39 518.55h0M294.29 531.78h0M303.64 524.44h0M306.98 524.45h0M301.12 527.28h0M303.7 524.32h0M300.12 522.91h0M308.16 517.13h0M308.24 517.53h0M305.16 521.82h0M298.15 527.17h0M306.68 517.52h0M303.64 520.41h0M302.1 523.82h0M296.96 531.61h0M295.28 533.11h0M297.54 531.04h0M294.65 531.93h0M303.34 522.38h0M294.06 533.27h0M293.62 531.03h0M296.03 529.66h0M294.48 531.84h0M303.22 525.96h0M304.73 521.25h0M294.69 530.93h0M295.89 530.13h0M299 527.93h0M297.75 527.46h0M297.74 526.87h0M298.51 527.25h0M297.43 530.74h0M304.94 523.13h0M299.51 528.17h0M294.3 532.96h0M306.21 515.86h0M294.7 528.61h0M300.56 526.17h0M300.51 520.07h0M296.97 528.94h0M304.71 518.78h0M292.82 531.93h0M305.41 517.55h0M294.6 532.78h0M298.18 528.02h0M298.44 528.59h0M305.84 515.53h0M306.75 520.62h0M294.44 530.04h0M302.32 525.79h0M302.25 524.87h0M301.25 527.9h0M295.17 533.75h0M295.16 527.39h0M302.81 523.48h0M306.13 519.75h0M305.68 520.26h0M302.02 519.55h0M304.66 522.31h0M296.16 529.06h0M303.7 520.91h0M298.25 529.04h0M297.78 529.23h0M301.11 525.76h0M294.97 529.84h0M296.09 529.96h0M297.05 530.72h0M294.22 533.01h0M302.43 526.08h0M299.56 525.23h0M307.61 519.45h0M304.5 523.76h0M295.9 529.92h0M301.58 524.58h0M300.81 519.9h0M297.71 528.51h0M299.99 525.43h0M298.42 527.95h0M296.29 529.21h0M300.74 523.09h0M295.66 531.35h0M307.22 518.43h0M305.95 522.63h0M295.35 534.28h0M305.6 519.83h0M307.21 516.11h0M297.99 530.21h0M305.04 518.58h0M298.32 527.86h0M302.43 526.05h0M294.08 531.41h0M300.43 526.36h0M308.25 518.58h0M296.65 531.89h0M294.58 530.81h0M300.61 523.91h0M300.71 523.97h0M306.22 522.53h0M304.3 515.74h0M305.99 525.8h0M308.83 520.54h0M301.1 525.32h0M294.39 533.53h0M294.59 532.03h0M293.9 532.87h0M300.04 524.87h0M303.66 524.55h0M297.17 528.43h0M305.2 522.34h0M298.52 526.4h0M297.57 530.81h0M294.33 533.54h0M301.26 525.15h0M296.06 528.69h0M295.4 529.65h0M309.18 517.93h0M299.22 528.86h0M299.11 525.43h0M300.65 526.06h0M305.15 516.03h0M299.1 526h0M301.8 522.46h0M296.52 528.59h0M297.68 527.83h0M305.7 520.99h0M295.98 531.66h0M307.11 516.82h0M295.31 531.47h0M298.83 526.19h0M308.55 519.05h0M294.16 533.31h0M295.33 528.01h0M299.79 525.37h0M299.39 526.22h0M303.43 526.21h0M299.36 523.83h0M304.16 521.86h0M301.63 525.83h0M298.59 526.65h0M294.92 532.21h0M306.6 519.39h0M300.64 523.46h0M305.26 519.39h0M302.93 518.39h0M294.25 532.6h0M295.92 532.05h0M305.41 523.9h0M299.3 526.84h0M296.41 528.86h0M305.33 524.09h0M302.04 522.39h0M294.42 532.34h0M294.44 533.69h0M307.3 516.57h0M295.55 531.31h0M298.78 529.58h0M298.59 530.98h0M306.87 519.56h0M299.13 527.72h0M309.73 519.4h0M307.77 520.2h0M296.37 529.19h0M300.75 522.59h0M305.33 517.79h0M297.16 526.58h0M300.16 527.17h0M303.02 520.19h0M299.86 527.63h0M304.24 519.51h0M301.95 524.02h0M297.69 530.16h0M299.38 526.22h0M298.28 525.09h0M302.19 525.13h0M296.02 532.24h0M309.58 519.79h0M294.59 528.68h0M295.74 532.68h0M300.31 525.65h0M302.96 524.89h0M302.33 518.44h0M305.76 521.53h0M308.57 519.64h0M303.98 522.3h0M306.14 519.8h0M299.36 528.08h0M300.46 520.89h0M305.59 519.82h0M298.01 529.99h0M304.46 520.8h0M295.26 530.4h0M303.74 520.25h0M301.08 525.16h0M297.17 528.53h0M297.6 529.53h0M299.25 525.15h0M304.9 517.74h0M303.27 521.01h0M300.83 527.98h0M307.3 517.54h0M298.64 524.95h0M293.91 532.79h0M294.99 534.19h0M303.22 526.13h0M301 521.12h0M302.2 524.07h0M297.44 528.89h0M298.72 527.46h0M299.3 526.64h0M300.24 527.08h0M293.09 532.03h0M298.08 525.68h0M302.95 524.59h0M299.66 527.61h0M299.76 529.24h0M294.57 533.35h0M294.68 532.25h0M295.78 533.54h0M301.96 527.62h0M298.1 527.7h0M300.02 524.05h0M302.94 526.53h0M298.14 531.32h0M303.19 517.82h0" stroke="#c4c4c4" stroke-width="1.7" stroke-linecap="round" fill="none"/>
<line x1="289.5" y1="446.25" x2="289.5" y2="538" stroke="#1a1a1a" stroke-width="1.1" />
<line x1="289" y1="537.5" x2="375.5" y2="537.5" stroke="#1a1a1a" stroke-width="1.1" />
<line x1="286.2" y1="533.75" x2="289.5" y2="533.75" stroke="#1a1a1a" stroke-width="1.3" />
<text x="283.2" y="536.05" font-size="6.4" fill="#333" text-anchor="end" stroke="#333" stroke-width="0.22" >0.0</text>
<line x1="286.2" y1="506" x2="289.5" y2="506" stroke="#1a1a1a" stroke-width="1.3" />
<text x="283.2" y="508.3" font-size="6.4" fill="#333" text-anchor="end" stroke="#333" stroke-width="0.22" >0.1</text>
<line x1="286.2" y1="478.25" x2="289.5" y2="478.25" stroke="#1a1a1a" stroke-width="1.3" />
<text x="283.2" y="480.55" font-size="6.4" fill="#333" text-anchor="end" stroke="#333" stroke-width="0.22" >0.2</text>
<line x1="286.2" y1="450.5" x2="289.5" y2="450.5" stroke="#1a1a1a" stroke-width="1.3" />
<text x="283.2" y="452.8" font-size="6.4" fill="#333" text-anchor="end" stroke="#333" stroke-width="0.22" >0.3</text>
<line x1="293.25" y1="537.5" x2="293.25" y2="540.5" stroke="#1a1a1a" stroke-width="1.3" />
<text x="293.25" y="549.8" font-size="6.4" fill="#333" text-anchor="middle" stroke="#333" stroke-width="0.22" >0.0</text>
<line x1="317.75" y1="537.5" x2="317.75" y2="540.5" stroke="#1a1a1a" stroke-width="1.3" />
<text x="317.75" y="549.8" font-size="6.4" fill="#333" text-anchor="middle" stroke="#333" stroke-width="0.22" >0.1</text>
<line x1="342.25" y1="537.5" x2="342.25" y2="540.5" stroke="#1a1a1a" stroke-width="1.3" />
<text x="342.25" y="549.8" font-size="6.4" fill="#333" text-anchor="middle" stroke="#333" stroke-width="0.22" >0.2</text>
<line x1="366.75" y1="537.5" x2="366.75" y2="540.5" stroke="#1a1a1a" stroke-width="1.3" />
<text x="366.75" y="549.8" font-size="6.4" fill="#333" text-anchor="middle" stroke="#333" stroke-width="0.22" >0.3</text>
<text x="336.25" y="562.1" font-size="9.3" fill="#333" text-anchor="middle" font-weight="bold" textLength="55" lengthAdjust="spacingAndGlyphs" stroke="#333" stroke-width="0.05" >Promoted (usage %)</text>
<text transform="translate(268.56,490.3) rotate(-90)" font-size="9" font-weight="bold" fill="#333" stroke="#333" stroke-width="0.05" text-anchor="middle" textLength="53.5" lengthAdjust="spacingAndGlyphs">Repressed (usage %)</text>
<line x1="300" y1="530" x2="305" y2="522.5" stroke="#222" stroke-width="0.7" />
<line x1="305" y1="522.5" x2="308" y2="519" stroke="#222" stroke-width="0.7" />
<circle cx="305" cy="522.5" r="1.2" fill="#c0202a"/>
<circle cx="303.75" cy="525" r="1.2" fill="#c0202a"/>
<text x="307" y="518.34" font-size="5.8" fill="#2a2a2a" stroke="#2a2a2a" stroke-width="0.22" >ACAAC</text>
<text x="300.5" y="535.84" font-size="5.8" fill="#2a2a2a" stroke="#2a2a2a" stroke-width="0.22" >GAGGG</text>
<text x="321.25" y="576.8" font-size="9" fill="#be2d50" textLength="26.8" lengthAdjust="spacingAndGlyphs" stroke="#be2d50" stroke-width="0.22" >Double</text>
<path d="M304.32 659.62h0M343.69 602.67h0M326.37 623.69h0M335 637.73h0M297.75 655.47h0M358.99 622.44h0M302.98 663.29h0M297.31 656.39h0M294.05 662.91h0M322.07 644.43h0M330.63 649.22h0M298.29 657.61h0M294.26 664.37h0M293.85 666.03h0M293.03 662.77h0M295.22 665.12h0M345.44 632.22h0M378.64 616.04h0M305.48 656.92h0M295.57 666.62h0M315.62 644.99h0M316.98 650.69h0M334.05 629.13h0M295.56 663.79h0M311.22 660.14h0M353.45 584.53h0M302.95 654.07h0M299.72 657.22h0M318.35 641.43h0M311 653.85h0M323.3 650.56h0M335.29 634.18h0M317.55 642.64h0M305.29 656.51h0M295.61 660.74h0M302.51 653.86h0M314.66 640.32h0M322.86 621.62h0M302.47 647.33h0M314.89 654.33h0M302.07 657.98h0M310.41 639.83h0M321.73 628.38h0M308.67 656.99h0M303.33 654.91h0M299.38 654.8h0M319.15 637.82h0M332.05 630.24h0M297.31 663.9h0M350.51 620.2h0M313.21 654.84h0M309.5 648.1h0M326.75 626.78h0M298.73 662.01h0M305.27 655.02h0M306.22 657.33h0M298.55 661.32h0M320.96 638.6h0M326.39 646.07h0M303.85 653.83h0M315.54 620.84h0M303.46 660.9h0M300.22 660.65h0M335.6 584.24h0M306.88 649.14h0M357.54 603.38h0M308.09 656.11h0M305.25 650.11h0M323.76 634.44h0M294.79 665.86h0M324.13 640.22h0M377.51 605.38h0M321.94 638.46h0M312.5 654.57h0M302.57 656.14h0M343.63 630.91h0M322.87 646.14h0M332.39 646.66h0M315.2 645.42h0M308.24 654.76h0M307.12 653.34h0M326.38 635.05h0M292.99 665.43h0M344.21 624.49h0M298.86 663.47h0M325.22 625.66h0M297.78 660.6h0M294.38 664.24h0M309.04 662.1h0M314.64 636.41h0M299.84 663.84h0M308 654.02h0M308.29 645.07h0M309.91 640.2h0M297.6 665.71h0M317.92 643.95h0M315.3 635.41h0M331.6 601.31h0M328.93 631.48h0M303.96 657.2h0M300.47 662.56h0M300.88 660.82h0M312.99 634.56h0M308.37 646.48h0M304.53 651.87h0M309.97 659.35h0M304.75 657.87h0M300.75 653.24h0M315.12 644.02h0M293.72 665.35h0M307.89 656.05h0M300.31 660.57h0M354.13 601.91h0M299.77 662.68h0M320.58 647.85h0M318.54 636.85h0M301.25 666.06h0M301.21 650.06h0M307.5 652.3h0M297.62 653.55h0M315.44 644.56h0M295.53 666.56h0M344.57 628.62h0M298.28 664.16h0M339.15 615.06h0M353.94 603.18h0M353.65 635.01h0M316.72 648.52h0M336.24 583.73h0M301.06 655.61h0M298.56 660.81h0M336.73 582.18h0M317.02 640.7h0M297.43 668.89h0M391.56 616.67h0M322.27 637.96h0M348.32 622.62h0M313.42 645.12h0M306.14 648.64h0M345.5 633.71h0M329.79 637.56h0M301.55 659.64h0M338.51 611.08h0M303.61 651.53h0M297.6 663.37h0M308.48 658.01h0M337.28 606.32h0M318.87 646.09h0M296.34 667.48h0M348.86 584.24h0M311.63 644.83h0M323.44 610.98h0M295.76 666.3h0M293.49 665.53h0M323.73 654.95h0M322.54 640.41h0M314.37 653.02h0M327.79 627.67h0M310.79 660.92h0M320.55 640.21h0M308.96 651.71h0M302.39 658.16h0M295.6 668.24h0M302.48 652.76h0M303.62 662.11h0M294.86 666.12h0M304.29 654.91h0M323.85 618.48h0M300.36 656.06h0M343.04 570.67h0M363.17 602.29h0M311.02 641.92h0M293.58 665.11h0M310.39 656.01h0M295.42 661.39h0M305.68 656.52h0M301.21 660.63h0M295.52 662.58h0M341.6 632.96h0M306.86 656.98h0M351.69 609.4h0M315.53 637.91h0M299.38 659.62h0M291.74 664.25h0M303.2 648.53h0M293.99 663.91h0M319.01 641.57h0M296.48 663.06h0M296.31 660.87h0M298.84 663.92h0M305.48 648.36h0M326.5 629.17h0M310.47 646.16h0M344.92 610.82h0M311.54 640.7h0M339.78 626.12h0M304.78 659.59h0M306.61 660.53h0M300.06 666.87h0M317.17 642.36h0M303.74 663.81h0M329.42 635.4h0M302.41 656.17h0M310.8 659.6h0M350.11 605.02h0M313.11 646.09h0M312.8 650.21h0M306.58 656.03h0M313.01 627.29h0M293.66 666.25h0M323.92 638.86h0M302.77 656.75h0M345.55 623.69h0M304.64 660.68h0M309.52 657.27h0M297.06 663.26h0M320.52 639.84h0M323.47 635.26h0M296.53 668.26h0M348.5 613.78h0M293.83 666.59h0M295.63 664.87h0M362.42 611.03h0M296.95 668.9h0M296.96 666.71h0M318.82 628.65h0M298.92 659.36h0M305.64 658.46h0M299.99 659.96h0M300.26 660.34h0M311.28 643.16h0M305.8 649.43h0M338.96 643.99h0M313.13 635.19h0M330.85 628.7h0M321.92 648.92h0M323.12 643.08h0M361.42 599.49h0M299.4 660.97h0M298.66 662.48h0M301.45 659.72h0M296.49 663.55h0M305.38 653.01h0M365.72 603.82h0M306.12 648.06h0M292.47 665.12h0M297.82 660.3h0M312.69 656.97h0M304.01 648.53h0M307.38 650.91h0M306.63 647.6h0M296.62 661.86h0M300.44 660.66h0M296.19 663.25h0M303.34 645.71h0M319.95 645.1h0M297.38 658.03h0M325.46 634h0M338.89 606.06h0M318.35 653.88h0M309.28 654.55h0M323.47 641.22h0M340.84 603.89h0M317.34 632.32h0M301.05 657.05h0M332.55 626.06h0M343.61 603.87h0M301.36 659.63h0M363.59 593.36h0M343.34 619.77h0M326.6 646.58h0M333.34 617.92h0M303.62 653.7h0M294.34 666.94h0M300.23 662.11h0M300.77 663.63h0M305.93 656.02h0M297.07 664.18h0M324.55 637.25h0M329.78 633.09h0M325.74 636.88h0M333.32 632.74h0M299 665.3h0M308.75 647.29h0M309.42 655.69h0M337.75 616.77h0M361.53 596.75h0M298 657.24h0M298.54 653.58h0M335.88 635.57h0M315.57 655.72h0M320.37 642.17h0M318.59 636.19h0M302.69 660.97h0M327.52 636.29h0M353.63 617.5h0M319.53 654.73h0M296.16 657.14h0M297.58 664.99h0M327.64 635.23h0M323.75 634.33h0M314.44 649.23h0M354.25 623.68h0M356.43 593.79h0M296.85 661.39h0M298.13 659.61h0M312.45 648.68h0M333.19 643.19h0M297.71 666.26h0M327.23 636.05h0M354.24 602.15h0M295.29 661.57h0M332.01 633.47h0M328.13 646.39h0M304.11 651.43h0M304.53 652.89h0M312.3 645.58h0M324.67 633.93h0M298.4 663.7h0M314.57 655.58h0M294.55 666.87h0M305.42 659.17h0M305.78 653.31h0M296.07 665.05h0M303.22 659.61h0M305.64 662.34h0M306.64 653.01h0M304.44 657.1h0M301.07 657.78h0M297.73 666.02h0M306.68 658.37h0M300.99 655.46h0M303.41 653.5h0M302.99 658.7h0M293.4 665.27h0M294.75 665.2h0M296.91 661.87h0M304.11 653.07h0M296.37 666.56h0M293.56 664.53h0M294.49 666.76h0M305.8 653.4h0M299.16 663.11h0M307.31 650.96h0M305.19 657.65h0M304.74 659.34h0M301.21 658.67h0M296.94 661.02h0M306.72 657.2h0M297.52 662.83h0M301.59 659.08h0M305.16 648.42h0M302.82 656.23h0M298.5 662.08h0M298.82 660.43h0M308.53 658.25h0M295.75 662.57h0M296.69 664.33h0M295.02 664.19h0M302.29 659.29h0M298.09 667.92h0M303.33 660.63h0M297.12 661.71h0M298.53 664.39h0M312.56 656.1h0M295.19 666.72h0M303.09 657.39h0M306.93 651.32h0M296.34 666.18h0M298.45 662.4h0M292.66 664.12h0M305.53 663.34h0M306.79 657.85h0M302.95 664.97h0M298.63 665.75h0M300.33 666.49h0M308.01 657.21h0M298.27 662.62h0M299.77 662.9h0M307.93 654.01h0M295.01 667.69h0M304.83 663.79h0M301.64 661.71h0M308.26 654.63h0M298.16 660.41h0M298.47 661.77h0M306.39 658.92h0M298.44 659.17h0M301.75 659.55h0M298.73 659.5h0M300.33 660.37h0M298.59 660.65h0M300.99 650.63h0M293.67 663.14h0M299.78 660.91h0M300.61 658.46h0M298.42 657.48h0M300.05 653.99h0M307.65 652.12h0M295.46 667.92h0M296.22 668.76h0M307.7 656.37h0M296.02 665.19h0M294.41 663.43h0M301.9 661.84h0M304.88 653.75h0M294.34 666.72h0M307.05 661.01h0M296.15 663.66h0M307.78 657.82h0M299.93 660.67h0M300.59 661.01h0M295.99 666.75h0M298.52 655.29h0M304.15 659.33h0M304.1 658.57h0M306.53 657.18h0M303.3 660.2h0M302.16 655.53h0M300.02 659.98h0M304.73 654.89h0M300.87 660.3h0M309.1 653.68h0M302 656.84h0M307.76 659.06h0M302.25 658.58h0M293.55 665.53h0M300.18 664.38h0M296.95 666.88h0M300.73 653.45h0M300.29 656.76h0M294.26 666.73h0M302.18 657.32h0M293.58 665.6h0M303.27 650.5h0M295.34 662.56h0M299.34 664.45h0M301.62 661.89h0M297.05 663.26h0M308 655.7h0M304.82 655.54h0M295.83 661.89h0M299.52 660.59h0M292.21 665.04h0M294.87 667.69h0M298.66 661.94h0M306.84 655.64h0M299.8 659.36h0M293.89 665.86h0M304.99 658.49h0M293.93 665.87h0M299.23 659.12h0M293.16 662.73h0M299.21 659.7h0M295.42 664.2h0M302.39 659.69h0M298.45 662.94h0M301.81 659.29h0M299.2 662.75h0M309.84 654.49h0M298.94 662.86h0M299.38 658.27h0M311.4 655.43h0M300.96 663.25h0M305.19 661.26h0M296.06 666.37h0M302.26 662.16h0M294.81 663.7h0M300.11 660.41h0M303.85 656.68h0M309.22 656.91h0M296.59 666.1h0M304.8 649.95h0M300.26 658.92h0M299.3 661.66h0M298.84 661.62h0M308.68 651.97h0M307.89 658.11h0M300.68 653.69h0M302.29 665.38h0M296.23 662.46h0M300.18 656.75h0M300.67 664.09h0M299.06 663.26h0M294.05 665.66h0M292.78 665.35h0M302.46 652.57h0M293.63 664h0M295.97 662.98h0M302.99 655.3h0M304.03 656.53h0M299.25 660.34h0M308.22 653.14h0M293.97 666.45h0M293.72 663.87h0M304.32 661.34h0M306.51 652.74h0M304.69 656.81h0M295.65 664.34h0M293.71 666.49h0M296.4 660.01h0M301.01 663.03h0M302.61 655.26h0M294.11 664.07h0M299.64 667.06h0M300.91 657.78h0M306.22 660.46h0M311.94 658.19h0M304.42 662.82h0M296.97 665.26h0M304.59 657.03h0M298.41 666.16h0M299.52 661.39h0M299.4 666h0M309.64 658.97h0M306.08 652h0M298.05 663.21h0M295.31 659.36h0M304.32 661.55h0M303.33 657.69h0M294.75 662.66h0M302.88 662.57h0M311.61 654.48h0M293.38 664.78h0M306.15 654.59h0M309.36 653.53h0M304.03 658.89h0M298.15 664h0M306.06 653.94h0M294.06 665.01h0M299.85 663.02h0M299.51 658.07h0M312.63 656.4h0M298.2 661.27h0M294.16 663.27h0M304.26 662.57h0M296.28 663.82h0M296.57 666.15h0M304.93 656.17h0M293.72 666.49h0M301.19 660.32h0M309.12 654.22h0M295.17 666.7h0M295.25 662.48h0M300.58 659.56h0M296.84 666.19h0M295.07 667.3h0M296.54 662.09h0M307.73 653.71h0M304.12 646.85h0M297.77 665.81h0M296.67 666.02h0M300.93 658.88h0M302.51 651.22h0M296.05 666.62h0M298.5 664.27h0M298.66 663.02h0M302.65 661.26h0M296.26 662.81h0M296.56 662.75h0M298.06 660.31h0M296.66 665.16h0M294.27 666.24h0M299.4 662.29h0M302.16 658.51h0M295.74 663.08h0M295.3 666.92h0M303.54 658.36h0M299.74 662.09h0M304.95 651.69h0M294.95 667.6h0M293.99 666.23h0M300.43 659.26h0M304.56 658.9h0M292.88 665.76h0M304.5 654.15h0M294.27 666.68h0M295.37 666.45h0M295.76 660.99h0M294.55 666.3h0M303.32 662.58h0M307.11 650.65h0M306.3 658.43h0M306.46 658.98h0M299.47 664.46h0M303.27 656.97h0M295.59 662.36h0M304.6 661.76h0M309.8 653.52h0M303.65 659.72h0M299.41 662.51h0M303.36 653.3h0M300.5 664.74h0M294.28 666.29h0M307.25 658.18h0M293.82 666.8h0M307.49 656.46h0M296.96 661.83h0M302.97 649.69h0M297.28 665.01h0M302.08 659.91h0M305.05 654.75h0M298.06 664.44h0M310.01 653.95h0M298.37 657.94h0M297.67 660.08h0M296.8 657.7h0M310.57 655.77h0M302.98 660.55h0M295.82 661.69h0M311.09 654.12h0M306.76 658.67h0M307 653.61h0M301.14 652.31h0M306.21 653.33h0M301.6 657.15h0M297.56 660.43h0M304.86 652.35h0M303.9 654.69h0M300.46 655.44h0M306.24 658.65h0M298.12 659.81h0M305.35 658.01h0M302.45 661.18h0M297.91 656.71h0M300.07 660.41h0M304.54 653.39h0M295.6 665.81h0M298.64 654.24h0M299.09 664.63h0M306.82 655.93h0M311.88 656.54h0M305.08 654.11h0M303.35 658.87h0M305.24 655.15h0M292.28 665.15h0M302.25 660.7h0M300.86 659.01h0M302.63 665.12h0M297.85 664.01h0M293.04 664.28h0M308.37 661.55h0M300.42 658.67h0M301.38 664.42h0M296.82 663.83h0M306.22 649h0M306.31 655.53h0M295.81 667.4h0M297.26 666.78h0M295.2 664.3h0M299.61 662.76h0M305.05 658.21h0M303.01 653.37h0M305.11 654.49h0M307.56 656.25h0M303.23 662.36h0M296.59 667.2h0M305.13 655.94h0M307.68 659.25h0M306.55 657.1h0M302.82 659.52h0M301.3 654.76h0M306.59 657.5h0M308.83 654.98h0M310.9 654.38h0M296.35 667.21h0M294.95 666.53h0M300.3 664.51h0M299.72 655.15h0M304.28 653.66h0M296.85 667h0M301.01 660.05h0M299.63 658.95h0M299.06 664.62h0M303.84 652.37h0M297.51 665.39h0M302.09 658.41h0M311.01 654.29h0M301.01 658.89h0M308.08 659.46h0M295.09 667.69h0M302.36 658.84h0M304.01 656.16h0M307.54 650.37h0M296.93 661.88h0M306.66 653.32h0M295.33 664.37h0M304.99 655.5h0M304.21 664.17h0M299.51 663.23h0M311.14 657.64h0M299.14 665.1h0M306.64 651.13h0M307.08 659.42h0M294.02 664.93h0M303.72 648.62h0M305.05 657.32h0M293.68 666.53h0M305.92 655.26h0M297.37 660.5h0M293.84 666.58h0M302.35 656.89h0M298.65 666.38h0M297 667.38h0M304.16 659.45h0M300.23 662.2h0M309.24 656.3h0M305.5 652.95h0M301.94 654.75h0M295.79 663.94h0M294.45 666.8h0M308.18 651.09h0M304.43 657.43h0M301.98 655.44h0M297.06 665.55h0M310.11 656.69h0M306.69 654.65h0M296.18 665.82h0M294.05 664.32h0M300.72 660.12h0M295.56 663.89h0M299.43 666.62h0M298.7 661.54h0M306.01 658.14h0M296.19 665.15h0M296.24 665.19h0M297.5 661.25h0M302.14 662.22h0M295.97 665.16h0M295.8 665.48h0M301.91 652.88h0M301.03 658.24h0M312.16 657.91h0M303.94 651.35h0M300.41 658.89h0M295.84 660.23h0M295.62 666.89h0M297.6 665.23h0M302.4 659.3h0M303.27 656.87h0M305.62 656.2h0M296.72 662.65h0M293.37 665.66h0M304.49 649.11h0M305.05 657.87h0M294.1 665.59h0M294.55 660.54h0M304.25 661.65h0M295.65 668.15h0M295.77 663.66h0M296.1 666.04h0M299.85 660.74h0M302.87 647.72h0M304 661.61h0M300.39 661.59h0M304.16 657.65h0M293.73 666.13h0M299.96 662.97h0M295.99 667.65h0M305.41 655.31h0M293.44 666.3h0M297.56 661.54h0M305.25 657.25h0M300.08 658.84h0M299.38 657.96h0M300.7 659.44h0M300.2 654.38h0M299.38 659.88h0M305.35 659.41h0M306.73 654.9h0M299.16 660.45h0M295.18 666.6h0M295.31 664.8h0M306.43 655.14h0M294.63 664.86h0M301.81 660.81h0M302.56 660.27h0M300.21 660.96h0M294.61 666.29h0M294.4 665.09h0M308.26 653.64h0M300.82 664.35h0M294.9 666.64h0M299.41 661.46h0M303.04 656.46h0M309.37 657.19h0M299.21 661.06h0M296.16 658.71h0M299.47 661.69h0M293.86 663.87h0M305.78 652.47h0M295.64 663.66h0M297.39 663.21h0M292.45 663.78h0M295.91 662.03h0M296.15 663.4h0M298.34 664.58h0M294.94 666.83h0M300.19 663.57h0M298.72 658.81h0M294.04 666.41h0M304.88 660.95h0M302.99 662.25h0M294.33 667.31h0M299.63 658.2h0M298.91 662.89h0M297.01 666.61h0M294.15 666.86h0M301.72 660.55h0M299.77 663.36h0M302.14 659.3h0M294.15 666.79h0M296.47 660.63h0M299.4 657.12h0M300.02 663.13h0M295.77 664.84h0M301.5 659.67h0M296.87 656.96h0M304.3 650.08h0M292.85 664.72h0M294.89 665.72h0M295.52 663.02h0M298.08 662.46h0M305.43 655.41h0M301.82 663.16h0M300.67 663.99h0M294.24 665.05h0M310.49 655.45h0M298.23 660.3h0M302.5 661.73h0M295.04 663.04h0M302.19 654.08h0M295.95 664.74h0M296.3 665.5h0M300.98 663.5h0M300.65 657.14h0M306.95 657.23h0M294.76 667.71h0M299.45 663.25h0M308.01 654.82h0M298.22 665.75h0M301.62 660.41h0M300.48 655.61h0M306.77 660.9h0M294.4 666.43h0M301.66 657.4h0M296.29 665.13h0M294.98 666.63h0M300.5 659.14h0M302.56 655.64h0M298.03 659.19h0M297.4 661.62h0M294.48 665.59h0M296.69 667.07h0M298.09 662.28h0M298.26 662.03h0M298.48 659.17h0M297.19 662.09h0M295.01 666.76h0M309.24 653.55h0M300.33 662.88h0M297.69 661.86h0M298.29 662.8h0M300.49 660.56h0M309.25 657.37h0M300.19 665.55h0M296.47 663.09h0M294.81 664.62h0M301.82 654.61h0M294.47 664.88h0M302.22 657.44h0M296.57 662.3h0M294.99 667.71h0M304.74 657.19h0M306.07 650.22h0M302.22 658.15h0M298.72 663.98h0M293.61 665.35h0M299.26 663.49h0M294.62 661.94h0M292.85 665.78h0M305.22 652.47h0M303.02 659.12h0M298.67 657.26h0M299.88 664.62h0M304.86 649.83h0M300.8 656.17h0M301.73 660.89h0M301.25 658.59h0M305.71 653.57h0M304.78 653.22h0M301.22 657.85h0M309.28 660.98h0M294.37 666.43h0M292.84 665.21h0M297.45 663.67h0M296.38 659.84h0M301.68 660.08h0M306.78 658.57h0M297.21 663.55h0M294.29 664.87h0M303.75 660.35h0M293.64 665.71h0M295.65 660.65h0M296.96 662.19h0M296.14 665.21h0M294.78 666.19h0M293.9 665.79h0M305.94 658.16h0M298 662.48h0M297.48 667.48h0M305.46 660.01h0M303.86 652.48h0M301.48 663.86h0M297.96 660.68h0M304.42 653.76h0M304 653.04h0M305.98 650.83h0M293.08 665.95h0M301.98 656.7h0" stroke="#c4c4c4" stroke-width="1.7" stroke-linecap="round" fill="none"/>
<line x1="289.3" y1="582.5" x2="289.3" y2="672.8" stroke="#1a1a1a" stroke-width="1.1" />
<line x1="288.8" y1="672.3" x2="374" y2="672.3" stroke="#1a1a1a" stroke-width="1.1" />
<line x1="286" y1="668.5" x2="289.3" y2="668.5" stroke="#1a1a1a" stroke-width="1.3" />
<text x="283" y="670.8" font-size="6.4" fill="#333" text-anchor="end" stroke="#333" stroke-width="0.22" >0.0</text>
<line x1="286" y1="642.5" x2="289.3" y2="642.5" stroke="#1a1a1a" stroke-width="1.3" />
<text x="283" y="644.8" font-size="6.4" fill="#333" text-anchor="end" stroke="#333" stroke-width="0.22" >0.1</text>
<line x1="286" y1="616.5" x2="289.3" y2="616.5" stroke="#1a1a1a" stroke-width="1.3" />
<text x="283" y="618.8" font-size="6.4" fill="#333" text-anchor="end" stroke="#333" stroke-width="0.22" >0.2</text>
<line x1="286" y1="590.5" x2="289.3" y2="590.5" stroke="#1a1a1a" stroke-width="1.3" />
<text x="283" y="592.8" font-size="6.4" fill="#333" text-anchor="end" stroke="#333" stroke-width="0.22" >0.3</text>
<line x1="293" y1="672.3" x2="293" y2="675.3" stroke="#1a1a1a" stroke-width="1.3" />
<text x="293" y="684.3" font-size="6.4" fill="#333" text-anchor="middle" stroke="#333" stroke-width="0.22" >0.0</text>
<line x1="314.8" y1="672.3" x2="314.8" y2="675.3" stroke="#1a1a1a" stroke-width="1.3" />
<text x="314.8" y="684.3" font-size="6.4" fill="#333" text-anchor="middle" stroke="#333" stroke-width="0.22" >0.1</text>
<line x1="336.6" y1="672.3" x2="336.6" y2="675.3" stroke="#1a1a1a" stroke-width="1.3" />
<text x="336.6" y="684.3" font-size="6.4" fill="#333" text-anchor="middle" stroke="#333" stroke-width="0.22" >0.2</text>
<line x1="358.4" y1="672.3" x2="358.4" y2="675.3" stroke="#1a1a1a" stroke-width="1.3" />
<text x="358.4" y="684.3" font-size="6.4" fill="#333" text-anchor="middle" stroke="#333" stroke-width="0.22" >0.3</text>
<text x="334.8" y="696.85" font-size="9.3" fill="#333" text-anchor="middle" font-weight="bold" textLength="55" lengthAdjust="spacingAndGlyphs" stroke="#333" stroke-width="0.05" >Promoted (usage %)</text>
<text transform="translate(267.86,628.6) rotate(-90)" font-size="9" font-weight="bold" fill="#333" stroke="#333" stroke-width="0.05" text-anchor="middle" textLength="48.6" lengthAdjust="spacingAndGlyphs">Repressed (usage %)</text>
<line x1="303.33" y1="659.96" x2="310.2" y2="628.3" stroke="#1a1a1a" stroke-width="0.85" />
<line x1="303.71" y1="660.93" x2="299.4" y2="632.4" stroke="#1a1a1a" stroke-width="0.85" />
<line x1="306.06" y1="662.46" x2="292.7" y2="639.1" stroke="#1a1a1a" stroke-width="0.85" />
<line x1="304.88" y1="662.49" x2="323.7" y2="635.3" stroke="#1a1a1a" stroke-width="0.85" />
<line x1="305.53" y1="661.5" x2="311.5" y2="642.5" stroke="#1a1a1a" stroke-width="0.85" />
<line x1="305.04" y1="659.65" x2="321.5" y2="639.8" stroke="#1a1a1a" stroke-width="0.85" />
<line x1="302.79" y1="659.01" x2="334.5" y2="639.8" stroke="#1a1a1a" stroke-width="0.85" />
<line x1="305.55" y1="660.09" x2="290.7" y2="645.2" stroke="#1a1a1a" stroke-width="0.85" />
<line x1="303.62" y1="661.37" x2="329.7" y2="646.5" stroke="#1a1a1a" stroke-width="0.85" />
<line x1="303.25" y1="662.26" x2="335" y2="650.5" stroke="#1a1a1a" stroke-width="0.85" />
<line x1="305.38" y1="662.2" x2="328.4" y2="654.6" stroke="#1a1a1a" stroke-width="0.85" />
<line x1="304.71" y1="660.86" x2="294" y2="656.6" stroke="#1a1a1a" stroke-width="0.85" />
<line x1="302.58" y1="659.31" x2="318.3" y2="656.6" stroke="#1a1a1a" stroke-width="0.85" />
<line x1="303.38" y1="661.93" x2="329.1" y2="662" stroke="#1a1a1a" stroke-width="0.85" />
<line x1="304.21" y1="659.69" x2="313" y2="663.4" stroke="#1a1a1a" stroke-width="0.85" />
<line x1="304.94" y1="662.07" x2="330.5" y2="667" stroke="#1a1a1a" stroke-width="0.85" />
<line x1="306.1" y1="660.37" x2="301" y2="669.4" stroke="#1a1a1a" stroke-width="0.85" />
<line x1="306.3" y1="660.74" x2="317" y2="669.4" stroke="#1a1a1a" stroke-width="0.85" />
<line x1="310.2" y1="628.5" x2="310.2" y2="640" stroke="#1a1a1a" stroke-width="0.9" />
<line x1="303" y1="633" x2="305" y2="650" stroke="#1a1a1a" stroke-width="0.9" />
<line x1="296" y1="640" x2="300" y2="652" stroke="#1a1a1a" stroke-width="0.9" />
<line x1="292" y1="645" x2="298" y2="655" stroke="#1a1a1a" stroke-width="0.9" />
<line x1="321" y1="636" x2="312" y2="650" stroke="#1a1a1a" stroke-width="0.9" />
<line x1="316" y1="643" x2="309" y2="653" stroke="#1a1a1a" stroke-width="0.9" />
<circle cx="304.5" cy="660.5" r="1.2" fill="#c0202a"/>
<circle cx="306.5" cy="658.5" r="1.2" fill="#c0202a"/>
<circle cx="302" cy="662.5" r="1.2" fill="#c0202a"/>
<circle cx="308.5" cy="656.5" r="1.2" fill="#c0202a"/>
<circle cx="300" cy="664.5" r="1.2" fill="#c0202a"/>
<circle cx="310" cy="657" r="1.2" fill="#c0202a"/>
<circle cx="303" cy="659" r="1.2" fill="#c0202a"/>
<circle cx="306" cy="662" r="1.2" fill="#c0202a"/>
<circle cx="299" cy="662" r="1.2" fill="#c0202a"/>
<circle cx="320" cy="613.5" r="1.2" fill="#333"/>
<text x="319.2" y="612.41" font-size="4.2" fill="#1a1a1a" text-anchor="middle" stroke="#1a1a1a" stroke-width="0.25" >GGTG</text>
<text x="310.2" y="627.81" font-size="4.2" fill="#1a1a1a" text-anchor="middle" stroke="#1a1a1a" stroke-width="0.25" >TGGAG</text>
<text x="299.4" y="631.91" font-size="4.2" fill="#1a1a1a" text-anchor="middle" stroke="#1a1a1a" stroke-width="0.25" >TGGTG</text>
<text x="292.7" y="638.61" font-size="4.2" fill="#1a1a1a" text-anchor="middle" stroke="#1a1a1a" stroke-width="0.25" >AGGTG</text>
<text x="323.7" y="634.81" font-size="4.2" fill="#1a1a1a" text-anchor="middle" stroke="#1a1a1a" stroke-width="0.25" >TGGCT</text>
<text x="311.5" y="642.01" font-size="4.2" fill="#1a1a1a" text-anchor="middle" stroke="#1a1a1a" stroke-width="0.25" >GCACT</text>
<text x="321.5" y="639.31" font-size="4.2" fill="#1a1a1a" text-anchor="middle" stroke="#1a1a1a" stroke-width="0.25" >GCCCG</text>
<text x="334.5" y="639.31" font-size="4.2" fill="#1a1a1a" text-anchor="middle" stroke="#1a1a1a" stroke-width="0.25" >CCCAG</text>
<text x="290.7" y="644.71" font-size="4.2" fill="#1a1a1a" text-anchor="middle" stroke="#1a1a1a" stroke-width="0.25" >CGGA</text>
<text x="329.7" y="646.01" font-size="4.2" fill="#1a1a1a" text-anchor="middle" stroke="#1a1a1a" stroke-width="0.25" >CCAG</text>
<text x="335" y="650.01" font-size="4.2" fill="#1a1a1a" text-anchor="middle" stroke="#1a1a1a" stroke-width="0.25" >CCCTG</text>
<text x="328.4" y="654.11" font-size="4.2" fill="#1a1a1a" text-anchor="middle" stroke="#1a1a1a" stroke-width="0.25" >ACCTG</text>
<text x="294" y="658.11" font-size="4.2" fill="#1a1a1a" text-anchor="middle" stroke="#1a1a1a" stroke-width="0.25" >GGTG</text>
<text x="324.3" y="658.11" font-size="4.2" fill="#1a1a1a" text-anchor="middle" stroke="#1a1a1a" stroke-width="0.25" >TTGGC</text>
<text x="335.1" y="663.51" font-size="4.2" fill="#1a1a1a" text-anchor="middle" stroke="#1a1a1a" stroke-width="0.25" >CCTGT</text>
<text x="319" y="664.91" font-size="4.2" fill="#1a1a1a" text-anchor="middle" stroke="#1a1a1a" stroke-width="0.25" >GGCA</text>
<text x="336.5" y="668.51" font-size="4.2" fill="#1a1a1a" text-anchor="middle" stroke="#1a1a1a" stroke-width="0.25" >CGCCTG</text>
<text x="307" y="670.91" font-size="4.2" fill="#1a1a1a" text-anchor="middle" stroke="#1a1a1a" stroke-width="0.25" >ACCGAT</text>
<text x="323" y="670.91" font-size="4.2" fill="#1a1a1a" text-anchor="middle" stroke="#1a1a1a" stroke-width="0.25" >ACCCCT</text>
<text x="403.5" y="298.5" font-size="11.5" font-weight="bold" fill="#000">H</text>
<text x="454.5" y="303.44" font-size="9" fill="#5aaa5a" stroke="#5aaa5a" stroke-width="0.22"><tspan textLength="19.5" lengthAdjust="spacingAndGlyphs">Srsf2</tspan><tspan font-size="6.8" dy="-3.9" stroke-width="0" textLength="24" lengthAdjust="spacingAndGlyphs">P95H/+</tspan></text>
<line x1="453.5" y1="344" x2="453.5" y2="358.75" stroke="#333" stroke-width="1.1" stroke-dasharray="2.3 1.7"/>
<line x1="453.5" y1="368" x2="453.5" y2="381.25" stroke="#333" stroke-width="1.1" stroke-dasharray="2.3 1.7"/>
<line x1="445.4" y1="344" x2="461.6" y2="344" stroke="#111" stroke-width="1.3" />
<line x1="445.4" y1="381.25" x2="461.6" y2="381.25" stroke="#111" stroke-width="1.3" />
<rect x="438.25" y="358.75" width="30.5" height="9.25" fill="#145096" stroke="#0a2148" stroke-width="0.7"/>
<line x1="438.25" y1="363" x2="468.75" y2="363" stroke="#0a2148" stroke-width="1.5" />
<circle cx="453.5" cy="321.25" r="2.05" fill="none" stroke="#111" stroke-width="0.95"/>
<circle cx="453.5" cy="326.25" r="2.05" fill="none" stroke="#111" stroke-width="0.95"/>
<circle cx="453.5" cy="331.25" r="2.05" fill="none" stroke="#111" stroke-width="0.95"/>
<circle cx="453.5" cy="383.25" r="2.05" fill="none" stroke="#111" stroke-width="0.95"/>
<circle cx="453.5" cy="385.75" r="2.05" fill="none" stroke="#111" stroke-width="0.95"/>
<circle cx="453.5" cy="388" r="2.05" fill="none" stroke="#111" stroke-width="0.95"/>
<line x1="492.1" y1="332.5" x2="492.1" y2="346.5" stroke="#333" stroke-width="1.1" stroke-dasharray="2.3 1.7"/>
<line x1="492.1" y1="355.5" x2="492.1" y2="369.5" stroke="#333" stroke-width="1.1" stroke-dasharray="2.3 1.7"/>
<line x1="484.3" y1="332.5" x2="499.9" y2="332.5" stroke="#111" stroke-width="1.3" />
<line x1="484.3" y1="369.5" x2="499.9" y2="369.5" stroke="#111" stroke-width="1.3" />
<rect x="476.7" y="346.5" width="30.8" height="9" fill="#d2142d" stroke="#7a0014" stroke-width="0.7"/>
<line x1="476.7" y1="350.6" x2="507.5" y2="350.6" stroke="#7a0014" stroke-width="1.5" />
<circle cx="492.1" cy="327" r="2.05" fill="none" stroke="#111" stroke-width="0.95"/>
<circle cx="492.1" cy="330" r="2.05" fill="none" stroke="#111" stroke-width="0.95"/>
<circle cx="492.1" cy="370.75" r="2.05" fill="none" stroke="#111" stroke-width="0.95"/>
<circle cx="492.1" cy="373.75" r="2.05" fill="none" stroke="#111" stroke-width="0.95"/>
<circle cx="492.1" cy="377" r="2.05" fill="none" stroke="#111" stroke-width="0.95"/>
<circle cx="492.1" cy="380" r="2.05" fill="none" stroke="#111" stroke-width="0.95"/>
<line x1="430.7" y1="305.5" x2="430.7" y2="396.75" stroke="#1a1a1a" stroke-width="1.1" />
<line x1="430.2" y1="396.25" x2="514.5" y2="396.25" stroke="#1a1a1a" stroke-width="1.1" />
<line x1="427.4" y1="377.8" x2="430.7" y2="377.8" stroke="#1a1a1a" stroke-width="1.3" />
<text x="424.4" y="380.1" font-size="6.4" fill="#333" text-anchor="end" stroke="#333" stroke-width="0.22" >−2</text>
<line x1="427.4" y1="358.2" x2="430.7" y2="358.2" stroke="#1a1a1a" stroke-width="1.3" />
<text x="424.4" y="360.5" font-size="6.4" fill="#333" text-anchor="end" stroke="#333" stroke-width="0.22" >0</text>
<line x1="427.4" y1="338.6" x2="430.7" y2="338.6" stroke="#1a1a1a" stroke-width="1.3" />
<text x="424.4" y="340.9" font-size="6.4" fill="#333" text-anchor="end" stroke="#333" stroke-width="0.22" >2</text>
<line x1="427.4" y1="319" x2="430.7" y2="319" stroke="#1a1a1a" stroke-width="1.3" />
<text x="424.4" y="321.3" font-size="6.4" fill="#333" text-anchor="end" stroke="#333" stroke-width="0.22" >4</text>
<line x1="453.5" y1="396.25" x2="453.5" y2="399.25" stroke="#1a1a1a" stroke-width="1.3" />
<text x="453.5" y="408.13" font-size="6.6" fill="#333" text-anchor="middle" stroke="#333" stroke-width="0.22" >GGNG</text>
<line x1="492.1" y1="396.25" x2="492.1" y2="399.25" stroke="#1a1a1a" stroke-width="1.3" />
<text x="492.1" y="408.13" font-size="6.6" fill="#333" text-anchor="middle" stroke="#333" stroke-width="0.22" >CCNG</text>
<text x="476.25" y="420.49" font-size="8.3" fill="#333" text-anchor="middle" font-weight="bold" textLength="19" lengthAdjust="spacingAndGlyphs" stroke="#333" stroke-width="0.05" >k-mers</text>
<text transform="translate(409.66,347.9) rotate(-90)" font-size="8.6" font-weight="bold" fill="#333" stroke="#333" stroke-width="0.05" text-anchor="middle" textLength="74" lengthAdjust="spacingAndGlyphs">log<tspan font-size="5" dy="1.6">2</tspan><tspan dy="-1.6"> (promoted / repressed)</tspan></text>
<text x="458" y="441.24" font-size="9" fill="#2d4f78" stroke="#2d4f78" stroke-width="0.22"><tspan textLength="38.25" lengthAdjust="spacingAndGlyphs">Runx1 KO</tspan><tspan font-size="6" dy="-3.9" stroke-width="0"></tspan></text>
<line x1="454.25" y1="485.5" x2="454.25" y2="494" stroke="#333" stroke-width="1.1" stroke-dasharray="2.3 1.7"/>
<line x1="454.25" y1="500.75" x2="454.25" y2="506.25" stroke="#333" stroke-width="1.1" stroke-dasharray="2.3 1.7"/>
<line x1="446.5" y1="485.5" x2="462" y2="485.5" stroke="#111" stroke-width="1.3" />
<line x1="446.5" y1="506.25" x2="462" y2="506.25" stroke="#111" stroke-width="1.3" />
<rect x="439" y="494" width="30.5" height="6.75" fill="#145096" stroke="#0a2148" stroke-width="0.7"/>
<line x1="439" y1="498" x2="469.5" y2="498" stroke="#0a2148" stroke-width="1.5" />
<circle cx="454.25" cy="474.5" r="2.05" fill="none" stroke="#111" stroke-width="0.95"/>
<circle cx="454.25" cy="482.5" r="2.05" fill="none" stroke="#111" stroke-width="0.95"/>
<circle cx="454.25" cy="508.75" r="2.05" fill="none" stroke="#111" stroke-width="0.95"/>
<circle cx="454.25" cy="511.25" r="2.05" fill="none" stroke="#111" stroke-width="0.95"/>
<circle cx="454.25" cy="516.25" r="2.05" fill="none" stroke="#111" stroke-width="0.95"/>
<circle cx="454.25" cy="520.5" r="2.05" fill="none" stroke="#111" stroke-width="0.95"/>
<line x1="493.1" y1="487.5" x2="493.1" y2="495.5" stroke="#333" stroke-width="1.1" stroke-dasharray="2.3 1.7"/>
<line x1="493.1" y1="500.75" x2="493.1" y2="509.5" stroke="#333" stroke-width="1.1" stroke-dasharray="2.3 1.7"/>
<line x1="485" y1="487.5" x2="501.2" y2="487.5" stroke="#111" stroke-width="1.3" />
<line x1="485" y1="509.5" x2="501.2" y2="509.5" stroke="#111" stroke-width="1.3" />
<rect x="477.5" y="495.5" width="31.2" height="5.25" fill="#d2142d" stroke="#7a0014" stroke-width="0.7"/>
<line x1="477.5" y1="498.75" x2="508.7" y2="498.75" stroke="#7a0014" stroke-width="1.5" />
<circle cx="493.1" cy="469.25" r="2.05" fill="none" stroke="#111" stroke-width="0.95"/>
<circle cx="493.1" cy="474.25" r="2.05" fill="none" stroke="#111" stroke-width="0.95"/>
<circle cx="493.1" cy="476.75" r="2.05" fill="none" stroke="#111" stroke-width="0.95"/>
<circle cx="493.1" cy="478.75" r="2.05" fill="none" stroke="#111" stroke-width="0.95"/>
<circle cx="493.1" cy="483.75" r="2.05" fill="none" stroke="#111" stroke-width="0.95"/>
<circle cx="493.1" cy="510.75" r="2.05" fill="none" stroke="#111" stroke-width="0.95"/>
<circle cx="493.1" cy="512" r="2.05" fill="none" stroke="#111" stroke-width="0.95"/>
<line x1="431.25" y1="446.25" x2="431.25" y2="538" stroke="#1a1a1a" stroke-width="1.1" />
<line x1="430.75" y1="537.5" x2="520" y2="537.5" stroke="#1a1a1a" stroke-width="1.1" />
<line x1="427.95" y1="519.25" x2="431.25" y2="519.25" stroke="#1a1a1a" stroke-width="1.3" />
<text x="424.95" y="521.55" font-size="6.4" fill="#333" text-anchor="end" stroke="#333" stroke-width="0.22" >−2</text>
<line x1="427.95" y1="499.25" x2="431.25" y2="499.25" stroke="#1a1a1a" stroke-width="1.3" />
<text x="424.95" y="501.55" font-size="6.4" fill="#333" text-anchor="end" stroke="#333" stroke-width="0.22" >0</text>
<line x1="427.95" y1="479.25" x2="431.25" y2="479.25" stroke="#1a1a1a" stroke-width="1.3" />
<text x="424.95" y="481.55" font-size="6.4" fill="#333" text-anchor="end" stroke="#333" stroke-width="0.22" >2</text>
<line x1="427.95" y1="459.25" x2="431.25" y2="459.25" stroke="#1a1a1a" stroke-width="1.3" />
<text x="424.95" y="461.55" font-size="6.4" fill="#333" text-anchor="end" stroke="#333" stroke-width="0.22" >4</text>
<line x1="454.25" y1="537.5" x2="454.25" y2="540.5" stroke="#1a1a1a" stroke-width="1.3" />
<text x="454.25" y="550.38" font-size="6.6" fill="#333" text-anchor="middle" stroke="#333" stroke-width="0.22" >GGNG</text>
<line x1="493.1" y1="537.5" x2="493.1" y2="540.5" stroke="#1a1a1a" stroke-width="1.3" />
<text x="493.1" y="550.38" font-size="6.6" fill="#333" text-anchor="middle" stroke="#333" stroke-width="0.22" >CCNG</text>
<text x="476.9" y="561.74" font-size="8.3" fill="#333" text-anchor="middle" font-weight="bold" textLength="19" lengthAdjust="spacingAndGlyphs" stroke="#333" stroke-width="0.05" >k-mers</text>
<text transform="translate(412.26,489.2) rotate(-90)" font-size="8.6" font-weight="bold" fill="#333" stroke="#333" stroke-width="0.05" text-anchor="middle" textLength="74" lengthAdjust="spacingAndGlyphs">log<tspan font-size="5" dy="1.6">2</tspan><tspan dy="-1.6"> (promoted / repressed)</tspan></text>
<text x="468" y="575.5" font-size="9" fill="#be2d50" textLength="25.75" lengthAdjust="spacingAndGlyphs" stroke="#be2d50" stroke-width="0.22" >Double</text>
<line x1="458.2" y1="623" x2="458.2" y2="633.2" stroke="#333" stroke-width="1.1" stroke-dasharray="2.3 1.7"/>
<line x1="458.2" y1="640.1" x2="458.2" y2="651.4" stroke="#333" stroke-width="1.1" stroke-dasharray="2.3 1.7"/>
<line x1="450.6" y1="623" x2="465.8" y2="623" stroke="#111" stroke-width="1.3" />
<line x1="450.6" y1="651.4" x2="465.8" y2="651.4" stroke="#111" stroke-width="1.3" />
<rect x="442.9" y="633.2" width="30.6" height="6.9" fill="#145096" stroke="#0a2148" stroke-width="0.7"/>
<line x1="442.9" y1="636.7" x2="473.5" y2="636.7" stroke="#0a2148" stroke-width="1.5" />
<circle cx="458.2" cy="652.8" r="2.05" fill="none" stroke="#111" stroke-width="0.95"/>
<circle cx="458.2" cy="655" r="2.05" fill="none" stroke="#111" stroke-width="0.95"/>
<circle cx="458.2" cy="657.4" r="2.05" fill="none" stroke="#111" stroke-width="0.95"/>
<line x1="497.3" y1="618.2" x2="497.3" y2="624.6" stroke="#333" stroke-width="1.1" stroke-dasharray="2.3 1.7"/>
<line x1="497.3" y1="629" x2="497.3" y2="634.6" stroke="#333" stroke-width="1.1" stroke-dasharray="2.3 1.7"/>
<line x1="489.8" y1="618.2" x2="504.8" y2="618.2" stroke="#111" stroke-width="1.3" />
<line x1="489.8" y1="634.6" x2="504.8" y2="634.6" stroke="#111" stroke-width="1.3" />
<rect x="481.9" y="624.6" width="30.8" height="4.4" fill="#d2142d" stroke="#7a0014" stroke-width="0.7"/>
<line x1="481.9" y1="626.8" x2="512.7" y2="626.8" stroke="#7a0014" stroke-width="1.5" />
<circle cx="497.3" cy="613" r="2.05" fill="none" stroke="#111" stroke-width="0.95"/>
<circle cx="497.3" cy="615.6" r="2.05" fill="none" stroke="#111" stroke-width="0.95"/>
<circle cx="497.3" cy="636.3" r="2.05" fill="none" stroke="#111" stroke-width="0.95"/>
<circle cx="497.3" cy="638.4" r="2.05" fill="none" stroke="#111" stroke-width="0.95"/>
<circle cx="497.3" cy="640.7" r="2.05" fill="none" stroke="#111" stroke-width="0.95"/>
<circle cx="497.3" cy="644.1" r="2.05" fill="none" stroke="#111" stroke-width="0.95"/>
<line x1="436" y1="581.25" x2="436" y2="671.75" stroke="#1a1a1a" stroke-width="1.1" />
<line x1="435.5" y1="671.25" x2="520" y2="671.25" stroke="#1a1a1a" stroke-width="1.1" />
<line x1="432.7" y1="652.6" x2="436" y2="652.6" stroke="#1a1a1a" stroke-width="1.3" />
<text x="429.7" y="654.9" font-size="6.4" fill="#333" text-anchor="end" stroke="#333" stroke-width="0.22" >−2</text>
<line x1="432.7" y1="632.2" x2="436" y2="632.2" stroke="#1a1a1a" stroke-width="1.3" />
<text x="429.7" y="634.5" font-size="6.4" fill="#333" text-anchor="end" stroke="#333" stroke-width="0.22" >0</text>
<line x1="432.7" y1="611.8" x2="436" y2="611.8" stroke="#1a1a1a" stroke-width="1.3" />
<text x="429.7" y="614.1" font-size="6.4" fill="#333" text-anchor="end" stroke="#333" stroke-width="0.22" >2</text>
<line x1="432.7" y1="591.4" x2="436" y2="591.4" stroke="#1a1a1a" stroke-width="1.3" />
<text x="429.7" y="593.7" font-size="6.4" fill="#333" text-anchor="end" stroke="#333" stroke-width="0.22" >4</text>
<line x1="458.2" y1="671.25" x2="458.2" y2="674.25" stroke="#1a1a1a" stroke-width="1.3" />
<text x="458.2" y="684.38" font-size="6.6" fill="#333" text-anchor="middle" stroke="#333" stroke-width="0.22" >GGNG</text>
<line x1="497.3" y1="671.25" x2="497.3" y2="674.25" stroke="#1a1a1a" stroke-width="1.3" />
<text x="497.3" y="684.38" font-size="6.6" fill="#333" text-anchor="middle" stroke="#333" stroke-width="0.22" >CCNG</text>
<text x="478.1" y="695.99" font-size="8.3" fill="#333" text-anchor="middle" font-weight="bold" textLength="19" lengthAdjust="spacingAndGlyphs" stroke="#333" stroke-width="0.05" >k-mers</text>
<text transform="translate(414.56,623.3) rotate(-90)" font-size="8.6" font-weight="bold" fill="#333" stroke="#333" stroke-width="0.05" text-anchor="middle" textLength="72" lengthAdjust="spacingAndGlyphs">log<tspan font-size="5" dy="1.6">2</tspan><tspan dy="-1.6"> (promoted / repressed)</tspan></text>
</svg>
</body></html>
